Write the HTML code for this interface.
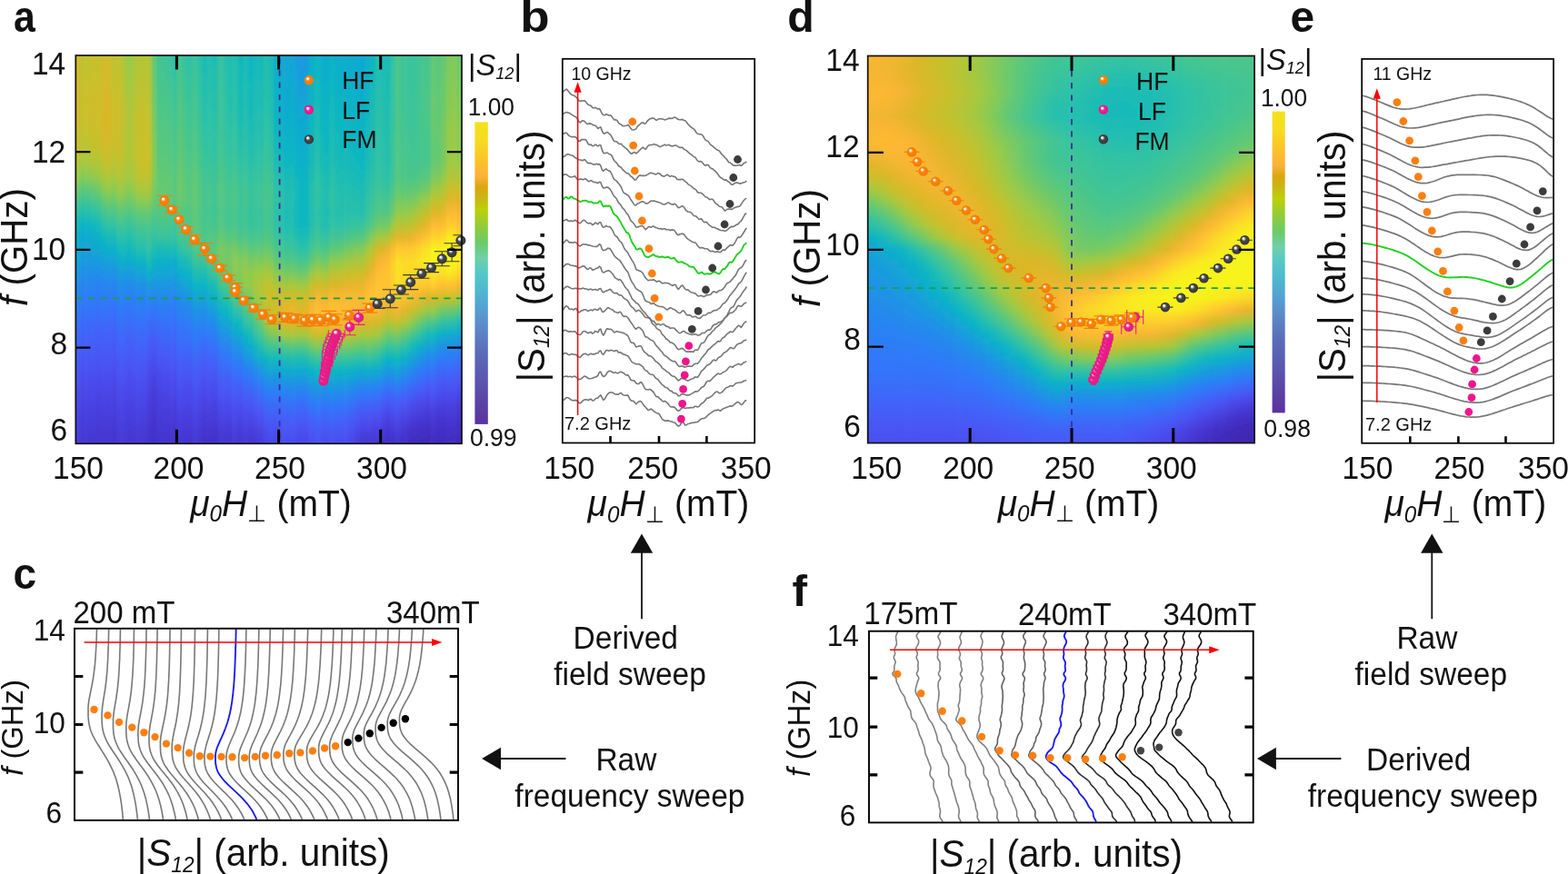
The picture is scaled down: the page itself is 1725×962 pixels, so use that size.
<!DOCTYPE html><html><head><meta charset="utf-8"><title>Figure</title><style>html,body{margin:0;padding:0;background:#fff}svg{display:block}text{font-family:"Liberation Sans",Arial,Helvetica,sans-serif;fill:#111}</style></head><body><svg width="1725" height="962" viewBox="0 0 1725 962"><rect width="1725" height="962" fill="#fff"/><defs><radialGradient id="go" cx="0.5" cy="0.5" r="0.5" fx="0.33" fy="0.3"><stop offset="0" stop-color="#ffffff"/><stop offset="0.2" stop-color="#fff0e0"/><stop offset="0.42" stop-color="#f88410"/><stop offset="1" stop-color="#f57a00"/></radialGradient><radialGradient id="gm" cx="0.5" cy="0.5" r="0.5" fx="0.33" fy="0.3"><stop offset="0" stop-color="#ffffff"/><stop offset="0.22" stop-color="#ffd8ec"/><stop offset="0.45" stop-color="#ee2290"/><stop offset="1" stop-color="#e2187f"/></radialGradient><radialGradient id="gk" cx="0.5" cy="0.5" r="0.5" fx="0.33" fy="0.3"><stop offset="0" stop-color="#ffffff"/><stop offset="0.22" stop-color="#d8d8d8"/><stop offset="0.45" stop-color="#4a4a4a"/><stop offset="1" stop-color="#333333"/></radialGradient><linearGradient id="cbar" x1="0" y1="0" x2="0" y2="1"><stop offset="0" stop-color="#f3e11c"/><stop offset="0.06" stop-color="#f6dc1f"/><stop offset="0.14" stop-color="#fdbe2a"/><stop offset="0.18" stop-color="#fbb13a"/><stop offset="0.215" stop-color="#dba60f"/><stop offset="0.25" stop-color="#c9b515"/><stop offset="0.29" stop-color="#bcd007"/><stop offset="0.35" stop-color="#8ecb3f"/><stop offset="0.4" stop-color="#6acb6a"/><stop offset="0.45" stop-color="#70d0a8"/><stop offset="0.5" stop-color="#55c8c8"/><stop offset="0.56" stop-color="#4fb6d0"/><stop offset="0.62" stop-color="#55a0d0"/><stop offset="0.68" stop-color="#5c88c8"/><stop offset="0.76" stop-color="#5a6cb8"/><stop offset="0.84" stop-color="#5a5ab0"/><stop offset="0.92" stop-color="#5b45a5"/><stop offset="1" stop-color="#5a32a0"/></linearGradient></defs>
<g id="panel-a"><defs><linearGradient id="ha0" x1="0" y1="0" x2="0" y2="1"><stop offset=".000" stop-color="#d0bc29"/><stop offset=".031" stop-color="#d1bc29"/><stop offset=".062" stop-color="#d2bb29"/><stop offset=".094" stop-color="#d4ba29"/><stop offset=".125" stop-color="#d5b929"/><stop offset=".156" stop-color="#d5ba29"/><stop offset=".188" stop-color="#d2bb29"/><stop offset=".219" stop-color="#cdbe2a"/><stop offset=".250" stop-color="#c4c12d"/><stop offset=".281" stop-color="#b2c538"/><stop offset=".312" stop-color="#98ca49"/><stop offset=".344" stop-color="#6ec96b"/><stop offset=".375" stop-color="#4ac68b"/><stop offset=".406" stop-color="#2cc1a8"/><stop offset=".438" stop-color="#13b8bd"/><stop offset=".469" stop-color="#0eb0c9"/><stop offset=".500" stop-color="#10abcf"/><stop offset=".531" stop-color="#15a2d8"/><stop offset=".562" stop-color="#1c97e2"/><stop offset=".594" stop-color="#238ceb"/><stop offset=".625" stop-color="#2883f1"/><stop offset=".656" stop-color="#2e7bf8"/><stop offset=".688" stop-color="#3473fa"/><stop offset=".719" stop-color="#3b6bf9"/><stop offset=".750" stop-color="#4164f8"/><stop offset=".781" stop-color="#445ef6"/><stop offset=".812" stop-color="#4758f4"/><stop offset=".844" stop-color="#4a52f2"/><stop offset=".875" stop-color="#494cec"/><stop offset=".906" stop-color="#4948e8"/><stop offset=".938" stop-color="#4843e3"/><stop offset=".969" stop-color="#483fde"/><stop offset="1.000" stop-color="#473cda"/></linearGradient><linearGradient id="ha1" x1="0" y1="0" x2="0" y2="1"><stop offset=".000" stop-color="#bdc331"/><stop offset=".031" stop-color="#bfc230"/><stop offset=".062" stop-color="#c1c22f"/><stop offset=".094" stop-color="#c4c12d"/><stop offset=".125" stop-color="#c6c12c"/><stop offset=".156" stop-color="#c6c12c"/><stop offset=".188" stop-color="#c2c22e"/><stop offset=".219" stop-color="#bcc332"/><stop offset=".250" stop-color="#b3c537"/><stop offset=".281" stop-color="#a1c942"/><stop offset=".312" stop-color="#84ca59"/><stop offset=".344" stop-color="#5dc879"/><stop offset=".375" stop-color="#3dc498"/><stop offset=".406" stop-color="#20bdb2"/><stop offset=".438" stop-color="#0db3c5"/><stop offset=".469" stop-color="#10aad0"/><stop offset=".500" stop-color="#15a2d7"/><stop offset=".531" stop-color="#1b98e0"/><stop offset=".562" stop-color="#228dea"/><stop offset=".594" stop-color="#2883f1"/><stop offset=".625" stop-color="#2e7bf8"/><stop offset=".656" stop-color="#3572f9"/><stop offset=".688" stop-color="#3b6af9"/><stop offset=".719" stop-color="#4263f8"/><stop offset=".750" stop-color="#455df6"/><stop offset=".781" stop-color="#4757f4"/><stop offset=".812" stop-color="#4a51f1"/><stop offset=".844" stop-color="#494beb"/><stop offset=".875" stop-color="#4946e6"/><stop offset=".906" stop-color="#4841e1"/><stop offset=".938" stop-color="#473ddc"/><stop offset=".969" stop-color="#463ad7"/><stop offset="1.000" stop-color="#4537d3"/></linearGradient><linearGradient id="ha2" x1="0" y1="0" x2="0" y2="1"><stop offset=".000" stop-color="#c1c22f"/><stop offset=".031" stop-color="#c3c12d"/><stop offset=".062" stop-color="#c6c12c"/><stop offset=".094" stop-color="#c8c02b"/><stop offset=".125" stop-color="#cabf2a"/><stop offset=".156" stop-color="#cabf2a"/><stop offset=".188" stop-color="#c6c12c"/><stop offset=".219" stop-color="#c0c22f"/><stop offset=".250" stop-color="#b7c435"/><stop offset=".281" stop-color="#a6c83f"/><stop offset=".312" stop-color="#8aca54"/><stop offset=".344" stop-color="#60c976"/><stop offset=".375" stop-color="#41c494"/><stop offset=".406" stop-color="#24beaf"/><stop offset=".438" stop-color="#0cb5c3"/><stop offset=".469" stop-color="#10abce"/><stop offset=".500" stop-color="#14a3d6"/><stop offset=".531" stop-color="#1b99e0"/><stop offset=".562" stop-color="#228dea"/><stop offset=".594" stop-color="#2884f1"/><stop offset=".625" stop-color="#2e7bf8"/><stop offset=".656" stop-color="#3473fa"/><stop offset=".688" stop-color="#3b6af9"/><stop offset=".719" stop-color="#4163f8"/><stop offset=".750" stop-color="#455df6"/><stop offset=".781" stop-color="#4757f4"/><stop offset=".812" stop-color="#4a52f2"/><stop offset=".844" stop-color="#494beb"/><stop offset=".875" stop-color="#4946e6"/><stop offset=".906" stop-color="#4841e1"/><stop offset=".938" stop-color="#473edc"/><stop offset=".969" stop-color="#463ad7"/><stop offset="1.000" stop-color="#4537d3"/></linearGradient><linearGradient id="ha3" x1="0" y1="0" x2="0" y2="1"><stop offset=".000" stop-color="#c8c02a"/><stop offset=".031" stop-color="#cabf2a"/><stop offset=".062" stop-color="#ccbf2a"/><stop offset=".094" stop-color="#cebe2a"/><stop offset=".125" stop-color="#cfbd29"/><stop offset=".156" stop-color="#d0bc29"/><stop offset=".188" stop-color="#cdbe2a"/><stop offset=".219" stop-color="#c8c02b"/><stop offset=".250" stop-color="#bfc230"/><stop offset=".281" stop-color="#adc63b"/><stop offset=".312" stop-color="#94ca4c"/><stop offset=".344" stop-color="#6ac96d"/><stop offset=".375" stop-color="#49c68d"/><stop offset=".406" stop-color="#2bc1a9"/><stop offset=".438" stop-color="#11b8be"/><stop offset=".469" stop-color="#0faecb"/><stop offset=".500" stop-color="#12a7d3"/><stop offset=".531" stop-color="#199bde"/><stop offset=".562" stop-color="#218fe9"/><stop offset=".594" stop-color="#2785f0"/><stop offset=".625" stop-color="#2d7cf7"/><stop offset=".656" stop-color="#3374fa"/><stop offset=".688" stop-color="#3a6bf9"/><stop offset=".719" stop-color="#4164f8"/><stop offset=".750" stop-color="#445ef6"/><stop offset=".781" stop-color="#4758f4"/><stop offset=".812" stop-color="#4a52f2"/><stop offset=".844" stop-color="#494cec"/><stop offset=".875" stop-color="#4947e7"/><stop offset=".906" stop-color="#4842e2"/><stop offset=".938" stop-color="#473edd"/><stop offset=".969" stop-color="#463ad8"/><stop offset="1.000" stop-color="#4538d4"/></linearGradient><linearGradient id="ha4" x1="0" y1="0" x2="0" y2="1"><stop offset=".000" stop-color="#c4c12d"/><stop offset=".031" stop-color="#c6c12c"/><stop offset=".062" stop-color="#c9c02a"/><stop offset=".094" stop-color="#cbbf2a"/><stop offset=".125" stop-color="#cdbe2a"/><stop offset=".156" stop-color="#cebe2a"/><stop offset=".188" stop-color="#ccbf2a"/><stop offset=".219" stop-color="#c7c02b"/><stop offset=".250" stop-color="#bec331"/><stop offset=".281" stop-color="#aec63a"/><stop offset=".312" stop-color="#97ca49"/><stop offset=".344" stop-color="#72c968"/><stop offset=".375" stop-color="#4fc687"/><stop offset=".406" stop-color="#31c2a4"/><stop offset=".438" stop-color="#17baba"/><stop offset=".469" stop-color="#0eb0c8"/><stop offset=".500" stop-color="#12a7d2"/><stop offset=".531" stop-color="#1a9adf"/><stop offset=".562" stop-color="#228dea"/><stop offset=".594" stop-color="#2982f2"/><stop offset=".625" stop-color="#2f79f9"/><stop offset=".656" stop-color="#3671f9"/><stop offset=".688" stop-color="#3d68f9"/><stop offset=".719" stop-color="#4360f7"/><stop offset=".750" stop-color="#465af5"/><stop offset=".781" stop-color="#4955f3"/><stop offset=".812" stop-color="#4a4fef"/><stop offset=".844" stop-color="#4949e9"/><stop offset=".875" stop-color="#4844e4"/><stop offset=".906" stop-color="#483fdf"/><stop offset=".938" stop-color="#473cda"/><stop offset=".969" stop-color="#4638d4"/><stop offset="1.000" stop-color="#4536d0"/></linearGradient><linearGradient id="ha5" x1="0" y1="0" x2="0" y2="1"><stop offset=".000" stop-color="#cfbd29"/><stop offset=".031" stop-color="#d1bc29"/><stop offset=".062" stop-color="#d3bb29"/><stop offset=".094" stop-color="#d4ba29"/><stop offset=".125" stop-color="#d6b929"/><stop offset=".156" stop-color="#d7b828"/><stop offset=".188" stop-color="#d6b929"/><stop offset=".219" stop-color="#d2bb29"/><stop offset=".250" stop-color="#cbbf2a"/><stop offset=".281" stop-color="#bdc331"/><stop offset=".312" stop-color="#a9c73d"/><stop offset=".344" stop-color="#89ca55"/><stop offset=".375" stop-color="#60c976"/><stop offset=".406" stop-color="#42c593"/><stop offset=".438" stop-color="#27bfad"/><stop offset=".469" stop-color="#0fb7bf"/><stop offset=".500" stop-color="#0fadcc"/><stop offset=".531" stop-color="#16a0d9"/><stop offset=".562" stop-color="#1f92e7"/><stop offset=".594" stop-color="#2786f0"/><stop offset=".625" stop-color="#2d7cf7"/><stop offset=".656" stop-color="#3474fa"/><stop offset=".688" stop-color="#3b6af9"/><stop offset=".719" stop-color="#4262f8"/><stop offset=".750" stop-color="#455cf6"/><stop offset=".781" stop-color="#4856f4"/><stop offset=".812" stop-color="#4a51f1"/><stop offset=".844" stop-color="#494beb"/><stop offset=".875" stop-color="#4946e6"/><stop offset=".906" stop-color="#4841e1"/><stop offset=".938" stop-color="#473ddb"/><stop offset=".969" stop-color="#4639d6"/><stop offset="1.000" stop-color="#4537d2"/></linearGradient><linearGradient id="ha6" x1="0" y1="0" x2="0" y2="1"><stop offset=".000" stop-color="#d2bb29"/><stop offset=".031" stop-color="#d4ba29"/><stop offset=".062" stop-color="#d6b929"/><stop offset=".094" stop-color="#d8b828"/><stop offset=".125" stop-color="#dab728"/><stop offset=".156" stop-color="#dbb728"/><stop offset=".188" stop-color="#dab728"/><stop offset=".219" stop-color="#d7b929"/><stop offset=".250" stop-color="#d0bc29"/><stop offset=".281" stop-color="#c5c12d"/><stop offset=".312" stop-color="#b3c537"/><stop offset=".344" stop-color="#98ca49"/><stop offset=".375" stop-color="#70c968"/><stop offset=".406" stop-color="#4ec688"/><stop offset=".438" stop-color="#31c2a4"/><stop offset=".469" stop-color="#19bab8"/><stop offset=".500" stop-color="#0eb0c9"/><stop offset=".531" stop-color="#15a3d7"/><stop offset=".562" stop-color="#1e93e5"/><stop offset=".594" stop-color="#2786f0"/><stop offset=".625" stop-color="#2d7cf7"/><stop offset=".656" stop-color="#3473fa"/><stop offset=".688" stop-color="#3c6af9"/><stop offset=".719" stop-color="#4261f8"/><stop offset=".750" stop-color="#455bf5"/><stop offset=".781" stop-color="#4856f3"/><stop offset=".812" stop-color="#4a50f0"/><stop offset=".844" stop-color="#494beb"/><stop offset=".875" stop-color="#4945e5"/><stop offset=".906" stop-color="#4840e0"/><stop offset=".938" stop-color="#473cdb"/><stop offset=".969" stop-color="#4639d5"/><stop offset="1.000" stop-color="#4536d1"/></linearGradient><linearGradient id="ha7" x1="0" y1="0" x2="0" y2="1"><stop offset=".000" stop-color="#bbc332"/><stop offset=".031" stop-color="#bec331"/><stop offset=".062" stop-color="#c1c22f"/><stop offset=".094" stop-color="#c5c12d"/><stop offset=".125" stop-color="#c8c02b"/><stop offset=".156" stop-color="#cabf2a"/><stop offset=".188" stop-color="#cabf2a"/><stop offset=".219" stop-color="#c8c02b"/><stop offset=".250" stop-color="#c0c22f"/><stop offset=".281" stop-color="#b6c536"/><stop offset=".312" stop-color="#a7c83f"/><stop offset=".344" stop-color="#8cca53"/><stop offset=".375" stop-color="#67c970"/><stop offset=".406" stop-color="#49c68d"/><stop offset=".438" stop-color="#2ec2a7"/><stop offset=".469" stop-color="#16b9ba"/><stop offset=".500" stop-color="#0eafca"/><stop offset=".531" stop-color="#16a0d9"/><stop offset=".562" stop-color="#2090e8"/><stop offset=".594" stop-color="#2982f2"/><stop offset=".625" stop-color="#3079fa"/><stop offset=".656" stop-color="#376ff9"/><stop offset=".688" stop-color="#3f66f8"/><stop offset=".719" stop-color="#445ef7"/><stop offset=".750" stop-color="#4758f4"/><stop offset=".781" stop-color="#4a53f2"/><stop offset=".812" stop-color="#494ded"/><stop offset=".844" stop-color="#4947e7"/><stop offset=".875" stop-color="#4842e2"/><stop offset=".906" stop-color="#473edc"/><stop offset=".938" stop-color="#463ad6"/><stop offset=".969" stop-color="#4536d1"/><stop offset="1.000" stop-color="#4434cd"/></linearGradient><linearGradient id="ha8" x1="0" y1="0" x2="0" y2="1"><stop offset=".000" stop-color="#c2c22e"/><stop offset=".031" stop-color="#c5c12d"/><stop offset=".062" stop-color="#c8c02b"/><stop offset=".094" stop-color="#cbbf2a"/><stop offset=".125" stop-color="#cebe2a"/><stop offset=".156" stop-color="#d0bd29"/><stop offset=".188" stop-color="#d0bc29"/><stop offset=".219" stop-color="#cebd29"/><stop offset=".250" stop-color="#cabf2a"/><stop offset=".281" stop-color="#c2c22e"/><stop offset=".312" stop-color="#b5c536"/><stop offset=".344" stop-color="#9fca43"/><stop offset=".375" stop-color="#7dc95f"/><stop offset=".406" stop-color="#59c87d"/><stop offset=".438" stop-color="#3fc497"/><stop offset=".469" stop-color="#28c0ac"/><stop offset=".500" stop-color="#12b8be"/><stop offset=".531" stop-color="#0fadcd"/><stop offset=".562" stop-color="#189cdc"/><stop offset=".594" stop-color="#228dea"/><stop offset=".625" stop-color="#2982f2"/><stop offset=".656" stop-color="#2f79f9"/><stop offset=".688" stop-color="#3770f9"/><stop offset=".719" stop-color="#3d68f9"/><stop offset=".750" stop-color="#4361f8"/><stop offset=".781" stop-color="#465af5"/><stop offset=".812" stop-color="#4954f3"/><stop offset=".844" stop-color="#4a4fef"/><stop offset=".875" stop-color="#4949e9"/><stop offset=".906" stop-color="#4844e4"/><stop offset=".938" stop-color="#483fdf"/><stop offset=".969" stop-color="#473cda"/><stop offset="1.000" stop-color="#4639d5"/></linearGradient><linearGradient id="ha9" x1="0" y1="0" x2="0" y2="1"><stop offset=".000" stop-color="#adc73b"/><stop offset=".031" stop-color="#b0c639"/><stop offset=".062" stop-color="#b4c537"/><stop offset=".094" stop-color="#b8c434"/><stop offset=".125" stop-color="#bdc332"/><stop offset=".156" stop-color="#c0c230"/><stop offset=".188" stop-color="#c0c22f"/><stop offset=".219" stop-color="#c0c230"/><stop offset=".250" stop-color="#bdc331"/><stop offset=".281" stop-color="#b7c435"/><stop offset=".312" stop-color="#adc73b"/><stop offset=".344" stop-color="#98ca49"/><stop offset=".375" stop-color="#78c962"/><stop offset=".406" stop-color="#57c87e"/><stop offset=".438" stop-color="#3fc497"/><stop offset=".469" stop-color="#2ac0aa"/><stop offset=".500" stop-color="#16b9ba"/><stop offset=".531" stop-color="#0eafcb"/><stop offset=".562" stop-color="#179edb"/><stop offset=".594" stop-color="#218ee9"/><stop offset=".625" stop-color="#2983f2"/><stop offset=".656" stop-color="#2f79f9"/><stop offset=".688" stop-color="#3670f9"/><stop offset=".719" stop-color="#3d69f9"/><stop offset=".750" stop-color="#4262f8"/><stop offset=".781" stop-color="#465bf5"/><stop offset=".812" stop-color="#4954f3"/><stop offset=".844" stop-color="#4a4fef"/><stop offset=".875" stop-color="#4949e9"/><stop offset=".906" stop-color="#4844e4"/><stop offset=".938" stop-color="#483fdf"/><stop offset=".969" stop-color="#473cd9"/><stop offset="1.000" stop-color="#4639d5"/></linearGradient><linearGradient id="ha10" x1="0" y1="0" x2="0" y2="1"><stop offset=".000" stop-color="#96ca4a"/><stop offset=".031" stop-color="#9bca47"/><stop offset=".062" stop-color="#a0ca43"/><stop offset=".094" stop-color="#a5c840"/><stop offset=".125" stop-color="#a9c73d"/><stop offset=".156" stop-color="#adc63b"/><stop offset=".188" stop-color="#afc63a"/><stop offset=".219" stop-color="#afc63a"/><stop offset=".250" stop-color="#aec63a"/><stop offset=".281" stop-color="#abc73c"/><stop offset=".312" stop-color="#a2c942"/><stop offset=".344" stop-color="#8cca52"/><stop offset=".375" stop-color="#6dc96b"/><stop offset=".406" stop-color="#50c785"/><stop offset=".438" stop-color="#38c39d"/><stop offset=".469" stop-color="#25beae"/><stop offset=".500" stop-color="#12b8bd"/><stop offset=".531" stop-color="#0fadcd"/><stop offset=".562" stop-color="#199bde"/><stop offset=".594" stop-color="#248aec"/><stop offset=".625" stop-color="#2c7ff5"/><stop offset=".656" stop-color="#3375fa"/><stop offset=".688" stop-color="#3a6cf9"/><stop offset=".719" stop-color="#4065f8"/><stop offset=".750" stop-color="#445ef7"/><stop offset=".781" stop-color="#4758f4"/><stop offset=".812" stop-color="#4a51f1"/><stop offset=".844" stop-color="#494beb"/><stop offset=".875" stop-color="#4946e6"/><stop offset=".906" stop-color="#4841e1"/><stop offset=".938" stop-color="#473cdb"/><stop offset=".969" stop-color="#4639d5"/><stop offset="1.000" stop-color="#4536d1"/></linearGradient><linearGradient id="ha11" x1="0" y1="0" x2="0" y2="1"><stop offset=".000" stop-color="#a4c940"/><stop offset=".031" stop-color="#a7c83e"/><stop offset=".062" stop-color="#acc73c"/><stop offset=".094" stop-color="#b0c639"/><stop offset=".125" stop-color="#b4c537"/><stop offset=".156" stop-color="#b8c434"/><stop offset=".188" stop-color="#b9c434"/><stop offset=".219" stop-color="#bac333"/><stop offset=".250" stop-color="#bac433"/><stop offset=".281" stop-color="#b7c435"/><stop offset=".312" stop-color="#aec63a"/><stop offset=".344" stop-color="#9bca47"/><stop offset=".375" stop-color="#7ac960"/><stop offset=".406" stop-color="#58c87e"/><stop offset=".438" stop-color="#40c496"/><stop offset=".469" stop-color="#2cc1a8"/><stop offset=".500" stop-color="#19bbb7"/><stop offset=".531" stop-color="#0eb0c9"/><stop offset=".562" stop-color="#179edb"/><stop offset=".594" stop-color="#228dea"/><stop offset=".625" stop-color="#2a81f3"/><stop offset=".656" stop-color="#3177fa"/><stop offset=".688" stop-color="#386ff9"/><stop offset=".719" stop-color="#3e67f8"/><stop offset=".750" stop-color="#4360f7"/><stop offset=".781" stop-color="#4659f5"/><stop offset=".812" stop-color="#4a53f2"/><stop offset=".844" stop-color="#494ded"/><stop offset=".875" stop-color="#4947e7"/><stop offset=".906" stop-color="#4842e2"/><stop offset=".938" stop-color="#473edc"/><stop offset=".969" stop-color="#463ad6"/><stop offset="1.000" stop-color="#4537d2"/></linearGradient><linearGradient id="ha12" x1="0" y1="0" x2="0" y2="1"><stop offset=".000" stop-color="#b4c537"/><stop offset=".031" stop-color="#b7c435"/><stop offset=".062" stop-color="#bac333"/><stop offset=".094" stop-color="#bec331"/><stop offset=".125" stop-color="#c2c22e"/><stop offset=".156" stop-color="#c5c12c"/><stop offset=".188" stop-color="#c7c02b"/><stop offset=".219" stop-color="#c8c02b"/><stop offset=".250" stop-color="#c9c02a"/><stop offset=".281" stop-color="#c6c12c"/><stop offset=".312" stop-color="#bec331"/><stop offset=".344" stop-color="#aac73d"/><stop offset=".375" stop-color="#8bca53"/><stop offset=".406" stop-color="#62c974"/><stop offset=".438" stop-color="#49c68c"/><stop offset=".469" stop-color="#36c3a0"/><stop offset=".500" stop-color="#23beb0"/><stop offset=".531" stop-color="#0db4c5"/><stop offset=".562" stop-color="#14a4d6"/><stop offset=".594" stop-color="#2091e7"/><stop offset=".625" stop-color="#2884f1"/><stop offset=".656" stop-color="#2e7bf8"/><stop offset=".688" stop-color="#3572f9"/><stop offset=".719" stop-color="#3b6af9"/><stop offset=".750" stop-color="#4163f8"/><stop offset=".781" stop-color="#455cf6"/><stop offset=".812" stop-color="#4855f3"/><stop offset=".844" stop-color="#4a4fef"/><stop offset=".875" stop-color="#494aea"/><stop offset=".906" stop-color="#4844e4"/><stop offset=".938" stop-color="#4840df"/><stop offset=".969" stop-color="#473bd9"/><stop offset="1.000" stop-color="#4638d4"/></linearGradient><linearGradient id="ha13" x1="0" y1="0" x2="0" y2="1"><stop offset=".000" stop-color="#b5c536"/><stop offset=".031" stop-color="#b7c435"/><stop offset=".062" stop-color="#bbc332"/><stop offset=".094" stop-color="#bfc230"/><stop offset=".125" stop-color="#c2c22e"/><stop offset=".156" stop-color="#c6c12c"/><stop offset=".188" stop-color="#c8c02b"/><stop offset=".219" stop-color="#cac02a"/><stop offset=".250" stop-color="#cabf2a"/><stop offset=".281" stop-color="#c9c02a"/><stop offset=".312" stop-color="#c2c22e"/><stop offset=".344" stop-color="#aec63a"/><stop offset=".375" stop-color="#8eca51"/><stop offset=".406" stop-color="#63c973"/><stop offset=".438" stop-color="#4ac68c"/><stop offset=".469" stop-color="#37c39f"/><stop offset=".500" stop-color="#24beaf"/><stop offset=".531" stop-color="#0db4c4"/><stop offset=".562" stop-color="#14a3d6"/><stop offset=".594" stop-color="#208fe8"/><stop offset=".625" stop-color="#2983f2"/><stop offset=".656" stop-color="#2f79f9"/><stop offset=".688" stop-color="#3671f9"/><stop offset=".719" stop-color="#3c69f9"/><stop offset=".750" stop-color="#4262f8"/><stop offset=".781" stop-color="#455bf5"/><stop offset=".812" stop-color="#4954f3"/><stop offset=".844" stop-color="#4a4eee"/><stop offset=".875" stop-color="#4948e8"/><stop offset=".906" stop-color="#4843e3"/><stop offset=".938" stop-color="#473edd"/><stop offset=".969" stop-color="#463ad7"/><stop offset="1.000" stop-color="#4537d2"/></linearGradient><linearGradient id="ha14" x1="0" y1="0" x2="0" y2="1"><stop offset=".000" stop-color="#b0c639"/><stop offset=".031" stop-color="#b3c537"/><stop offset=".062" stop-color="#b6c435"/><stop offset=".094" stop-color="#bac333"/><stop offset=".125" stop-color="#bec331"/><stop offset=".156" stop-color="#c1c22f"/><stop offset=".188" stop-color="#c4c12d"/><stop offset=".219" stop-color="#c6c12c"/><stop offset=".250" stop-color="#c7c12b"/><stop offset=".281" stop-color="#c5c12c"/><stop offset=".312" stop-color="#bec230"/><stop offset=".344" stop-color="#aac73c"/><stop offset=".375" stop-color="#8bca53"/><stop offset=".406" stop-color="#63c973"/><stop offset=".438" stop-color="#4cc68a"/><stop offset=".469" stop-color="#3dc499"/><stop offset=".500" stop-color="#31c2a4"/><stop offset=".531" stop-color="#1bbbb6"/><stop offset=".562" stop-color="#0eafca"/><stop offset=".594" stop-color="#199bde"/><stop offset=".625" stop-color="#2588ee"/><stop offset=".656" stop-color="#2f7af9"/><stop offset=".688" stop-color="#386ef9"/><stop offset=".719" stop-color="#4163f8"/><stop offset=".750" stop-color="#465af5"/><stop offset=".781" stop-color="#4a53f2"/><stop offset=".812" stop-color="#494beb"/><stop offset=".844" stop-color="#4945e5"/><stop offset=".875" stop-color="#4840df"/><stop offset=".906" stop-color="#473cda"/><stop offset=".938" stop-color="#4639d5"/><stop offset=".969" stop-color="#4535d0"/><stop offset="1.000" stop-color="#4433cd"/></linearGradient><linearGradient id="ha15" x1="0" y1="0" x2="0" y2="1"><stop offset=".000" stop-color="#62c974"/><stop offset=".031" stop-color="#66c971"/><stop offset=".062" stop-color="#6ac96d"/><stop offset=".094" stop-color="#6fc969"/><stop offset=".125" stop-color="#74c966"/><stop offset=".156" stop-color="#78c962"/><stop offset=".188" stop-color="#7cc95f"/><stop offset=".219" stop-color="#80ca5c"/><stop offset=".250" stop-color="#84ca59"/><stop offset=".281" stop-color="#86ca57"/><stop offset=".312" stop-color="#85ca58"/><stop offset=".344" stop-color="#7cc960"/><stop offset=".375" stop-color="#69c96f"/><stop offset=".406" stop-color="#53c783"/><stop offset=".438" stop-color="#41c594"/><stop offset=".469" stop-color="#32c2a3"/><stop offset=".500" stop-color="#1fbcb3"/><stop offset=".531" stop-color="#0cb5c3"/><stop offset=".562" stop-color="#11a9d1"/><stop offset=".594" stop-color="#1d95e3"/><stop offset=".625" stop-color="#2884f1"/><stop offset=".656" stop-color="#3276fa"/><stop offset=".688" stop-color="#3c6af9"/><stop offset=".719" stop-color="#4360f7"/><stop offset=".750" stop-color="#4757f4"/><stop offset=".781" stop-color="#4a4eee"/><stop offset=".812" stop-color="#4946e6"/><stop offset=".844" stop-color="#4840df"/><stop offset=".875" stop-color="#473bd9"/><stop offset=".906" stop-color="#4638d4"/><stop offset=".938" stop-color="#4535d0"/><stop offset=".969" stop-color="#4432cc"/><stop offset="1.000" stop-color="#4330c9"/></linearGradient><linearGradient id="ha16" x1="0" y1="0" x2="0" y2="1"><stop offset=".000" stop-color="#41c494"/><stop offset=".031" stop-color="#43c592"/><stop offset=".062" stop-color="#46c58f"/><stop offset=".094" stop-color="#4ac68c"/><stop offset=".125" stop-color="#4dc689"/><stop offset=".156" stop-color="#50c686"/><stop offset=".188" stop-color="#53c783"/><stop offset=".219" stop-color="#56c780"/><stop offset=".250" stop-color="#59c87d"/><stop offset=".281" stop-color="#5dc879"/><stop offset=".312" stop-color="#61c975"/><stop offset=".344" stop-color="#65c972"/><stop offset=".375" stop-color="#61c975"/><stop offset=".406" stop-color="#54c782"/><stop offset=".438" stop-color="#47c58f"/><stop offset=".469" stop-color="#36c39f"/><stop offset=".500" stop-color="#18bab8"/><stop offset=".531" stop-color="#0eb1c8"/><stop offset=".562" stop-color="#13a5d4"/><stop offset=".594" stop-color="#1c96e2"/><stop offset=".625" stop-color="#2688ee"/><stop offset=".656" stop-color="#2e7bf8"/><stop offset=".688" stop-color="#3670f9"/><stop offset=".719" stop-color="#3e67f8"/><stop offset=".750" stop-color="#445ef7"/><stop offset=".781" stop-color="#4856f3"/><stop offset=".812" stop-color="#494ded"/><stop offset=".844" stop-color="#4946e6"/><stop offset=".875" stop-color="#4841e1"/><stop offset=".906" stop-color="#473ddb"/><stop offset=".938" stop-color="#463ad7"/><stop offset=".969" stop-color="#4537d2"/><stop offset="1.000" stop-color="#4434cf"/></linearGradient><linearGradient id="ha17" x1="0" y1="0" x2="0" y2="1"><stop offset=".000" stop-color="#3fc496"/><stop offset=".031" stop-color="#42c593"/><stop offset=".062" stop-color="#46c590"/><stop offset=".094" stop-color="#49c68c"/><stop offset=".125" stop-color="#4dc689"/><stop offset=".156" stop-color="#50c785"/><stop offset=".188" stop-color="#54c782"/><stop offset=".219" stop-color="#56c77f"/><stop offset=".250" stop-color="#5ac87c"/><stop offset=".281" stop-color="#5dc879"/><stop offset=".312" stop-color="#62c974"/><stop offset=".344" stop-color="#66c971"/><stop offset=".375" stop-color="#62c974"/><stop offset=".406" stop-color="#55c781"/><stop offset=".438" stop-color="#48c58d"/><stop offset=".469" stop-color="#39c39c"/><stop offset=".500" stop-color="#1bbbb6"/><stop offset=".531" stop-color="#0db2c7"/><stop offset=".562" stop-color="#12a6d3"/><stop offset=".594" stop-color="#1c97e2"/><stop offset=".625" stop-color="#2588ee"/><stop offset=".656" stop-color="#2d7cf7"/><stop offset=".688" stop-color="#3572f9"/><stop offset=".719" stop-color="#3c69f9"/><stop offset=".750" stop-color="#4360f7"/><stop offset=".781" stop-color="#4758f4"/><stop offset=".812" stop-color="#4a50f0"/><stop offset=".844" stop-color="#4949e9"/><stop offset=".875" stop-color="#4843e3"/><stop offset=".906" stop-color="#483fde"/><stop offset=".938" stop-color="#463bd9"/><stop offset=".969" stop-color="#4537d3"/><stop offset="1.000" stop-color="#4435cf"/></linearGradient><linearGradient id="ha18" x1="0" y1="0" x2="0" y2="1"><stop offset=".000" stop-color="#39c39c"/><stop offset=".031" stop-color="#3cc499"/><stop offset=".062" stop-color="#40c495"/><stop offset=".094" stop-color="#45c591"/><stop offset=".125" stop-color="#49c68d"/><stop offset=".156" stop-color="#4dc689"/><stop offset=".188" stop-color="#50c786"/><stop offset=".219" stop-color="#53c783"/><stop offset=".250" stop-color="#56c77f"/><stop offset=".281" stop-color="#5ac87c"/><stop offset=".312" stop-color="#5ec977"/><stop offset=".344" stop-color="#62c974"/><stop offset=".375" stop-color="#5fc977"/><stop offset=".406" stop-color="#52c783"/><stop offset=".438" stop-color="#46c58f"/><stop offset=".469" stop-color="#38c39d"/><stop offset=".500" stop-color="#1cbbb6"/><stop offset=".531" stop-color="#0eb1c7"/><stop offset=".562" stop-color="#13a5d4"/><stop offset=".594" stop-color="#1d95e3"/><stop offset=".625" stop-color="#2687ef"/><stop offset=".656" stop-color="#2e7bf8"/><stop offset=".688" stop-color="#3572f9"/><stop offset=".719" stop-color="#3c69f9"/><stop offset=".750" stop-color="#4361f7"/><stop offset=".781" stop-color="#4759f5"/><stop offset=".812" stop-color="#4a51f1"/><stop offset=".844" stop-color="#494aea"/><stop offset=".875" stop-color="#4945e5"/><stop offset=".906" stop-color="#483fdf"/><stop offset=".938" stop-color="#463bd8"/><stop offset=".969" stop-color="#4537d2"/><stop offset="1.000" stop-color="#4434ce"/></linearGradient><linearGradient id="ha19" x1="0" y1="0" x2="0" y2="1"><stop offset=".000" stop-color="#2dc1a8"/><stop offset=".031" stop-color="#30c2a5"/><stop offset=".062" stop-color="#35c3a0"/><stop offset=".094" stop-color="#3ac49b"/><stop offset=".125" stop-color="#3fc496"/><stop offset=".156" stop-color="#44c592"/><stop offset=".188" stop-color="#47c58e"/><stop offset=".219" stop-color="#4ac68b"/><stop offset=".250" stop-color="#4ec688"/><stop offset=".281" stop-color="#52c784"/><stop offset=".312" stop-color="#56c77f"/><stop offset=".344" stop-color="#5ac87c"/><stop offset=".375" stop-color="#57c87e"/><stop offset=".406" stop-color="#4bc68a"/><stop offset=".438" stop-color="#40c495"/><stop offset=".469" stop-color="#33c3a2"/><stop offset=".500" stop-color="#18bab9"/><stop offset=".531" stop-color="#0eafca"/><stop offset=".562" stop-color="#15a1d8"/><stop offset=".594" stop-color="#2091e7"/><stop offset=".625" stop-color="#2983f2"/><stop offset=".656" stop-color="#3177fa"/><stop offset=".688" stop-color="#386ff9"/><stop offset=".719" stop-color="#3e67f8"/><stop offset=".750" stop-color="#435ff7"/><stop offset=".781" stop-color="#4758f4"/><stop offset=".812" stop-color="#4a50f0"/><stop offset=".844" stop-color="#494aea"/><stop offset=".875" stop-color="#4844e4"/><stop offset=".906" stop-color="#473edd"/><stop offset=".938" stop-color="#4639d6"/><stop offset=".969" stop-color="#4535cf"/><stop offset="1.000" stop-color="#4432ca"/></linearGradient><linearGradient id="ha20" x1="0" y1="0" x2="0" y2="1"><stop offset=".000" stop-color="#41c594"/><stop offset=".031" stop-color="#45c591"/><stop offset=".062" stop-color="#49c68c"/><stop offset=".094" stop-color="#4ec688"/><stop offset=".125" stop-color="#52c784"/><stop offset=".156" stop-color="#56c780"/><stop offset=".188" stop-color="#59c87c"/><stop offset=".219" stop-color="#5cc87a"/><stop offset=".250" stop-color="#5fc976"/><stop offset=".281" stop-color="#64c973"/><stop offset=".312" stop-color="#6ac96e"/><stop offset=".344" stop-color="#6fc96a"/><stop offset=".375" stop-color="#6bc96d"/><stop offset=".406" stop-color="#5dc879"/><stop offset=".438" stop-color="#53c783"/><stop offset=".469" stop-color="#49c68d"/><stop offset=".500" stop-color="#2ec2a6"/><stop offset=".531" stop-color="#14b9bc"/><stop offset=".562" stop-color="#0faecb"/><stop offset=".594" stop-color="#179fda"/><stop offset=".625" stop-color="#208fe8"/><stop offset=".656" stop-color="#2883f2"/><stop offset=".688" stop-color="#2e7bf8"/><stop offset=".719" stop-color="#3473fa"/><stop offset=".750" stop-color="#3c6af9"/><stop offset=".781" stop-color="#4361f8"/><stop offset=".812" stop-color="#465af5"/><stop offset=".844" stop-color="#4953f2"/><stop offset=".875" stop-color="#494ded"/><stop offset=".906" stop-color="#4946e6"/><stop offset=".938" stop-color="#4840e0"/><stop offset=".969" stop-color="#463bd9"/><stop offset="1.000" stop-color="#4537d3"/></linearGradient><linearGradient id="ha21" x1="0" y1="0" x2="0" y2="1"><stop offset=".000" stop-color="#35c3a0"/><stop offset=".031" stop-color="#38c39d"/><stop offset=".062" stop-color="#3cc499"/><stop offset=".094" stop-color="#40c495"/><stop offset=".125" stop-color="#44c591"/><stop offset=".156" stop-color="#48c58d"/><stop offset=".188" stop-color="#4cc68a"/><stop offset=".219" stop-color="#4fc686"/><stop offset=".250" stop-color="#53c783"/><stop offset=".281" stop-color="#57c87e"/><stop offset=".312" stop-color="#5cc87a"/><stop offset=".344" stop-color="#60c976"/><stop offset=".375" stop-color="#5fc977"/><stop offset=".406" stop-color="#55c780"/><stop offset=".438" stop-color="#4fc687"/><stop offset=".469" stop-color="#49c68d"/><stop offset=".500" stop-color="#33c3a2"/><stop offset=".531" stop-color="#19bbb7"/><stop offset=".562" stop-color="#0eb1c8"/><stop offset=".594" stop-color="#15a3d7"/><stop offset=".625" stop-color="#1f92e6"/><stop offset=".656" stop-color="#2885f1"/><stop offset=".688" stop-color="#2e7bf8"/><stop offset=".719" stop-color="#3572f9"/><stop offset=".750" stop-color="#3d69f9"/><stop offset=".781" stop-color="#435ff7"/><stop offset=".812" stop-color="#4758f4"/><stop offset=".844" stop-color="#4a51f1"/><stop offset=".875" stop-color="#494aea"/><stop offset=".906" stop-color="#4844e4"/><stop offset=".938" stop-color="#473edd"/><stop offset=".969" stop-color="#4639d6"/><stop offset="1.000" stop-color="#4535d0"/></linearGradient><linearGradient id="ha22" x1="0" y1="0" x2="0" y2="1"><stop offset=".000" stop-color="#2ec2a7"/><stop offset=".031" stop-color="#31c2a5"/><stop offset=".062" stop-color="#34c3a1"/><stop offset=".094" stop-color="#38c39d"/><stop offset=".125" stop-color="#3cc49a"/><stop offset=".156" stop-color="#3fc496"/><stop offset=".188" stop-color="#43c592"/><stop offset=".219" stop-color="#47c58e"/><stop offset=".250" stop-color="#4bc68a"/><stop offset=".281" stop-color="#50c786"/><stop offset=".312" stop-color="#55c781"/><stop offset=".344" stop-color="#5ac87c"/><stop offset=".375" stop-color="#59c87d"/><stop offset=".406" stop-color="#52c784"/><stop offset=".438" stop-color="#4fc687"/><stop offset=".469" stop-color="#4dc689"/><stop offset=".500" stop-color="#3bc49a"/><stop offset=".531" stop-color="#22bdb1"/><stop offset=".562" stop-color="#0db4c4"/><stop offset=".594" stop-color="#11a8d1"/><stop offset=".625" stop-color="#1c97e2"/><stop offset=".656" stop-color="#2588ee"/><stop offset=".688" stop-color="#2d7df6"/><stop offset=".719" stop-color="#3473fa"/><stop offset=".750" stop-color="#3c69f9"/><stop offset=".781" stop-color="#4360f7"/><stop offset=".812" stop-color="#4758f4"/><stop offset=".844" stop-color="#4a50f0"/><stop offset=".875" stop-color="#4949e9"/><stop offset=".906" stop-color="#4843e3"/><stop offset=".938" stop-color="#473ddc"/><stop offset=".969" stop-color="#4638d5"/><stop offset="1.000" stop-color="#4435cf"/></linearGradient><linearGradient id="ha23" x1="0" y1="0" x2="0" y2="1"><stop offset=".000" stop-color="#3bc49a"/><stop offset=".031" stop-color="#3ec498"/><stop offset=".062" stop-color="#40c495"/><stop offset=".094" stop-color="#43c592"/><stop offset=".125" stop-color="#46c58f"/><stop offset=".156" stop-color="#49c68c"/><stop offset=".188" stop-color="#4dc689"/><stop offset=".219" stop-color="#51c785"/><stop offset=".250" stop-color="#55c781"/><stop offset=".281" stop-color="#5ac87c"/><stop offset=".312" stop-color="#5fc977"/><stop offset=".344" stop-color="#64c972"/><stop offset=".375" stop-color="#65c972"/><stop offset=".406" stop-color="#5ec978"/><stop offset=".438" stop-color="#5ec878"/><stop offset=".469" stop-color="#60c976"/><stop offset=".500" stop-color="#52c784"/><stop offset=".531" stop-color="#38c39d"/><stop offset=".562" stop-color="#1ebcb3"/><stop offset=".594" stop-color="#0db3c6"/><stop offset=".625" stop-color="#13a5d4"/><stop offset=".656" stop-color="#1d94e4"/><stop offset=".688" stop-color="#2687ee"/><stop offset=".719" stop-color="#2d7df7"/><stop offset=".750" stop-color="#3572f9"/><stop offset=".781" stop-color="#3e67f8"/><stop offset=".812" stop-color="#445ef6"/><stop offset=".844" stop-color="#4856f4"/><stop offset=".875" stop-color="#4a4fef"/><stop offset=".906" stop-color="#4949e9"/><stop offset=".938" stop-color="#4842e2"/><stop offset=".969" stop-color="#473ddb"/><stop offset="1.000" stop-color="#4639d5"/></linearGradient><linearGradient id="ha24" x1="0" y1="0" x2="0" y2="1"><stop offset=".000" stop-color="#29c0ab"/><stop offset=".031" stop-color="#2bc1a9"/><stop offset=".062" stop-color="#2ec2a7"/><stop offset=".094" stop-color="#31c2a4"/><stop offset=".125" stop-color="#34c3a2"/><stop offset=".156" stop-color="#37c39f"/><stop offset=".188" stop-color="#3ac49b"/><stop offset=".219" stop-color="#3fc497"/><stop offset=".250" stop-color="#43c592"/><stop offset=".281" stop-color="#48c58d"/><stop offset=".312" stop-color="#4ec688"/><stop offset=".344" stop-color="#53c783"/><stop offset=".375" stop-color="#54c782"/><stop offset=".406" stop-color="#50c785"/><stop offset=".438" stop-color="#52c784"/><stop offset=".469" stop-color="#57c87e"/><stop offset=".500" stop-color="#4fc686"/><stop offset=".531" stop-color="#38c39d"/><stop offset=".562" stop-color="#1ebcb3"/><stop offset=".594" stop-color="#0db3c6"/><stop offset=".625" stop-color="#13a5d5"/><stop offset=".656" stop-color="#1e93e5"/><stop offset=".688" stop-color="#2785f0"/><stop offset=".719" stop-color="#2f79f9"/><stop offset=".750" stop-color="#386ef9"/><stop offset=".781" stop-color="#4163f8"/><stop offset=".812" stop-color="#465af5"/><stop offset=".844" stop-color="#4a52f2"/><stop offset=".875" stop-color="#494aea"/><stop offset=".906" stop-color="#4844e4"/><stop offset=".938" stop-color="#473edd"/><stop offset=".969" stop-color="#4638d5"/><stop offset="1.000" stop-color="#4435cf"/></linearGradient><linearGradient id="ha25" x1="0" y1="0" x2="0" y2="1"><stop offset=".000" stop-color="#1cbbb5"/><stop offset=".031" stop-color="#1ebcb3"/><stop offset=".062" stop-color="#21bdb1"/><stop offset=".094" stop-color="#24beaf"/><stop offset=".125" stop-color="#27bfad"/><stop offset=".156" stop-color="#2ac0aa"/><stop offset=".188" stop-color="#2dc1a7"/><stop offset=".219" stop-color="#31c2a4"/><stop offset=".250" stop-color="#35c3a0"/><stop offset=".281" stop-color="#3ac49b"/><stop offset=".312" stop-color="#40c495"/><stop offset=".344" stop-color="#46c590"/><stop offset=".375" stop-color="#47c58e"/><stop offset=".406" stop-color="#44c592"/><stop offset=".438" stop-color="#47c58f"/><stop offset=".469" stop-color="#4fc686"/><stop offset=".500" stop-color="#4ec688"/><stop offset=".531" stop-color="#3ac49b"/><stop offset=".562" stop-color="#21bdb1"/><stop offset=".594" stop-color="#0db4c4"/><stop offset=".625" stop-color="#13a6d4"/><stop offset=".656" stop-color="#1e93e5"/><stop offset=".688" stop-color="#2885f1"/><stop offset=".719" stop-color="#3078fa"/><stop offset=".750" stop-color="#3a6bf9"/><stop offset=".781" stop-color="#4360f7"/><stop offset=".812" stop-color="#4857f4"/><stop offset=".844" stop-color="#4a4eee"/><stop offset=".875" stop-color="#4946e6"/><stop offset=".906" stop-color="#4840df"/><stop offset=".938" stop-color="#463ad7"/><stop offset=".969" stop-color="#4435cf"/><stop offset="1.000" stop-color="#4331c9"/></linearGradient><linearGradient id="ha26" x1="0" y1="0" x2="0" y2="1"><stop offset=".000" stop-color="#22beb0"/><stop offset=".031" stop-color="#24beaf"/><stop offset=".062" stop-color="#27bfad"/><stop offset=".094" stop-color="#29c0ab"/><stop offset=".125" stop-color="#2cc1a9"/><stop offset=".156" stop-color="#2ec2a7"/><stop offset=".188" stop-color="#31c2a4"/><stop offset=".219" stop-color="#34c3a1"/><stop offset=".250" stop-color="#37c39e"/><stop offset=".281" stop-color="#3cc499"/><stop offset=".312" stop-color="#42c593"/><stop offset=".344" stop-color="#48c58e"/><stop offset=".375" stop-color="#49c68d"/><stop offset=".406" stop-color="#46c590"/><stop offset=".438" stop-color="#49c68c"/><stop offset=".469" stop-color="#55c781"/><stop offset=".500" stop-color="#59c87d"/><stop offset=".531" stop-color="#49c68c"/><stop offset=".562" stop-color="#31c2a4"/><stop offset=".594" stop-color="#16b9ba"/><stop offset=".625" stop-color="#0faecc"/><stop offset=".656" stop-color="#199cdd"/><stop offset=".688" stop-color="#238beb"/><stop offset=".719" stop-color="#2c7df6"/><stop offset=".750" stop-color="#3670f9"/><stop offset=".781" stop-color="#4064f8"/><stop offset=".812" stop-color="#465af5"/><stop offset=".844" stop-color="#4a51f1"/><stop offset=".875" stop-color="#4949e9"/><stop offset=".906" stop-color="#4842e2"/><stop offset=".938" stop-color="#473bd9"/><stop offset=".969" stop-color="#4536d0"/><stop offset="1.000" stop-color="#4331ca"/></linearGradient><linearGradient id="ha27" x1="0" y1="0" x2="0" y2="1"><stop offset=".000" stop-color="#1ebcb4"/><stop offset=".031" stop-color="#20bdb2"/><stop offset=".062" stop-color="#22beb0"/><stop offset=".094" stop-color="#25beae"/><stop offset=".125" stop-color="#27bfac"/><stop offset=".156" stop-color="#29c0aa"/><stop offset=".188" stop-color="#2cc1a9"/><stop offset=".219" stop-color="#2ec2a7"/><stop offset=".250" stop-color="#31c2a4"/><stop offset=".281" stop-color="#36c3a0"/><stop offset=".312" stop-color="#3cc49a"/><stop offset=".344" stop-color="#41c494"/><stop offset=".375" stop-color="#43c593"/><stop offset=".406" stop-color="#40c496"/><stop offset=".438" stop-color="#44c591"/><stop offset=".469" stop-color="#53c783"/><stop offset=".500" stop-color="#5dc878"/><stop offset=".531" stop-color="#51c784"/><stop offset=".562" stop-color="#39c39c"/><stop offset=".594" stop-color="#1ebcb4"/><stop offset=".625" stop-color="#0eb1c8"/><stop offset=".656" stop-color="#16a0d9"/><stop offset=".688" stop-color="#218ee9"/><stop offset=".719" stop-color="#2b7ff5"/><stop offset=".750" stop-color="#3671f9"/><stop offset=".781" stop-color="#4064f8"/><stop offset=".812" stop-color="#465af5"/><stop offset=".844" stop-color="#4a50f0"/><stop offset=".875" stop-color="#4948e8"/><stop offset=".906" stop-color="#4840e0"/><stop offset=".938" stop-color="#463ad7"/><stop offset=".969" stop-color="#4434ce"/><stop offset="1.000" stop-color="#4330c7"/></linearGradient><linearGradient id="ha28" x1="0" y1="0" x2="0" y2="1"><stop offset=".000" stop-color="#35c3a0"/><stop offset=".031" stop-color="#37c39e"/><stop offset=".062" stop-color="#39c39c"/><stop offset=".094" stop-color="#3bc49a"/><stop offset=".125" stop-color="#3dc499"/><stop offset=".156" stop-color="#3fc497"/><stop offset=".188" stop-color="#40c495"/><stop offset=".219" stop-color="#42c593"/><stop offset=".250" stop-color="#45c591"/><stop offset=".281" stop-color="#49c68d"/><stop offset=".312" stop-color="#4ec687"/><stop offset=".344" stop-color="#54c782"/><stop offset=".375" stop-color="#55c781"/><stop offset=".406" stop-color="#51c784"/><stop offset=".438" stop-color="#56c780"/><stop offset=".469" stop-color="#66c970"/><stop offset=".500" stop-color="#7cc95f"/><stop offset=".531" stop-color="#71c968"/><stop offset=".562" stop-color="#57c77f"/><stop offset=".594" stop-color="#3cc499"/><stop offset=".625" stop-color="#1fbcb3"/><stop offset=".656" stop-color="#0eb1c8"/><stop offset=".688" stop-color="#16a1d9"/><stop offset=".719" stop-color="#218fe9"/><stop offset=".750" stop-color="#2b80f4"/><stop offset=".781" stop-color="#3572f9"/><stop offset=".812" stop-color="#3f65f8"/><stop offset=".844" stop-color="#465bf5"/><stop offset=".875" stop-color="#4a52f2"/><stop offset=".906" stop-color="#494aea"/><stop offset=".938" stop-color="#4842e2"/><stop offset=".969" stop-color="#463bd8"/><stop offset="1.000" stop-color="#4536d1"/></linearGradient><linearGradient id="ha29" x1="0" y1="0" x2="0" y2="1"><stop offset=".000" stop-color="#28c0ac"/><stop offset=".031" stop-color="#2ac0aa"/><stop offset=".062" stop-color="#2cc1a9"/><stop offset=".094" stop-color="#2ec1a7"/><stop offset=".125" stop-color="#30c2a5"/><stop offset=".156" stop-color="#32c2a3"/><stop offset=".188" stop-color="#34c3a1"/><stop offset=".219" stop-color="#37c39e"/><stop offset=".250" stop-color="#3ac49b"/><stop offset=".281" stop-color="#3fc496"/><stop offset=".312" stop-color="#45c590"/><stop offset=".344" stop-color="#4bc68a"/><stop offset=".375" stop-color="#4dc689"/><stop offset=".406" stop-color="#49c68c"/><stop offset=".438" stop-color="#4dc689"/><stop offset=".469" stop-color="#5cc87a"/><stop offset=".500" stop-color="#74c966"/><stop offset=".531" stop-color="#73c966"/><stop offset=".562" stop-color="#5fc977"/><stop offset=".594" stop-color="#48c58e"/><stop offset=".625" stop-color="#2ac0aa"/><stop offset=".656" stop-color="#0cb6c2"/><stop offset=".688" stop-color="#12a7d2"/><stop offset=".719" stop-color="#1d94e4"/><stop offset=".750" stop-color="#2884f1"/><stop offset=".781" stop-color="#3275fa"/><stop offset=".812" stop-color="#3e67f8"/><stop offset=".844" stop-color="#455cf6"/><stop offset=".875" stop-color="#4a52f2"/><stop offset=".906" stop-color="#494aea"/><stop offset=".938" stop-color="#4841e1"/><stop offset=".969" stop-color="#463ad7"/><stop offset="1.000" stop-color="#4535d0"/></linearGradient><linearGradient id="ha30" x1="0" y1="0" x2="0" y2="1"><stop offset=".000" stop-color="#1fbdb3"/><stop offset=".031" stop-color="#21bdb1"/><stop offset=".062" stop-color="#23beb0"/><stop offset=".094" stop-color="#25bfae"/><stop offset=".125" stop-color="#27bfac"/><stop offset=".156" stop-color="#2ac0aa"/><stop offset=".188" stop-color="#2dc1a8"/><stop offset=".219" stop-color="#30c2a5"/><stop offset=".250" stop-color="#34c3a1"/><stop offset=".281" stop-color="#3ac39c"/><stop offset=".312" stop-color="#40c495"/><stop offset=".344" stop-color="#46c58f"/><stop offset=".375" stop-color="#48c58d"/><stop offset=".406" stop-color="#45c591"/><stop offset=".438" stop-color="#48c58e"/><stop offset=".469" stop-color="#57c77f"/><stop offset=".500" stop-color="#70c969"/><stop offset=".531" stop-color="#7ac961"/><stop offset=".562" stop-color="#6dc96b"/><stop offset=".594" stop-color="#56c77f"/><stop offset=".625" stop-color="#39c39c"/><stop offset=".656" stop-color="#19bbb7"/><stop offset=".688" stop-color="#0faecb"/><stop offset=".719" stop-color="#199cdd"/><stop offset=".750" stop-color="#2589ed"/><stop offset=".781" stop-color="#2f7af9"/><stop offset=".812" stop-color="#3b6bf9"/><stop offset=".844" stop-color="#445ef6"/><stop offset=".875" stop-color="#4954f3"/><stop offset=".906" stop-color="#494beb"/><stop offset=".938" stop-color="#4842e2"/><stop offset=".969" stop-color="#463bd8"/><stop offset="1.000" stop-color="#4535d0"/></linearGradient><linearGradient id="ha31" x1="0" y1="0" x2="0" y2="1"><stop offset=".000" stop-color="#24beaf"/><stop offset=".031" stop-color="#25bfae"/><stop offset=".062" stop-color="#27bfac"/><stop offset=".094" stop-color="#29c0ab"/><stop offset=".125" stop-color="#2bc1a9"/><stop offset=".156" stop-color="#2dc1a8"/><stop offset=".188" stop-color="#31c2a5"/><stop offset=".219" stop-color="#35c3a1"/><stop offset=".250" stop-color="#39c39c"/><stop offset=".281" stop-color="#3fc497"/><stop offset=".312" stop-color="#46c590"/><stop offset=".344" stop-color="#4cc68a"/><stop offset=".375" stop-color="#4ec688"/><stop offset=".406" stop-color="#4ac68b"/><stop offset=".438" stop-color="#4cc689"/><stop offset=".469" stop-color="#5ac87b"/><stop offset=".500" stop-color="#7ac961"/><stop offset=".531" stop-color="#8eca51"/><stop offset=".562" stop-color="#8aca54"/><stop offset=".594" stop-color="#73c967"/><stop offset=".625" stop-color="#50c786"/><stop offset=".656" stop-color="#2ec2a7"/><stop offset=".688" stop-color="#0fb7c0"/><stop offset=".719" stop-color="#11a8d2"/><stop offset=".750" stop-color="#1e94e5"/><stop offset=".781" stop-color="#2983f2"/><stop offset=".812" stop-color="#3473fa"/><stop offset=".844" stop-color="#4064f8"/><stop offset=".875" stop-color="#4659f5"/><stop offset=".906" stop-color="#4a50f0"/><stop offset=".938" stop-color="#4947e7"/><stop offset=".969" stop-color="#483fde"/><stop offset="1.000" stop-color="#4639d5"/></linearGradient><linearGradient id="ha32" x1="0" y1="0" x2="0" y2="1"><stop offset=".000" stop-color="#10b8be"/><stop offset=".031" stop-color="#12b8bd"/><stop offset=".062" stop-color="#14b9bb"/><stop offset=".094" stop-color="#17baba"/><stop offset=".125" stop-color="#19bab8"/><stop offset=".156" stop-color="#1bbbb6"/><stop offset=".188" stop-color="#1fbdb2"/><stop offset=".219" stop-color="#24beaf"/><stop offset=".250" stop-color="#29c0ab"/><stop offset=".281" stop-color="#2fc2a6"/><stop offset=".312" stop-color="#36c39f"/><stop offset=".344" stop-color="#3dc498"/><stop offset=".375" stop-color="#3fc496"/><stop offset=".406" stop-color="#3cc49a"/><stop offset=".438" stop-color="#3ec498"/><stop offset=".469" stop-color="#4cc68a"/><stop offset=".500" stop-color="#67c970"/><stop offset=".531" stop-color="#81ca5b"/><stop offset=".562" stop-color="#87ca57"/><stop offset=".594" stop-color="#77c963"/><stop offset=".625" stop-color="#56c780"/><stop offset=".656" stop-color="#35c3a0"/><stop offset=".688" stop-color="#16b9ba"/><stop offset=".719" stop-color="#0facce"/><stop offset=".750" stop-color="#1c97e1"/><stop offset=".781" stop-color="#2884f1"/><stop offset=".812" stop-color="#3474fa"/><stop offset=".844" stop-color="#4164f8"/><stop offset=".875" stop-color="#4758f4"/><stop offset=".906" stop-color="#4a4eee"/><stop offset=".938" stop-color="#4844e4"/><stop offset=".969" stop-color="#473cd9"/><stop offset="1.000" stop-color="#4536d0"/></linearGradient><linearGradient id="ha33" x1="0" y1="0" x2="0" y2="1"><stop offset=".000" stop-color="#1cbbb6"/><stop offset=".031" stop-color="#1dbcb4"/><stop offset=".062" stop-color="#1fbdb3"/><stop offset=".094" stop-color="#21bdb1"/><stop offset=".125" stop-color="#23beaf"/><stop offset=".156" stop-color="#26bfad"/><stop offset=".188" stop-color="#29c0ab"/><stop offset=".219" stop-color="#2dc1a7"/><stop offset=".250" stop-color="#32c2a3"/><stop offset=".281" stop-color="#37c39e"/><stop offset=".312" stop-color="#3ec497"/><stop offset=".344" stop-color="#44c591"/><stop offset=".375" stop-color="#46c58f"/><stop offset=".406" stop-color="#42c593"/><stop offset=".438" stop-color="#44c591"/><stop offset=".469" stop-color="#52c784"/><stop offset=".500" stop-color="#6ec96b"/><stop offset=".531" stop-color="#8bca54"/><stop offset=".562" stop-color="#98ca49"/><stop offset=".594" stop-color="#92ca4e"/><stop offset=".625" stop-color="#71c968"/><stop offset=".656" stop-color="#4fc687"/><stop offset=".688" stop-color="#2fc2a6"/><stop offset=".719" stop-color="#10b7bf"/><stop offset=".750" stop-color="#11a8d1"/><stop offset=".781" stop-color="#1e93e6"/><stop offset=".812" stop-color="#2b7ff4"/><stop offset=".844" stop-color="#386ef9"/><stop offset=".875" stop-color="#435ff7"/><stop offset=".906" stop-color="#4954f3"/><stop offset=".938" stop-color="#4949e9"/><stop offset=".969" stop-color="#483fdf"/><stop offset="1.000" stop-color="#4639d5"/></linearGradient><linearGradient id="ha34" x1="0" y1="0" x2="0" y2="1"><stop offset=".000" stop-color="#0db6c1"/><stop offset=".031" stop-color="#0fb7c0"/><stop offset=".062" stop-color="#11b8be"/><stop offset=".094" stop-color="#14b9bc"/><stop offset=".125" stop-color="#16b9ba"/><stop offset=".156" stop-color="#19bab8"/><stop offset=".188" stop-color="#1cbcb5"/><stop offset=".219" stop-color="#20bdb2"/><stop offset=".250" stop-color="#24beae"/><stop offset=".281" stop-color="#2ac0aa"/><stop offset=".312" stop-color="#31c2a4"/><stop offset=".344" stop-color="#37c39e"/><stop offset=".375" stop-color="#39c39d"/><stop offset=".406" stop-color="#35c3a0"/><stop offset=".438" stop-color="#37c39e"/><stop offset=".469" stop-color="#45c591"/><stop offset=".500" stop-color="#5dc879"/><stop offset=".531" stop-color="#7ac961"/><stop offset=".562" stop-color="#8fca50"/><stop offset=".594" stop-color="#94ca4c"/><stop offset=".625" stop-color="#7bc960"/><stop offset=".656" stop-color="#58c87e"/><stop offset=".688" stop-color="#3ac49b"/><stop offset=".719" stop-color="#1bbbb6"/><stop offset=".750" stop-color="#0faecc"/><stop offset=".781" stop-color="#1b98e1"/><stop offset=".812" stop-color="#2982f2"/><stop offset=".844" stop-color="#3770f9"/><stop offset=".875" stop-color="#435ff7"/><stop offset=".906" stop-color="#4a53f2"/><stop offset=".938" stop-color="#4947e7"/><stop offset=".969" stop-color="#473cdb"/><stop offset="1.000" stop-color="#4535d0"/></linearGradient><linearGradient id="ha35" x1="0" y1="0" x2="0" y2="1"><stop offset=".000" stop-color="#16b9ba"/><stop offset=".031" stop-color="#18bab9"/><stop offset=".062" stop-color="#1abbb7"/><stop offset=".094" stop-color="#1cbcb5"/><stop offset=".125" stop-color="#1ebcb3"/><stop offset=".156" stop-color="#21bdb1"/><stop offset=".188" stop-color="#24beaf"/><stop offset=".219" stop-color="#27bfac"/><stop offset=".250" stop-color="#2bc1a9"/><stop offset=".281" stop-color="#30c2a5"/><stop offset=".312" stop-color="#36c39f"/><stop offset=".344" stop-color="#3cc499"/><stop offset=".375" stop-color="#3ec498"/><stop offset=".406" stop-color="#3ac49b"/><stop offset=".438" stop-color="#3cc499"/><stop offset=".469" stop-color="#49c68d"/><stop offset=".500" stop-color="#60c976"/><stop offset=".531" stop-color="#81ca5b"/><stop offset=".562" stop-color="#9eca44"/><stop offset=".594" stop-color="#aac73d"/><stop offset=".625" stop-color="#9aca47"/><stop offset=".656" stop-color="#77c963"/><stop offset=".688" stop-color="#53c783"/><stop offset=".719" stop-color="#33c2a3"/><stop offset=".750" stop-color="#11b8be"/><stop offset=".781" stop-color="#13a6d4"/><stop offset=".812" stop-color="#228dea"/><stop offset=".844" stop-color="#2f79f9"/><stop offset=".875" stop-color="#3e67f8"/><stop offset=".906" stop-color="#4758f4"/><stop offset=".938" stop-color="#494beb"/><stop offset=".969" stop-color="#4840df"/><stop offset="1.000" stop-color="#4538d4"/></linearGradient><linearGradient id="ha36" x1="0" y1="0" x2="0" y2="1"><stop offset=".000" stop-color="#15b9ba"/><stop offset=".031" stop-color="#17bab9"/><stop offset=".062" stop-color="#19bbb7"/><stop offset=".094" stop-color="#1cbbb5"/><stop offset=".125" stop-color="#1ebcb4"/><stop offset=".156" stop-color="#21bdb2"/><stop offset=".188" stop-color="#24beaf"/><stop offset=".219" stop-color="#27bfac"/><stop offset=".250" stop-color="#2bc1a9"/><stop offset=".281" stop-color="#30c2a5"/><stop offset=".312" stop-color="#36c39f"/><stop offset=".344" stop-color="#3cc499"/><stop offset=".375" stop-color="#3dc498"/><stop offset=".406" stop-color="#3ac39c"/><stop offset=".438" stop-color="#3cc49a"/><stop offset=".469" stop-color="#48c58d"/><stop offset=".500" stop-color="#5ec878"/><stop offset=".531" stop-color="#7fc95d"/><stop offset=".562" stop-color="#a0ca43"/><stop offset=".594" stop-color="#b2c538"/><stop offset=".625" stop-color="#acc73c"/><stop offset=".656" stop-color="#94ca4c"/><stop offset=".688" stop-color="#6cc96c"/><stop offset=".719" stop-color="#47c58f"/><stop offset=".750" stop-color="#21bdb1"/><stop offset=".781" stop-color="#0faecc"/><stop offset=".812" stop-color="#1d95e3"/><stop offset=".844" stop-color="#2b80f4"/><stop offset=".875" stop-color="#3a6cf9"/><stop offset=".906" stop-color="#455cf6"/><stop offset=".938" stop-color="#4a4fef"/><stop offset=".969" stop-color="#4843e3"/><stop offset="1.000" stop-color="#463bd8"/></linearGradient><linearGradient id="ha37" x1="0" y1="0" x2="0" y2="1"><stop offset=".000" stop-color="#23beb0"/><stop offset=".031" stop-color="#25beae"/><stop offset=".062" stop-color="#26bfad"/><stop offset=".094" stop-color="#28c0ab"/><stop offset=".125" stop-color="#2ac0aa"/><stop offset=".156" stop-color="#2dc1a8"/><stop offset=".188" stop-color="#30c2a5"/><stop offset=".219" stop-color="#33c3a2"/><stop offset=".250" stop-color="#37c39e"/><stop offset=".281" stop-color="#3cc499"/><stop offset=".312" stop-color="#43c593"/><stop offset=".344" stop-color="#48c58d"/><stop offset=".375" stop-color="#4ac68c"/><stop offset=".406" stop-color="#46c590"/><stop offset=".438" stop-color="#47c58e"/><stop offset=".469" stop-color="#53c782"/><stop offset=".500" stop-color="#69c96e"/><stop offset=".531" stop-color="#8bca53"/><stop offset=".562" stop-color="#abc73c"/><stop offset=".594" stop-color="#c2c22e"/><stop offset=".625" stop-color="#c6c12c"/><stop offset=".656" stop-color="#b9c434"/><stop offset=".688" stop-color="#9bca46"/><stop offset=".719" stop-color="#64c972"/><stop offset=".750" stop-color="#37c39e"/><stop offset=".781" stop-color="#0db6c1"/><stop offset=".812" stop-color="#15a2d7"/><stop offset=".844" stop-color="#238bec"/><stop offset=".875" stop-color="#3078fa"/><stop offset=".906" stop-color="#3f66f8"/><stop offset=".938" stop-color="#4759f5"/><stop offset=".969" stop-color="#494ded"/><stop offset="1.000" stop-color="#4844e4"/></linearGradient><linearGradient id="ha38" x1="0" y1="0" x2="0" y2="1"><stop offset=".000" stop-color="#1bbbb6"/><stop offset=".031" stop-color="#1dbcb5"/><stop offset=".062" stop-color="#1fbcb3"/><stop offset=".094" stop-color="#21bdb1"/><stop offset=".125" stop-color="#23beb0"/><stop offset=".156" stop-color="#25bfae"/><stop offset=".188" stop-color="#29c0ab"/><stop offset=".219" stop-color="#2dc1a8"/><stop offset=".250" stop-color="#31c2a4"/><stop offset=".281" stop-color="#37c39e"/><stop offset=".312" stop-color="#3dc498"/><stop offset=".344" stop-color="#44c592"/><stop offset=".375" stop-color="#45c590"/><stop offset=".406" stop-color="#41c594"/><stop offset=".438" stop-color="#43c592"/><stop offset=".469" stop-color="#4fc687"/><stop offset=".500" stop-color="#61c975"/><stop offset=".531" stop-color="#82ca5b"/><stop offset=".562" stop-color="#a5c840"/><stop offset=".594" stop-color="#c1c22f"/><stop offset=".625" stop-color="#cebd29"/><stop offset=".656" stop-color="#ccbe2a"/><stop offset=".688" stop-color="#b3c537"/><stop offset=".719" stop-color="#7dc95f"/><stop offset=".750" stop-color="#42c593"/><stop offset=".781" stop-color="#15b9bb"/><stop offset=".812" stop-color="#12a7d2"/><stop offset=".844" stop-color="#218fe9"/><stop offset=".875" stop-color="#2e7bf7"/><stop offset=".906" stop-color="#3b6af9"/><stop offset=".938" stop-color="#455cf6"/><stop offset=".969" stop-color="#4a51f1"/><stop offset="1.000" stop-color="#4949e9"/></linearGradient><linearGradient id="ha39" x1="0" y1="0" x2="0" y2="1"><stop offset=".000" stop-color="#0eafca"/><stop offset=".031" stop-color="#0eb0c9"/><stop offset=".062" stop-color="#0eb1c8"/><stop offset=".094" stop-color="#0db2c6"/><stop offset=".125" stop-color="#0db4c5"/><stop offset=".156" stop-color="#0cb5c3"/><stop offset=".188" stop-color="#0fb7c0"/><stop offset=".219" stop-color="#13b9bc"/><stop offset=".250" stop-color="#19bab8"/><stop offset=".281" stop-color="#1fbdb3"/><stop offset=".312" stop-color="#27bfad"/><stop offset=".344" stop-color="#2ec1a7"/><stop offset=".375" stop-color="#30c2a5"/><stop offset=".406" stop-color="#2cc1a8"/><stop offset=".438" stop-color="#2fc2a6"/><stop offset=".469" stop-color="#3bc49b"/><stop offset=".500" stop-color="#4cc68a"/><stop offset=".531" stop-color="#63c973"/><stop offset=".562" stop-color="#8aca54"/><stop offset=".594" stop-color="#afc63a"/><stop offset=".625" stop-color="#cac02a"/><stop offset=".656" stop-color="#cfbd29"/><stop offset=".688" stop-color="#bcc332"/><stop offset=".719" stop-color="#84ca59"/><stop offset=".750" stop-color="#42c593"/><stop offset=".781" stop-color="#12b8bd"/><stop offset=".812" stop-color="#13a5d5"/><stop offset=".844" stop-color="#228ceb"/><stop offset=".875" stop-color="#3079fa"/><stop offset=".906" stop-color="#3e67f8"/><stop offset=".938" stop-color="#465af5"/><stop offset=".969" stop-color="#4a4fef"/><stop offset="1.000" stop-color="#4947e7"/></linearGradient><linearGradient id="ha40" x1="0" y1="0" x2="0" y2="1"><stop offset=".000" stop-color="#10abcf"/><stop offset=".031" stop-color="#0facce"/><stop offset=".062" stop-color="#0fadcc"/><stop offset=".094" stop-color="#0faecb"/><stop offset=".125" stop-color="#0eb0c9"/><stop offset=".156" stop-color="#0eb1c7"/><stop offset=".188" stop-color="#0db4c5"/><stop offset=".219" stop-color="#0cb6c2"/><stop offset=".250" stop-color="#12b8bd"/><stop offset=".281" stop-color="#19bbb7"/><stop offset=".312" stop-color="#21bdb1"/><stop offset=".344" stop-color="#28c0ab"/><stop offset=".375" stop-color="#2bc1a9"/><stop offset=".406" stop-color="#28c0ac"/><stop offset=".438" stop-color="#2ac0aa"/><stop offset=".469" stop-color="#36c39f"/><stop offset=".500" stop-color="#45c590"/><stop offset=".531" stop-color="#5cc87a"/><stop offset=".562" stop-color="#82ca5b"/><stop offset=".594" stop-color="#adc63b"/><stop offset=".625" stop-color="#d1bc29"/><stop offset=".656" stop-color="#dfb629"/><stop offset=".688" stop-color="#d1bc29"/><stop offset=".719" stop-color="#9cca46"/><stop offset=".750" stop-color="#4dc689"/><stop offset=".781" stop-color="#1abbb7"/><stop offset=".812" stop-color="#10aad0"/><stop offset=".844" stop-color="#2091e7"/><stop offset=".875" stop-color="#2d7cf7"/><stop offset=".906" stop-color="#3b6bf9"/><stop offset=".938" stop-color="#445ef6"/><stop offset=".969" stop-color="#4953f2"/><stop offset="1.000" stop-color="#494beb"/></linearGradient><linearGradient id="ha41" x1="0" y1="0" x2="0" y2="1"><stop offset=".000" stop-color="#15a2d8"/><stop offset=".031" stop-color="#14a3d6"/><stop offset=".062" stop-color="#13a6d4"/><stop offset=".094" stop-color="#11a8d2"/><stop offset=".125" stop-color="#10aad0"/><stop offset=".156" stop-color="#0facce"/><stop offset=".188" stop-color="#0faecb"/><stop offset=".219" stop-color="#0eb1c8"/><stop offset=".250" stop-color="#0db4c5"/><stop offset=".281" stop-color="#0fb7c0"/><stop offset=".312" stop-color="#17bab9"/><stop offset=".344" stop-color="#1fbcb3"/><stop offset=".375" stop-color="#21bdb1"/><stop offset=".406" stop-color="#1ebcb3"/><stop offset=".438" stop-color="#21bdb1"/><stop offset=".469" stop-color="#2dc1a8"/><stop offset=".500" stop-color="#3bc49a"/><stop offset=".531" stop-color="#52c784"/><stop offset=".562" stop-color="#76c964"/><stop offset=".594" stop-color="#a7c83e"/><stop offset=".625" stop-color="#d2bb29"/><stop offset=".656" stop-color="#e7b62c"/><stop offset=".688" stop-color="#dab728"/><stop offset=".719" stop-color="#a6c83f"/><stop offset=".750" stop-color="#52c784"/><stop offset=".781" stop-color="#1cbcb5"/><stop offset=".812" stop-color="#10abcf"/><stop offset=".844" stop-color="#1f92e6"/><stop offset=".875" stop-color="#2d7df6"/><stop offset=".906" stop-color="#3a6bf9"/><stop offset=".938" stop-color="#445ef7"/><stop offset=".969" stop-color="#4954f3"/><stop offset="1.000" stop-color="#494cec"/></linearGradient><linearGradient id="ha42" x1="0" y1="0" x2="0" y2="1"><stop offset=".000" stop-color="#13a6d4"/><stop offset=".031" stop-color="#11a8d2"/><stop offset=".062" stop-color="#10aad0"/><stop offset=".094" stop-color="#0facce"/><stop offset=".125" stop-color="#0fadcc"/><stop offset=".156" stop-color="#0eafca"/><stop offset=".188" stop-color="#0eb1c8"/><stop offset=".219" stop-color="#0db3c5"/><stop offset=".250" stop-color="#0cb6c2"/><stop offset=".281" stop-color="#12b8bd"/><stop offset=".312" stop-color="#1abbb7"/><stop offset=".344" stop-color="#20bdb2"/><stop offset=".375" stop-color="#23beb0"/><stop offset=".406" stop-color="#20bdb2"/><stop offset=".438" stop-color="#22beb0"/><stop offset=".469" stop-color="#2ec2a7"/><stop offset=".500" stop-color="#3dc498"/><stop offset=".531" stop-color="#55c781"/><stop offset=".562" stop-color="#7cc95f"/><stop offset=".594" stop-color="#aec63b"/><stop offset=".625" stop-color="#d7b929"/><stop offset=".656" stop-color="#ecb62e"/><stop offset=".688" stop-color="#deb629"/><stop offset=".719" stop-color="#adc73b"/><stop offset=".750" stop-color="#58c87e"/><stop offset=".781" stop-color="#22bdb1"/><stop offset=".812" stop-color="#0fadcc"/><stop offset=".844" stop-color="#1d95e3"/><stop offset=".875" stop-color="#2b80f4"/><stop offset=".906" stop-color="#386ef9"/><stop offset=".938" stop-color="#4360f7"/><stop offset=".969" stop-color="#4955f3"/><stop offset="1.000" stop-color="#494cec"/></linearGradient><linearGradient id="ha43" x1="0" y1="0" x2="0" y2="1"><stop offset=".000" stop-color="#179edb"/><stop offset=".031" stop-color="#16a1d9"/><stop offset=".062" stop-color="#14a3d6"/><stop offset=".094" stop-color="#12a6d4"/><stop offset=".125" stop-color="#11a9d1"/><stop offset=".156" stop-color="#10abcf"/><stop offset=".188" stop-color="#0fadcc"/><stop offset=".219" stop-color="#0eafca"/><stop offset=".250" stop-color="#0db2c7"/><stop offset=".281" stop-color="#0db4c4"/><stop offset=".312" stop-color="#10b7bf"/><stop offset=".344" stop-color="#16baba"/><stop offset=".375" stop-color="#18bab8"/><stop offset=".406" stop-color="#15b9bb"/><stop offset=".438" stop-color="#18bab8"/><stop offset=".469" stop-color="#24beaf"/><stop offset=".500" stop-color="#34c3a1"/><stop offset=".531" stop-color="#4ec688"/><stop offset=".562" stop-color="#74c966"/><stop offset=".594" stop-color="#a8c83e"/><stop offset=".625" stop-color="#d2bb29"/><stop offset=".656" stop-color="#e6b62c"/><stop offset=".688" stop-color="#d9b728"/><stop offset=".719" stop-color="#a9c73d"/><stop offset=".750" stop-color="#56c780"/><stop offset=".781" stop-color="#1fbdb3"/><stop offset=".812" stop-color="#0faccd"/><stop offset=".844" stop-color="#1e93e5"/><stop offset=".875" stop-color="#2c7ef6"/><stop offset=".906" stop-color="#3a6cf9"/><stop offset=".938" stop-color="#445df6"/><stop offset=".969" stop-color="#4a52f2"/><stop offset="1.000" stop-color="#4949e9"/></linearGradient><linearGradient id="ha44" x1="0" y1="0" x2="0" y2="1"><stop offset=".000" stop-color="#1b98e1"/><stop offset=".031" stop-color="#1a9adf"/><stop offset=".062" stop-color="#189ddc"/><stop offset=".094" stop-color="#16a0d9"/><stop offset=".125" stop-color="#14a4d6"/><stop offset=".156" stop-color="#12a7d3"/><stop offset=".188" stop-color="#10aad0"/><stop offset=".219" stop-color="#0facce"/><stop offset=".250" stop-color="#0faecc"/><stop offset=".281" stop-color="#0eb0c9"/><stop offset=".312" stop-color="#0db3c5"/><stop offset=".344" stop-color="#0db6c1"/><stop offset=".375" stop-color="#0fb7c0"/><stop offset=".406" stop-color="#0cb6c2"/><stop offset=".438" stop-color="#0fb7c0"/><stop offset=".469" stop-color="#1bbbb6"/><stop offset=".500" stop-color="#2cc1a9"/><stop offset=".531" stop-color="#47c58f"/><stop offset=".562" stop-color="#6cc96c"/><stop offset=".594" stop-color="#a3c941"/><stop offset=".625" stop-color="#cebd29"/><stop offset=".656" stop-color="#e0b629"/><stop offset=".688" stop-color="#d5b929"/><stop offset=".719" stop-color="#a6c83f"/><stop offset=".750" stop-color="#54c782"/><stop offset=".781" stop-color="#1dbcb4"/><stop offset=".812" stop-color="#10abce"/><stop offset=".844" stop-color="#1f92e7"/><stop offset=".875" stop-color="#2d7cf7"/><stop offset=".906" stop-color="#3c69f9"/><stop offset=".938" stop-color="#465bf5"/><stop offset=".969" stop-color="#4a4fef"/><stop offset="1.000" stop-color="#4945e5"/></linearGradient><linearGradient id="ha45" x1="0" y1="0" x2="0" y2="1"><stop offset=".000" stop-color="#199bde"/><stop offset=".031" stop-color="#179edb"/><stop offset=".062" stop-color="#16a1d8"/><stop offset=".094" stop-color="#14a4d5"/><stop offset=".125" stop-color="#12a7d2"/><stop offset=".156" stop-color="#10aad0"/><stop offset=".188" stop-color="#0facce"/><stop offset=".219" stop-color="#0faecc"/><stop offset=".250" stop-color="#0eafca"/><stop offset=".281" stop-color="#0db2c7"/><stop offset=".312" stop-color="#0cb5c3"/><stop offset=".344" stop-color="#0fb7c0"/><stop offset=".375" stop-color="#10b8be"/><stop offset=".406" stop-color="#0db6c1"/><stop offset=".438" stop-color="#11b8be"/><stop offset=".469" stop-color="#1dbcb4"/><stop offset=".500" stop-color="#2fc2a6"/><stop offset=".531" stop-color="#4bc68b"/><stop offset=".562" stop-color="#74c965"/><stop offset=".594" stop-color="#aac73d"/><stop offset=".625" stop-color="#d2bb29"/><stop offset=".656" stop-color="#e5b62b"/><stop offset=".688" stop-color="#d9b728"/><stop offset=".719" stop-color="#acc73c"/><stop offset=".750" stop-color="#5ac87c"/><stop offset=".781" stop-color="#22beb0"/><stop offset=".812" stop-color="#0fadcc"/><stop offset=".844" stop-color="#1d94e4"/><stop offset=".875" stop-color="#2c7ef5"/><stop offset=".906" stop-color="#3a6cf9"/><stop offset=".938" stop-color="#455cf6"/><stop offset=".969" stop-color="#4a50f0"/><stop offset="1.000" stop-color="#4946e6"/></linearGradient><linearGradient id="ha46" x1="0" y1="0" x2="0" y2="1"><stop offset=".000" stop-color="#0fadcc"/><stop offset=".031" stop-color="#0faecb"/><stop offset=".062" stop-color="#0eb0c9"/><stop offset=".094" stop-color="#0db2c7"/><stop offset=".125" stop-color="#0db4c4"/><stop offset=".156" stop-color="#0cb6c2"/><stop offset=".188" stop-color="#0eb7c0"/><stop offset=".219" stop-color="#11b8be"/><stop offset=".250" stop-color="#14b9bb"/><stop offset=".281" stop-color="#19bab8"/><stop offset=".312" stop-color="#1ebcb3"/><stop offset=".344" stop-color="#23beaf"/><stop offset=".375" stop-color="#24beae"/><stop offset=".406" stop-color="#21bdb1"/><stop offset=".438" stop-color="#24beaf"/><stop offset=".469" stop-color="#31c2a4"/><stop offset=".500" stop-color="#44c592"/><stop offset=".531" stop-color="#61c975"/><stop offset=".562" stop-color="#95ca4b"/><stop offset=".594" stop-color="#c4c12d"/><stop offset=".625" stop-color="#e7b62c"/><stop offset=".656" stop-color="#fbb634"/><stop offset=".688" stop-color="#eeb62f"/><stop offset=".719" stop-color="#c1c22f"/><stop offset=".750" stop-color="#6fc969"/><stop offset=".781" stop-color="#32c2a3"/><stop offset=".812" stop-color="#0db4c4"/><stop offset=".844" stop-color="#189edb"/><stop offset=".875" stop-color="#2686ef"/><stop offset=".906" stop-color="#3374fa"/><stop offset=".938" stop-color="#4163f8"/><stop offset=".969" stop-color="#4857f4"/><stop offset="1.000" stop-color="#494ded"/></linearGradient><linearGradient id="ha47" x1="0" y1="0" x2="0" y2="1"><stop offset=".000" stop-color="#0cb6c2"/><stop offset=".031" stop-color="#0fb7c0"/><stop offset=".062" stop-color="#12b8bd"/><stop offset=".094" stop-color="#16b9ba"/><stop offset=".125" stop-color="#19bbb7"/><stop offset=".156" stop-color="#1dbcb5"/><stop offset=".188" stop-color="#1fbdb3"/><stop offset=".219" stop-color="#22bdb1"/><stop offset=".250" stop-color="#25beae"/><stop offset=".281" stop-color="#29c0ab"/><stop offset=".312" stop-color="#2ec2a7"/><stop offset=".344" stop-color="#32c2a3"/><stop offset=".375" stop-color="#33c3a2"/><stop offset=".406" stop-color="#2fc2a6"/><stop offset=".438" stop-color="#33c2a2"/><stop offset=".469" stop-color="#40c495"/><stop offset=".500" stop-color="#54c781"/><stop offset=".531" stop-color="#7ac961"/><stop offset=".562" stop-color="#acc73c"/><stop offset=".594" stop-color="#d5ba29"/><stop offset=".625" stop-color="#fab634"/><stop offset=".656" stop-color="#fdbf32"/><stop offset=".688" stop-color="#fcb833"/><stop offset=".719" stop-color="#cfbd29"/><stop offset=".750" stop-color="#83ca5a"/><stop offset=".781" stop-color="#3ec498"/><stop offset=".812" stop-color="#12b8be"/><stop offset=".844" stop-color="#13a4d5"/><stop offset=".875" stop-color="#228ceb"/><stop offset=".906" stop-color="#2f7af9"/><stop offset=".938" stop-color="#3c69f9"/><stop offset=".969" stop-color="#455cf6"/><stop offset="1.000" stop-color="#4a52f2"/></linearGradient><linearGradient id="ha48" x1="0" y1="0" x2="0" y2="1"><stop offset=".000" stop-color="#0faecb"/><stop offset=".031" stop-color="#0eb0ca"/><stop offset=".062" stop-color="#0eb1c7"/><stop offset=".094" stop-color="#0db3c5"/><stop offset=".125" stop-color="#0cb5c3"/><stop offset=".156" stop-color="#0db6c1"/><stop offset=".188" stop-color="#10b7bf"/><stop offset=".219" stop-color="#13b8bc"/><stop offset=".250" stop-color="#16baba"/><stop offset=".281" stop-color="#1bbbb6"/><stop offset=".312" stop-color="#20bdb2"/><stop offset=".344" stop-color="#25bfae"/><stop offset=".375" stop-color="#26bfad"/><stop offset=".406" stop-color="#23beb0"/><stop offset=".438" stop-color="#27bfad"/><stop offset=".469" stop-color="#35c3a0"/><stop offset=".500" stop-color="#4bc68a"/><stop offset=".531" stop-color="#70c969"/><stop offset=".562" stop-color="#a4c940"/><stop offset=".594" stop-color="#cfbd29"/><stop offset=".625" stop-color="#f2b630"/><stop offset=".656" stop-color="#fcba33"/><stop offset=".688" stop-color="#f6b632"/><stop offset=".719" stop-color="#c9c02a"/><stop offset=".750" stop-color="#7ac961"/><stop offset=".781" stop-color="#37c39e"/><stop offset=".812" stop-color="#0cb5c3"/><stop offset=".844" stop-color="#179edb"/><stop offset=".875" stop-color="#2687ef"/><stop offset=".906" stop-color="#3375fa"/><stop offset=".938" stop-color="#4064f8"/><stop offset=".969" stop-color="#4757f4"/><stop offset="1.000" stop-color="#4a4eee"/></linearGradient><linearGradient id="ha49" x1="0" y1="0" x2="0" y2="1"><stop offset=".000" stop-color="#10abcf"/><stop offset=".031" stop-color="#0faccd"/><stop offset=".062" stop-color="#0faecb"/><stop offset=".094" stop-color="#0eb0c9"/><stop offset=".125" stop-color="#0db2c7"/><stop offset=".156" stop-color="#0db4c5"/><stop offset=".188" stop-color="#0cb5c3"/><stop offset=".219" stop-color="#0db6c1"/><stop offset=".250" stop-color="#11b8be"/><stop offset=".281" stop-color="#15b9bb"/><stop offset=".312" stop-color="#1bbbb6"/><stop offset=".344" stop-color="#20bdb2"/><stop offset=".375" stop-color="#21bdb1"/><stop offset=".406" stop-color="#1ebcb3"/><stop offset=".438" stop-color="#23beb0"/><stop offset=".469" stop-color="#33c3a2"/><stop offset=".500" stop-color="#4bc68a"/><stop offset=".531" stop-color="#71c968"/><stop offset=".562" stop-color="#a5c83f"/><stop offset=".594" stop-color="#d0bc29"/><stop offset=".625" stop-color="#f1b630"/><stop offset=".656" stop-color="#fcb933"/><stop offset=".688" stop-color="#f4b631"/><stop offset=".719" stop-color="#c7c12b"/><stop offset=".750" stop-color="#78c963"/><stop offset=".781" stop-color="#35c3a0"/><stop offset=".812" stop-color="#0db4c5"/><stop offset=".844" stop-color="#199cdd"/><stop offset=".875" stop-color="#2785f0"/><stop offset=".906" stop-color="#3572f9"/><stop offset=".938" stop-color="#4262f8"/><stop offset=".969" stop-color="#4856f3"/><stop offset="1.000" stop-color="#494cec"/></linearGradient><linearGradient id="ha50" x1="0" y1="0" x2="0" y2="1"><stop offset=".000" stop-color="#0db4c5"/><stop offset=".031" stop-color="#0cb5c3"/><stop offset=".062" stop-color="#0db6c1"/><stop offset=".094" stop-color="#11b8be"/><stop offset=".125" stop-color="#14b9bb"/><stop offset=".156" stop-color="#17bab9"/><stop offset=".188" stop-color="#1abbb7"/><stop offset=".219" stop-color="#1dbcb5"/><stop offset=".250" stop-color="#20bdb2"/><stop offset=".281" stop-color="#24beaf"/><stop offset=".312" stop-color="#29c0ab"/><stop offset=".344" stop-color="#2ec2a7"/><stop offset=".375" stop-color="#30c2a5"/><stop offset=".406" stop-color="#2dc1a7"/><stop offset=".438" stop-color="#34c3a2"/><stop offset=".469" stop-color="#46c590"/><stop offset=".500" stop-color="#60c976"/><stop offset=".531" stop-color="#8fca50"/><stop offset=".562" stop-color="#bcc332"/><stop offset=".594" stop-color="#e1b62a"/><stop offset=".625" stop-color="#fcba33"/><stop offset=".656" stop-color="#fec131"/><stop offset=".688" stop-color="#fcb933"/><stop offset=".719" stop-color="#d1bc29"/><stop offset=".750" stop-color="#86ca57"/><stop offset=".781" stop-color="#3fc497"/><stop offset=".812" stop-color="#10b7bf"/><stop offset=".844" stop-color="#15a2d7"/><stop offset=".875" stop-color="#248bec"/><stop offset=".906" stop-color="#3078fa"/><stop offset=".938" stop-color="#3d68f9"/><stop offset=".969" stop-color="#465af5"/><stop offset="1.000" stop-color="#4a51f1"/></linearGradient><linearGradient id="ha51" x1="0" y1="0" x2="0" y2="1"><stop offset=".000" stop-color="#0faecb"/><stop offset=".031" stop-color="#0eb0c9"/><stop offset=".062" stop-color="#0eb1c7"/><stop offset=".094" stop-color="#0db3c5"/><stop offset=".125" stop-color="#0cb5c3"/><stop offset=".156" stop-color="#0eb7c1"/><stop offset=".188" stop-color="#11b8be"/><stop offset=".219" stop-color="#13b9bc"/><stop offset=".250" stop-color="#17baba"/><stop offset=".281" stop-color="#1bbbb6"/><stop offset=".312" stop-color="#20bdb2"/><stop offset=".344" stop-color="#26bfae"/><stop offset=".375" stop-color="#28bfac"/><stop offset=".406" stop-color="#27bfac"/><stop offset=".438" stop-color="#2fc2a6"/><stop offset=".469" stop-color="#43c592"/><stop offset=".500" stop-color="#61c975"/><stop offset=".531" stop-color="#90ca4f"/><stop offset=".562" stop-color="#bbc332"/><stop offset=".594" stop-color="#deb629"/><stop offset=".625" stop-color="#fbb834"/><stop offset=".656" stop-color="#fdbe32"/><stop offset=".688" stop-color="#f9b633"/><stop offset=".719" stop-color="#cbbf2a"/><stop offset=".750" stop-color="#7ec95e"/><stop offset=".781" stop-color="#39c39c"/><stop offset=".812" stop-color="#0cb5c3"/><stop offset=".844" stop-color="#179fdb"/><stop offset=".875" stop-color="#2687ef"/><stop offset=".906" stop-color="#3375fa"/><stop offset=".938" stop-color="#4064f8"/><stop offset=".969" stop-color="#4757f4"/><stop offset="1.000" stop-color="#4a4eee"/></linearGradient><linearGradient id="ha52" x1="0" y1="0" x2="0" y2="1"><stop offset=".000" stop-color="#0facce"/><stop offset=".031" stop-color="#0fadcc"/><stop offset=".062" stop-color="#0eafca"/><stop offset=".094" stop-color="#0eb1c8"/><stop offset=".125" stop-color="#0db3c6"/><stop offset=".156" stop-color="#0cb5c4"/><stop offset=".188" stop-color="#0cb6c2"/><stop offset=".219" stop-color="#0fb7c0"/><stop offset=".250" stop-color="#12b8bd"/><stop offset=".281" stop-color="#17bab9"/><stop offset=".312" stop-color="#1cbcb5"/><stop offset=".344" stop-color="#22bdb1"/><stop offset=".375" stop-color="#24beaf"/><stop offset=".406" stop-color="#25bfae"/><stop offset=".438" stop-color="#2ec2a7"/><stop offset=".469" stop-color="#45c590"/><stop offset=".500" stop-color="#67c970"/><stop offset=".531" stop-color="#97ca4a"/><stop offset=".562" stop-color="#bfc230"/><stop offset=".594" stop-color="#e1b62a"/><stop offset=".625" stop-color="#fbb834"/><stop offset=".656" stop-color="#fdbd32"/><stop offset=".688" stop-color="#f6b632"/><stop offset=".719" stop-color="#c8c02b"/><stop offset=".750" stop-color="#79c961"/><stop offset=".781" stop-color="#36c39f"/><stop offset=".812" stop-color="#0db4c4"/><stop offset=".844" stop-color="#189ddc"/><stop offset=".875" stop-color="#2786f0"/><stop offset=".906" stop-color="#3473fa"/><stop offset=".938" stop-color="#4163f8"/><stop offset=".969" stop-color="#4856f4"/><stop offset="1.000" stop-color="#494cec"/></linearGradient><linearGradient id="ha53" x1="0" y1="0" x2="0" y2="1"><stop offset=".000" stop-color="#0faccd"/><stop offset=".031" stop-color="#0faecc"/><stop offset=".062" stop-color="#0eafca"/><stop offset=".094" stop-color="#0eb1c7"/><stop offset=".125" stop-color="#0db3c5"/><stop offset=".156" stop-color="#0cb5c3"/><stop offset=".188" stop-color="#0db6c1"/><stop offset=".219" stop-color="#10b7bf"/><stop offset=".250" stop-color="#13b8bd"/><stop offset=".281" stop-color="#17bab9"/><stop offset=".312" stop-color="#1dbcb4"/><stop offset=".344" stop-color="#22beb0"/><stop offset=".375" stop-color="#26bfad"/><stop offset=".406" stop-color="#28bfac"/><stop offset=".438" stop-color="#33c2a3"/><stop offset=".469" stop-color="#4bc68a"/><stop offset=".500" stop-color="#73c966"/><stop offset=".531" stop-color="#a2c942"/><stop offset=".562" stop-color="#c7c02b"/><stop offset=".594" stop-color="#e7b62c"/><stop offset=".625" stop-color="#fcba33"/><stop offset=".656" stop-color="#fdbd32"/><stop offset=".688" stop-color="#f5b632"/><stop offset=".719" stop-color="#c6c12c"/><stop offset=".750" stop-color="#79c962"/><stop offset=".781" stop-color="#36c39f"/><stop offset=".812" stop-color="#0db4c5"/><stop offset=".844" stop-color="#199cdd"/><stop offset=".875" stop-color="#2885f1"/><stop offset=".906" stop-color="#3572f9"/><stop offset=".938" stop-color="#4261f8"/><stop offset=".969" stop-color="#4955f3"/><stop offset="1.000" stop-color="#494beb"/></linearGradient><linearGradient id="ha54" x1="0" y1="0" x2="0" y2="1"><stop offset=".000" stop-color="#10abce"/><stop offset=".031" stop-color="#0fadcd"/><stop offset=".062" stop-color="#0eafca"/><stop offset=".094" stop-color="#0eb1c8"/><stop offset=".125" stop-color="#0db3c6"/><stop offset=".156" stop-color="#0db4c4"/><stop offset=".188" stop-color="#0cb6c2"/><stop offset=".219" stop-color="#0eb7c1"/><stop offset=".250" stop-color="#11b8be"/><stop offset=".281" stop-color="#15b9ba"/><stop offset=".312" stop-color="#1bbbb6"/><stop offset=".344" stop-color="#21bdb1"/><stop offset=".375" stop-color="#25bfae"/><stop offset=".406" stop-color="#29c0ab"/><stop offset=".438" stop-color="#36c39f"/><stop offset=".469" stop-color="#51c785"/><stop offset=".500" stop-color="#7cc95f"/><stop offset=".531" stop-color="#a7c83e"/><stop offset=".562" stop-color="#cbbf2a"/><stop offset=".594" stop-color="#e9b62d"/><stop offset=".625" stop-color="#fcba33"/><stop offset=".656" stop-color="#fcbb33"/><stop offset=".688" stop-color="#ecb62e"/><stop offset=".719" stop-color="#bec331"/><stop offset=".750" stop-color="#73c967"/><stop offset=".781" stop-color="#33c3a2"/><stop offset=".812" stop-color="#0db2c7"/><stop offset=".844" stop-color="#1b98e1"/><stop offset=".875" stop-color="#2b80f4"/><stop offset=".906" stop-color="#3a6cf9"/><stop offset=".938" stop-color="#455cf6"/><stop offset=".969" stop-color="#4a4fef"/><stop offset="1.000" stop-color="#4945e5"/></linearGradient><linearGradient id="ha55" x1="0" y1="0" x2="0" y2="1"><stop offset=".000" stop-color="#10aad0"/><stop offset=".031" stop-color="#10abce"/><stop offset=".062" stop-color="#0fadcc"/><stop offset=".094" stop-color="#0eafca"/><stop offset=".125" stop-color="#0eb1c8"/><stop offset=".156" stop-color="#0db3c6"/><stop offset=".188" stop-color="#0db4c4"/><stop offset=".219" stop-color="#0cb5c3"/><stop offset=".250" stop-color="#0eb7c1"/><stop offset=".281" stop-color="#12b8bd"/><stop offset=".312" stop-color="#19bab8"/><stop offset=".344" stop-color="#1fbdb3"/><stop offset=".375" stop-color="#24beaf"/><stop offset=".406" stop-color="#29c0ab"/><stop offset=".438" stop-color="#38c39d"/><stop offset=".469" stop-color="#55c781"/><stop offset=".500" stop-color="#83ca5a"/><stop offset=".531" stop-color="#acc73c"/><stop offset=".562" stop-color="#cdbe2a"/><stop offset=".594" stop-color="#ebb62e"/><stop offset=".625" stop-color="#fcb933"/><stop offset=".656" stop-color="#fcb833"/><stop offset=".688" stop-color="#e2b62a"/><stop offset=".719" stop-color="#b5c536"/><stop offset=".750" stop-color="#6bc96c"/><stop offset=".781" stop-color="#30c2a5"/><stop offset=".812" stop-color="#0eafca"/><stop offset=".844" stop-color="#1e93e5"/><stop offset=".875" stop-color="#2e7bf8"/><stop offset=".906" stop-color="#3f66f8"/><stop offset=".938" stop-color="#4856f4"/><stop offset=".969" stop-color="#4948e8"/><stop offset="1.000" stop-color="#473edd"/></linearGradient><linearGradient id="ha56" x1="0" y1="0" x2="0" y2="1"><stop offset=".000" stop-color="#12a6d3"/><stop offset=".031" stop-color="#11a9d1"/><stop offset=".062" stop-color="#10abcf"/><stop offset=".094" stop-color="#0fadcc"/><stop offset=".125" stop-color="#0eafca"/><stop offset=".156" stop-color="#0eb1c8"/><stop offset=".188" stop-color="#0db2c6"/><stop offset=".219" stop-color="#0db3c5"/><stop offset=".250" stop-color="#0cb5c4"/><stop offset=".281" stop-color="#0eb7c0"/><stop offset=".312" stop-color="#15b9bb"/><stop offset=".344" stop-color="#1cbbb5"/><stop offset=".375" stop-color="#21bdb1"/><stop offset=".406" stop-color="#27bfac"/><stop offset=".438" stop-color="#39c39c"/><stop offset=".469" stop-color="#58c87e"/><stop offset=".500" stop-color="#88ca56"/><stop offset=".531" stop-color="#afc63a"/><stop offset=".562" stop-color="#cfbd29"/><stop offset=".594" stop-color="#ebb62e"/><stop offset=".625" stop-color="#fcb833"/><stop offset=".656" stop-color="#f8b633"/><stop offset=".688" stop-color="#d8b828"/><stop offset=".719" stop-color="#aac73d"/><stop offset=".750" stop-color="#63c973"/><stop offset=".781" stop-color="#2cc1a9"/><stop offset=".812" stop-color="#0faccd"/><stop offset=".844" stop-color="#228eea"/><stop offset=".875" stop-color="#3375fa"/><stop offset=".906" stop-color="#4360f7"/><stop offset=".938" stop-color="#4a50f0"/><stop offset=".969" stop-color="#4841e1"/><stop offset="1.000" stop-color="#4538d4"/></linearGradient><linearGradient id="ha57" x1="0" y1="0" x2="0" y2="1"><stop offset=".000" stop-color="#0eb0c9"/><stop offset=".031" stop-color="#0eb1c7"/><stop offset=".062" stop-color="#0db3c5"/><stop offset=".094" stop-color="#0cb5c3"/><stop offset=".125" stop-color="#0eb7c0"/><stop offset=".156" stop-color="#11b8be"/><stop offset=".188" stop-color="#13b9bc"/><stop offset=".219" stop-color="#15b9bb"/><stop offset=".250" stop-color="#17bab9"/><stop offset=".281" stop-color="#1cbbb5"/><stop offset=".312" stop-color="#23beb0"/><stop offset=".344" stop-color="#2ac0aa"/><stop offset=".375" stop-color="#30c2a5"/><stop offset=".406" stop-color="#37c39e"/><stop offset=".438" stop-color="#4ac68b"/><stop offset=".469" stop-color="#6fc969"/><stop offset=".500" stop-color="#a3c941"/><stop offset=".531" stop-color="#c5c12d"/><stop offset=".562" stop-color="#deb629"/><stop offset=".594" stop-color="#fbb734"/><stop offset=".625" stop-color="#fdc032"/><stop offset=".656" stop-color="#fcba33"/><stop offset=".688" stop-color="#dbb628"/><stop offset=".719" stop-color="#afc63a"/><stop offset=".750" stop-color="#6cc96c"/><stop offset=".781" stop-color="#33c2a2"/><stop offset=".812" stop-color="#0eafca"/><stop offset=".844" stop-color="#2090e8"/><stop offset=".875" stop-color="#3276fa"/><stop offset=".906" stop-color="#4360f7"/><stop offset=".938" stop-color="#4a50f0"/><stop offset=".969" stop-color="#4841e1"/><stop offset="1.000" stop-color="#4537d2"/></linearGradient><linearGradient id="ha58" x1="0" y1="0" x2="0" y2="1"><stop offset=".000" stop-color="#0db6c1"/><stop offset=".031" stop-color="#0fb7bf"/><stop offset=".062" stop-color="#12b8bd"/><stop offset=".094" stop-color="#15b9ba"/><stop offset=".125" stop-color="#19bab8"/><stop offset=".156" stop-color="#1bbbb6"/><stop offset=".188" stop-color="#1dbcb4"/><stop offset=".219" stop-color="#1fbcb3"/><stop offset=".250" stop-color="#21bdb2"/><stop offset=".281" stop-color="#24beae"/><stop offset=".312" stop-color="#2ac0aa"/><stop offset=".344" stop-color="#32c2a3"/><stop offset=".375" stop-color="#3ac49b"/><stop offset=".406" stop-color="#43c592"/><stop offset=".438" stop-color="#58c87e"/><stop offset=".469" stop-color="#88ca56"/><stop offset=".500" stop-color="#bbc332"/><stop offset=".531" stop-color="#d8b828"/><stop offset=".562" stop-color="#f0b630"/><stop offset=".594" stop-color="#fdbc32"/><stop offset=".625" stop-color="#fec131"/><stop offset=".656" stop-color="#fcb933"/><stop offset=".688" stop-color="#d7b929"/><stop offset=".719" stop-color="#a7c83f"/><stop offset=".750" stop-color="#61c975"/><stop offset=".781" stop-color="#2cc1a8"/><stop offset=".812" stop-color="#0fadcd"/><stop offset=".844" stop-color="#228dea"/><stop offset=".875" stop-color="#3474fa"/><stop offset=".906" stop-color="#445ef7"/><stop offset=".938" stop-color="#4a4eee"/><stop offset=".969" stop-color="#483fdf"/><stop offset="1.000" stop-color="#4536d1"/></linearGradient><linearGradient id="ha59" x1="0" y1="0" x2="0" y2="1"><stop offset=".000" stop-color="#20bdb2"/><stop offset=".031" stop-color="#22beb0"/><stop offset=".062" stop-color="#24beae"/><stop offset=".094" stop-color="#27bfad"/><stop offset=".125" stop-color="#29c0ab"/><stop offset=".156" stop-color="#2bc1a9"/><stop offset=".188" stop-color="#2dc1a8"/><stop offset=".219" stop-color="#2ec2a7"/><stop offset=".250" stop-color="#2fc2a6"/><stop offset=".281" stop-color="#32c2a3"/><stop offset=".312" stop-color="#37c39e"/><stop offset=".344" stop-color="#40c496"/><stop offset=".375" stop-color="#49c68c"/><stop offset=".406" stop-color="#54c781"/><stop offset=".438" stop-color="#70c969"/><stop offset=".469" stop-color="#a6c83f"/><stop offset=".500" stop-color="#d6b929"/><stop offset=".531" stop-color="#f4b631"/><stop offset=".562" stop-color="#fdbd32"/><stop offset=".594" stop-color="#ffc430"/><stop offset=".625" stop-color="#ffc530"/><stop offset=".656" stop-color="#fcb933"/><stop offset=".688" stop-color="#d6b929"/><stop offset=".719" stop-color="#a2c942"/><stop offset=".750" stop-color="#5cc87a"/><stop offset=".781" stop-color="#28c0ab"/><stop offset=".812" stop-color="#0facce"/><stop offset=".844" stop-color="#228dea"/><stop offset=".875" stop-color="#3473fa"/><stop offset=".906" stop-color="#445ef6"/><stop offset=".938" stop-color="#4a4eee"/><stop offset=".969" stop-color="#4840e0"/><stop offset="1.000" stop-color="#4537d2"/></linearGradient><linearGradient id="ha60" x1="0" y1="0" x2="0" y2="1"><stop offset=".000" stop-color="#1cbcb5"/><stop offset=".031" stop-color="#1ebcb4"/><stop offset=".062" stop-color="#20bdb2"/><stop offset=".094" stop-color="#22bdb1"/><stop offset=".125" stop-color="#24beaf"/><stop offset=".156" stop-color="#25bfae"/><stop offset=".188" stop-color="#27bfac"/><stop offset=".219" stop-color="#29c0ab"/><stop offset=".250" stop-color="#2ac0aa"/><stop offset=".281" stop-color="#2cc1a8"/><stop offset=".312" stop-color="#30c2a5"/><stop offset=".344" stop-color="#3ac49b"/><stop offset=".375" stop-color="#46c58f"/><stop offset=".406" stop-color="#54c782"/><stop offset=".438" stop-color="#72c967"/><stop offset=".469" stop-color="#abc73c"/><stop offset=".500" stop-color="#dfb629"/><stop offset=".531" stop-color="#fbb834"/><stop offset=".562" stop-color="#fdbf32"/><stop offset=".594" stop-color="#fec331"/><stop offset=".625" stop-color="#fec031"/><stop offset=".656" stop-color="#f2b631"/><stop offset=".688" stop-color="#c8c02b"/><stop offset=".719" stop-color="#8aca54"/><stop offset=".750" stop-color="#4ac68c"/><stop offset=".781" stop-color="#18bab8"/><stop offset=".812" stop-color="#14a3d7"/><stop offset=".844" stop-color="#2785f0"/><stop offset=".875" stop-color="#3b6bf9"/><stop offset=".906" stop-color="#4757f4"/><stop offset=".938" stop-color="#4947e7"/><stop offset=".969" stop-color="#463ad8"/><stop offset="1.000" stop-color="#4432cb"/></linearGradient><linearGradient id="ha61" x1="0" y1="0" x2="0" y2="1"><stop offset=".000" stop-color="#1abbb7"/><stop offset=".031" stop-color="#1bbbb6"/><stop offset=".062" stop-color="#1dbcb5"/><stop offset=".094" stop-color="#1ebcb3"/><stop offset=".125" stop-color="#20bdb2"/><stop offset=".156" stop-color="#21bdb1"/><stop offset=".188" stop-color="#23beb0"/><stop offset=".219" stop-color="#25beae"/><stop offset=".250" stop-color="#26bfad"/><stop offset=".281" stop-color="#28bfac"/><stop offset=".312" stop-color="#2bc1a9"/><stop offset=".344" stop-color="#36c39f"/><stop offset=".375" stop-color="#44c591"/><stop offset=".406" stop-color="#54c782"/><stop offset=".438" stop-color="#76c964"/><stop offset=".469" stop-color="#b2c538"/><stop offset=".500" stop-color="#ebb62e"/><stop offset=".531" stop-color="#fdbd32"/><stop offset=".562" stop-color="#fec231"/><stop offset=".594" stop-color="#fec231"/><stop offset=".625" stop-color="#fcbb33"/><stop offset=".656" stop-color="#e4b62b"/><stop offset=".688" stop-color="#b7c435"/><stop offset=".719" stop-color="#72c967"/><stop offset=".750" stop-color="#39c39d"/><stop offset=".781" stop-color="#0db4c4"/><stop offset=".812" stop-color="#1a99df"/><stop offset=".844" stop-color="#2d7df6"/><stop offset=".875" stop-color="#4163f8"/><stop offset=".906" stop-color="#4a51f1"/><stop offset=".938" stop-color="#4841e1"/><stop offset=".969" stop-color="#4535d0"/><stop offset="1.000" stop-color="#422fc4"/></linearGradient><linearGradient id="ha62" x1="0" y1="0" x2="0" y2="1"><stop offset=".000" stop-color="#33c3a2"/><stop offset=".031" stop-color="#34c3a1"/><stop offset=".062" stop-color="#35c3a0"/><stop offset=".094" stop-color="#36c39f"/><stop offset=".125" stop-color="#37c39f"/><stop offset=".156" stop-color="#38c39e"/><stop offset=".188" stop-color="#39c39c"/><stop offset=".219" stop-color="#3bc49a"/><stop offset=".250" stop-color="#3dc499"/><stop offset=".281" stop-color="#3ec498"/><stop offset=".312" stop-color="#41c494"/><stop offset=".344" stop-color="#4dc689"/><stop offset=".375" stop-color="#5cc87a"/><stop offset=".406" stop-color="#73c967"/><stop offset=".438" stop-color="#9bca46"/><stop offset=".469" stop-color="#cebd29"/><stop offset=".500" stop-color="#fdbc32"/><stop offset=".531" stop-color="#fecd2d"/><stop offset=".562" stop-color="#fdd22b"/><stop offset=".594" stop-color="#fdcf2c"/><stop offset=".625" stop-color="#fec231"/><stop offset=".656" stop-color="#eeb62f"/><stop offset=".688" stop-color="#bec331"/><stop offset=".719" stop-color="#78c962"/><stop offset=".750" stop-color="#3cc499"/><stop offset=".781" stop-color="#0db6c1"/><stop offset=".812" stop-color="#189ddc"/><stop offset=".844" stop-color="#2a81f3"/><stop offset=".875" stop-color="#3d68f9"/><stop offset=".906" stop-color="#4955f3"/><stop offset=".938" stop-color="#4945e5"/><stop offset=".969" stop-color="#4639d6"/><stop offset="1.000" stop-color="#4331ca"/></linearGradient><linearGradient id="ha63" x1="0" y1="0" x2="0" y2="1"><stop offset=".000" stop-color="#4bc68a"/><stop offset=".031" stop-color="#4bc68a"/><stop offset=".062" stop-color="#4cc68a"/><stop offset=".094" stop-color="#4cc68a"/><stop offset=".125" stop-color="#4cc68a"/><stop offset=".156" stop-color="#4dc689"/><stop offset=".188" stop-color="#4ec687"/><stop offset=".219" stop-color="#50c786"/><stop offset=".250" stop-color="#52c784"/><stop offset=".281" stop-color="#52c783"/><stop offset=".312" stop-color="#56c780"/><stop offset=".344" stop-color="#63c973"/><stop offset=".375" stop-color="#7bc960"/><stop offset=".406" stop-color="#97ca4a"/><stop offset=".438" stop-color="#b9c434"/><stop offset=".469" stop-color="#e5b62c"/><stop offset=".500" stop-color="#fecb2e"/><stop offset=".531" stop-color="#fbe025"/><stop offset=".562" stop-color="#fae224"/><stop offset=".594" stop-color="#fbdc26"/><stop offset=".625" stop-color="#feca2e"/><stop offset=".656" stop-color="#f6b632"/><stop offset=".688" stop-color="#c4c12d"/><stop offset=".719" stop-color="#7dc95e"/><stop offset=".750" stop-color="#3fc496"/><stop offset=".781" stop-color="#10b7bf"/><stop offset=".812" stop-color="#16a1d9"/><stop offset=".844" stop-color="#2885f1"/><stop offset=".875" stop-color="#3a6cf9"/><stop offset=".906" stop-color="#4759f4"/><stop offset=".938" stop-color="#4949e9"/><stop offset=".969" stop-color="#473ddb"/><stop offset="1.000" stop-color="#4434cf"/></linearGradient><linearGradient id="ha64" x1="0" y1="0" x2="0" y2="1"><stop offset=".000" stop-color="#40c496"/><stop offset=".031" stop-color="#40c495"/><stop offset=".062" stop-color="#40c495"/><stop offset=".094" stop-color="#41c495"/><stop offset=".125" stop-color="#41c494"/><stop offset=".156" stop-color="#42c594"/><stop offset=".188" stop-color="#44c592"/><stop offset=".219" stop-color="#46c58f"/><stop offset=".250" stop-color="#49c68d"/><stop offset=".281" stop-color="#4ac68b"/><stop offset=".312" stop-color="#4ec688"/><stop offset=".344" stop-color="#5cc87a"/><stop offset=".375" stop-color="#75c965"/><stop offset=".406" stop-color="#93ca4d"/><stop offset=".438" stop-color="#b7c435"/><stop offset=".469" stop-color="#e3b62b"/><stop offset=".500" stop-color="#ffc730"/><stop offset=".531" stop-color="#fbda27"/><stop offset=".562" stop-color="#fbdc27"/><stop offset=".594" stop-color="#fdd42a"/><stop offset=".625" stop-color="#fec131"/><stop offset=".656" stop-color="#e5b62c"/><stop offset=".688" stop-color="#b1c638"/><stop offset=".719" stop-color="#66c971"/><stop offset=".750" stop-color="#30c2a5"/><stop offset=".781" stop-color="#0eb1c8"/><stop offset=".812" stop-color="#1c97e1"/><stop offset=".844" stop-color="#2d7df6"/><stop offset=".875" stop-color="#4064f8"/><stop offset=".906" stop-color="#4a53f2"/><stop offset=".938" stop-color="#4843e3"/><stop offset=".969" stop-color="#4538d3"/><stop offset="1.000" stop-color="#4330c7"/></linearGradient><linearGradient id="ha65" x1="0" y1="0" x2="0" y2="1"><stop offset=".000" stop-color="#3bc49a"/><stop offset=".031" stop-color="#3bc49a"/><stop offset=".062" stop-color="#3bc49a"/><stop offset=".094" stop-color="#3cc49a"/><stop offset=".125" stop-color="#3cc499"/><stop offset=".156" stop-color="#3dc498"/><stop offset=".188" stop-color="#40c496"/><stop offset=".219" stop-color="#43c593"/><stop offset=".250" stop-color="#45c590"/><stop offset=".281" stop-color="#47c58e"/><stop offset=".312" stop-color="#4cc68a"/><stop offset=".344" stop-color="#5bc87b"/><stop offset=".375" stop-color="#76c964"/><stop offset=".406" stop-color="#98ca49"/><stop offset=".438" stop-color="#bbc332"/><stop offset=".469" stop-color="#e6b62c"/><stop offset=".500" stop-color="#ffc82f"/><stop offset=".531" stop-color="#fcda27"/><stop offset=".562" stop-color="#fcd928"/><stop offset=".594" stop-color="#fdcf2c"/><stop offset=".625" stop-color="#fdbd32"/><stop offset=".656" stop-color="#dab728"/><stop offset=".688" stop-color="#a3c941"/><stop offset=".719" stop-color="#58c87d"/><stop offset=".750" stop-color="#24beaf"/><stop offset=".781" stop-color="#0facce"/><stop offset=".812" stop-color="#2090e8"/><stop offset=".844" stop-color="#3177fa"/><stop offset=".875" stop-color="#435ff7"/><stop offset=".906" stop-color="#4a4eee"/><stop offset=".938" stop-color="#483fdf"/><stop offset=".969" stop-color="#4434ce"/><stop offset="1.000" stop-color="#422ec2"/></linearGradient><linearGradient id="ha66" x1="0" y1="0" x2="0" y2="1"><stop offset=".000" stop-color="#3ac39b"/><stop offset=".031" stop-color="#3ac49b"/><stop offset=".062" stop-color="#3bc49a"/><stop offset=".094" stop-color="#3bc49a"/><stop offset=".125" stop-color="#3cc499"/><stop offset=".156" stop-color="#3dc498"/><stop offset=".188" stop-color="#3fc497"/><stop offset=".219" stop-color="#40c495"/><stop offset=".250" stop-color="#43c593"/><stop offset=".281" stop-color="#45c591"/><stop offset=".312" stop-color="#4bc68a"/><stop offset=".344" stop-color="#5dc879"/><stop offset=".375" stop-color="#7cc95f"/><stop offset=".406" stop-color="#a1c942"/><stop offset=".438" stop-color="#c5c12d"/><stop offset=".469" stop-color="#eeb62f"/><stop offset=".500" stop-color="#fecb2e"/><stop offset=".531" stop-color="#fbdb27"/><stop offset=".562" stop-color="#fcd728"/><stop offset=".594" stop-color="#ffc92f"/><stop offset=".625" stop-color="#f9b633"/><stop offset=".656" stop-color="#cabf2a"/><stop offset=".688" stop-color="#89ca55"/><stop offset=".719" stop-color="#45c590"/><stop offset=".750" stop-color="#13b8bd"/><stop offset=".781" stop-color="#15a2d8"/><stop offset=".812" stop-color="#2687ee"/><stop offset=".844" stop-color="#376ff9"/><stop offset=".875" stop-color="#465af5"/><stop offset=".906" stop-color="#4949e9"/><stop offset=".938" stop-color="#473bd9"/><stop offset=".969" stop-color="#4331c9"/><stop offset="1.000" stop-color="#412cbd"/></linearGradient><linearGradient id="ha67" x1="0" y1="0" x2="0" y2="1"><stop offset=".000" stop-color="#3fc496"/><stop offset=".031" stop-color="#40c496"/><stop offset=".062" stop-color="#40c495"/><stop offset=".094" stop-color="#41c494"/><stop offset=".125" stop-color="#42c594"/><stop offset=".156" stop-color="#43c593"/><stop offset=".188" stop-color="#43c592"/><stop offset=".219" stop-color="#44c592"/><stop offset=".250" stop-color="#45c591"/><stop offset=".281" stop-color="#47c58e"/><stop offset=".312" stop-color="#50c686"/><stop offset=".344" stop-color="#64c972"/><stop offset=".375" stop-color="#8aca54"/><stop offset=".406" stop-color="#afc63a"/><stop offset=".438" stop-color="#d1bc29"/><stop offset=".469" stop-color="#fbb634"/><stop offset=".500" stop-color="#fdd32a"/><stop offset=".531" stop-color="#fbe025"/><stop offset=".562" stop-color="#fcd928"/><stop offset=".594" stop-color="#ffc630"/><stop offset=".625" stop-color="#eeb62f"/><stop offset=".656" stop-color="#bac433"/><stop offset=".688" stop-color="#71c968"/><stop offset=".719" stop-color="#35c3a0"/><stop offset=".750" stop-color="#0db2c6"/><stop offset=".781" stop-color="#1b98e0"/><stop offset=".812" stop-color="#2b80f4"/><stop offset=".844" stop-color="#3c69f9"/><stop offset=".875" stop-color="#4856f4"/><stop offset=".906" stop-color="#4946e6"/><stop offset=".938" stop-color="#4639d6"/><stop offset=".969" stop-color="#4330c7"/><stop offset="1.000" stop-color="#412cbc"/></linearGradient><linearGradient id="ha68" x1="0" y1="0" x2="0" y2="1"><stop offset=".000" stop-color="#47c58e"/><stop offset=".031" stop-color="#48c58d"/><stop offset=".062" stop-color="#49c68c"/><stop offset=".094" stop-color="#4ac68c"/><stop offset=".125" stop-color="#4bc68b"/><stop offset=".156" stop-color="#4bc68a"/><stop offset=".188" stop-color="#4ac68b"/><stop offset=".219" stop-color="#49c68c"/><stop offset=".250" stop-color="#49c68c"/><stop offset=".281" stop-color="#4dc689"/><stop offset=".312" stop-color="#57c77f"/><stop offset=".344" stop-color="#72c967"/><stop offset=".375" stop-color="#9bca47"/><stop offset=".406" stop-color="#bfc230"/><stop offset=".438" stop-color="#e0b62a"/><stop offset=".469" stop-color="#fdbf32"/><stop offset=".500" stop-color="#fbde26"/><stop offset=".531" stop-color="#f9e722"/><stop offset=".562" stop-color="#fbdd26"/><stop offset=".594" stop-color="#ffc630"/><stop offset=".625" stop-color="#e6b62c"/><stop offset=".656" stop-color="#abc73c"/><stop offset=".688" stop-color="#5ec878"/><stop offset=".719" stop-color="#26bfad"/><stop offset=".750" stop-color="#0faccd"/><stop offset=".781" stop-color="#2090e8"/><stop offset=".812" stop-color="#2f7af9"/><stop offset=".844" stop-color="#4064f8"/><stop offset=".875" stop-color="#4953f2"/><stop offset=".906" stop-color="#4844e4"/><stop offset=".938" stop-color="#4638d4"/><stop offset=".969" stop-color="#432fc6"/><stop offset="1.000" stop-color="#412bbb"/></linearGradient><linearGradient id="ha69" x1="0" y1="0" x2="0" y2="1"><stop offset=".000" stop-color="#4ac68c"/><stop offset=".031" stop-color="#4bc68b"/><stop offset=".062" stop-color="#4cc68a"/><stop offset=".094" stop-color="#4dc689"/><stop offset=".125" stop-color="#4ec688"/><stop offset=".156" stop-color="#4ec687"/><stop offset=".188" stop-color="#4cc689"/><stop offset=".219" stop-color="#4ac68c"/><stop offset=".250" stop-color="#49c68d"/><stop offset=".281" stop-color="#4dc689"/><stop offset=".312" stop-color="#59c87d"/><stop offset=".344" stop-color="#78c962"/><stop offset=".375" stop-color="#a4c941"/><stop offset=".406" stop-color="#cabf2a"/><stop offset=".438" stop-color="#edb62f"/><stop offset=".469" stop-color="#ffc530"/><stop offset=".500" stop-color="#fae423"/><stop offset=".531" stop-color="#f9ea20"/><stop offset=".562" stop-color="#fbdd26"/><stop offset=".594" stop-color="#fec331"/><stop offset=".625" stop-color="#dab728"/><stop offset=".656" stop-color="#97ca4a"/><stop offset=".688" stop-color="#4cc68a"/><stop offset=".719" stop-color="#15b9bb"/><stop offset=".750" stop-color="#15a1d8"/><stop offset=".781" stop-color="#2686ef"/><stop offset=".812" stop-color="#3671f9"/><stop offset=".844" stop-color="#445ef6"/><stop offset=".875" stop-color="#4a4eee"/><stop offset=".906" stop-color="#4840df"/><stop offset=".938" stop-color="#4535d0"/><stop offset=".969" stop-color="#422ec2"/><stop offset="1.000" stop-color="#412ab8"/></linearGradient><linearGradient id="ha70" x1="0" y1="0" x2="0" y2="1"><stop offset=".000" stop-color="#62c974"/><stop offset=".031" stop-color="#63c973"/><stop offset=".062" stop-color="#65c972"/><stop offset=".094" stop-color="#66c971"/><stop offset=".125" stop-color="#68c970"/><stop offset=".156" stop-color="#69c96f"/><stop offset=".188" stop-color="#68c96f"/><stop offset=".219" stop-color="#65c971"/><stop offset=".250" stop-color="#63c973"/><stop offset=".281" stop-color="#69c96e"/><stop offset=".312" stop-color="#7cc960"/><stop offset=".344" stop-color="#9eca44"/><stop offset=".375" stop-color="#c1c22f"/><stop offset=".406" stop-color="#e0b62a"/><stop offset=".438" stop-color="#fdbc32"/><stop offset=".469" stop-color="#fcd729"/><stop offset=".500" stop-color="#f7f31c"/><stop offset=".531" stop-color="#f7f41c"/><stop offset=".562" stop-color="#f9e821"/><stop offset=".594" stop-color="#ffc92f"/><stop offset=".625" stop-color="#deb629"/><stop offset=".656" stop-color="#99ca48"/><stop offset=".688" stop-color="#4bc68a"/><stop offset=".719" stop-color="#15b9bb"/><stop offset=".750" stop-color="#15a2d7"/><stop offset=".781" stop-color="#2588ee"/><stop offset=".812" stop-color="#3473fa"/><stop offset=".844" stop-color="#4361f8"/><stop offset=".875" stop-color="#4a52f2"/><stop offset=".906" stop-color="#4844e4"/><stop offset=".938" stop-color="#4639d6"/><stop offset=".969" stop-color="#4331c9"/><stop offset="1.000" stop-color="#422dbf"/></linearGradient><linearGradient id="ha71" x1="0" y1="0" x2="0" y2="1"><stop offset=".000" stop-color="#5cc87a"/><stop offset=".031" stop-color="#5dc879"/><stop offset=".062" stop-color="#5ec878"/><stop offset=".094" stop-color="#60c976"/><stop offset=".125" stop-color="#61c975"/><stop offset=".156" stop-color="#63c973"/><stop offset=".188" stop-color="#66c971"/><stop offset=".219" stop-color="#66c971"/><stop offset=".250" stop-color="#64c972"/><stop offset=".281" stop-color="#6bc96c"/><stop offset=".312" stop-color="#7fc95d"/><stop offset=".344" stop-color="#a0c943"/><stop offset=".375" stop-color="#c2c22e"/><stop offset=".406" stop-color="#e0b629"/><stop offset=".438" stop-color="#fcbb33"/><stop offset=".469" stop-color="#fdd42a"/><stop offset=".500" stop-color="#f8ed1f"/><stop offset=".531" stop-color="#f8f01e"/><stop offset=".562" stop-color="#fbdf25"/><stop offset=".594" stop-color="#fec031"/><stop offset=".625" stop-color="#cfbd29"/><stop offset=".656" stop-color="#80ca5c"/><stop offset=".688" stop-color="#3ac49b"/><stop offset=".719" stop-color="#0db2c6"/><stop offset=".750" stop-color="#1c97e1"/><stop offset=".781" stop-color="#2b7ff5"/><stop offset=".812" stop-color="#3a6bf9"/><stop offset=".844" stop-color="#465bf5"/><stop offset=".875" stop-color="#494cec"/><stop offset=".906" stop-color="#483fde"/><stop offset=".938" stop-color="#4535d0"/><stop offset=".969" stop-color="#422fc4"/><stop offset="1.000" stop-color="#412cbb"/></linearGradient><linearGradient id="ha72" x1="0" y1="0" x2="0" y2="1"><stop offset=".000" stop-color="#63c973"/><stop offset=".031" stop-color="#65c972"/><stop offset=".062" stop-color="#67c970"/><stop offset=".094" stop-color="#6ac96e"/><stop offset=".125" stop-color="#6cc96c"/><stop offset=".156" stop-color="#70c969"/><stop offset=".188" stop-color="#76c964"/><stop offset=".219" stop-color="#78c963"/><stop offset=".250" stop-color="#76c964"/><stop offset=".281" stop-color="#7ec95e"/><stop offset=".312" stop-color="#92ca4d"/><stop offset=".344" stop-color="#afc63a"/><stop offset=".375" stop-color="#cdbe2a"/><stop offset=".406" stop-color="#ebb62e"/><stop offset=".438" stop-color="#fec031"/><stop offset=".469" stop-color="#fbdb27"/><stop offset=".500" stop-color="#f8f01e"/><stop offset=".531" stop-color="#f7f21d"/><stop offset=".562" stop-color="#fbdf25"/><stop offset=".594" stop-color="#fdbe32"/><stop offset=".625" stop-color="#c9c02a"/><stop offset=".656" stop-color="#74c966"/><stop offset=".688" stop-color="#30c2a5"/><stop offset=".719" stop-color="#0faecb"/><stop offset=".750" stop-color="#1f91e7"/><stop offset=".781" stop-color="#2e7bf8"/><stop offset=".812" stop-color="#3d68f9"/><stop offset=".844" stop-color="#4758f4"/><stop offset=".875" stop-color="#494aea"/><stop offset=".906" stop-color="#473edd"/><stop offset=".938" stop-color="#4535cf"/><stop offset=".969" stop-color="#422fc4"/><stop offset="1.000" stop-color="#412cbc"/></linearGradient><linearGradient id="ha73" x1="0" y1="0" x2="0" y2="1"><stop offset=".000" stop-color="#7ec95e"/><stop offset=".031" stop-color="#80c95c"/><stop offset=".062" stop-color="#82ca5a"/><stop offset=".094" stop-color="#84ca58"/><stop offset=".125" stop-color="#87ca56"/><stop offset=".156" stop-color="#8cca53"/><stop offset=".188" stop-color="#94ca4c"/><stop offset=".219" stop-color="#98ca49"/><stop offset=".250" stop-color="#96ca4a"/><stop offset=".281" stop-color="#9eca44"/><stop offset=".312" stop-color="#b0c639"/><stop offset=".344" stop-color="#c9c02a"/><stop offset=".375" stop-color="#e1b62a"/><stop offset=".406" stop-color="#fcb933"/><stop offset=".438" stop-color="#fece2d"/><stop offset=".469" stop-color="#f9e921"/><stop offset=".500" stop-color="#f7f41c"/><stop offset=".531" stop-color="#f7f41c"/><stop offset=".562" stop-color="#f9e622"/><stop offset=".594" stop-color="#fec131"/><stop offset=".625" stop-color="#c9c02a"/><stop offset=".656" stop-color="#71c968"/><stop offset=".688" stop-color="#2dc1a8"/><stop offset=".719" stop-color="#0fadcd"/><stop offset=".750" stop-color="#2090e8"/><stop offset=".781" stop-color="#2e7bf8"/><stop offset=".812" stop-color="#3d69f9"/><stop offset=".844" stop-color="#465af5"/><stop offset=".875" stop-color="#494ded"/><stop offset=".906" stop-color="#4840e0"/><stop offset=".938" stop-color="#4538d3"/><stop offset=".969" stop-color="#4331c9"/><stop offset="1.000" stop-color="#422ec2"/></linearGradient><linearGradient id="ha74" x1="0" y1="0" x2="0" y2="1"><stop offset=".000" stop-color="#81ca5b"/><stop offset=".031" stop-color="#84ca59"/><stop offset=".062" stop-color="#88ca56"/><stop offset=".094" stop-color="#8bca53"/><stop offset=".125" stop-color="#8fca50"/><stop offset=".156" stop-color="#93ca4d"/><stop offset=".188" stop-color="#99ca48"/><stop offset=".219" stop-color="#9bca46"/><stop offset=".250" stop-color="#9bca46"/><stop offset=".281" stop-color="#a4c940"/><stop offset=".312" stop-color="#b7c435"/><stop offset=".344" stop-color="#cfbd29"/><stop offset=".375" stop-color="#e7b62c"/><stop offset=".406" stop-color="#fcbb33"/><stop offset=".438" stop-color="#fecd2d"/><stop offset=".469" stop-color="#f9e722"/><stop offset=".500" stop-color="#f7f41c"/><stop offset=".531" stop-color="#f7f41c"/><stop offset=".562" stop-color="#fae224"/><stop offset=".594" stop-color="#fdbe32"/><stop offset=".625" stop-color="#c3c12d"/><stop offset=".656" stop-color="#6ac96e"/><stop offset=".688" stop-color="#28c0ac"/><stop offset=".719" stop-color="#10abcf"/><stop offset=".750" stop-color="#218ee9"/><stop offset=".781" stop-color="#2f79f9"/><stop offset=".812" stop-color="#3e67f8"/><stop offset=".844" stop-color="#4758f4"/><stop offset=".875" stop-color="#494beb"/><stop offset=".906" stop-color="#483fde"/><stop offset=".938" stop-color="#4537d2"/><stop offset=".969" stop-color="#4330c8"/><stop offset="1.000" stop-color="#422ec1"/></linearGradient><linearGradient id="ha75" x1="0" y1="0" x2="0" y2="1"><stop offset=".000" stop-color="#6cc96c"/><stop offset=".031" stop-color="#70c969"/><stop offset=".062" stop-color="#75c965"/><stop offset=".094" stop-color="#7ac961"/><stop offset=".125" stop-color="#7fc95d"/><stop offset=".156" stop-color="#84ca59"/><stop offset=".188" stop-color="#87ca57"/><stop offset=".219" stop-color="#88ca56"/><stop offset=".250" stop-color="#8aca54"/><stop offset=".281" stop-color="#98ca49"/><stop offset=".312" stop-color="#aec63b"/><stop offset=".344" stop-color="#c8c02b"/><stop offset=".375" stop-color="#ddb628"/><stop offset=".406" stop-color="#f7b632"/><stop offset=".438" stop-color="#fec231"/><stop offset=".469" stop-color="#fcd828"/><stop offset=".500" stop-color="#f8ec20"/><stop offset=".531" stop-color="#f9ea20"/><stop offset=".562" stop-color="#fdd32a"/><stop offset=".594" stop-color="#f8b633"/><stop offset=".625" stop-color="#b2c538"/><stop offset=".656" stop-color="#59c87d"/><stop offset=".688" stop-color="#1abbb6"/><stop offset=".719" stop-color="#15a2d8"/><stop offset=".750" stop-color="#2786ef"/><stop offset=".781" stop-color="#3571f9"/><stop offset=".812" stop-color="#435ff7"/><stop offset=".844" stop-color="#4a52f2"/><stop offset=".875" stop-color="#4844e4"/><stop offset=".906" stop-color="#4639d5"/><stop offset=".938" stop-color="#4331ca"/><stop offset=".969" stop-color="#422dc1"/><stop offset="1.000" stop-color="#412bbb"/></linearGradient></defs><clipPath id="cpha"><rect x="83.3" y="61" width="424.7" height="427.3"/></clipPath><filter id="hbha" filterUnits="userSpaceOnUse" x="43.3" y="56" width="504.7" height="437.3"><feGaussianBlur stdDeviation="1.0 0"/></filter><g clip-path="url(#cpha)"><g filter="url(#hbha)"><rect x="79" y="61" width="10.2" height="427.3" fill="url(#ha0)"/><rect x="88.6" y="61" width="6.2" height="427.3" fill="url(#ha1)"/><rect x="94.2" y="61" width="6.2" height="427.3" fill="url(#ha2)"/><rect x="99.8" y="61" width="6.2" height="427.3" fill="url(#ha3)"/><rect x="105.4" y="61" width="6.2" height="427.3" fill="url(#ha4)"/><rect x="110.9" y="61" width="6.2" height="427.3" fill="url(#ha5)"/><rect x="116.5" y="61" width="6.2" height="427.3" fill="url(#ha6)"/><rect x="122.1" y="61" width="6.2" height="427.3" fill="url(#ha7)"/><rect x="127.7" y="61" width="6.2" height="427.3" fill="url(#ha8)"/><rect x="133.3" y="61" width="6.2" height="427.3" fill="url(#ha9)"/><rect x="138.9" y="61" width="6.2" height="427.3" fill="url(#ha10)"/><rect x="144.5" y="61" width="6.2" height="427.3" fill="url(#ha11)"/><rect x="150.1" y="61" width="6.2" height="427.3" fill="url(#ha12)"/><rect x="155.6" y="61" width="6.2" height="427.3" fill="url(#ha13)"/><rect x="161.2" y="61" width="6.2" height="427.3" fill="url(#ha14)"/><rect x="166.8" y="61" width="6.2" height="427.3" fill="url(#ha15)"/><rect x="172.4" y="61" width="6.2" height="427.3" fill="url(#ha16)"/><rect x="178" y="61" width="6.2" height="427.3" fill="url(#ha17)"/><rect x="183.6" y="61" width="6.2" height="427.3" fill="url(#ha18)"/><rect x="189.2" y="61" width="6.2" height="427.3" fill="url(#ha19)"/><rect x="194.8" y="61" width="6.2" height="427.3" fill="url(#ha20)"/><rect x="200.4" y="61" width="6.2" height="427.3" fill="url(#ha21)"/><rect x="205.9" y="61" width="6.2" height="427.3" fill="url(#ha22)"/><rect x="211.5" y="61" width="6.2" height="427.3" fill="url(#ha23)"/><rect x="217.1" y="61" width="6.2" height="427.3" fill="url(#ha24)"/><rect x="222.7" y="61" width="6.2" height="427.3" fill="url(#ha25)"/><rect x="228.3" y="61" width="6.2" height="427.3" fill="url(#ha26)"/><rect x="233.9" y="61" width="6.2" height="427.3" fill="url(#ha27)"/><rect x="239.5" y="61" width="6.2" height="427.3" fill="url(#ha28)"/><rect x="245.1" y="61" width="6.2" height="427.3" fill="url(#ha29)"/><rect x="250.6" y="61" width="6.2" height="427.3" fill="url(#ha30)"/><rect x="256.2" y="61" width="6.2" height="427.3" fill="url(#ha31)"/><rect x="261.8" y="61" width="6.2" height="427.3" fill="url(#ha32)"/><rect x="267.4" y="61" width="6.2" height="427.3" fill="url(#ha33)"/><rect x="273" y="61" width="6.2" height="427.3" fill="url(#ha34)"/><rect x="278.6" y="61" width="6.2" height="427.3" fill="url(#ha35)"/><rect x="284.2" y="61" width="6.2" height="427.3" fill="url(#ha36)"/><rect x="289.8" y="61" width="6.2" height="427.3" fill="url(#ha37)"/><rect x="295.3" y="61" width="6.2" height="427.3" fill="url(#ha38)"/><rect x="300.9" y="61" width="6.2" height="427.3" fill="url(#ha39)"/><rect x="306.5" y="61" width="6.2" height="427.3" fill="url(#ha40)"/><rect x="312.1" y="61" width="6.2" height="427.3" fill="url(#ha41)"/><rect x="317.7" y="61" width="6.2" height="427.3" fill="url(#ha42)"/><rect x="323.3" y="61" width="6.2" height="427.3" fill="url(#ha43)"/><rect x="328.9" y="61" width="6.2" height="427.3" fill="url(#ha44)"/><rect x="334.5" y="61" width="6.2" height="427.3" fill="url(#ha45)"/><rect x="340.1" y="61" width="6.2" height="427.3" fill="url(#ha46)"/><rect x="345.6" y="61" width="6.2" height="427.3" fill="url(#ha47)"/><rect x="351.2" y="61" width="6.2" height="427.3" fill="url(#ha48)"/><rect x="356.8" y="61" width="6.2" height="427.3" fill="url(#ha49)"/><rect x="362.4" y="61" width="6.2" height="427.3" fill="url(#ha50)"/><rect x="368" y="61" width="6.2" height="427.3" fill="url(#ha51)"/><rect x="373.6" y="61" width="6.2" height="427.3" fill="url(#ha52)"/><rect x="379.2" y="61" width="6.2" height="427.3" fill="url(#ha53)"/><rect x="384.8" y="61" width="6.2" height="427.3" fill="url(#ha54)"/><rect x="390.3" y="61" width="6.2" height="427.3" fill="url(#ha55)"/><rect x="395.9" y="61" width="6.2" height="427.3" fill="url(#ha56)"/><rect x="401.5" y="61" width="6.2" height="427.3" fill="url(#ha57)"/><rect x="407.1" y="61" width="6.2" height="427.3" fill="url(#ha58)"/><rect x="412.7" y="61" width="6.2" height="427.3" fill="url(#ha59)"/><rect x="418.3" y="61" width="6.2" height="427.3" fill="url(#ha60)"/><rect x="423.9" y="61" width="6.2" height="427.3" fill="url(#ha61)"/><rect x="429.5" y="61" width="6.2" height="427.3" fill="url(#ha62)"/><rect x="435.1" y="61" width="6.2" height="427.3" fill="url(#ha63)"/><rect x="440.6" y="61" width="6.2" height="427.3" fill="url(#ha64)"/><rect x="446.2" y="61" width="6.2" height="427.3" fill="url(#ha65)"/><rect x="451.8" y="61" width="6.2" height="427.3" fill="url(#ha66)"/><rect x="457.4" y="61" width="6.2" height="427.3" fill="url(#ha67)"/><rect x="463" y="61" width="6.2" height="427.3" fill="url(#ha68)"/><rect x="468.6" y="61" width="6.2" height="427.3" fill="url(#ha69)"/><rect x="474.2" y="61" width="6.2" height="427.3" fill="url(#ha70)"/><rect x="479.8" y="61" width="6.2" height="427.3" fill="url(#ha71)"/><rect x="485.3" y="61" width="6.2" height="427.3" fill="url(#ha72)"/><rect x="490.9" y="61" width="6.2" height="427.3" fill="url(#ha73)"/><rect x="496.5" y="61" width="6.2" height="427.3" fill="url(#ha74)"/><rect x="502.1" y="61" width="10.2" height="427.3" fill="url(#ha75)"/></g></g><path d="M307.6 61V488.3" stroke="#3b2a9c" stroke-width="1.75" stroke-dasharray="6.4 6.9" stroke-dashoffset="-3" fill="none"/><path d="M83.3 328.4H508" stroke="#18a04a" stroke-width="1.7" stroke-dasharray="7.2 6.3" fill="none"/><g clip-path="url(#cpha)"><path d="M180.9 215.2V226.2M172.4 215.2h17M172.4 226.2h17M189.3 228V234M180.8 228h17M180.8 234h17M204.7 249.5V255.5M196.2 249.5h17M196.2 255.5h17M214.1 258.8V268.8M205.6 258.8h17M205.6 268.8h17M225.3 267.6V280.6M216.8 267.6h17M216.8 280.6h17M232.8 281.8V287.8M224.3 281.8h17M224.3 287.8h17M242.1 292.1V298.1M233.6 292.1h17M233.6 298.1h17M250.6 302.9V308.9M242.1 302.9h17M242.1 308.9h17M259 311.6V321.6M250.5 311.6h17M250.5 321.6h17M259 316.3V326.3M250.5 316.3h17M250.5 326.3h17M268.3 326.7V334.7M259.8 326.7h17M259.8 334.7h17M279.1 335.1V343.1M270.6 335.1h17M270.6 343.1h17M289.4 341.1V351.1M280.9 341.1h17M280.9 351.1h17M299.2 346.7V356.7M290.7 346.7h17M290.7 356.7h17M313.7 344.4V354.4M305.2 344.4h17M305.2 354.4h17M324 345.8V355.8M315.5 345.8h17M315.5 355.8h17M335.2 347.1V359.1M326.7 347.1h17M326.7 359.1h17M344.1 346.2V358.2M335.6 346.2h17M335.6 358.2h17M353 346.7V358.7M344.5 346.7h17M344.5 358.7h17M361.9 342.4V356.4M353.4 342.4h17M353.4 356.4h17M368.4 345.7V357.7M359.9 345.7h17M359.9 357.7h17M384.3 342V352M375.8 342h17M375.8 352h17M406.8 334.1V344.1M398.3 334.1h17M398.3 344.1h17" stroke="#f08010" stroke-width="1.1" fill="none"/></g><g clip-path="url(#cpha)"><path d="M351.8 419.1H359.8M351.8 416.1v6M359.8 416.1v6M355.8 415.1V423.1M352.8 415.1h6M352.8 423.1h6M352.7 414.4H360.7M352.7 411.4v6M360.7 411.4v6M356.7 410.4V418.4M353.7 410.4h6M353.7 418.4h6M352.7 409.7H362.7M352.7 406.7v6M362.7 406.7v6M357.7 405.7V413.7M354.7 405.7h6M354.7 413.7h6M353.6 405.5H363.6M353.6 402.5v6M363.6 402.5v6M358.6 401.5V409.5M355.6 401.5h6M355.6 409.5h6M353.6 401.3H365.6M353.6 398.3v6M365.6 398.3v6M359.6 397.3V405.3M356.6 397.3h6M356.6 405.3h6M354.5 397.1H366.5M354.5 394.1v6M366.5 394.1v6M360.5 393.1V401.1M357.5 393.1h6M357.5 401.1h6M354.4 392.9H368.4M354.4 389.9v6M368.4 389.9v6M361.4 388.9V396.9M358.4 388.9h6M358.4 396.9h6M354.4 388.7H370.4M354.4 385.7v6M370.4 385.7v6M362.4 384.7V392.7M359.4 384.7h6M359.4 392.7h6M355.3 384.9H371.3M355.3 381.9v6M371.3 381.9v6M363.3 380.9V388.9M360.3 380.9h6M360.3 388.9h6M355.7 381.2H373.7M355.7 378.2v6M373.7 378.2v6M364.7 377.2V385.2M361.7 377.2h6M361.7 385.2h6M357.1 377.4H375.1M357.1 374.4v6M375.1 374.4v6M366.1 373.4V381.4M363.1 373.4h6M363.1 381.4h6M358.5 373.7H376.5M358.5 370.7v6M376.5 370.7v6M367.5 369.7V377.7M364.5 369.7h6M364.5 377.7h6M359.9 370.4H377.9M359.9 367.4v6M377.9 367.4v6M361.3 367.2H379.3M361.3 363.2v8M379.3 363.2v8M384.8 350.7V368.7M377.8 350.7h14M377.8 368.7h14M394.6 341.4V357.4M387.6 341.4h14M387.6 357.4h14" stroke="#e8208c" stroke-width="1.1" fill="none"/></g><g clip-path="url(#cpha)"><path d="M415.2 329.4V339.4M406.7 329.4h17M406.7 339.4h17M429.3 318.8V338.8M420.8 318.8h17M420.8 338.8h17M441.4 314V324M432.9 314h17M432.9 324h17M451.7 302.6V318.6M443.2 302.6h17M443.2 318.6h17M463.9 296.2V306.2M455.4 296.2h17M455.4 306.2h17M474.6 289.6V299.6M466.1 289.6h17M466.1 299.6h17M486.3 276.8V292.8M477.8 276.8h17M477.8 292.8h17M497.1 267.8V287.8M488.6 267.8h17M488.6 287.8h17M506.9 258.7V270.7M498.4 258.7h17M498.4 270.7h17" stroke="#3a3a3a" stroke-width="1.1" fill="none"/></g><circle cx="180.9" cy="220.7" r="5.5" fill="url(#go)"/><circle cx="189.3" cy="231" r="5.5" fill="url(#go)"/><circle cx="197.2" cy="241.8" r="5.5" fill="url(#go)"/><circle cx="204.7" cy="252.5" r="5.5" fill="url(#go)"/><circle cx="214.1" cy="263.8" r="5.5" fill="url(#go)"/><circle cx="225.3" cy="274.1" r="5.5" fill="url(#go)"/><circle cx="232.8" cy="284.8" r="5.5" fill="url(#go)"/><circle cx="242.1" cy="295.1" r="5.5" fill="url(#go)"/><circle cx="250.6" cy="305.9" r="5.5" fill="url(#go)"/><circle cx="259" cy="316.6" r="5.5" fill="url(#go)"/><circle cx="259" cy="321.3" r="5.5" fill="url(#go)"/><circle cx="268.3" cy="330.7" r="5.5" fill="url(#go)"/><circle cx="279.1" cy="339.1" r="5.5" fill="url(#go)"/><circle cx="289.4" cy="346.1" r="5.5" fill="url(#go)"/><circle cx="299.2" cy="351.7" r="5.5" fill="url(#go)"/><circle cx="313.7" cy="349.4" r="5.5" fill="url(#go)"/><circle cx="324" cy="350.8" r="5.5" fill="url(#go)"/><circle cx="335.2" cy="353.1" r="5.5" fill="url(#go)"/><circle cx="344.1" cy="352.2" r="5.5" fill="url(#go)"/><circle cx="353" cy="352.7" r="5.5" fill="url(#go)"/><circle cx="361.9" cy="349.4" r="5.5" fill="url(#go)"/><circle cx="368.4" cy="351.7" r="5.5" fill="url(#go)"/><circle cx="384.3" cy="347" r="5.5" fill="url(#go)"/><circle cx="406.8" cy="339.1" r="5.5" fill="url(#go)"/><circle cx="355.8" cy="419.1" r="5.5" fill="url(#gm)"/><circle cx="356.7" cy="414.4" r="5.5" fill="url(#gm)"/><circle cx="357.7" cy="409.7" r="5.5" fill="url(#gm)"/><circle cx="358.6" cy="405.5" r="5.5" fill="url(#gm)"/><circle cx="359.6" cy="401.3" r="5.5" fill="url(#gm)"/><circle cx="360.5" cy="397.1" r="5.5" fill="url(#gm)"/><circle cx="361.4" cy="392.9" r="5.5" fill="url(#gm)"/><circle cx="362.4" cy="388.7" r="5.5" fill="url(#gm)"/><circle cx="363.3" cy="384.9" r="5.5" fill="url(#gm)"/><circle cx="364.7" cy="381.2" r="5.5" fill="url(#gm)"/><circle cx="366.1" cy="377.4" r="5.5" fill="url(#gm)"/><circle cx="367.5" cy="373.7" r="5.5" fill="url(#gm)"/><circle cx="368.9" cy="370.4" r="5.5" fill="url(#gm)"/><circle cx="370.3" cy="367.2" r="5.5" fill="url(#gm)"/><circle cx="384.8" cy="359.7" r="5.5" fill="url(#gm)"/><circle cx="394.6" cy="349.4" r="5.5" fill="url(#gm)"/><circle cx="415.2" cy="334.4" r="5.5" fill="url(#gk)"/><circle cx="429.3" cy="328.8" r="5.5" fill="url(#gk)"/><circle cx="441.4" cy="319" r="5.5" fill="url(#gk)"/><circle cx="451.7" cy="310.6" r="5.5" fill="url(#gk)"/><circle cx="463.9" cy="301.2" r="5.5" fill="url(#gk)"/><circle cx="474.6" cy="294.6" r="5.5" fill="url(#gk)"/><circle cx="486.3" cy="284.8" r="5.5" fill="url(#gk)"/><circle cx="497.1" cy="277.8" r="5.5" fill="url(#gk)"/><circle cx="506.9" cy="264.7" r="5.5" fill="url(#gk)"/><path d="M194.4 61v15.5M194.4 488.3v-15.5M306.6 61v15.5M306.6 488.3v-15.5M418.7 61v15.5M418.7 488.3v-15.5" stroke="#000" stroke-width="3" fill="none"/><path d="M83.3 382.6h16.1M508 382.6h-16.1M83.3 274.9h16.1M508 274.9h-16.1M83.3 167.2h16.1M508 167.2h-16.1" stroke="#000" stroke-width="2.3" fill="none"/><rect x="83.3" y="61" width="424.7" height="427.3" fill="none" stroke="#111" stroke-width="1.7"/><circle cx="339.9" cy="88.2" r="5.2" fill="url(#go)"/><text transform="translate(376.2 98.1) scale(1 1.04)" font-size="26.5">HF</text><circle cx="339.9" cy="120.8" r="5.2" fill="url(#gm)"/><text transform="translate(376.2 130.7) scale(1 1.04)" font-size="26.5">LF</text><circle cx="339.9" cy="153.4" r="5.2" fill="url(#gk)"/><text transform="translate(376.2 163.3) scale(1 1.04)" font-size="26.5">FM</text><text transform="translate(86 527) scale(1 1.04)" font-size="33.5" text-anchor="middle">150</text><text transform="translate(196.5 527) scale(1 1.04)" font-size="33.5" text-anchor="middle">200</text><text transform="translate(308 527) scale(1 1.04)" font-size="33.5" text-anchor="middle">250</text><text transform="translate(420 527) scale(1 1.04)" font-size="33.5" text-anchor="middle">300</text><text transform="translate(72.2 81.8) scale(1 1.04)" font-size="33.5" text-anchor="end">14</text><text transform="translate(72.2 178.6) scale(1 1.04)" font-size="33.5" text-anchor="end">12</text><text transform="translate(72.2 285.8) scale(1 1.04)" font-size="33.5" text-anchor="end">10</text><text transform="translate(74.2 389.9) scale(1 1.04)" font-size="33.5" text-anchor="end">8</text><text transform="translate(74.2 485.2) scale(1 1.04)" font-size="33.5" text-anchor="end">6</text><text transform="translate(298 567.5) scale(1 1.04)" font-size="39" text-anchor="middle"><tspan font-style="italic">μ</tspan><tspan font-style="italic" font-size="24.2" dy="6.2">0</tspan><tspan font-style="italic" dy="-6.2">H</tspan><tspan font-size="24.2" dy="6.2">⊥</tspan><tspan dy="-6.2"> (mT)</tspan></text><text transform="translate(30 272) rotate(-90) scale(1 1.04)" font-size="40.3" text-anchor="middle"><tspan font-style="italic">f</tspan> (GHz)</text><rect x="522.4" y="134.4" width="14.4" height="332.5" fill="url(#cbar)"/><text transform="translate(515.1 82.6) scale(1 1.04)" font-size="32.5">|<tspan font-style="italic">S</tspan><tspan font-style="italic" font-size="18.2" dy="3.9">12</tspan><tspan dy="-3.9">|</tspan></text><text transform="translate(514.7 126.8) scale(1 1.04)" font-size="26.3">1.00</text><text transform="translate(516.9 490.8) scale(1 1.04)" font-size="26.6">0.99</text></g>
<g id="panel-d"><defs><linearGradient id="hd0" x1="0" y1="0" x2="0" y2="1"><stop offset=".000" stop-color="#fab633"/><stop offset=".031" stop-color="#f5b632"/><stop offset=".062" stop-color="#f9b633"/><stop offset=".094" stop-color="#fcb933"/><stop offset=".125" stop-color="#fab634"/><stop offset=".156" stop-color="#f3b631"/><stop offset=".188" stop-color="#fbb634"/><stop offset=".219" stop-color="#fcba33"/><stop offset=".250" stop-color="#f5b632"/><stop offset=".281" stop-color="#e1b62a"/><stop offset=".312" stop-color="#cdbe2a"/><stop offset=".344" stop-color="#a8c83e"/><stop offset=".375" stop-color="#77c963"/><stop offset=".406" stop-color="#4cc689"/><stop offset=".438" stop-color="#29c0ab"/><stop offset=".469" stop-color="#0db3c5"/><stop offset=".500" stop-color="#13a5d5"/><stop offset=".531" stop-color="#189ddc"/><stop offset=".562" stop-color="#1b98e1"/><stop offset=".594" stop-color="#1e93e5"/><stop offset=".625" stop-color="#228eea"/><stop offset=".656" stop-color="#2589ed"/><stop offset=".688" stop-color="#2884f1"/><stop offset=".719" stop-color="#2b80f4"/><stop offset=".750" stop-color="#2d7cf7"/><stop offset=".781" stop-color="#3078fa"/><stop offset=".812" stop-color="#3474fa"/><stop offset=".844" stop-color="#386ff9"/><stop offset=".875" stop-color="#3d68f9"/><stop offset=".906" stop-color="#4261f8"/><stop offset=".938" stop-color="#465af5"/><stop offset=".969" stop-color="#4954f3"/><stop offset="1.000" stop-color="#4a4fef"/></linearGradient><linearGradient id="hd1" x1="0" y1="0" x2="0" y2="1"><stop offset=".000" stop-color="#f7b632"/><stop offset=".031" stop-color="#f3b631"/><stop offset=".062" stop-color="#f6b632"/><stop offset=".094" stop-color="#fcb833"/><stop offset=".125" stop-color="#f8b633"/><stop offset=".156" stop-color="#f0b630"/><stop offset=".188" stop-color="#fab633"/><stop offset=".219" stop-color="#fcba33"/><stop offset=".250" stop-color="#f9b633"/><stop offset=".281" stop-color="#e8b62d"/><stop offset=".312" stop-color="#d5b929"/><stop offset=".344" stop-color="#b8c434"/><stop offset=".375" stop-color="#8fca50"/><stop offset=".406" stop-color="#5ec878"/><stop offset=".438" stop-color="#3ac39b"/><stop offset=".469" stop-color="#16b9ba"/><stop offset=".500" stop-color="#10abcf"/><stop offset=".531" stop-color="#15a1d8"/><stop offset=".562" stop-color="#199bde"/><stop offset=".594" stop-color="#1c96e3"/><stop offset=".625" stop-color="#2090e8"/><stop offset=".656" stop-color="#248bec"/><stop offset=".688" stop-color="#2785f0"/><stop offset=".719" stop-color="#2a81f4"/><stop offset=".750" stop-color="#2d7cf7"/><stop offset=".781" stop-color="#3078fa"/><stop offset=".812" stop-color="#3474fa"/><stop offset=".844" stop-color="#386ff9"/><stop offset=".875" stop-color="#3d68f9"/><stop offset=".906" stop-color="#4261f8"/><stop offset=".938" stop-color="#465af5"/><stop offset=".969" stop-color="#4954f3"/><stop offset="1.000" stop-color="#4a4fef"/></linearGradient><linearGradient id="hd2" x1="0" y1="0" x2="0" y2="1"><stop offset=".000" stop-color="#f4b631"/><stop offset=".031" stop-color="#efb62f"/><stop offset=".062" stop-color="#f3b631"/><stop offset=".094" stop-color="#fbb634"/><stop offset=".125" stop-color="#f4b631"/><stop offset=".156" stop-color="#edb62f"/><stop offset=".188" stop-color="#f8b633"/><stop offset=".219" stop-color="#fcba33"/><stop offset=".250" stop-color="#fbb734"/><stop offset=".281" stop-color="#f1b630"/><stop offset=".312" stop-color="#e0b629"/><stop offset=".344" stop-color="#cabf2a"/><stop offset=".375" stop-color="#a9c73d"/><stop offset=".406" stop-color="#7ac961"/><stop offset=".438" stop-color="#4ec687"/><stop offset=".469" stop-color="#28c0ab"/><stop offset=".500" stop-color="#0eb0c9"/><stop offset=".531" stop-color="#12a6d4"/><stop offset=".562" stop-color="#179fda"/><stop offset=".594" stop-color="#1a9adf"/><stop offset=".625" stop-color="#1e93e5"/><stop offset=".656" stop-color="#228dea"/><stop offset=".688" stop-color="#2687ef"/><stop offset=".719" stop-color="#2a81f3"/><stop offset=".750" stop-color="#2d7cf7"/><stop offset=".781" stop-color="#3078fa"/><stop offset=".812" stop-color="#3474fa"/><stop offset=".844" stop-color="#386ff9"/><stop offset=".875" stop-color="#3d68f9"/><stop offset=".906" stop-color="#4261f8"/><stop offset=".938" stop-color="#465af5"/><stop offset=".969" stop-color="#4954f3"/><stop offset="1.000" stop-color="#4a4fef"/></linearGradient><linearGradient id="hd3" x1="0" y1="0" x2="0" y2="1"><stop offset=".000" stop-color="#ebb62e"/><stop offset=".031" stop-color="#e7b62c"/><stop offset=".062" stop-color="#eab62d"/><stop offset=".094" stop-color="#f3b631"/><stop offset=".125" stop-color="#ecb62e"/><stop offset=".156" stop-color="#e5b62c"/><stop offset=".188" stop-color="#f1b630"/><stop offset=".219" stop-color="#fbb734"/><stop offset=".250" stop-color="#fbb734"/><stop offset=".281" stop-color="#f5b632"/><stop offset=".312" stop-color="#e9b62d"/><stop offset=".344" stop-color="#d6b929"/><stop offset=".375" stop-color="#bec331"/><stop offset=".406" stop-color="#9aca47"/><stop offset=".438" stop-color="#69c96f"/><stop offset=".469" stop-color="#40c496"/><stop offset=".500" stop-color="#10b7bf"/><stop offset=".531" stop-color="#0fadcc"/><stop offset=".562" stop-color="#13a5d4"/><stop offset=".594" stop-color="#179edb"/><stop offset=".625" stop-color="#1c97e1"/><stop offset=".656" stop-color="#2090e8"/><stop offset=".688" stop-color="#2489ed"/><stop offset=".719" stop-color="#2983f2"/><stop offset=".750" stop-color="#2d7df6"/><stop offset=".781" stop-color="#3078fa"/><stop offset=".812" stop-color="#3474fa"/><stop offset=".844" stop-color="#386ff9"/><stop offset=".875" stop-color="#3d68f9"/><stop offset=".906" stop-color="#4261f8"/><stop offset=".938" stop-color="#465af5"/><stop offset=".969" stop-color="#4954f3"/><stop offset="1.000" stop-color="#4a4fef"/></linearGradient><linearGradient id="hd4" x1="0" y1="0" x2="0" y2="1"><stop offset=".000" stop-color="#e2b62a"/><stop offset=".031" stop-color="#ddb629"/><stop offset=".062" stop-color="#e1b62a"/><stop offset=".094" stop-color="#eab62d"/><stop offset=".125" stop-color="#e3b62b"/><stop offset=".156" stop-color="#dcb628"/><stop offset=".188" stop-color="#e9b62d"/><stop offset=".219" stop-color="#f8b633"/><stop offset=".250" stop-color="#fab634"/><stop offset=".281" stop-color="#f8b633"/><stop offset=".312" stop-color="#f2b630"/><stop offset=".344" stop-color="#e2b62a"/><stop offset=".375" stop-color="#d0bc29"/><stop offset=".406" stop-color="#b4c536"/><stop offset=".438" stop-color="#8dca52"/><stop offset=".469" stop-color="#58c87e"/><stop offset=".500" stop-color="#23beb0"/><stop offset=".531" stop-color="#0db3c5"/><stop offset=".562" stop-color="#10abce"/><stop offset=".594" stop-color="#14a3d6"/><stop offset=".625" stop-color="#199bde"/><stop offset=".656" stop-color="#1e94e4"/><stop offset=".688" stop-color="#228ceb"/><stop offset=".719" stop-color="#2785f0"/><stop offset=".750" stop-color="#2c7ef5"/><stop offset=".781" stop-color="#3079fa"/><stop offset=".812" stop-color="#3374fa"/><stop offset=".844" stop-color="#386ff9"/><stop offset=".875" stop-color="#3d68f9"/><stop offset=".906" stop-color="#4261f8"/><stop offset=".938" stop-color="#465af5"/><stop offset=".969" stop-color="#4954f3"/><stop offset="1.000" stop-color="#4a4fef"/></linearGradient><linearGradient id="hd5" x1="0" y1="0" x2="0" y2="1"><stop offset=".000" stop-color="#d7b828"/><stop offset=".031" stop-color="#d5ba29"/><stop offset=".062" stop-color="#d8b828"/><stop offset=".094" stop-color="#deb629"/><stop offset=".125" stop-color="#d9b828"/><stop offset=".156" stop-color="#d5ba29"/><stop offset=".188" stop-color="#dfb629"/><stop offset=".219" stop-color="#edb62f"/><stop offset=".250" stop-color="#f3b631"/><stop offset=".281" stop-color="#f5b632"/><stop offset=".312" stop-color="#f3b631"/><stop offset=".344" stop-color="#e9b62d"/><stop offset=".375" stop-color="#dab728"/><stop offset=".406" stop-color="#c7c12b"/><stop offset=".438" stop-color="#a8c83e"/><stop offset=".469" stop-color="#75c965"/><stop offset=".500" stop-color="#3ac39b"/><stop offset=".531" stop-color="#1abbb7"/><stop offset=".562" stop-color="#0db3c5"/><stop offset=".594" stop-color="#0facce"/><stop offset=".625" stop-color="#15a3d7"/><stop offset=".656" stop-color="#1a99e0"/><stop offset=".688" stop-color="#2090e8"/><stop offset=".719" stop-color="#2687ef"/><stop offset=".750" stop-color="#2b80f4"/><stop offset=".781" stop-color="#2f7af9"/><stop offset=".812" stop-color="#3374fa"/><stop offset=".844" stop-color="#386ff9"/><stop offset=".875" stop-color="#3d68f9"/><stop offset=".906" stop-color="#4261f8"/><stop offset=".938" stop-color="#465af5"/><stop offset=".969" stop-color="#4954f3"/><stop offset="1.000" stop-color="#4a4fef"/></linearGradient><linearGradient id="hd6" x1="0" y1="0" x2="0" y2="1"><stop offset=".000" stop-color="#cebd29"/><stop offset=".031" stop-color="#cdbe2a"/><stop offset=".062" stop-color="#d0bd29"/><stop offset=".094" stop-color="#d5ba29"/><stop offset=".125" stop-color="#d1bc29"/><stop offset=".156" stop-color="#cdbe2a"/><stop offset=".188" stop-color="#d6b929"/><stop offset=".219" stop-color="#e2b62a"/><stop offset=".250" stop-color="#ebb62e"/><stop offset=".281" stop-color="#f1b630"/><stop offset=".312" stop-color="#f3b631"/><stop offset=".344" stop-color="#f0b630"/><stop offset=".375" stop-color="#e6b62c"/><stop offset=".406" stop-color="#d4ba29"/><stop offset=".438" stop-color="#bec331"/><stop offset=".469" stop-color="#97ca49"/><stop offset=".500" stop-color="#52c784"/><stop offset=".531" stop-color="#2fc2a6"/><stop offset=".562" stop-color="#18bab8"/><stop offset=".594" stop-color="#0db3c6"/><stop offset=".625" stop-color="#10abcf"/><stop offset=".656" stop-color="#179fda"/><stop offset=".688" stop-color="#1e93e5"/><stop offset=".719" stop-color="#2489ed"/><stop offset=".750" stop-color="#2a82f3"/><stop offset=".781" stop-color="#2e7bf7"/><stop offset=".812" stop-color="#3275fa"/><stop offset=".844" stop-color="#376ff9"/><stop offset=".875" stop-color="#3d68f9"/><stop offset=".906" stop-color="#4261f8"/><stop offset=".938" stop-color="#465af5"/><stop offset=".969" stop-color="#4954f3"/><stop offset="1.000" stop-color="#4a4fef"/></linearGradient><linearGradient id="hd7" x1="0" y1="0" x2="0" y2="1"><stop offset=".000" stop-color="#c7c12b"/><stop offset=".031" stop-color="#c5c12d"/><stop offset=".062" stop-color="#c8c02b"/><stop offset=".094" stop-color="#ccbe2a"/><stop offset=".125" stop-color="#c9c02a"/><stop offset=".156" stop-color="#c5c12c"/><stop offset=".188" stop-color="#cebd29"/><stop offset=".219" stop-color="#d8b828"/><stop offset=".250" stop-color="#e0b62a"/><stop offset=".281" stop-color="#e8b62d"/><stop offset=".312" stop-color="#eeb62f"/><stop offset=".344" stop-color="#f0b630"/><stop offset=".375" stop-color="#ecb62e"/><stop offset=".406" stop-color="#deb629"/><stop offset=".438" stop-color="#cebd29"/><stop offset=".469" stop-color="#b0c639"/><stop offset=".500" stop-color="#6cc96c"/><stop offset=".531" stop-color="#47c58f"/><stop offset=".562" stop-color="#2ec2a7"/><stop offset=".594" stop-color="#18bab8"/><stop offset=".625" stop-color="#0db2c6"/><stop offset=".656" stop-color="#11a8d2"/><stop offset=".688" stop-color="#199bde"/><stop offset=".719" stop-color="#218ee9"/><stop offset=".750" stop-color="#2785f0"/><stop offset=".781" stop-color="#2c7df6"/><stop offset=".812" stop-color="#3177fa"/><stop offset=".844" stop-color="#3670f9"/><stop offset=".875" stop-color="#3c6af9"/><stop offset=".906" stop-color="#4262f8"/><stop offset=".938" stop-color="#465af5"/><stop offset=".969" stop-color="#4954f3"/><stop offset="1.000" stop-color="#4a4fef"/></linearGradient><linearGradient id="hd8" x1="0" y1="0" x2="0" y2="1"><stop offset=".000" stop-color="#bec331"/><stop offset=".031" stop-color="#bcc332"/><stop offset=".062" stop-color="#bec331"/><stop offset=".094" stop-color="#c2c22e"/><stop offset=".125" stop-color="#bfc230"/><stop offset=".156" stop-color="#bcc332"/><stop offset=".188" stop-color="#c5c12c"/><stop offset=".219" stop-color="#cfbd29"/><stop offset=".250" stop-color="#d7b929"/><stop offset=".281" stop-color="#dfb629"/><stop offset=".312" stop-color="#e8b62d"/><stop offset=".344" stop-color="#eeb62f"/><stop offset=".375" stop-color="#f0b630"/><stop offset=".406" stop-color="#e8b62d"/><stop offset=".438" stop-color="#dbb728"/><stop offset=".469" stop-color="#c6c12c"/><stop offset=".500" stop-color="#8eca51"/><stop offset=".531" stop-color="#5fc977"/><stop offset=".562" stop-color="#44c591"/><stop offset=".594" stop-color="#2cc1a8"/><stop offset=".625" stop-color="#16b9ba"/><stop offset=".656" stop-color="#0eb0c9"/><stop offset=".688" stop-color="#14a3d7"/><stop offset=".719" stop-color="#1d94e4"/><stop offset=".750" stop-color="#2589ed"/><stop offset=".781" stop-color="#2b7ff4"/><stop offset=".812" stop-color="#3079f9"/><stop offset=".844" stop-color="#3572f9"/><stop offset=".875" stop-color="#3a6bf9"/><stop offset=".906" stop-color="#4163f8"/><stop offset=".938" stop-color="#465bf5"/><stop offset=".969" stop-color="#4954f3"/><stop offset="1.000" stop-color="#4a4fef"/></linearGradient><linearGradient id="hd9" x1="0" y1="0" x2="0" y2="1"><stop offset=".000" stop-color="#b1c639"/><stop offset=".031" stop-color="#b0c639"/><stop offset=".062" stop-color="#b2c538"/><stop offset=".094" stop-color="#b7c435"/><stop offset=".125" stop-color="#b3c537"/><stop offset=".156" stop-color="#b1c639"/><stop offset=".188" stop-color="#bac433"/><stop offset=".219" stop-color="#c5c12c"/><stop offset=".250" stop-color="#cdbe2a"/><stop offset=".281" stop-color="#d5ba29"/><stop offset=".312" stop-color="#dcb628"/><stop offset=".344" stop-color="#e5b62c"/><stop offset=".375" stop-color="#ecb62e"/><stop offset=".406" stop-color="#ebb62e"/><stop offset=".438" stop-color="#e3b62b"/><stop offset=".469" stop-color="#d3bb29"/><stop offset=".500" stop-color="#a9c73d"/><stop offset=".531" stop-color="#7fc95d"/><stop offset=".562" stop-color="#5cc87a"/><stop offset=".594" stop-color="#44c592"/><stop offset=".625" stop-color="#2bc1a9"/><stop offset=".656" stop-color="#12b8bd"/><stop offset=".688" stop-color="#0fadcd"/><stop offset=".719" stop-color="#189ddc"/><stop offset=".750" stop-color="#218fe9"/><stop offset=".781" stop-color="#2884f1"/><stop offset=".812" stop-color="#2e7bf7"/><stop offset=".844" stop-color="#3374fa"/><stop offset=".875" stop-color="#3a6cf9"/><stop offset=".906" stop-color="#4164f8"/><stop offset=".938" stop-color="#455bf6"/><stop offset=".969" stop-color="#4954f3"/><stop offset="1.000" stop-color="#4a4fef"/></linearGradient><linearGradient id="hd10" x1="0" y1="0" x2="0" y2="1"><stop offset=".000" stop-color="#a2c941"/><stop offset=".031" stop-color="#a3c941"/><stop offset=".062" stop-color="#a6c83f"/><stop offset=".094" stop-color="#abc73c"/><stop offset=".125" stop-color="#a7c83e"/><stop offset=".156" stop-color="#a5c840"/><stop offset=".188" stop-color="#aec63b"/><stop offset=".219" stop-color="#b9c434"/><stop offset=".250" stop-color="#c3c22e"/><stop offset=".281" stop-color="#cabf2a"/><stop offset=".312" stop-color="#d1bc29"/><stop offset=".344" stop-color="#dab728"/><stop offset=".375" stop-color="#e4b62b"/><stop offset=".406" stop-color="#eab62d"/><stop offset=".438" stop-color="#e9b62d"/><stop offset=".469" stop-color="#deb629"/><stop offset=".500" stop-color="#c0c22f"/><stop offset=".531" stop-color="#a0c943"/><stop offset=".562" stop-color="#7dc95e"/><stop offset=".594" stop-color="#5cc87a"/><stop offset=".625" stop-color="#42c593"/><stop offset=".656" stop-color="#26bfad"/><stop offset=".688" stop-color="#0cb5c3"/><stop offset=".719" stop-color="#12a7d2"/><stop offset=".750" stop-color="#1c96e2"/><stop offset=".781" stop-color="#2589ed"/><stop offset=".812" stop-color="#2c7ff5"/><stop offset=".844" stop-color="#3276fa"/><stop offset=".875" stop-color="#396df9"/><stop offset=".906" stop-color="#4065f8"/><stop offset=".938" stop-color="#455df6"/><stop offset=".969" stop-color="#4954f3"/><stop offset="1.000" stop-color="#4a4fef"/></linearGradient><linearGradient id="hd11" x1="0" y1="0" x2="0" y2="1"><stop offset=".000" stop-color="#93ca4d"/><stop offset=".031" stop-color="#93ca4d"/><stop offset=".062" stop-color="#97ca4a"/><stop offset=".094" stop-color="#9cca46"/><stop offset=".125" stop-color="#97ca4a"/><stop offset=".156" stop-color="#92ca4d"/><stop offset=".188" stop-color="#9dca45"/><stop offset=".219" stop-color="#a9c73d"/><stop offset=".250" stop-color="#b2c538"/><stop offset=".281" stop-color="#bac333"/><stop offset=".312" stop-color="#c3c12e"/><stop offset=".344" stop-color="#cebd29"/><stop offset=".375" stop-color="#d8b828"/><stop offset=".406" stop-color="#e0b62a"/><stop offset=".438" stop-color="#e5b62b"/><stop offset=".469" stop-color="#e1b62a"/><stop offset=".500" stop-color="#cebe2a"/><stop offset=".531" stop-color="#b7c435"/><stop offset=".562" stop-color="#9eca44"/><stop offset=".594" stop-color="#7dc95f"/><stop offset=".625" stop-color="#5bc87b"/><stop offset=".656" stop-color="#3ec497"/><stop offset=".688" stop-color="#20bdb2"/><stop offset=".719" stop-color="#0eb1c8"/><stop offset=".750" stop-color="#16a1d9"/><stop offset=".781" stop-color="#2090e8"/><stop offset=".812" stop-color="#2884f1"/><stop offset=".844" stop-color="#2f7af9"/><stop offset=".875" stop-color="#3670f9"/><stop offset=".906" stop-color="#3e67f8"/><stop offset=".938" stop-color="#445ef7"/><stop offset=".969" stop-color="#4856f3"/><stop offset="1.000" stop-color="#4a51f1"/></linearGradient><linearGradient id="hd12" x1="0" y1="0" x2="0" y2="1"><stop offset=".000" stop-color="#84ca59"/><stop offset=".031" stop-color="#82ca5b"/><stop offset=".062" stop-color="#84ca59"/><stop offset=".094" stop-color="#89ca55"/><stop offset=".125" stop-color="#82ca5a"/><stop offset=".156" stop-color="#7cc95f"/><stop offset=".188" stop-color="#87ca56"/><stop offset=".219" stop-color="#95ca4b"/><stop offset=".250" stop-color="#a0ca43"/><stop offset=".281" stop-color="#a8c83e"/><stop offset=".312" stop-color="#b0c639"/><stop offset=".344" stop-color="#bdc331"/><stop offset=".375" stop-color="#cabf2a"/><stop offset=".406" stop-color="#d4ba29"/><stop offset=".438" stop-color="#dbb628"/><stop offset=".469" stop-color="#deb629"/><stop offset=".500" stop-color="#d6b929"/><stop offset=".531" stop-color="#cbbf2a"/><stop offset=".562" stop-color="#b8c434"/><stop offset=".594" stop-color="#9fca43"/><stop offset=".625" stop-color="#7cc95f"/><stop offset=".656" stop-color="#57c77f"/><stop offset=".688" stop-color="#37c39f"/><stop offset=".719" stop-color="#14b9bc"/><stop offset=".750" stop-color="#0facce"/><stop offset=".781" stop-color="#1a9adf"/><stop offset=".812" stop-color="#238bec"/><stop offset=".844" stop-color="#2c7ff5"/><stop offset=".875" stop-color="#3374fa"/><stop offset=".906" stop-color="#3c6af9"/><stop offset=".938" stop-color="#4360f7"/><stop offset=".969" stop-color="#4757f4"/><stop offset="1.000" stop-color="#4a52f2"/></linearGradient><linearGradient id="hd13" x1="0" y1="0" x2="0" y2="1"><stop offset=".000" stop-color="#74c965"/><stop offset=".031" stop-color="#71c968"/><stop offset=".062" stop-color="#71c968"/><stop offset=".094" stop-color="#74c966"/><stop offset=".125" stop-color="#6cc96c"/><stop offset=".156" stop-color="#66c970"/><stop offset=".188" stop-color="#73c966"/><stop offset=".219" stop-color="#83ca5a"/><stop offset=".250" stop-color="#8cca53"/><stop offset=".281" stop-color="#94ca4c"/><stop offset=".312" stop-color="#9eca44"/><stop offset=".344" stop-color="#abc73c"/><stop offset=".375" stop-color="#b9c434"/><stop offset=".406" stop-color="#c7c12b"/><stop offset=".438" stop-color="#cfbd29"/><stop offset=".469" stop-color="#d5ba29"/><stop offset=".500" stop-color="#d6b929"/><stop offset=".531" stop-color="#d3bb29"/><stop offset=".562" stop-color="#cabf2a"/><stop offset=".594" stop-color="#b7c435"/><stop offset=".625" stop-color="#9dca45"/><stop offset=".656" stop-color="#75c964"/><stop offset=".688" stop-color="#4fc686"/><stop offset=".719" stop-color="#2bc0aa"/><stop offset=".750" stop-color="#0cb5c4"/><stop offset=".781" stop-color="#13a5d5"/><stop offset=".812" stop-color="#1e93e5"/><stop offset=".844" stop-color="#2885f1"/><stop offset=".875" stop-color="#3079fa"/><stop offset=".906" stop-color="#396df9"/><stop offset=".938" stop-color="#4262f8"/><stop offset=".969" stop-color="#4759f5"/><stop offset="1.000" stop-color="#4954f3"/></linearGradient><linearGradient id="hd14" x1="0" y1="0" x2="0" y2="1"><stop offset=".000" stop-color="#65c971"/><stop offset=".031" stop-color="#60c976"/><stop offset=".062" stop-color="#5fc977"/><stop offset=".094" stop-color="#5fc977"/><stop offset=".125" stop-color="#5ac87c"/><stop offset=".156" stop-color="#56c780"/><stop offset=".188" stop-color="#61c975"/><stop offset=".219" stop-color="#72c967"/><stop offset=".250" stop-color="#78c963"/><stop offset=".281" stop-color="#7ec95e"/><stop offset=".312" stop-color="#88ca56"/><stop offset=".344" stop-color="#97ca49"/><stop offset=".375" stop-color="#a7c83f"/><stop offset=".406" stop-color="#b4c536"/><stop offset=".438" stop-color="#bfc230"/><stop offset=".469" stop-color="#c8c02a"/><stop offset=".500" stop-color="#d2bb29"/><stop offset=".531" stop-color="#d9b828"/><stop offset=".562" stop-color="#d6b929"/><stop offset=".594" stop-color="#ccbf2a"/><stop offset=".625" stop-color="#b7c435"/><stop offset=".656" stop-color="#98ca48"/><stop offset=".688" stop-color="#6bc96d"/><stop offset=".719" stop-color="#43c592"/><stop offset=".750" stop-color="#1ebcb4"/><stop offset=".781" stop-color="#0faecb"/><stop offset=".812" stop-color="#199cdd"/><stop offset=".844" stop-color="#238bec"/><stop offset=".875" stop-color="#2d7df6"/><stop offset=".906" stop-color="#3770f9"/><stop offset=".938" stop-color="#4164f8"/><stop offset=".969" stop-color="#465af5"/><stop offset="1.000" stop-color="#4856f3"/></linearGradient><linearGradient id="hd15" x1="0" y1="0" x2="0" y2="1"><stop offset=".000" stop-color="#5ac87c"/><stop offset=".031" stop-color="#56c780"/><stop offset=".062" stop-color="#53c783"/><stop offset=".094" stop-color="#52c784"/><stop offset=".125" stop-color="#4cc68a"/><stop offset=".156" stop-color="#48c58d"/><stop offset=".188" stop-color="#55c781"/><stop offset=".219" stop-color="#62c974"/><stop offset=".250" stop-color="#65c972"/><stop offset=".281" stop-color="#6ac96d"/><stop offset=".312" stop-color="#76c964"/><stop offset=".344" stop-color="#86ca57"/><stop offset=".375" stop-color="#98ca49"/><stop offset=".406" stop-color="#a7c83f"/><stop offset=".438" stop-color="#b2c538"/><stop offset=".469" stop-color="#bdc331"/><stop offset=".500" stop-color="#cebd29"/><stop offset=".531" stop-color="#dab728"/><stop offset=".562" stop-color="#ddb628"/><stop offset=".594" stop-color="#d8b828"/><stop offset=".625" stop-color="#ccbe2a"/><stop offset=".656" stop-color="#b4c537"/><stop offset=".688" stop-color="#90ca4f"/><stop offset=".719" stop-color="#5dc879"/><stop offset=".750" stop-color="#36c39f"/><stop offset=".781" stop-color="#10b7bf"/><stop offset=".812" stop-color="#11a9d1"/><stop offset=".844" stop-color="#1d95e4"/><stop offset=".875" stop-color="#2884f1"/><stop offset=".906" stop-color="#3375fa"/><stop offset=".938" stop-color="#3e67f8"/><stop offset=".969" stop-color="#455cf6"/><stop offset="1.000" stop-color="#4757f4"/></linearGradient><linearGradient id="hd16" x1="0" y1="0" x2="0" y2="1"><stop offset=".000" stop-color="#51c785"/><stop offset=".031" stop-color="#4cc68a"/><stop offset=".062" stop-color="#48c58d"/><stop offset=".094" stop-color="#46c58f"/><stop offset=".125" stop-color="#3ec497"/><stop offset=".156" stop-color="#3ac49b"/><stop offset=".188" stop-color="#48c58d"/><stop offset=".219" stop-color="#57c87f"/><stop offset=".250" stop-color="#57c87e"/><stop offset=".281" stop-color="#5bc87b"/><stop offset=".312" stop-color="#67c970"/><stop offset=".344" stop-color="#78c963"/><stop offset=".375" stop-color="#89ca55"/><stop offset=".406" stop-color="#9aca47"/><stop offset=".438" stop-color="#a7c83e"/><stop offset=".469" stop-color="#b4c536"/><stop offset=".500" stop-color="#cabf2a"/><stop offset=".531" stop-color="#d9b728"/><stop offset=".562" stop-color="#e2b62a"/><stop offset=".594" stop-color="#e4b62b"/><stop offset=".625" stop-color="#dbb628"/><stop offset=".656" stop-color="#cdbe2a"/><stop offset=".688" stop-color="#b0c639"/><stop offset=".719" stop-color="#81ca5b"/><stop offset=".750" stop-color="#50c686"/><stop offset=".781" stop-color="#28c0ac"/><stop offset=".812" stop-color="#0db3c6"/><stop offset=".844" stop-color="#16a0d9"/><stop offset=".875" stop-color="#238ceb"/><stop offset=".906" stop-color="#2f7af8"/><stop offset=".938" stop-color="#3b6af9"/><stop offset=".969" stop-color="#445ef7"/><stop offset="1.000" stop-color="#4759f5"/></linearGradient><linearGradient id="hd17" x1="0" y1="0" x2="0" y2="1"><stop offset=".000" stop-color="#48c58d"/><stop offset=".031" stop-color="#43c592"/><stop offset=".062" stop-color="#3fc496"/><stop offset=".094" stop-color="#3bc49a"/><stop offset=".125" stop-color="#33c3a2"/><stop offset=".156" stop-color="#2fc2a6"/><stop offset=".188" stop-color="#3ec498"/><stop offset=".219" stop-color="#4dc689"/><stop offset=".250" stop-color="#4cc68a"/><stop offset=".281" stop-color="#4fc686"/><stop offset=".312" stop-color="#5bc87b"/><stop offset=".344" stop-color="#69c96e"/><stop offset=".375" stop-color="#7bc960"/><stop offset=".406" stop-color="#8cca52"/><stop offset=".438" stop-color="#9cca46"/><stop offset=".469" stop-color="#abc73c"/><stop offset=".500" stop-color="#c3c12e"/><stop offset=".531" stop-color="#d6b929"/><stop offset=".562" stop-color="#e3b62b"/><stop offset=".594" stop-color="#eab62e"/><stop offset=".625" stop-color="#e9b62d"/><stop offset=".656" stop-color="#deb629"/><stop offset=".688" stop-color="#cdbe2a"/><stop offset=".719" stop-color="#a9c73d"/><stop offset=".750" stop-color="#72c967"/><stop offset=".781" stop-color="#43c593"/><stop offset=".812" stop-color="#1bbbb6"/><stop offset=".844" stop-color="#0facce"/><stop offset=".875" stop-color="#1d95e3"/><stop offset=".906" stop-color="#2a81f4"/><stop offset=".938" stop-color="#386ef9"/><stop offset=".969" stop-color="#4360f7"/><stop offset="1.000" stop-color="#465af5"/></linearGradient><linearGradient id="hd18" x1="0" y1="0" x2="0" y2="1"><stop offset=".000" stop-color="#41c494"/><stop offset=".031" stop-color="#3cc499"/><stop offset=".062" stop-color="#37c39e"/><stop offset=".094" stop-color="#32c2a3"/><stop offset=".125" stop-color="#29c0aa"/><stop offset=".156" stop-color="#25bfae"/><stop offset=".188" stop-color="#34c3a1"/><stop offset=".219" stop-color="#42c593"/><stop offset=".250" stop-color="#40c495"/><stop offset=".281" stop-color="#45c591"/><stop offset=".312" stop-color="#51c785"/><stop offset=".344" stop-color="#5dc879"/><stop offset=".375" stop-color="#6cc96c"/><stop offset=".406" stop-color="#7dc95e"/><stop offset=".438" stop-color="#8eca51"/><stop offset=".469" stop-color="#a0c943"/><stop offset=".500" stop-color="#b7c435"/><stop offset=".531" stop-color="#cfbd29"/><stop offset=".562" stop-color="#deb629"/><stop offset=".594" stop-color="#ecb62e"/><stop offset=".625" stop-color="#f3b631"/><stop offset=".656" stop-color="#f3b631"/><stop offset=".688" stop-color="#e7b62c"/><stop offset=".719" stop-color="#cdbe2a"/><stop offset=".750" stop-color="#a1c942"/><stop offset=".781" stop-color="#60c976"/><stop offset=".812" stop-color="#32c2a3"/><stop offset=".844" stop-color="#0db4c4"/><stop offset=".875" stop-color="#179fdb"/><stop offset=".906" stop-color="#2687ef"/><stop offset=".938" stop-color="#3473fa"/><stop offset=".969" stop-color="#4262f8"/><stop offset="1.000" stop-color="#465af5"/></linearGradient><linearGradient id="hd19" x1="0" y1="0" x2="0" y2="1"><stop offset=".000" stop-color="#41c495"/><stop offset=".031" stop-color="#3bc49a"/><stop offset=".062" stop-color="#35c3a0"/><stop offset=".094" stop-color="#2ec2a6"/><stop offset=".125" stop-color="#28c0ac"/><stop offset=".156" stop-color="#25bfae"/><stop offset=".188" stop-color="#2fc2a6"/><stop offset=".219" stop-color="#3ac49b"/><stop offset=".250" stop-color="#3cc499"/><stop offset=".281" stop-color="#41c494"/><stop offset=".312" stop-color="#4ac68c"/><stop offset=".344" stop-color="#53c782"/><stop offset=".375" stop-color="#5dc879"/><stop offset=".406" stop-color="#67c970"/><stop offset=".438" stop-color="#76c964"/><stop offset=".469" stop-color="#85ca58"/><stop offset=".500" stop-color="#90ca4f"/><stop offset=".531" stop-color="#aec63a"/><stop offset=".562" stop-color="#cfbd29"/><stop offset=".594" stop-color="#eab62e"/><stop offset=".625" stop-color="#fcb933"/><stop offset=".656" stop-color="#fdbf32"/><stop offset=".688" stop-color="#fdbd32"/><stop offset=".719" stop-color="#ecb62e"/><stop offset=".750" stop-color="#c1c22f"/><stop offset=".781" stop-color="#77c963"/><stop offset=".812" stop-color="#34c3a1"/><stop offset=".844" stop-color="#0eb1c8"/><stop offset=".875" stop-color="#1b97e1"/><stop offset=".906" stop-color="#2a82f3"/><stop offset=".938" stop-color="#376ff9"/><stop offset=".969" stop-color="#4360f7"/><stop offset="1.000" stop-color="#4758f4"/></linearGradient><linearGradient id="hd20" x1="0" y1="0" x2="0" y2="1"><stop offset=".000" stop-color="#40c495"/><stop offset=".031" stop-color="#3ac49b"/><stop offset=".062" stop-color="#32c2a3"/><stop offset=".094" stop-color="#2bc1a9"/><stop offset=".125" stop-color="#26bfad"/><stop offset=".156" stop-color="#24beaf"/><stop offset=".188" stop-color="#2bc1a9"/><stop offset=".219" stop-color="#35c3a0"/><stop offset=".250" stop-color="#3ac49b"/><stop offset=".281" stop-color="#3fc496"/><stop offset=".312" stop-color="#45c590"/><stop offset=".344" stop-color="#4cc689"/><stop offset=".375" stop-color="#54c782"/><stop offset=".406" stop-color="#5bc87a"/><stop offset=".438" stop-color="#66c971"/><stop offset=".469" stop-color="#71c968"/><stop offset=".500" stop-color="#78c963"/><stop offset=".531" stop-color="#9eca44"/><stop offset=".562" stop-color="#c9c02a"/><stop offset=".594" stop-color="#edb62f"/><stop offset=".625" stop-color="#fdbf32"/><stop offset=".656" stop-color="#feca2e"/><stop offset=".688" stop-color="#ffc630"/><stop offset=".719" stop-color="#fbb634"/><stop offset=".750" stop-color="#cdbe2a"/><stop offset=".781" stop-color="#80c95c"/><stop offset=".812" stop-color="#33c3a2"/><stop offset=".844" stop-color="#0faecb"/><stop offset=".875" stop-color="#1f92e6"/><stop offset=".906" stop-color="#2c7ef5"/><stop offset=".938" stop-color="#396df9"/><stop offset=".969" stop-color="#445ef7"/><stop offset="1.000" stop-color="#4857f4"/></linearGradient><linearGradient id="hd21" x1="0" y1="0" x2="0" y2="1"><stop offset=".000" stop-color="#3ec498"/><stop offset=".031" stop-color="#36c39f"/><stop offset=".062" stop-color="#2ec2a7"/><stop offset=".094" stop-color="#27bfad"/><stop offset=".125" stop-color="#21bdb1"/><stop offset=".156" stop-color="#1fbdb3"/><stop offset=".188" stop-color="#27bfad"/><stop offset=".219" stop-color="#30c2a5"/><stop offset=".250" stop-color="#37c39e"/><stop offset=".281" stop-color="#3cc499"/><stop offset=".312" stop-color="#40c495"/><stop offset=".344" stop-color="#46c590"/><stop offset=".375" stop-color="#4dc689"/><stop offset=".406" stop-color="#55c781"/><stop offset=".438" stop-color="#5ec878"/><stop offset=".469" stop-color="#69c96f"/><stop offset=".500" stop-color="#75c965"/><stop offset=".531" stop-color="#9fca43"/><stop offset=".562" stop-color="#cdbe2a"/><stop offset=".594" stop-color="#f4b631"/><stop offset=".625" stop-color="#ffc430"/><stop offset=".656" stop-color="#fdd32a"/><stop offset=".688" stop-color="#fecd2d"/><stop offset=".719" stop-color="#fcba33"/><stop offset=".750" stop-color="#d2bb29"/><stop offset=".781" stop-color="#87ca56"/><stop offset=".812" stop-color="#37c39e"/><stop offset=".844" stop-color="#0eb0c9"/><stop offset=".875" stop-color="#1e94e4"/><stop offset=".906" stop-color="#2b7ff4"/><stop offset=".938" stop-color="#386ef9"/><stop offset=".969" stop-color="#445ff7"/><stop offset="1.000" stop-color="#4857f4"/></linearGradient><linearGradient id="hd22" x1="0" y1="0" x2="0" y2="1"><stop offset=".000" stop-color="#3bc49a"/><stop offset=".031" stop-color="#32c2a3"/><stop offset=".062" stop-color="#29c0ab"/><stop offset=".094" stop-color="#22bdb1"/><stop offset=".125" stop-color="#1dbcb4"/><stop offset=".156" stop-color="#1cbbb5"/><stop offset=".188" stop-color="#22beb0"/><stop offset=".219" stop-color="#2bc1a9"/><stop offset=".250" stop-color="#32c2a3"/><stop offset=".281" stop-color="#38c39d"/><stop offset=".312" stop-color="#3cc499"/><stop offset=".344" stop-color="#41c494"/><stop offset=".375" stop-color="#47c58e"/><stop offset=".406" stop-color="#50c786"/><stop offset=".438" stop-color="#5ac87c"/><stop offset=".469" stop-color="#65c971"/><stop offset=".500" stop-color="#78c962"/><stop offset=".531" stop-color="#a5c840"/><stop offset=".562" stop-color="#d4ba29"/><stop offset=".594" stop-color="#fbb834"/><stop offset=".625" stop-color="#fecc2d"/><stop offset=".656" stop-color="#fcda27"/><stop offset=".688" stop-color="#fdd02c"/><stop offset=".719" stop-color="#fcbb33"/><stop offset=".750" stop-color="#d4ba29"/><stop offset=".781" stop-color="#89ca55"/><stop offset=".812" stop-color="#39c39c"/><stop offset=".844" stop-color="#0eb1c8"/><stop offset=".875" stop-color="#1d95e4"/><stop offset=".906" stop-color="#2b80f4"/><stop offset=".938" stop-color="#386ef9"/><stop offset=".969" stop-color="#445ff7"/><stop offset="1.000" stop-color="#4857f4"/></linearGradient><linearGradient id="hd23" x1="0" y1="0" x2="0" y2="1"><stop offset=".000" stop-color="#38c39d"/><stop offset=".031" stop-color="#2fc2a6"/><stop offset=".062" stop-color="#24beaf"/><stop offset=".094" stop-color="#1dbcb4"/><stop offset=".125" stop-color="#1abbb7"/><stop offset=".156" stop-color="#19bab8"/><stop offset=".188" stop-color="#1fbcb3"/><stop offset=".219" stop-color="#26bfad"/><stop offset=".250" stop-color="#2ec2a7"/><stop offset=".281" stop-color="#34c3a1"/><stop offset=".312" stop-color="#39c39c"/><stop offset=".344" stop-color="#3dc498"/><stop offset=".375" stop-color="#43c593"/><stop offset=".406" stop-color="#4bc68a"/><stop offset=".438" stop-color="#57c77f"/><stop offset=".469" stop-color="#65c972"/><stop offset=".500" stop-color="#7dc95e"/><stop offset=".531" stop-color="#adc73b"/><stop offset=".562" stop-color="#dcb628"/><stop offset=".594" stop-color="#fdbe32"/><stop offset=".625" stop-color="#fcd629"/><stop offset=".656" stop-color="#fae025"/><stop offset=".688" stop-color="#fdd22b"/><stop offset=".719" stop-color="#fcbb33"/><stop offset=".750" stop-color="#d3bb29"/><stop offset=".781" stop-color="#89ca55"/><stop offset=".812" stop-color="#39c39c"/><stop offset=".844" stop-color="#0eb1c8"/><stop offset=".875" stop-color="#1d95e4"/><stop offset=".906" stop-color="#2b80f4"/><stop offset=".938" stop-color="#386ef9"/><stop offset=".969" stop-color="#445ff7"/><stop offset="1.000" stop-color="#4857f4"/></linearGradient><linearGradient id="hd24" x1="0" y1="0" x2="0" y2="1"><stop offset=".000" stop-color="#37c39e"/><stop offset=".031" stop-color="#2dc1a7"/><stop offset=".062" stop-color="#23beb0"/><stop offset=".094" stop-color="#1cbbb5"/><stop offset=".125" stop-color="#19bab8"/><stop offset=".156" stop-color="#18bab8"/><stop offset=".188" stop-color="#1ebcb4"/><stop offset=".219" stop-color="#25bfae"/><stop offset=".250" stop-color="#2cc1a8"/><stop offset=".281" stop-color="#33c3a2"/><stop offset=".312" stop-color="#38c39d"/><stop offset=".344" stop-color="#3dc498"/><stop offset=".375" stop-color="#43c592"/><stop offset=".406" stop-color="#4dc689"/><stop offset=".438" stop-color="#5ac87c"/><stop offset=".469" stop-color="#6cc96c"/><stop offset=".500" stop-color="#88ca55"/><stop offset=".531" stop-color="#bac433"/><stop offset=".562" stop-color="#eab62d"/><stop offset=".594" stop-color="#ffc530"/><stop offset=".625" stop-color="#fbdf25"/><stop offset=".656" stop-color="#fae423"/><stop offset=".688" stop-color="#fdd12b"/><stop offset=".719" stop-color="#fcb933"/><stop offset=".750" stop-color="#cebe2a"/><stop offset=".781" stop-color="#81ca5c"/><stop offset=".812" stop-color="#35c3a1"/><stop offset=".844" stop-color="#0eafca"/><stop offset=".875" stop-color="#1e93e5"/><stop offset=".906" stop-color="#2b7ff5"/><stop offset=".938" stop-color="#396df9"/><stop offset=".969" stop-color="#445ef6"/><stop offset="1.000" stop-color="#4856f3"/></linearGradient><linearGradient id="hd25" x1="0" y1="0" x2="0" y2="1"><stop offset=".000" stop-color="#37c39e"/><stop offset=".031" stop-color="#2dc1a7"/><stop offset=".062" stop-color="#23beb0"/><stop offset=".094" stop-color="#1cbbb5"/><stop offset=".125" stop-color="#19bab8"/><stop offset=".156" stop-color="#18bab8"/><stop offset=".188" stop-color="#1ebcb4"/><stop offset=".219" stop-color="#25bfae"/><stop offset=".250" stop-color="#2cc1a8"/><stop offset=".281" stop-color="#33c3a2"/><stop offset=".312" stop-color="#39c39d"/><stop offset=".344" stop-color="#3ec497"/><stop offset=".375" stop-color="#46c590"/><stop offset=".406" stop-color="#51c785"/><stop offset=".438" stop-color="#5fc977"/><stop offset=".469" stop-color="#77c964"/><stop offset=".500" stop-color="#96ca4a"/><stop offset=".531" stop-color="#c9c02a"/><stop offset=".562" stop-color="#fab633"/><stop offset=".594" stop-color="#fdd02c"/><stop offset=".625" stop-color="#f9e722"/><stop offset=".656" stop-color="#f9e722"/><stop offset=".688" stop-color="#fdcf2c"/><stop offset=".719" stop-color="#f9b633"/><stop offset=".750" stop-color="#c5c12d"/><stop offset=".781" stop-color="#74c965"/><stop offset=".812" stop-color="#2ec2a6"/><stop offset=".844" stop-color="#0fadcd"/><stop offset=".875" stop-color="#1f91e7"/><stop offset=".906" stop-color="#2d7df6"/><stop offset=".938" stop-color="#3b6bf9"/><stop offset=".969" stop-color="#455cf6"/><stop offset="1.000" stop-color="#4954f3"/></linearGradient><linearGradient id="hd26" x1="0" y1="0" x2="0" y2="1"><stop offset=".000" stop-color="#39c39d"/><stop offset=".031" stop-color="#2ec2a7"/><stop offset=".062" stop-color="#23beaf"/><stop offset=".094" stop-color="#1dbcb4"/><stop offset=".125" stop-color="#1abbb7"/><stop offset=".156" stop-color="#19bbb7"/><stop offset=".188" stop-color="#1ebcb3"/><stop offset=".219" stop-color="#25bfae"/><stop offset=".250" stop-color="#2dc1a8"/><stop offset=".281" stop-color="#34c3a1"/><stop offset=".312" stop-color="#3ac49b"/><stop offset=".344" stop-color="#41c494"/><stop offset=".375" stop-color="#4ac68b"/><stop offset=".406" stop-color="#57c87e"/><stop offset=".438" stop-color="#6bc96d"/><stop offset=".469" stop-color="#87ca56"/><stop offset=".500" stop-color="#a9c83e"/><stop offset=".531" stop-color="#d6b929"/><stop offset=".562" stop-color="#fdbc32"/><stop offset=".594" stop-color="#fcd928"/><stop offset=".625" stop-color="#f8ec1f"/><stop offset=".656" stop-color="#f9e921"/><stop offset=".688" stop-color="#fece2d"/><stop offset=".719" stop-color="#f6b632"/><stop offset=".750" stop-color="#bfc230"/><stop offset=".781" stop-color="#6cc96c"/><stop offset=".812" stop-color="#2ac0aa"/><stop offset=".844" stop-color="#10abcf"/><stop offset=".875" stop-color="#218ee9"/><stop offset=".906" stop-color="#2e7bf8"/><stop offset=".938" stop-color="#3d68f9"/><stop offset=".969" stop-color="#465af5"/><stop offset="1.000" stop-color="#4a52f2"/></linearGradient><linearGradient id="hd27" x1="0" y1="0" x2="0" y2="1"><stop offset=".000" stop-color="#3bc49b"/><stop offset=".031" stop-color="#2fc2a6"/><stop offset=".062" stop-color="#24beaf"/><stop offset=".094" stop-color="#1fbdb3"/><stop offset=".125" stop-color="#1cbcb5"/><stop offset=".156" stop-color="#1bbbb6"/><stop offset=".188" stop-color="#20bdb2"/><stop offset=".219" stop-color="#26bfad"/><stop offset=".250" stop-color="#2fc2a6"/><stop offset=".281" stop-color="#36c39f"/><stop offset=".312" stop-color="#3dc498"/><stop offset=".344" stop-color="#45c590"/><stop offset=".375" stop-color="#50c786"/><stop offset=".406" stop-color="#60c976"/><stop offset=".438" stop-color="#7bc960"/><stop offset=".469" stop-color="#9cca45"/><stop offset=".500" stop-color="#bdc331"/><stop offset=".531" stop-color="#e5b62c"/><stop offset=".562" stop-color="#fec331"/><stop offset=".594" stop-color="#fae025"/><stop offset=".625" stop-color="#f8ef1e"/><stop offset=".656" stop-color="#f9e921"/><stop offset=".688" stop-color="#fece2d"/><stop offset=".719" stop-color="#f5b632"/><stop offset=".750" stop-color="#bdc331"/><stop offset=".781" stop-color="#66c971"/><stop offset=".812" stop-color="#26bfad"/><stop offset=".844" stop-color="#10aad0"/><stop offset=".875" stop-color="#238ceb"/><stop offset=".906" stop-color="#3177fa"/><stop offset=".938" stop-color="#4065f8"/><stop offset=".969" stop-color="#4856f4"/><stop offset="1.000" stop-color="#4a4eee"/></linearGradient><linearGradient id="hd28" x1="0" y1="0" x2="0" y2="1"><stop offset=".000" stop-color="#3dc498"/><stop offset=".031" stop-color="#32c2a3"/><stop offset=".062" stop-color="#27bfad"/><stop offset=".094" stop-color="#22bdb1"/><stop offset=".125" stop-color="#1fbdb3"/><stop offset=".156" stop-color="#1fbcb3"/><stop offset=".188" stop-color="#23beb0"/><stop offset=".219" stop-color="#29c0ab"/><stop offset=".250" stop-color="#32c2a3"/><stop offset=".281" stop-color="#3ac49b"/><stop offset=".312" stop-color="#41c494"/><stop offset=".344" stop-color="#4bc68b"/><stop offset=".375" stop-color="#58c87e"/><stop offset=".406" stop-color="#6fc96a"/><stop offset=".438" stop-color="#90ca4f"/><stop offset=".469" stop-color="#b0c639"/><stop offset=".500" stop-color="#cfbd29"/><stop offset=".531" stop-color="#fab634"/><stop offset=".562" stop-color="#fdd02c"/><stop offset=".594" stop-color="#f9e821"/><stop offset=".625" stop-color="#f7f11d"/><stop offset=".656" stop-color="#f9ea20"/><stop offset=".688" stop-color="#fecd2d"/><stop offset=".719" stop-color="#f1b630"/><stop offset=".750" stop-color="#b6c435"/><stop offset=".781" stop-color="#5ec878"/><stop offset=".812" stop-color="#21bdb1"/><stop offset=".844" stop-color="#12a7d3"/><stop offset=".875" stop-color="#2589ed"/><stop offset=".906" stop-color="#3374fa"/><stop offset=".938" stop-color="#4261f8"/><stop offset=".969" stop-color="#4a53f2"/><stop offset="1.000" stop-color="#494aea"/></linearGradient><linearGradient id="hd29" x1="0" y1="0" x2="0" y2="1"><stop offset=".000" stop-color="#40c495"/><stop offset=".031" stop-color="#35c3a0"/><stop offset=".062" stop-color="#2bc1a9"/><stop offset=".094" stop-color="#25beae"/><stop offset=".125" stop-color="#23beaf"/><stop offset=".156" stop-color="#24beaf"/><stop offset=".188" stop-color="#28bfac"/><stop offset=".219" stop-color="#2dc1a7"/><stop offset=".250" stop-color="#37c39e"/><stop offset=".281" stop-color="#3fc496"/><stop offset=".312" stop-color="#47c58f"/><stop offset=".344" stop-color="#53c783"/><stop offset=".375" stop-color="#63c973"/><stop offset=".406" stop-color="#83ca5a"/><stop offset=".438" stop-color="#a6c83f"/><stop offset=".469" stop-color="#c6c12c"/><stop offset=".500" stop-color="#e0b62a"/><stop offset=".531" stop-color="#fec231"/><stop offset=".562" stop-color="#fae124"/><stop offset=".594" stop-color="#f8ef1e"/><stop offset=".625" stop-color="#f7f31d"/><stop offset=".656" stop-color="#f9eb20"/><stop offset=".688" stop-color="#fecd2d"/><stop offset=".719" stop-color="#e8b62d"/><stop offset=".750" stop-color="#aac73c"/><stop offset=".781" stop-color="#55c781"/><stop offset=".812" stop-color="#1bbbb6"/><stop offset=".844" stop-color="#14a3d7"/><stop offset=".875" stop-color="#2687ef"/><stop offset=".906" stop-color="#3671f9"/><stop offset=".938" stop-color="#445df6"/><stop offset=".969" stop-color="#4a4eee"/><stop offset="1.000" stop-color="#4844e4"/></linearGradient><linearGradient id="hd30" x1="0" y1="0" x2="0" y2="1"><stop offset=".000" stop-color="#43c593"/><stop offset=".031" stop-color="#39c39c"/><stop offset=".062" stop-color="#2fc2a6"/><stop offset=".094" stop-color="#29c0ab"/><stop offset=".125" stop-color="#28bfac"/><stop offset=".156" stop-color="#29c0ab"/><stop offset=".188" stop-color="#2dc1a7"/><stop offset=".219" stop-color="#34c3a2"/><stop offset=".250" stop-color="#3dc499"/><stop offset=".281" stop-color="#45c591"/><stop offset=".312" stop-color="#4dc688"/><stop offset=".344" stop-color="#5cc87a"/><stop offset=".375" stop-color="#75c965"/><stop offset=".406" stop-color="#99ca48"/><stop offset=".438" stop-color="#bbc332"/><stop offset=".469" stop-color="#d8b828"/><stop offset=".500" stop-color="#f6b632"/><stop offset=".531" stop-color="#fdd02c"/><stop offset=".562" stop-color="#f8ec1f"/><stop offset=".594" stop-color="#f7f31c"/><stop offset=".625" stop-color="#f7f31c"/><stop offset=".656" stop-color="#f9ea21"/><stop offset=".688" stop-color="#ffc630"/><stop offset=".719" stop-color="#d7b929"/><stop offset=".750" stop-color="#91ca4e"/><stop offset=".781" stop-color="#44c591"/><stop offset=".812" stop-color="#0eb7c1"/><stop offset=".844" stop-color="#199bdd"/><stop offset=".875" stop-color="#2a81f3"/><stop offset=".906" stop-color="#3b6bf9"/><stop offset=".938" stop-color="#4758f4"/><stop offset=".969" stop-color="#4947e7"/><stop offset="1.000" stop-color="#473edd"/></linearGradient><linearGradient id="hd31" x1="0" y1="0" x2="0" y2="1"><stop offset=".000" stop-color="#46c590"/><stop offset=".031" stop-color="#3dc498"/><stop offset=".062" stop-color="#34c3a1"/><stop offset=".094" stop-color="#2ec2a7"/><stop offset=".125" stop-color="#2dc1a8"/><stop offset=".156" stop-color="#2ec2a7"/><stop offset=".188" stop-color="#33c3a2"/><stop offset=".219" stop-color="#3bc49b"/><stop offset=".250" stop-color="#43c593"/><stop offset=".281" stop-color="#4bc68a"/><stop offset=".312" stop-color="#55c781"/><stop offset=".344" stop-color="#68c96f"/><stop offset=".375" stop-color="#89ca55"/><stop offset=".406" stop-color="#adc63b"/><stop offset=".438" stop-color="#cfbd29"/><stop offset=".469" stop-color="#edb62f"/><stop offset=".500" stop-color="#fdbf32"/><stop offset=".531" stop-color="#fbde26"/><stop offset=".562" stop-color="#f8f01e"/><stop offset=".594" stop-color="#f7f41c"/><stop offset=".625" stop-color="#f7f31d"/><stop offset=".656" stop-color="#f9e622"/><stop offset=".688" stop-color="#fdbe32"/><stop offset=".719" stop-color="#c0c22f"/><stop offset=".750" stop-color="#69c96f"/><stop offset=".781" stop-color="#2cc1a8"/><stop offset=".812" stop-color="#0faecc"/><stop offset=".844" stop-color="#2091e8"/><stop offset=".875" stop-color="#3079fa"/><stop offset=".906" stop-color="#4263f8"/><stop offset=".938" stop-color="#4a51f1"/><stop offset=".969" stop-color="#483fdf"/><stop offset="1.000" stop-color="#4538d4"/></linearGradient><linearGradient id="hd32" x1="0" y1="0" x2="0" y2="1"><stop offset=".000" stop-color="#48c58d"/><stop offset=".031" stop-color="#41c495"/><stop offset=".062" stop-color="#38c39d"/><stop offset=".094" stop-color="#32c2a3"/><stop offset=".125" stop-color="#31c2a4"/><stop offset=".156" stop-color="#33c3a2"/><stop offset=".188" stop-color="#39c39c"/><stop offset=".219" stop-color="#41c495"/><stop offset=".250" stop-color="#49c68c"/><stop offset=".281" stop-color="#53c783"/><stop offset=".312" stop-color="#5fc977"/><stop offset=".344" stop-color="#7bc960"/><stop offset=".375" stop-color="#9fca44"/><stop offset=".406" stop-color="#c2c22e"/><stop offset=".438" stop-color="#e2b62a"/><stop offset=".469" stop-color="#fcbb33"/><stop offset=".500" stop-color="#fecb2e"/><stop offset=".531" stop-color="#f9e821"/><stop offset=".562" stop-color="#f7f31d"/><stop offset=".594" stop-color="#f7f41c"/><stop offset=".625" stop-color="#f7f11d"/><stop offset=".656" stop-color="#fbde25"/><stop offset=".688" stop-color="#f8b633"/><stop offset=".719" stop-color="#a9c83e"/><stop offset=".750" stop-color="#52c784"/><stop offset=".781" stop-color="#1bbbb6"/><stop offset=".812" stop-color="#13a5d5"/><stop offset=".844" stop-color="#2589ee"/><stop offset=".875" stop-color="#3671f9"/><stop offset=".906" stop-color="#455bf6"/><stop offset=".938" stop-color="#4949e9"/><stop offset=".969" stop-color="#4639d5"/><stop offset="1.000" stop-color="#4331ca"/></linearGradient><linearGradient id="hd33" x1="0" y1="0" x2="0" y2="1"><stop offset=".000" stop-color="#4bc68b"/><stop offset=".031" stop-color="#43c592"/><stop offset=".062" stop-color="#3bc49a"/><stop offset=".094" stop-color="#37c39e"/><stop offset=".125" stop-color="#36c39f"/><stop offset=".156" stop-color="#38c39d"/><stop offset=".188" stop-color="#3ec497"/><stop offset=".219" stop-color="#46c58f"/><stop offset=".250" stop-color="#50c786"/><stop offset=".281" stop-color="#5cc87a"/><stop offset=".312" stop-color="#6fc96a"/><stop offset=".344" stop-color="#90ca4f"/><stop offset=".375" stop-color="#b3c537"/><stop offset=".406" stop-color="#d5ba29"/><stop offset=".438" stop-color="#fbb634"/><stop offset=".469" stop-color="#feca2e"/><stop offset=".500" stop-color="#fbda27"/><stop offset=".531" stop-color="#f8ed1f"/><stop offset=".562" stop-color="#f7f31c"/><stop offset=".594" stop-color="#f7f41c"/><stop offset=".625" stop-color="#f8ee1e"/><stop offset=".656" stop-color="#fdd22b"/><stop offset=".688" stop-color="#e1b62a"/><stop offset=".719" stop-color="#93ca4d"/><stop offset=".750" stop-color="#45c591"/><stop offset=".781" stop-color="#10b8be"/><stop offset=".812" stop-color="#179edb"/><stop offset=".844" stop-color="#2983f2"/><stop offset=".875" stop-color="#3b6bf9"/><stop offset=".906" stop-color="#4955f3"/><stop offset=".938" stop-color="#4841e1"/><stop offset=".969" stop-color="#4432cc"/><stop offset="1.000" stop-color="#422dc0"/></linearGradient><linearGradient id="hd34" x1="0" y1="0" x2="0" y2="1"><stop offset=".000" stop-color="#4cc689"/><stop offset=".031" stop-color="#45c590"/><stop offset=".062" stop-color="#3ec497"/><stop offset=".094" stop-color="#3bc49a"/><stop offset=".125" stop-color="#3bc49a"/><stop offset=".156" stop-color="#3dc499"/><stop offset=".188" stop-color="#43c592"/><stop offset=".219" stop-color="#4cc689"/><stop offset=".250" stop-color="#58c87e"/><stop offset=".281" stop-color="#69c96f"/><stop offset=".312" stop-color="#83ca59"/><stop offset=".344" stop-color="#a6c83f"/><stop offset=".375" stop-color="#c9c02a"/><stop offset=".406" stop-color="#ebb62e"/><stop offset=".438" stop-color="#fec231"/><stop offset=".469" stop-color="#fbdb27"/><stop offset=".500" stop-color="#fae622"/><stop offset=".531" stop-color="#f8f11d"/><stop offset=".562" stop-color="#f7f41c"/><stop offset=".594" stop-color="#f7f31c"/><stop offset=".625" stop-color="#f9eb20"/><stop offset=".656" stop-color="#ffc530"/><stop offset=".688" stop-color="#cfbd29"/><stop offset=".719" stop-color="#7dc95e"/><stop offset=".750" stop-color="#38c39d"/><stop offset=".781" stop-color="#0db3c5"/><stop offset=".812" stop-color="#1b98e1"/><stop offset=".844" stop-color="#2c7ef6"/><stop offset=".875" stop-color="#4064f8"/><stop offset=".906" stop-color="#4a4eee"/><stop offset=".938" stop-color="#463bd8"/><stop offset=".969" stop-color="#422ec3"/><stop offset="1.000" stop-color="#412bb8"/></linearGradient><linearGradient id="hd35" x1="0" y1="0" x2="0" y2="1"><stop offset=".000" stop-color="#4cc689"/><stop offset=".031" stop-color="#47c58f"/><stop offset=".062" stop-color="#41c495"/><stop offset=".094" stop-color="#3ec498"/><stop offset=".125" stop-color="#3fc497"/><stop offset=".156" stop-color="#42c594"/><stop offset=".188" stop-color="#4ac68c"/><stop offset=".219" stop-color="#54c782"/><stop offset=".250" stop-color="#61c975"/><stop offset=".281" stop-color="#7bc960"/><stop offset=".312" stop-color="#9bca46"/><stop offset=".344" stop-color="#bdc331"/><stop offset=".375" stop-color="#dcb628"/><stop offset=".406" stop-color="#fcbb33"/><stop offset=".438" stop-color="#fdd12b"/><stop offset=".469" stop-color="#f9e622"/><stop offset=".500" stop-color="#f8eb20"/><stop offset=".531" stop-color="#f7f21d"/><stop offset=".562" stop-color="#f7f41c"/><stop offset=".594" stop-color="#f7f31d"/><stop offset=".625" stop-color="#fae523"/><stop offset=".656" stop-color="#fcbb33"/><stop offset=".688" stop-color="#bfc230"/><stop offset=".719" stop-color="#69c96e"/><stop offset=".750" stop-color="#2cc1a8"/><stop offset=".781" stop-color="#0eafcb"/><stop offset=".812" stop-color="#1f92e6"/><stop offset=".844" stop-color="#3078fa"/><stop offset=".875" stop-color="#445ef6"/><stop offset=".906" stop-color="#4947e7"/><stop offset=".938" stop-color="#4535cf"/><stop offset=".969" stop-color="#412cbb"/><stop offset="1.000" stop-color="#4029b3"/></linearGradient><linearGradient id="hd36" x1="0" y1="0" x2="0" y2="1"><stop offset=".000" stop-color="#4dc689"/><stop offset=".031" stop-color="#48c58e"/><stop offset=".062" stop-color="#43c593"/><stop offset=".094" stop-color="#40c495"/><stop offset=".125" stop-color="#43c593"/><stop offset=".156" stop-color="#47c58f"/><stop offset=".188" stop-color="#50c785"/><stop offset=".219" stop-color="#5bc87a"/><stop offset=".250" stop-color="#6fc969"/><stop offset=".281" stop-color="#8eca51"/><stop offset=".312" stop-color="#aec63a"/><stop offset=".344" stop-color="#cfbd29"/><stop offset=".375" stop-color="#f2b630"/><stop offset=".406" stop-color="#ffc630"/><stop offset=".438" stop-color="#fbe025"/><stop offset=".469" stop-color="#f8ee1f"/><stop offset=".500" stop-color="#f8f01e"/><stop offset=".531" stop-color="#f7f31c"/><stop offset=".562" stop-color="#f7f41c"/><stop offset=".594" stop-color="#f7f21d"/><stop offset=".625" stop-color="#fbdf25"/><stop offset=".656" stop-color="#f4b631"/><stop offset=".688" stop-color="#aec63a"/><stop offset=".719" stop-color="#5ac87c"/><stop offset=".750" stop-color="#21bdb1"/><stop offset=".781" stop-color="#10aad0"/><stop offset=".812" stop-color="#228ceb"/><stop offset=".844" stop-color="#3572f9"/><stop offset=".875" stop-color="#4758f4"/><stop offset=".906" stop-color="#4840e0"/><stop offset=".938" stop-color="#4330c8"/><stop offset=".969" stop-color="#402ab6"/><stop offset="1.000" stop-color="#3f27af"/></linearGradient><linearGradient id="hd37" x1="0" y1="0" x2="0" y2="1"><stop offset=".000" stop-color="#4dc689"/><stop offset=".031" stop-color="#48c58e"/><stop offset=".062" stop-color="#44c592"/><stop offset=".094" stop-color="#43c592"/><stop offset=".125" stop-color="#47c58f"/><stop offset=".156" stop-color="#4cc689"/><stop offset=".188" stop-color="#57c77f"/><stop offset=".219" stop-color="#64c972"/><stop offset=".250" stop-color="#7ec95e"/><stop offset=".281" stop-color="#9eca44"/><stop offset=".312" stop-color="#bec331"/><stop offset=".344" stop-color="#dcb628"/><stop offset=".375" stop-color="#fcb933"/><stop offset=".406" stop-color="#fdd32a"/><stop offset=".438" stop-color="#f9e821"/><stop offset=".469" stop-color="#f8f11d"/><stop offset=".500" stop-color="#f7f21d"/><stop offset=".531" stop-color="#f7f41c"/><stop offset=".562" stop-color="#f7f41c"/><stop offset=".594" stop-color="#f8f01e"/><stop offset=".625" stop-color="#fcd828"/><stop offset=".656" stop-color="#e8b62d"/><stop offset=".688" stop-color="#a2c942"/><stop offset=".719" stop-color="#50c785"/><stop offset=".750" stop-color="#19bab8"/><stop offset=".781" stop-color="#13a4d5"/><stop offset=".812" stop-color="#2687ef"/><stop offset=".844" stop-color="#396df9"/><stop offset=".875" stop-color="#4953f2"/><stop offset=".906" stop-color="#473cd9"/><stop offset=".938" stop-color="#422ec2"/><stop offset=".969" stop-color="#4029b3"/><stop offset="1.000" stop-color="#3f27ae"/></linearGradient></defs><clipPath id="cphd"><rect x="954.7" y="61.5" width="425.4" height="426.1"/></clipPath><filter id="hbhd" filterUnits="userSpaceOnUse" x="914.7" y="56.5" width="505.4" height="436.1"><feGaussianBlur stdDeviation="5 0"/></filter><g clip-path="url(#cphd)"><g filter="url(#hbhd)"><rect x="934.4" y="61.5" width="31.8" height="426.1" fill="url(#hd0)"/><rect x="965.6" y="61.5" width="11.8" height="426.1" fill="url(#hd1)"/><rect x="976.8" y="61.5" width="11.8" height="426.1" fill="url(#hd2)"/><rect x="988" y="61.5" width="11.8" height="426.1" fill="url(#hd3)"/><rect x="999.2" y="61.5" width="11.8" height="426.1" fill="url(#hd4)"/><rect x="1010.4" y="61.5" width="11.8" height="426.1" fill="url(#hd5)"/><rect x="1021.6" y="61.5" width="11.8" height="426.1" fill="url(#hd6)"/><rect x="1032.8" y="61.5" width="11.8" height="426.1" fill="url(#hd7)"/><rect x="1044" y="61.5" width="11.8" height="426.1" fill="url(#hd8)"/><rect x="1055.2" y="61.5" width="11.8" height="426.1" fill="url(#hd9)"/><rect x="1066.3" y="61.5" width="11.8" height="426.1" fill="url(#hd10)"/><rect x="1077.5" y="61.5" width="11.8" height="426.1" fill="url(#hd11)"/><rect x="1088.7" y="61.5" width="11.8" height="426.1" fill="url(#hd12)"/><rect x="1099.9" y="61.5" width="11.8" height="426.1" fill="url(#hd13)"/><rect x="1111.1" y="61.5" width="11.8" height="426.1" fill="url(#hd14)"/><rect x="1122.3" y="61.5" width="11.8" height="426.1" fill="url(#hd15)"/><rect x="1133.5" y="61.5" width="11.8" height="426.1" fill="url(#hd16)"/><rect x="1144.7" y="61.5" width="11.8" height="426.1" fill="url(#hd17)"/><rect x="1155.9" y="61.5" width="11.8" height="426.1" fill="url(#hd18)"/><rect x="1167.1" y="61.5" width="11.8" height="426.1" fill="url(#hd19)"/><rect x="1178.3" y="61.5" width="11.8" height="426.1" fill="url(#hd20)"/><rect x="1189.5" y="61.5" width="11.8" height="426.1" fill="url(#hd21)"/><rect x="1200.7" y="61.5" width="11.8" height="426.1" fill="url(#hd22)"/><rect x="1211.9" y="61.5" width="11.8" height="426.1" fill="url(#hd23)"/><rect x="1223.1" y="61.5" width="11.8" height="426.1" fill="url(#hd24)"/><rect x="1234.3" y="61.5" width="11.8" height="426.1" fill="url(#hd25)"/><rect x="1245.5" y="61.5" width="11.8" height="426.1" fill="url(#hd26)"/><rect x="1256.7" y="61.5" width="11.8" height="426.1" fill="url(#hd27)"/><rect x="1267.9" y="61.5" width="11.8" height="426.1" fill="url(#hd28)"/><rect x="1279" y="61.5" width="11.8" height="426.1" fill="url(#hd29)"/><rect x="1290.2" y="61.5" width="11.8" height="426.1" fill="url(#hd30)"/><rect x="1301.4" y="61.5" width="11.8" height="426.1" fill="url(#hd31)"/><rect x="1312.6" y="61.5" width="11.8" height="426.1" fill="url(#hd32)"/><rect x="1323.8" y="61.5" width="11.8" height="426.1" fill="url(#hd33)"/><rect x="1335" y="61.5" width="11.8" height="426.1" fill="url(#hd34)"/><rect x="1346.2" y="61.5" width="11.8" height="426.1" fill="url(#hd35)"/><rect x="1357.4" y="61.5" width="11.8" height="426.1" fill="url(#hd36)"/><rect x="1368.6" y="61.5" width="31.8" height="426.1" fill="url(#hd37)"/></g></g><path d="M1179 61.5V487.6" stroke="#3b2a9c" stroke-width="1.75" stroke-dasharray="6.4 6.9" stroke-dashoffset="-3" fill="none"/><path d="M954.7 317.2H1380.1" stroke="#18a04a" stroke-width="1.7" stroke-dasharray="7.2 6.3" fill="none"/><g clip-path="url(#cphd)"><path d="M994.6 167.4H1011.6M994.6 167.4v0M1011.6 167.4v0M1000.7 178.2H1017.7M1000.7 178.2v0M1017.7 178.2v0M1007.3 188.5H1024.3M1007.3 188.5v0M1024.3 188.5v0M1020.8 199.7H1037.8M1020.8 199.7v0M1037.8 199.7v0M1034.4 210H1051.4M1034.4 210v0M1051.4 210v0M1043.8 220.7H1060.8M1043.8 220.7v0M1060.8 220.7v0M1054.5 231.5H1071.5M1054.5 231.5v0M1071.5 231.5v0M1064.3 241.8H1081.3M1064.3 241.8v0M1081.3 241.8v0M1074.2 253H1091.2M1074.2 253v0M1091.2 253v0M1078.8 263.3H1095.8M1078.8 263.3v0M1095.8 263.3v0M1084.9 274.1H1101.9M1084.9 274.1v0M1101.9 274.1v0M1093.4 284.4H1110.4M1093.4 284.4v0M1110.4 284.4v0M1100.8 295.1H1117.8M1100.8 295.1v0M1117.8 295.1v0M1123.3 305.9H1140.3M1123.3 305.9v0M1140.3 305.9v0M1142 317.1H1159M1142 317.1v0M1159 317.1v0M1145.3 327.9H1162.3M1145.3 327.9v0M1162.3 327.9v0M1147.1 338.1H1164.1M1147.1 338.1v0M1164.1 338.1v0M1158.8 359.2H1175.8M1158.8 359.2v0M1175.8 359.2v0M1178.6 351V359M1170.6 351h16M1170.6 359h16M1189.3 350.5V358.5M1181.3 350.5h16M1181.3 358.5h16M1200.6 351.4V361.4M1192.6 351.4h16M1192.6 361.4h16M1211.3 347.7V355.7M1203.3 347.7h16M1203.3 355.7h16M1222.5 348.1V358.1M1214.5 348.1h16M1214.5 358.1h16M1233.8 346.7V356.7M1225.8 346.7h16M1225.8 356.7h16M1245.5 344.4V354.4M1237.5 344.4h16M1237.5 354.4h16" stroke="#f08010" stroke-width="1.1" fill="none"/></g><g clip-path="url(#cphd)"><path d="M1239.7 348.9H1257.7M1239.7 340.9v16M1257.7 340.9v16M1233.7 359.7H1249.7M1233.7 351.7v16M1249.7 351.7v16M1197.9 418.1H1207.9M1197.9 415.1v6M1207.9 415.1v6M1202.9 413.1V423.1M1199.9 413.1h6M1199.9 423.1h6M1199.3 413.5H1209.3M1199.3 410.5v6M1209.3 410.5v6M1204.3 408.5V418.5M1201.3 408.5h6M1201.3 418.5h6M1201.2 408.8H1211.2M1201.2 405.8v6M1211.2 405.8v6M1206.2 403.8V413.8M1203.2 403.8h6M1203.2 413.8h6M1203 404.6H1213M1203 401.6v6M1213 401.6v6M1208 399.6V409.6M1205 399.6h6M1205 409.6h6M1204.9 400.4H1214.9M1204.9 397.4v6M1214.9 397.4v6M1209.9 395.4V405.4M1206.9 395.4h6M1206.9 405.4h6M1206.8 396.2H1216.8M1206.8 393.2v6M1216.8 393.2v6M1211.8 391.2V401.2M1208.8 391.2h6M1208.8 401.2h6M1208.2 391.9H1218.2M1208.2 388.9v6M1218.2 388.9v6M1213.2 386.9V396.9M1210.2 386.9h6M1210.2 396.9h6M1209.6 387.7H1219.6M1209.6 384.7v6M1219.6 384.7v6M1214.6 382.7V392.7M1211.6 382.7h6M1211.6 392.7h6M1211 383.5H1221M1211 380.5v6M1221 380.5v6M1216 378.5V388.5M1213 378.5h6M1213 388.5h6M1212.4 379.3H1222.4M1212.4 376.3v6M1222.4 376.3v6M1217.4 374.3V384.3M1214.4 374.3h6M1214.4 384.3h6M1213.3 375.1H1223.3M1213.3 372.1v6M1223.3 372.1v6M1218.3 370.1V380.1M1215.3 370.1h6M1215.3 380.1h6M1214.3 370.9H1224.3M1214.3 366.9v8M1224.3 366.9v8M1219.3 364.9V376.9M1215.3 364.9h8M1215.3 376.9h8" stroke="#e8208c" stroke-width="1.1" fill="none"/></g><g clip-path="url(#cphd)"><path d="M1273.4 338.1H1290.4M1273.4 338.1v0M1290.4 338.1v0M1290.8 327.9H1307.8M1290.8 327.9v0M1307.8 327.9v0M1304.3 317.1H1321.3M1304.3 317.1v0M1321.3 317.1v0M1316 306.3H1333M1316 306.3v0M1333 306.3v0M1331.4 295.1H1348.4M1331.4 295.1v0M1348.4 295.1v0M1342.7 284.8H1359.7M1342.7 284.8v0M1359.7 284.8v0M1352 274.5H1369M1352 274.5v0M1369 274.5v0M1360.9 264.2H1377.9M1360.9 264.2v0M1377.9 264.2v0" stroke="#3a3a3a" stroke-width="1.1" fill="none"/></g><circle cx="1248.7" cy="348.9" r="5.3" fill="url(#gm)"/><circle cx="1241.7" cy="359.7" r="5.3" fill="url(#gm)"/><circle cx="1202.9" cy="418.1" r="5.3" fill="url(#gm)"/><circle cx="1204.3" cy="413.5" r="5.3" fill="url(#gm)"/><circle cx="1206.2" cy="408.8" r="5.3" fill="url(#gm)"/><circle cx="1208" cy="404.6" r="5.3" fill="url(#gm)"/><circle cx="1209.9" cy="400.4" r="5.3" fill="url(#gm)"/><circle cx="1211.8" cy="396.2" r="5.3" fill="url(#gm)"/><circle cx="1213.2" cy="391.9" r="5.3" fill="url(#gm)"/><circle cx="1214.6" cy="387.7" r="5.3" fill="url(#gm)"/><circle cx="1216" cy="383.5" r="5.3" fill="url(#gm)"/><circle cx="1217.4" cy="379.3" r="5.3" fill="url(#gm)"/><circle cx="1218.3" cy="375.1" r="5.3" fill="url(#gm)"/><circle cx="1219.3" cy="370.9" r="5.3" fill="url(#gm)"/><circle cx="1003.1" cy="167.4" r="5.3" fill="url(#go)"/><circle cx="1009.2" cy="178.2" r="5.3" fill="url(#go)"/><circle cx="1015.8" cy="188.5" r="5.3" fill="url(#go)"/><circle cx="1029.3" cy="199.7" r="5.3" fill="url(#go)"/><circle cx="1042.9" cy="210" r="5.3" fill="url(#go)"/><circle cx="1052.3" cy="220.7" r="5.3" fill="url(#go)"/><circle cx="1063" cy="231.5" r="5.3" fill="url(#go)"/><circle cx="1072.8" cy="241.8" r="5.3" fill="url(#go)"/><circle cx="1082.7" cy="253" r="5.3" fill="url(#go)"/><circle cx="1087.3" cy="263.3" r="5.3" fill="url(#go)"/><circle cx="1093.4" cy="274.1" r="5.3" fill="url(#go)"/><circle cx="1101.9" cy="284.4" r="5.3" fill="url(#go)"/><circle cx="1109.3" cy="295.1" r="5.3" fill="url(#go)"/><circle cx="1131.8" cy="305.9" r="5.3" fill="url(#go)"/><circle cx="1150.5" cy="317.1" r="5.3" fill="url(#go)"/><circle cx="1153.8" cy="327.9" r="5.3" fill="url(#go)"/><circle cx="1155.6" cy="338.1" r="5.3" fill="url(#go)"/><circle cx="1167.3" cy="359.2" r="5.3" fill="url(#go)"/><circle cx="1178.6" cy="355" r="5.3" fill="url(#go)"/><circle cx="1189.3" cy="354.5" r="5.3" fill="url(#go)"/><circle cx="1200.6" cy="356.4" r="5.3" fill="url(#go)"/><circle cx="1211.3" cy="351.7" r="5.3" fill="url(#go)"/><circle cx="1222.5" cy="353.1" r="5.3" fill="url(#go)"/><circle cx="1233.8" cy="351.7" r="5.3" fill="url(#go)"/><circle cx="1245.5" cy="349.4" r="5.3" fill="url(#go)"/><circle cx="1281.9" cy="338.1" r="5.3" fill="url(#gk)"/><circle cx="1299.3" cy="327.9" r="5.3" fill="url(#gk)"/><circle cx="1312.8" cy="317.1" r="5.3" fill="url(#gk)"/><circle cx="1324.5" cy="306.3" r="5.3" fill="url(#gk)"/><circle cx="1339.9" cy="295.1" r="5.3" fill="url(#gk)"/><circle cx="1351.2" cy="284.8" r="5.3" fill="url(#gk)"/><circle cx="1360.5" cy="274.5" r="5.3" fill="url(#gk)"/><circle cx="1369.4" cy="264.2" r="5.3" fill="url(#gk)"/><path d="M1067.2 61.5v16.6M1067.2 487.6v-16.6M1179 61.5v16.6M1179 487.6v-16.6M1290.8 61.5v16.6M1290.8 487.6v-16.6" stroke="#000" stroke-width="3" fill="none"/><path d="M954.7 381.7h17.200000000000003M1380.1 381.7h-17.200000000000003M954.7 274.8h17.200000000000003M1380.1 274.8h-17.200000000000003M954.7 167.9h17.200000000000003M1380.1 167.9h-17.200000000000003" stroke="#000" stroke-width="2.3" fill="none"/><rect x="954.7" y="61.5" width="425.4" height="426.1" fill="none" stroke="#111" stroke-width="1.7"/><circle cx="1213.9" cy="88" r="5.2" fill="url(#go)"/><text transform="translate(1250.1 98.6) scale(1 1.04)" font-size="26.5">HF</text><circle cx="1213.9" cy="120.6" r="5.2" fill="url(#gm)"/><text transform="translate(1251.9 131.6) scale(1 1.04)" font-size="26.5">LF</text><circle cx="1213.9" cy="153.2" r="5.2" fill="url(#gk)"/><text transform="translate(1248.4 164.5) scale(1 1.04)" font-size="26.5">FM</text><text transform="translate(964.2 527) scale(1 1.04)" font-size="33.5" text-anchor="middle">150</text><text transform="translate(1065.3 527) scale(1 1.04)" font-size="33.5" text-anchor="middle">200</text><text transform="translate(1176.8 527) scale(1 1.04)" font-size="33.5" text-anchor="middle">250</text><text transform="translate(1288.8 527) scale(1 1.04)" font-size="33.5" text-anchor="middle">300</text><text transform="translate(945.6 77.5) scale(1 1.04)" font-size="33.5" text-anchor="end">14</text><text transform="translate(945.6 173.3) scale(1 1.04)" font-size="33.5" text-anchor="end">12</text><text transform="translate(945.6 281.3) scale(1 1.04)" font-size="33.5" text-anchor="end">10</text><text transform="translate(946.8 385.3) scale(1 1.04)" font-size="33.5" text-anchor="end">8</text><text transform="translate(946.8 480.8) scale(1 1.04)" font-size="33.5" text-anchor="end">6</text><text transform="translate(1186.5 567.5) scale(1 1.04)" font-size="39" text-anchor="middle"><tspan font-style="italic">μ</tspan><tspan font-style="italic" font-size="24.2" dy="6.2">0</tspan><tspan font-style="italic" dy="-6.2">H</tspan><tspan font-size="24.2" dy="6.2">⊥</tspan><tspan dy="-6.2"> (mT)</tspan></text><text transform="translate(901.7 273) rotate(-90) scale(1 1.04)" font-size="40.3" text-anchor="middle"><tspan font-style="italic">f</tspan> (GHz)</text><rect x="1399.6" y="122.6" width="14.1" height="331.8" fill="url(#cbar)"/><text transform="translate(1384.6 76.8) scale(1 1.04)" font-size="32.5">|<tspan font-style="italic">S</tspan><tspan font-style="italic" font-size="18.2" dy="3.9">12</tspan><tspan dy="-3.9">|</tspan></text><text transform="translate(1386.9 116.9) scale(1 1.04)" font-size="26.3">1.00</text><text transform="translate(1390.2 481) scale(1 1.04)" font-size="26.6">0.98</text></g>
<g id="panel-b"><path d="M618.8 100.6L620.3 100.5L621.8 99L623.3 98.1L624.8 99.7L626.3 101.9L627.8 103.5L629.3 104.5L630.8 104.9L632.3 105.7L633.8 106.8L635.3 108.7L636.8 110.8L638.3 111.4L639.8 110.9L641.3 111L642.8 110.7L644.3 111.8L645.8 113.9L647.3 115.5L648.8 115.7L650.3 116.5L651.8 118.4L653.3 118.9L654.8 118.2L656.3 119.1L657.8 120L659.3 119.5L660.8 121.8L662.3 125.2L663.8 126.5L665.3 126.8L666.8 125.7L668.3 126.3L669.8 127L671.3 126.7L672.8 128L674.3 130.1L675.8 131.9L677.3 131.8L678.8 132.4L680.3 135L681.8 136.6L683.3 137.1L684.8 138.4L686.3 138.7L687.8 138.5L689.3 138.2L690.8 137.4L692.3 138.9L693.8 141.1L695.3 142.7L696.8 143L698.3 142.6L699.8 141.9L701.3 139.2L702.8 137.9L704.3 136.6L705.8 135.2L707.3 134.7L708.8 136.3L710.3 135.9L711.8 133.6L713.3 132.1L714.8 130.9L716.3 130.4L717.8 130.1L719.3 130.1L720.8 131.5L722.3 132.4L723.8 131.4L725.3 130.7L726.8 130.8L728.3 131L729.8 131.2L731.3 131.9L732.8 131.5L734.3 131.1L735.8 130.1L737.3 130.4L738.8 130.4L740.3 130L741.8 129.1L743.3 129.3L744.8 130.5L746.3 131.5L747.8 131.7L749.3 131.7L750.8 131.4L752.3 132.5L753.8 132.7L755.3 134.5L756.8 136.5L758.3 138.1L759.8 139.7L761.3 140.8L762.8 141.6L764.3 143L765.8 145.7L767.3 147.2L768.8 147.6L770.3 147.7L771.8 148L773.3 149.4L774.8 152.1L776.3 154.4L777.8 154.8L779.3 155.8L780.8 158.2L782.3 159.8L783.8 160.6L785.3 162.1L786.8 163.3L788.3 164.5L789.8 165.5L791.3 165.9L792.8 168.2L794.3 170.1L795.8 171.3L797.3 173.3L798.8 174.5L800.3 176.5L801.8 178.7L803.3 179.1L804.8 180.3L806.3 181.9L807.8 182.1L809.3 182.3L810.8 182.1L812.3 181.8L813.8 181.5L815.3 182.5L816.8 181.4L818.3 179.6L819.8 179.2L821.3 177.8" stroke="#777777" stroke-width="1.6" fill="none" stroke-linejoin="round"/><path d="M618.8 126.2L620.3 124.9L621.8 123.9L623.3 123.4L624.8 124.1L626.3 124.3L627.8 125.3L629.3 126.3L630.8 127.4L632.3 128.1L633.8 128.9L635.3 130.9L636.8 133.9L638.3 135L639.8 133.5L641.3 132.7L642.8 133.4L644.3 135L645.8 136.4L647.3 136.2L648.8 135.9L650.3 136.2L651.8 137.4L653.3 137.7L654.8 138.2L656.3 139.4L657.8 141.5L659.3 140.4L660.8 139.9L662.3 143.9L663.8 146.8L665.3 147.2L666.8 145.7L668.3 145.5L669.8 146.9L671.3 148.1L672.8 150.1L674.3 153.4L675.8 155.5L677.3 155.8L678.8 156.1L680.3 158L681.8 158.5L683.3 158.3L684.8 160.1L686.3 161.3L687.8 162.6L689.3 163.8L690.8 165.5L692.3 167.2L693.8 168.9L695.3 169.2L696.8 167.8L698.3 167.6L699.8 168.9L701.3 167.9L702.8 166.2L704.3 164.7L705.8 163.3L707.3 162L708.8 163.6L710.3 164.4L711.8 162L713.3 160.2L714.8 159.6L716.3 159.5L717.8 159.3L719.3 158.6L720.8 159.2L722.3 159.4L723.8 160.3L725.3 161.5L726.8 161.4L728.3 160.6L729.8 160L731.3 159.1L732.8 160L734.3 159.8L735.8 159.3L737.3 160.4L738.8 160.6L740.3 160.9L741.8 160.1L743.3 160L744.8 160.5L746.3 161.7L747.8 162.4L749.3 162.2L750.8 162.4L752.3 164.1L753.8 164.9L755.3 165.8L756.8 167.2L758.3 168.6L759.8 169.6L761.3 170.8L762.8 172.3L764.3 172.7L765.8 174.6L767.3 176.9L768.8 177.9L770.3 177.4L771.8 177.9L773.3 179.7L774.8 181.6L776.3 182.2L777.8 181.3L779.3 181.8L780.8 184L782.3 185.4L783.8 185.7L785.3 187.1L786.8 188.3L788.3 189.9L789.8 191.8L791.3 194.1L792.8 195.5L794.3 196.3L795.8 197.4L797.3 198.2L798.8 197.9L800.3 199.3L801.8 200.4L803.3 201.6L804.8 203.2L806.3 203.1L807.8 202L809.3 201.1L810.8 201L812.3 201.5L813.8 202.1L815.3 201.9L816.8 201.3L818.3 200.8L819.8 200.5L821.3 199" stroke="#777777" stroke-width="1.6" fill="none" stroke-linejoin="round"/><path d="M618.8 147.6L620.3 147L621.8 146.3L623.3 146.2L624.8 148.1L626.3 149.6L627.8 150.3L629.3 150.6L630.8 150.5L632.3 150.6L633.8 151.2L635.3 153.4L636.8 155.4L638.3 155.1L639.8 153.6L641.3 153.6L642.8 153.5L644.3 153.8L645.8 156L647.3 158.8L648.8 159.4L650.3 159.1L651.8 160.7L653.3 160.5L654.8 159L656.3 159.8L657.8 161L659.3 159.7L660.8 159.8L662.3 164.9L663.8 168.4L665.3 168.8L666.8 168.2L668.3 168.2L669.8 169.5L671.3 169.8L672.8 170.9L674.3 174.2L675.8 177L677.3 178.4L678.8 179.8L680.3 182.5L681.8 183.5L683.3 184.2L684.8 186.4L686.3 187.9L687.8 189.2L689.3 190.7L690.8 190.7L692.3 192.1L693.8 194L695.3 194.9L696.8 196.4L698.3 198.1L699.8 197.7L701.3 195.4L702.8 193.5L704.3 192.9L705.8 193.4L707.3 193.2L708.8 193.4L710.3 193.3L711.8 192.3L713.3 191.6L714.8 190.5L716.3 190.3L717.8 190.8L719.3 191.1L720.8 191.9L722.3 191.7L723.8 190.5L725.3 191L726.8 192L728.3 193.6L729.8 194.1L731.3 193.9L732.8 192.9L734.3 192.1L735.8 193.5L737.3 194.4L738.8 193.4L740.3 194.1L741.8 194.4L743.3 195L744.8 197.3L746.3 197.8L747.8 197.4L749.3 197.6L750.8 197.2L752.3 198.3L753.8 199.9L755.3 200.7L756.8 202.6L758.3 203.6L759.8 204.4L761.3 205.6L762.8 207.2L764.3 207.8L765.8 209L767.3 211.5L768.8 212.3L770.3 212.3L771.8 212.5L773.3 213.8L774.8 215.5L776.3 216.8L777.8 217.2L779.3 218.5L780.8 219.6L782.3 219.3L783.8 219.3L785.3 221L786.8 223.3L788.3 224.6L789.8 225.5L791.3 227.2L792.8 227.5L794.3 228L795.8 229.9L797.3 232L798.8 231.2L800.3 230.2L801.8 230.1L803.3 230.1L804.8 230.5L806.3 229.7L807.8 228.7L809.3 228.2L810.8 227.6L812.3 227.4L813.8 226.9L815.3 225.1L816.8 222.6L818.3 220.5L819.8 219.1L821.3 218.1" stroke="#777777" stroke-width="1.6" fill="none" stroke-linejoin="round"/><path d="M618.8 172.9L620.3 172.2L621.8 171.5L623.3 170L624.8 169.7L626.3 170.1L627.8 170.8L629.3 171.1L630.8 171.8L632.3 173.2L633.8 174L635.3 175L636.8 175.8L638.3 176L639.8 176.4L641.3 176.7L642.8 175.5L644.3 176.6L645.8 178.7L647.3 179.6L648.8 179.5L650.3 179.8L651.8 180.6L653.3 181.2L654.8 180.9L656.3 180.3L657.8 180.9L659.3 180.6L660.8 182.3L662.3 186.8L663.8 188.2L665.3 186.7L666.8 185.9L668.3 187.1L669.8 188.1L671.3 188.6L672.8 191.3L674.3 194.8L675.8 197.6L677.3 198.4L678.8 199.8L680.3 201.8L681.8 203.6L683.3 205.8L684.8 209.5L686.3 212.5L687.8 213L689.3 214L690.8 214.9L692.3 216.6L693.8 219.5L695.3 221.4L696.8 223.9L698.3 225.7L699.8 225.8L701.3 224L702.8 223.8L704.3 222.7L705.8 221.9L707.3 221.9L708.8 222.5L710.3 223.9L711.8 224.1L713.3 223.5L714.8 222L716.3 221.1L717.8 221.3L719.3 221.1L720.8 221.6L722.3 222.1L723.8 222.3L725.3 222.9L726.8 223.3L728.3 224.4L729.8 225L731.3 225L732.8 224.2L734.3 223.2L735.8 223L737.3 224.2L738.8 224.9L740.3 225.2L741.8 224.3L743.3 225L744.8 226.8L746.3 228.7L747.8 228.3L749.3 227.3L750.8 226.7L752.3 228L753.8 230.2L755.3 232.3L756.8 232.9L758.3 233.3L759.8 233.6L761.3 235L762.8 237.1L764.3 237.8L765.8 237.9L767.3 239.7L768.8 241.2L770.3 241.1L771.8 240.9L773.3 243.2L774.8 244.7L776.3 244.2L777.8 245L779.3 246.8L780.8 248.3L782.3 249.1L783.8 250.3L785.3 250.3L786.8 250.6L788.3 251.7L789.8 251.9L791.3 253L792.8 253.5L794.3 253.7L795.8 253.6L797.3 254.4L798.8 253.9L800.3 252.8L801.8 251.4L803.3 250.2L804.8 249.3L806.3 249.6L807.8 249.1L809.3 247.9L810.8 247L812.3 246.4L813.8 244.5L815.3 243.2L816.8 241L818.3 238.1L819.8 235.4L821.3 235.1" stroke="#777777" stroke-width="1.6" fill="none" stroke-linejoin="round"/><path d="M618.8 193.8L620.3 192.3L621.8 191.8L623.3 192.2L624.8 193.3L626.3 194.3L627.8 195L629.3 194.8L630.8 194.4L632.3 193.8L633.8 195.5L635.3 197.6L636.8 197.7L638.3 197L639.8 197.1L641.3 197.9L642.8 197L644.3 196.8L645.8 198.2L647.3 199.8L648.8 199.3L650.3 198.7L651.8 199.7L653.3 200.4L654.8 200.6L656.3 201L657.8 201.8L659.3 200.3L660.8 200.7L662.3 204.8L663.8 207L665.3 207L666.8 206.1L668.3 206L669.8 207L671.3 208.3L672.8 210.8L674.3 213.8L675.8 216.3L677.3 217.4L678.8 219.8L680.3 222.9L681.8 224.3L683.3 226.5L684.8 228.8L686.3 230.2L687.8 232.1L689.3 234.8L690.8 236.1L692.3 239.1L693.8 242.6L695.3 244.1L696.8 245.5L698.3 247.6L699.8 250L701.3 249.9L702.8 249.6L704.3 248.9L705.8 248.5L707.3 249.1L708.8 251L710.3 252.7L711.8 251.4L713.3 249.8L714.8 249.6L716.3 250.3L717.8 249.2L719.3 249L720.8 250.3L722.3 250.8L723.8 251.2L725.3 251.7L726.8 251.5L728.3 252.4L729.8 251.8L731.3 251.8L732.8 252.7L734.3 252.7L735.8 252.7L737.3 253.7L738.8 252.9L740.3 253.1L741.8 253.5L743.3 255.6L744.8 258L746.3 258.7L747.8 257.8L749.3 257.4L750.8 257.2L752.3 257.7L753.8 259.7L755.3 261.8L756.8 263.1L758.3 264.2L759.8 265.1L761.3 266L762.8 266.8L764.3 266.8L765.8 267.9L767.3 270.2L768.8 271.9L770.3 273L771.8 272.4L773.3 272.8L774.8 273.6L776.3 273.7L777.8 273.7L779.3 274.8L780.8 276.2L782.3 276.7L783.8 276.3L785.3 276.9L786.8 277.4L788.3 277L789.8 277.1L791.3 277.6L792.8 277.3L794.3 275.9L795.8 274.9L797.3 275.5L798.8 273.9L800.3 272.4L801.8 271.1L803.3 269.5L804.8 270.2L806.3 269.9L807.8 268.2L809.3 265.7L810.8 262.5L812.3 260.9L813.8 261.4L815.3 260.3L816.8 258L818.3 255.8L819.8 253L821.3 250.9" stroke="#777777" stroke-width="1.6" fill="none" stroke-linejoin="round"/><path d="M618.8 219.8L620.3 218.7L621.8 217.1L623.3 216.9L624.8 218.5L626.3 218.3L627.8 216.4L629.3 216.7L630.8 218.4L632.3 218.7L633.8 219.1L635.3 220.6L636.8 221.1L638.3 222.2L639.8 221.7L641.3 220.9L642.8 220.6L644.3 220.8L645.8 221.2L647.3 222.1L648.8 222.5L650.3 222.1L651.8 222.8L653.3 223.6L654.8 223.5L656.3 223.6L657.8 223.4L659.3 221.5L660.8 221.4L662.3 225.1L663.8 227.4L665.3 227L666.8 226.4L668.3 227L669.8 226.5L671.3 227.1L672.8 230L674.3 233.7L675.8 236.1L677.3 237L678.8 238.2L680.3 240.6L681.8 242.9L683.3 245.6L684.8 248.6L686.3 251.1L687.8 253.4L689.3 256L690.8 256.3L692.3 258.5L693.8 263L695.3 266.6L696.8 269.1L698.3 271.2L699.8 274.3L701.3 274.7L702.8 273.8L704.3 273.5L705.8 274.4L707.3 277.2L708.8 280.6L710.3 282.3L711.8 282.8L713.3 283.1L714.8 282.2L716.3 281.6L717.8 280.5L719.3 280.2L720.8 281.6L722.3 282.2L723.8 282.3L725.3 283L726.8 282.8L728.3 282.5L729.8 282.8L731.3 283.5L732.8 283.1L734.3 282.8L735.8 283L737.3 284.3L738.8 284.7L740.3 284.2L741.8 283.7L743.3 285.9L744.8 287.8L746.3 288.9L747.8 288.6L749.3 288.2L750.8 288.4L752.3 289.5L753.8 290.1L755.3 290.6L756.8 291.9L758.3 293.2L759.8 293.7L761.3 293.6L762.8 293.8L764.3 295.5L765.8 297.8L767.3 300L768.8 301.1L770.3 300.4L771.8 299.5L773.3 300.8L774.8 301.7L776.3 301.7L777.8 301.1L779.3 301.2L780.8 301.8L782.3 301.2L783.8 300L785.3 299.6L786.8 299.3L788.3 300.4L789.8 301.1L791.3 301.3L792.8 299.9L794.3 297.3L795.8 296L797.3 296.3L798.8 294.3L800.3 292.4L801.8 289.5L803.3 288.4L804.8 288.7L806.3 287.5L807.8 285.1L809.3 282.4L810.8 280.1L812.3 279L813.8 277.7L815.3 276.1L816.8 273.1L818.3 269.9L819.8 268.6L821.3 267.3" stroke="#1fd11f" stroke-width="1.9" fill="none" stroke-linejoin="round"/><path d="M618.8 243L620.3 242.9L621.8 242.2L623.3 241.4L624.8 242.9L626.3 243.5L627.8 242.9L629.3 243.4L630.8 243.5L632.3 242.3L633.8 242.8L635.3 244.1L636.8 245.3L638.3 245.7L639.8 244.2L641.3 242.5L642.8 242.3L644.3 243.5L645.8 245.2L647.3 245.9L648.8 245.6L650.3 246L651.8 247.6L653.3 246.7L654.8 245.1L656.3 245.7L657.8 246.8L659.3 244.7L660.8 244.8L662.3 248.6L663.8 250.3L665.3 249.7L666.8 248.3L668.3 249.4L669.8 249.5L671.3 249.7L672.8 251.8L674.3 254.3L675.8 258L677.3 259.8L678.8 260.5L680.3 263.2L681.8 265.4L683.3 266.4L684.8 269L686.3 272.3L687.8 275L689.3 276.4L690.8 278.3L692.3 281.5L693.8 283.8L695.3 286.6L696.8 288.7L698.3 292.1L699.8 296.6L701.3 297.2L702.8 297.9L704.3 298.2L705.8 299.3L707.3 300.9L708.8 303.7L710.3 306L711.8 307.5L713.3 308.8L714.8 308.3L716.3 308.2L717.8 308.1L719.3 307.9L720.8 308.9L722.3 310.2L723.8 309.4L725.3 309.4L726.8 310.3L728.3 311.7L729.8 311.7L731.3 311.4L732.8 311.5L734.3 311.6L735.8 312L737.3 313.1L738.8 313.8L740.3 314.4L741.8 313.2L743.3 313.5L744.8 316.8L746.3 318.4L747.8 316.8L749.3 314.7L750.8 314L752.3 316.2L753.8 318.1L755.3 319.2L756.8 318.8L758.3 320.4L759.8 321.7L761.3 322L762.8 322.4L764.3 322.8L765.8 323.7L767.3 325.4L768.8 326L770.3 325.5L771.8 325.3L773.3 326.4L774.8 326.4L776.3 325.5L777.8 324.5L779.3 324.6L780.8 324.5L782.3 323.8L783.8 321.5L785.3 320.9L786.8 321.3L788.3 322.1L789.8 321L791.3 319.7L792.8 319.6L794.3 319.1L795.8 317.5L797.3 315.9L798.8 313.1L800.3 311.5L801.8 310.9L803.3 310L804.8 308.2L806.3 306.6L807.8 304.6L809.3 302.9L810.8 299.9L812.3 296.9L813.8 295.2L815.3 294.8L816.8 293.2L818.3 290.3L819.8 287.4L821.3 286.2" stroke="#777777" stroke-width="1.6" fill="none" stroke-linejoin="round"/><path d="M618.8 268.1L620.3 267L621.8 265.2L623.3 264L624.8 265.3L626.3 267.1L627.8 266.7L629.3 266.9L630.8 267.3L632.3 266.4L633.8 267.1L635.3 268.8L636.8 270.3L638.3 270.9L639.8 269.7L641.3 268.9L642.8 269L644.3 269.1L645.8 269.3L647.3 269.9L648.8 269.9L650.3 270.6L651.8 271L653.3 271.3L654.8 271.5L656.3 271.4L657.8 270.8L659.3 268.8L660.8 269.5L662.3 274.2L663.8 275.8L665.3 275.3L666.8 274.8L668.3 273.4L669.8 273.2L671.3 274L672.8 276.3L674.3 278.9L675.8 281.5L677.3 283.1L678.8 284.3L680.3 285.6L681.8 286.5L683.3 288.8L684.8 291.1L686.3 293.5L687.8 296L689.3 297.7L690.8 299.8L692.3 303.8L693.8 307.7L695.3 310.6L696.8 312.7L698.3 315.4L699.8 317.9L701.3 318.7L702.8 320L704.3 320.6L705.8 321.7L707.3 324.5L708.8 328.6L710.3 331.3L711.8 332L713.3 332.5L714.8 333L716.3 334.6L717.8 334.1L719.3 333.8L720.8 335.3L722.3 336.1L723.8 336.8L725.3 337.3L726.8 337.5L728.3 337.6L729.8 338L731.3 339.2L732.8 340.4L734.3 340.9L735.8 339.7L737.3 338.8L738.8 339.2L740.3 340.3L741.8 340.7L743.3 341.5L744.8 343.1L746.3 344.2L747.8 344.6L749.3 343.8L750.8 342L752.3 342.1L753.8 344.3L755.3 346.5L756.8 346.9L758.3 346.9L759.8 347.2L761.3 348.6L762.8 348.9L764.3 348.2L765.8 348.6L767.3 350L768.8 350.3L770.3 350.1L771.8 348.8L773.3 347.3L774.8 347L776.3 346.8L777.8 345.5L779.3 344.3L780.8 344.4L782.3 344L783.8 342.7L785.3 341.8L786.8 341.6L788.3 341.5L789.8 340.4L791.3 339.4L792.8 338L794.3 335.6L795.8 334L797.3 333.4L798.8 331.7L800.3 329.8L801.8 327.2L803.3 324.8L804.8 323.4L806.3 321.3L807.8 319.4L809.3 317.6L810.8 315.3L812.3 312.6L813.8 311.3L815.3 310.1L816.8 307.7L818.3 304.6L819.8 301.8L821.3 299.8" stroke="#777777" stroke-width="1.6" fill="none" stroke-linejoin="round"/><path d="M618.8 294L620.3 293.1L621.8 291.5L623.3 290.5L624.8 290.6L626.3 291.1L627.8 292L629.3 292.3L630.8 292.4L632.3 292.9L633.8 292.8L635.3 294.3L636.8 295L638.3 294.3L639.8 293.6L641.3 292.7L642.8 293.1L644.3 294.6L645.8 296.2L647.3 296.2L648.8 294.7L650.3 295.2L651.8 297.2L653.3 296.9L654.8 296.1L656.3 295.2L657.8 294.9L659.3 293.2L660.8 294.3L662.3 298.8L663.8 300L665.3 299.4L666.8 298.5L668.3 298.1L669.8 297.8L671.3 298.6L672.8 300.5L674.3 301.8L675.8 304.6L677.3 306.2L678.8 306.9L680.3 308.2L681.8 307.5L683.3 308.7L684.8 311L686.3 313.6L687.8 316.1L689.3 318L690.8 319.3L692.3 322.4L693.8 325.4L695.3 328.6L696.8 330.3L698.3 331.6L699.8 333.6L701.3 334L702.8 335.6L704.3 337.9L705.8 340.3L707.3 342L708.8 343.6L710.3 345.3L711.8 347.3L713.3 348.9L714.8 350L716.3 351.9L717.8 353.6L719.3 353.3L720.8 355.6L722.3 357.6L723.8 356.5L725.3 356.8L726.8 357.9L728.3 357.1L729.8 356.6L731.3 357.6L732.8 359.1L734.3 359.4L735.8 359.9L737.3 361.5L738.8 361L740.3 361L741.8 361.3L743.3 362.9L744.8 364.5L746.3 365.8L747.8 366.8L749.3 366.1L750.8 364.8L752.3 364.5L753.8 365.4L755.3 366.5L756.8 367.1L758.3 367.7L759.8 368.1L761.3 368.5L762.8 368.1L764.3 367.7L765.8 368L767.3 368.9L768.8 369L770.3 368.5L771.8 366.9L773.3 366.4L774.8 366.5L776.3 365.3L777.8 363.8L779.3 363.1L780.8 363.2L782.3 361.8L783.8 359.1L785.3 357.4L786.8 356.9L788.3 356.8L789.8 355.3L791.3 354.5L792.8 354.2L794.3 353.5L795.8 352.1L797.3 350.2L798.8 348.5L800.3 346.2L801.8 343.2L803.3 340L804.8 338.4L806.3 337.9L807.8 336L809.3 332.5L810.8 330L812.3 328.3L813.8 326.8L815.3 324.7L816.8 322.1L818.3 320.1L819.8 318.3L821.3 315.5" stroke="#777777" stroke-width="1.6" fill="none" stroke-linejoin="round"/><path d="M618.8 319.1L620.3 317.8L621.8 316.3L623.3 315.2L624.8 315.5L626.3 316.2L627.8 317.1L629.3 317.8L630.8 317.8L632.3 317.4L633.8 317.2L635.3 318L636.8 317.5L638.3 317.9L639.8 317.8L641.3 317.1L642.8 317.7L644.3 317.9L645.8 318.3L647.3 319L648.8 318.2L650.3 318.2L651.8 319.1L653.3 318.7L654.8 318.6L656.3 318.9L657.8 319.6L659.3 317.7L660.8 317.5L662.3 320.6L663.8 321.9L665.3 321L666.8 320.1L668.3 319.8L669.8 318.8L671.3 318.4L672.8 319.9L674.3 321.7L675.8 322.7L677.3 322.5L678.8 322.6L680.3 324.3L681.8 325L683.3 324.8L684.8 326.3L686.3 328.2L687.8 329.1L689.3 329.9L690.8 331.4L692.3 334L693.8 336.6L695.3 338.1L696.8 339.2L698.3 341.1L699.8 342.9L701.3 341.9L702.8 341.3L704.3 342.3L705.8 344L707.3 345.8L708.8 348.1L710.3 349.5L711.8 349.5L713.3 349.9L714.8 350.4L716.3 353.3L717.8 356.4L719.3 357.6L720.8 358.8L722.3 361.3L723.8 362.5L725.3 363L726.8 364.5L728.3 367.8L729.8 369.2L731.3 370.7L732.8 373L734.3 373.8L735.8 375.1L737.3 377L738.8 377.1L740.3 377.8L741.8 379L743.3 380.8L744.8 383.4L746.3 384.7L747.8 384.3L749.3 383.6L750.8 383.4L752.3 384.7L753.8 386.3L755.3 387.1L756.8 387.1L758.3 387L759.8 387.1L761.3 387L762.8 387.4L764.3 385.5L765.8 385.1L767.3 385.6L768.8 383.4L770.3 380L771.8 377.6L773.3 377.5L774.8 376.6L776.3 374.2L777.8 371.1L779.3 368.9L780.8 368.2L782.3 366.6L783.8 364.4L785.3 363.6L786.8 361.3L788.3 360.2L789.8 359.1L791.3 357.6L792.8 356.2L794.3 354.6L795.8 352.4L797.3 350L798.8 349L800.3 347.6L801.8 345.5L803.3 344.4L804.8 344.4L806.3 343.7L807.8 342.3L809.3 340.8L810.8 337.8L812.3 336.4L813.8 336.7L815.3 337.3L816.8 336.1L818.3 334.4L819.8 333.4L821.3 333.3" stroke="#777777" stroke-width="1.6" fill="none" stroke-linejoin="round"/><path d="M618.8 341.7L620.3 339.7L621.8 337.5L623.3 336.8L624.8 338L626.3 340.2L627.8 340.5L629.3 340.1L630.8 341.1L632.3 339.9L633.8 339.4L635.3 342.2L636.8 343.9L638.3 343.2L639.8 341.9L641.3 341.6L642.8 340.7L644.3 340.7L645.8 341.9L647.3 342.4L648.8 341.4L650.3 341L651.8 341.9L653.3 340.6L654.8 340.3L656.3 341.1L657.8 341.3L659.3 339.2L660.8 339.4L662.3 342.9L663.8 343.4L665.3 342.2L666.8 340.5L668.3 338.9L669.8 338.9L671.3 339.9L672.8 340.6L674.3 341.2L675.8 342.9L677.3 343.5L678.8 344L680.3 344.4L681.8 343.2L683.3 344.2L684.8 347L686.3 348.4L687.8 348.1L689.3 348.5L690.8 349.7L692.3 352L693.8 354.6L695.3 356.4L696.8 358.9L698.3 361.1L699.8 362.3L701.3 360.7L702.8 360.2L704.3 361.1L705.8 362.7L707.3 364.3L708.8 368.3L710.3 371L711.8 371L713.3 372.2L714.8 373.5L716.3 374.4L717.8 374.8L719.3 376L720.8 378.7L722.3 380.9L723.8 382.2L725.3 384.1L726.8 386L728.3 387.4L729.8 389.7L731.3 391.4L732.8 392.3L734.3 393.3L735.8 394.7L737.3 396.1L738.8 396.8L740.3 397.8L741.8 397.5L743.3 398.5L744.8 400.8L746.3 402.7L747.8 403.5L749.3 403.1L750.8 402.8L752.3 403.9L753.8 404.1L755.3 403.4L756.8 403.1L758.3 403.1L759.8 403.3L761.3 403.2L762.8 401.6L764.3 400.5L765.8 400.3L767.3 400.3L768.8 398.7L770.3 396.6L771.8 394L773.3 392.6L774.8 390.6L776.3 389.1L777.8 386.8L779.3 384.5L780.8 383.9L782.3 382.3L783.8 380.9L785.3 379.5L786.8 378.5L788.3 377.1L789.8 375.5L791.3 376L792.8 375.2L794.3 372.6L795.8 371.5L797.3 370.7L798.8 368.5L800.3 367.2L801.8 366.3L803.3 364.9L804.8 365.4L806.3 365.5L807.8 363.5L809.3 361.5L810.8 360L812.3 358.2L813.8 358.9L815.3 360.5L816.8 358.2L818.3 355.8L819.8 354.5L821.3 353.7" stroke="#777777" stroke-width="1.6" fill="none" stroke-linejoin="round"/><path d="M618.8 365.6L620.3 363.6L621.8 363.3L623.3 364L624.8 364.9L626.3 365.1L627.8 364.7L629.3 365L630.8 364.9L632.3 364.7L633.8 365.9L635.3 368L636.8 368.2L638.3 368.5L639.8 367L641.3 365L642.8 364.5L644.3 365L645.8 366L647.3 366.7L648.8 365.8L650.3 365.6L651.8 367.1L653.3 366.1L654.8 364.4L656.3 365.1L657.8 365.9L659.3 362.8L660.8 362.1L662.3 367L663.8 369.1L665.3 366.8L666.8 362.9L668.3 361.7L669.8 362.5L671.3 362.2L672.8 362.7L674.3 364.2L675.8 366L677.3 365.3L678.8 364.6L680.3 365.4L681.8 365.4L683.3 365.8L684.8 366.4L686.3 366.6L687.8 367.6L689.3 368.5L690.8 369.6L692.3 373L693.8 376.4L695.3 377.3L696.8 377.4L698.3 379.1L699.8 382L701.3 381.5L702.8 381L704.3 380.5L705.8 381.7L707.3 385.1L708.8 387.3L710.3 388.5L711.8 389.6L713.3 391.6L714.8 391.6L716.3 392.2L717.8 393.5L719.3 395L720.8 397.4L722.3 398.3L723.8 399.4L725.3 400.8L726.8 402.5L728.3 404.7L729.8 406.2L731.3 406.9L732.8 408.4L734.3 409.6L735.8 410.3L737.3 411.9L738.8 413.3L740.3 414.2L741.8 414.3L743.3 415.5L744.8 417.5L746.3 419L747.8 418L749.3 416.6L750.8 416.5L752.3 416.9L753.8 417.8L755.3 418.6L756.8 418.9L758.3 418.4L759.8 417.5L761.3 417.1L762.8 416.6L764.3 415.1L765.8 415.1L767.3 415.6L768.8 413.6L770.3 410.9L771.8 408.3L773.3 407.1L774.8 405.7L776.3 403.7L777.8 402.1L779.3 401.5L780.8 400.8L782.3 399.1L783.8 397.2L785.3 396L786.8 396.9L788.3 396.5L789.8 394.1L791.3 393.1L792.8 392.5L794.3 391L795.8 388.8L797.3 387.8L798.8 387.2L800.3 385.8L801.8 384.2L803.3 382.6L804.8 382.8L806.3 383.8L807.8 383.2L809.3 381.1L810.8 379.3L812.3 378.4L813.8 377.9L815.3 377.6L816.8 376.5L818.3 374.7L819.8 374.6L821.3 373.9" stroke="#777777" stroke-width="1.6" fill="none" stroke-linejoin="round"/><path d="M618.8 390.8L620.3 389.1L621.8 388.4L623.3 388.9L624.8 390.2L626.3 390.7L627.8 390.1L629.3 389.6L630.8 390.2L632.3 390.2L633.8 390.4L635.3 392.1L636.8 392.9L638.3 393.4L639.8 391.6L641.3 390.1L642.8 389.5L644.3 389.2L645.8 390.2L647.3 390.9L648.8 389.7L650.3 389.3L651.8 389.9L653.3 389.9L654.8 389.5L656.3 388.8L657.8 388.6L659.3 386.5L660.8 386L662.3 389.4L663.8 390.2L665.3 388L666.8 385.7L668.3 385.5L669.8 386.2L671.3 385.7L672.8 385.4L674.3 386.1L675.8 386.7L677.3 385.8L678.8 385.8L680.3 388L681.8 387.8L683.3 388.1L684.8 389.6L686.3 389.9L687.8 390.5L689.3 391.3L690.8 391.7L692.3 393.8L693.8 396.4L695.3 398.6L696.8 399.4L698.3 399.8L699.8 401L701.3 400.7L702.8 400.8L704.3 401.4L705.8 402.7L707.3 403.9L708.8 406.3L710.3 408L711.8 408.3L713.3 410.3L714.8 411.6L716.3 412.3L717.8 412.2L719.3 413.1L720.8 415.6L722.3 417L723.8 417.5L725.3 419.7L726.8 421.6L728.3 423.3L729.8 424.3L731.3 425.9L732.8 426.6L734.3 427L735.8 428.7L737.3 430.3L738.8 430.4L740.3 432.1L741.8 432.7L743.3 432.8L744.8 433.8L746.3 435.7L747.8 435.7L749.3 434L750.8 433.8L752.3 434L753.8 434.6L755.3 435.1L756.8 434.9L758.3 434.9L759.8 433.8L761.3 433.1L762.8 432.3L764.3 431.1L765.8 430.9L767.3 431L768.8 429.8L770.3 428.2L771.8 426.2L773.3 425.9L774.8 424.7L776.3 422L777.8 419.7L779.3 419.2L780.8 419.4L782.3 418.2L783.8 416.5L785.3 414.8L786.8 413.6L788.3 412.3L789.8 411.1L791.3 411.7L792.8 411.7L794.3 410.7L795.8 409.6L797.3 408.9L798.8 408.1L800.3 406.2L801.8 404.5L803.3 403.2L804.8 403.9L806.3 404.1L807.8 402.6L809.3 401.9L810.8 401.1L812.3 400.4L813.8 400.9L815.3 401.6L816.8 400.4L818.3 398.9L819.8 398.4L821.3 397.6" stroke="#777777" stroke-width="1.6" fill="none" stroke-linejoin="round"/><path d="M618.8 415.7L620.3 414.7L621.8 414.3L623.3 413.9L624.8 414.8L626.3 414.5L627.8 414.4L629.3 415.1L630.8 414.6L632.3 414.1L633.8 415.1L635.3 416.2L636.8 417.7L638.3 417.4L639.8 416.7L641.3 415.4L642.8 414L644.3 414.4L645.8 415.5L647.3 416.6L648.8 416.7L650.3 416.6L651.8 416.2L653.3 415.5L654.8 415.1L656.3 414.5L657.8 413.4L659.3 409.8L660.8 409.2L662.3 412.9L663.8 414.5L665.3 413.9L666.8 412.3L668.3 409.6L669.8 408.5L671.3 408.4L672.8 409L674.3 410.1L675.8 410.2L677.3 409.9L678.8 410.6L680.3 410.7L681.8 409.5L683.3 409.2L684.8 410L686.3 410.7L687.8 412.3L689.3 412.9L690.8 412.8L692.3 414.9L693.8 418L695.3 418.8L696.8 418.7L698.3 419.5L699.8 421.7L701.3 422.5L702.8 422.5L704.3 420.9L705.8 420.9L707.3 423.4L708.8 426.7L710.3 428.5L711.8 428.7L713.3 429L714.8 428.4L716.3 429.1L717.8 430.6L719.3 432.1L720.8 435L722.3 436.7L723.8 436.5L725.3 438.3L726.8 439.4L728.3 441.1L729.8 442.1L731.3 441.5L732.8 442.3L734.3 443.6L735.8 445.4L737.3 447.6L738.8 448L740.3 447.9L741.8 448.1L743.3 449.3L744.8 451.5L746.3 452.2L747.8 451.6L749.3 449.7L750.8 448.8L752.3 448.8L753.8 449.4L755.3 449L756.8 449L758.3 448.9L759.8 448.4L761.3 448.8L762.8 448.7L764.3 447.3L765.8 447.2L767.3 448L768.8 447.5L770.3 445.7L771.8 443.9L773.3 443.5L774.8 441.9L776.3 439.9L777.8 438.1L779.3 438.2L780.8 437.3L782.3 436.3L783.8 435.3L785.3 433.5L786.8 431.9L788.3 431.1L789.8 431.6L791.3 432.8L792.8 432.4L794.3 431.6L795.8 430L797.3 428.3L798.8 426.7L800.3 426.4L801.8 425.6L803.3 424.5L804.8 424.9L806.3 424.9L807.8 423.5L809.3 422L810.8 421.5L812.3 421.3L813.8 421L815.3 421L816.8 420.2L818.3 419.3L819.8 419L821.3 418.4" stroke="#777777" stroke-width="1.6" fill="none" stroke-linejoin="round"/><path d="M618.8 440.5L620.3 440.2L621.8 438.9L623.3 437.6L624.8 437.7L626.3 438.7L627.8 439.7L629.3 440.5L630.8 440.9L632.3 440.6L633.8 440.5L635.3 441.5L636.8 443.3L638.3 443.9L639.8 442.6L641.3 440.9L642.8 440.1L644.3 439.7L645.8 440L647.3 440.6L648.8 439.5L650.3 439.2L651.8 441L653.3 440.7L654.8 439.2L656.3 438.2L657.8 438.1L659.3 436L660.8 434.8L662.3 437.7L663.8 440.4L665.3 439.1L666.8 436.4L668.3 434.1L669.8 432.5L671.3 431.9L672.8 432L674.3 432.2L675.8 433.4L677.3 434L678.8 434.1L680.3 434.1L681.8 432.9L683.3 432.5L684.8 434.3L686.3 435L687.8 435.2L689.3 435L690.8 435.1L692.3 438.2L693.8 440.5L695.3 441.2L696.8 441.4L698.3 443L699.8 444.8L701.3 443.2L702.8 442L704.3 441.5L705.8 442.4L707.3 444.8L708.8 446.9L710.3 448.1L711.8 450.2L713.3 451.6L714.8 450.8L716.3 450L717.8 451.4L719.3 452.7L720.8 453.6L722.3 454.7L723.8 455L725.3 455.8L726.8 458.4L728.3 461.1L729.8 462.3L731.3 463.1L732.8 463.2L734.3 462.9L735.8 463.1L737.3 463.8L738.8 464L740.3 464.8L741.8 465L743.3 466L744.8 467.9L746.3 469.1L747.8 468.5L749.3 466L750.8 464.1L752.3 465.6L753.8 468L755.3 467.7L756.8 466.5L758.3 466.2L759.8 465.7L761.3 465.4L762.8 465.3L764.3 464.9L765.8 464.8L767.3 464.5L768.8 463.4L770.3 461.9L771.8 460.8L773.3 460.8L774.8 460.2L776.3 459.7L777.8 457.9L779.3 456.5L780.8 455.4L782.3 454.4L783.8 453.3L785.3 452.4L786.8 451.5L788.3 451.7L789.8 450.9L791.3 451.7L792.8 452.2L794.3 450.8L795.8 449.6L797.3 449.2L798.8 448.5L800.3 448.1L801.8 447.4L803.3 446.8L804.8 447.2L806.3 446.5L807.8 445.1L809.3 444L810.8 442.7L812.3 442.5L813.8 443.8L815.3 445.6L816.8 444.9L818.3 443.1L819.8 441.1L821.3 440.8" stroke="#777777" stroke-width="1.6" fill="none" stroke-linejoin="round"/><circle cx="695.8" cy="134" r="4.4" fill="#ff7f0e"/><circle cx="696.7" cy="160.2" r="4.4" fill="#ff7f0e"/><circle cx="698.3" cy="188" r="4.4" fill="#ff7f0e"/><circle cx="703" cy="216" r="4.4" fill="#ff7f0e"/><circle cx="706.4" cy="243" r="4.4" fill="#ff7f0e"/><circle cx="713.9" cy="273.7" r="4.4" fill="#ff7f0e"/><circle cx="717.3" cy="301" r="4.4" fill="#ff7f0e"/><circle cx="720.1" cy="328.3" r="4.4" fill="#ff7f0e"/><circle cx="724.8" cy="349.2" r="4.4" fill="#ff7f0e"/><circle cx="811.5" cy="175.5" r="4.4" fill="#3c3c3c"/><circle cx="806.8" cy="195.5" r="4.4" fill="#3c3c3c"/><circle cx="803" cy="224.5" r="4.4" fill="#3c3c3c"/><circle cx="797.1" cy="247" r="4.4" fill="#3c3c3c"/><circle cx="790" cy="271" r="4.4" fill="#3c3c3c"/><circle cx="783.7" cy="295" r="4.4" fill="#3c3c3c"/><circle cx="776.5" cy="319" r="4.4" fill="#3c3c3c"/><circle cx="768.1" cy="342.4" r="4.4" fill="#3c3c3c"/><circle cx="761.3" cy="362.3" r="4.4" fill="#3c3c3c"/><circle cx="757.8" cy="380.7" r="4.4" fill="#f0148c"/><circle cx="754.4" cy="397.8" r="4.4" fill="#f0148c"/><circle cx="753.2" cy="412.8" r="4.4" fill="#f0148c"/><circle cx="751.6" cy="428.4" r="4.4" fill="#f0148c"/><circle cx="750.7" cy="444.3" r="4.4" fill="#f0148c"/><circle cx="749.4" cy="461.1" r="4.4" fill="#f0148c"/><path d="M635.6 457V100" stroke="#ff0000" stroke-width="1.5" fill="none"/><path d="M635.6 90.3l4.1 11.5h-8.2z" fill="#ff0000"/><text transform="translate(628.5 88.2) scale(1 1.04)" font-size="19.5">10 GHz</text><text transform="translate(621 473.3) scale(1 1.04)" font-size="20">7.2 GHz</text><path d="M671.5 487.5v-7.5M725 487.5v-7.5M777.4 487.5v-7.5" stroke="#000" stroke-width="2.6" fill="none"/><rect x="618.8" y="64.8" width="211.4" height="422.7" fill="none" stroke="#000" stroke-width="1.7"/><text transform="translate(626.2 526.5) scale(1 1.04)" font-size="33.5" text-anchor="middle">150</text><text transform="translate(718.2 526.5) scale(1 1.04)" font-size="33.5" text-anchor="middle">250</text><text transform="translate(820.8 526.5) scale(1 1.04)" font-size="33.5" text-anchor="middle">350</text><text transform="translate(735.4 568.4) scale(1 1.04)" font-size="39" text-anchor="middle"><tspan font-style="italic">μ</tspan><tspan font-style="italic" font-size="24.2" dy="6.2">0</tspan><tspan font-style="italic" dy="-6.2">H</tspan><tspan font-size="24.2" dy="6.2">⊥</tspan><tspan dy="-6.2"> (mT)</tspan></text><text transform="translate(598.8 282) rotate(-90) scale(1 1.04)" font-size="40.3" text-anchor="middle">|S<tspan font-style="italic" font-size="22.6" dy="4.8">12</tspan><tspan dy="-4.8">| (arb. units)</tspan></text></g>
<g id="panel-e"><clipPath id="cpe"><rect x="1498.2" y="64.9" width="210.9" height="422.9"/></clipPath><g clip-path="url(#cpe)"><path d="M1498.2 105L1500.7 105.7L1503.2 106.4L1505.7 107.3L1508.2 108.3L1510.7 109.3L1513.2 110.3L1515.7 111.3L1518.2 112.3L1520.7 113.3L1523.2 114.4L1525.7 115.4L1528.2 116.4L1530.7 117.4L1533.2 118.2L1535.7 118.9L1538.2 119.5L1540.7 119.9L1543.2 120.1L1545.7 120.1L1548.2 120L1550.7 119.8L1553.2 119.4L1555.7 119L1558.2 118.5L1560.7 118L1563.2 117.4L1565.7 116.8L1568.2 116.1L1570.7 115.5L1573.2 114.9L1575.7 114.3L1578.2 113.7L1580.7 113.1L1583.2 112.6L1585.7 112L1588.2 111.5L1590.7 110.9L1593.2 110.4L1595.7 109.8L1598.2 109.2L1600.7 108.7L1603.2 108.1L1605.7 107.5L1608.2 107L1610.7 106.5L1613.2 106.1L1615.7 105.6L1618.2 105.3L1620.7 104.9L1623.2 104.7L1625.7 104.5L1628.2 104.4L1630.7 104.3L1633.2 104.3L1635.7 104.4L1638.2 104.6L1640.7 104.8L1643.2 105.1L1645.7 105.5L1648.2 105.9L1650.7 106.3L1653.2 106.8L1655.7 107.3L1658.2 107.9L1660.7 108.5L1663.2 109.1L1665.7 109.8L1668.2 110.5L1670.7 111.2L1673.2 112.1L1675.7 113L1678.2 114L1680.7 115.1L1683.2 116.3L1685.7 117.6L1688.2 119.1L1690.7 120.6L1693.2 122.2L1695.7 123.8L1698.2 125.5L1700.7 127.2L1703.2 128.8L1705.7 130.1L1708.2 131.2" stroke="#777777" stroke-width="1.7" fill="none"/><path d="M1498.2 122L1500.7 122.6L1503.2 123.4L1505.7 124.3L1508.2 125.3L1510.7 126.3L1513.2 127.4L1515.7 128.4L1518.2 129.5L1520.7 130.5L1523.2 131.6L1525.7 132.8L1528.2 133.9L1530.7 135.1L1533.2 136.2L1535.7 137.3L1538.2 138.3L1540.7 139.2L1543.2 139.9L1545.7 140.4L1548.2 140.8L1550.7 141L1553.2 141L1555.7 140.8L1558.2 140.6L1560.7 140.3L1563.2 139.9L1565.7 139.4L1568.2 138.9L1570.7 138.3L1573.2 137.7L1575.7 137.2L1578.2 136.6L1580.7 136L1583.2 135.4L1585.7 134.9L1588.2 134.4L1590.7 133.9L1593.2 133.4L1595.7 132.9L1598.2 132.4L1600.7 131.8L1603.2 131.3L1605.7 130.8L1608.2 130.2L1610.7 129.7L1613.2 129.2L1615.7 128.7L1618.2 128.3L1620.7 127.9L1623.2 127.5L1625.7 127.1L1628.2 126.9L1630.7 126.6L1633.2 126.5L1635.7 126.4L1638.2 126.4L1640.7 126.4L1643.2 126.5L1645.7 126.7L1648.2 126.9L1650.7 127.2L1653.2 127.6L1655.7 128L1658.2 128.4L1660.7 128.9L1663.2 129.5L1665.7 130.1L1668.2 130.7L1670.7 131.3L1673.2 132L1675.7 132.8L1678.2 133.7L1680.7 134.6L1683.2 135.8L1685.7 137L1688.2 138.5L1690.7 140L1693.2 141.7L1695.7 143.6L1698.2 145.5L1700.7 147.4L1703.2 149.2L1705.7 150.8L1708.2 152.1" stroke="#777777" stroke-width="1.7" fill="none"/><path d="M1498.2 140L1500.7 140.6L1503.2 141.3L1505.7 142.2L1508.2 143.1L1510.7 144.1L1513.2 145.1L1515.7 146.1L1518.2 147.2L1520.7 148.2L1523.2 149.3L1525.7 150.4L1528.2 151.6L1530.7 152.8L1533.2 154L1535.7 155.3L1538.2 156.5L1540.7 157.7L1543.2 158.8L1545.7 159.8L1548.2 160.7L1550.7 161.3L1553.2 161.8L1555.7 162.1L1558.2 162.2L1560.7 162.2L1563.2 162.1L1565.7 161.8L1568.2 161.5L1570.7 161.1L1573.2 160.7L1575.7 160.2L1578.2 159.7L1580.7 159.1L1583.2 158.6L1585.7 158.1L1588.2 157.5L1590.7 157L1593.2 156.5L1595.7 156.1L1598.2 155.6L1600.7 155.1L1603.2 154.7L1605.7 154.2L1608.2 153.7L1610.7 153.2L1613.2 152.7L1615.7 152.2L1618.2 151.8L1620.7 151.3L1623.2 150.9L1625.7 150.4L1628.2 150.1L1630.7 149.7L1633.2 149.4L1635.7 149.2L1638.2 149L1640.7 148.9L1643.2 148.8L1645.7 148.8L1648.2 148.9L1650.7 149L1653.2 149.2L1655.7 149.4L1658.2 149.7L1660.7 150.1L1663.2 150.5L1665.7 151L1668.2 151.5L1670.7 152L1673.2 152.6L1675.7 153.3L1678.2 154L1680.7 154.8L1683.2 155.7L1685.7 156.7L1688.2 158L1690.7 159.5L1693.2 161.3L1695.7 163.2L1698.2 165.3L1700.7 167.5L1703.2 169.6L1705.7 171.5L1708.2 173" stroke="#777777" stroke-width="1.7" fill="none"/><path d="M1498.2 158.4L1500.7 159L1503.2 159.7L1505.7 160.5L1508.2 161.4L1510.7 162.4L1513.2 163.4L1515.7 164.4L1518.2 165.4L1520.7 166.4L1523.2 167.5L1525.7 168.6L1528.2 169.8L1530.7 171L1533.2 172.2L1535.7 173.6L1538.2 174.9L1540.7 176.3L1543.2 177.7L1545.7 179L1548.2 180.2L1550.7 181.3L1553.2 182.3L1555.7 183L1558.2 183.6L1560.7 184L1563.2 184.3L1565.7 184.3L1568.2 184.2L1570.7 184.1L1573.2 183.8L1575.7 183.5L1578.2 183.1L1580.7 182.7L1583.2 182.2L1585.7 181.7L1588.2 181.2L1590.7 180.8L1593.2 180.3L1595.7 179.8L1598.2 179.3L1600.7 178.9L1603.2 178.5L1605.7 178L1608.2 177.6L1610.7 177.2L1613.2 176.7L1615.7 176.3L1618.2 175.8L1620.7 175.4L1623.2 175L1625.7 174.5L1628.2 174.1L1630.7 173.7L1633.2 173.4L1635.7 173L1638.2 172.7L1640.7 172.5L1643.2 172.3L1645.7 172.1L1648.2 172.1L1650.7 172L1653.2 172.1L1655.7 172.1L1658.2 172.3L1660.7 172.5L1663.2 172.8L1665.7 173.1L1668.2 173.4L1670.7 173.9L1673.2 174.3L1675.7 174.9L1678.2 175.5L1680.7 176.1L1683.2 176.8L1685.7 177.6L1688.2 178.7L1690.7 179.9L1693.2 181.4L1695.7 183.3L1698.2 185.5L1700.7 187.9L1703.2 190.3L1705.7 192.5L1708.2 194.4" stroke="#777777" stroke-width="1.7" fill="none"/><path d="M1498.2 175.8L1500.7 176.3L1503.2 176.9L1505.7 177.6L1508.2 178.4L1510.7 179.3L1513.2 180.2L1515.7 181.1L1518.2 182L1520.7 183L1523.2 183.9L1525.7 185L1528.2 186L1530.7 187.1L1533.2 188.3L1535.7 189.6L1538.2 190.9L1540.7 192.3L1543.2 193.7L1545.7 195.1L1548.2 196.4L1550.7 197.6L1553.2 198.8L1555.7 199.8L1558.2 200.6L1560.7 201.2L1563.2 201.6L1565.7 201.7L1568.2 201.6L1570.7 201.3L1573.2 200.7L1575.7 200L1578.2 199.2L1580.7 198.2L1583.2 197.2L1585.7 196.3L1588.2 195.3L1590.7 194.5L1593.2 193.8L1595.7 193.3L1598.2 192.9L1600.7 192.6L1603.2 192.4L1605.7 192.4L1608.2 192.3L1610.7 192.3L1613.2 192.3L1615.7 192.4L1618.2 192.4L1620.7 192.4L1623.2 192.4L1625.7 192.5L1628.2 192.5L1630.7 192.6L1633.2 192.8L1635.7 193L1638.2 193.3L1640.7 193.8L1643.2 194.4L1645.7 195L1648.2 195.8L1650.7 196.7L1653.2 197.6L1655.7 198.6L1658.2 199.6L1660.7 200.6L1663.2 201.7L1665.7 202.8L1668.2 203.9L1670.7 205L1673.2 206.3L1675.7 207.6L1678.2 209L1680.7 210.3L1683.2 211.7L1685.7 213.1L1688.2 214.3L1690.7 215.4L1693.2 216.3L1695.7 217L1698.2 217.4L1700.7 217.7L1703.2 217.7L1705.7 217.5L1708.2 217.3" stroke="#777777" stroke-width="1.7" fill="none"/><path d="M1498.2 193.5L1500.7 194L1503.2 194.6L1505.7 195.3L1508.2 196.1L1510.7 196.9L1513.2 197.7L1515.7 198.6L1518.2 199.5L1520.7 200.5L1523.2 201.5L1525.7 202.5L1528.2 203.5L1530.7 204.6L1533.2 205.8L1535.7 207.1L1538.2 208.5L1540.7 209.9L1543.2 211.4L1545.7 212.9L1548.2 214.4L1550.7 215.9L1553.2 217.3L1555.7 218.6L1558.2 219.8L1560.7 220.8L1563.2 221.6L1565.7 222.1L1568.2 222.5L1570.7 222.5L1573.2 222.3L1575.7 221.9L1578.2 221.3L1580.7 220.5L1583.2 219.7L1585.7 218.7L1588.2 217.8L1590.7 216.9L1593.2 216.2L1595.7 215.5L1598.2 215L1600.7 214.7L1603.2 214.5L1605.7 214.4L1608.2 214.4L1610.7 214.4L1613.2 214.4L1615.7 214.5L1618.2 214.5L1620.7 214.6L1623.2 214.7L1625.7 214.8L1628.2 215L1630.7 215.2L1633.2 215.5L1635.7 215.8L1638.2 216.3L1640.7 216.9L1643.2 217.6L1645.7 218.4L1648.2 219.3L1650.7 220.3L1653.2 221.3L1655.7 222.3L1658.2 223.4L1660.7 224.5L1663.2 225.6L1665.7 226.8L1668.2 228L1670.7 229.4L1673.2 230.7L1675.7 232.1L1678.2 233.5L1680.7 234.8L1683.2 236L1685.7 237L1688.2 237.8L1690.7 238.3L1693.2 238.5L1695.7 238.4L1698.2 237.9L1700.7 237.2L1703.2 236.4L1705.7 235.6L1708.2 234.9" stroke="#777777" stroke-width="1.7" fill="none"/><path d="M1498.2 210.6L1500.7 211L1503.2 211.5L1505.7 212.1L1508.2 212.7L1510.7 213.4L1513.2 214.2L1515.7 215L1518.2 215.8L1520.7 216.6L1523.2 217.4L1525.7 218.3L1528.2 219.2L1530.7 220.2L1533.2 221.3L1535.7 222.4L1538.2 223.6L1540.7 224.9L1543.2 226.3L1545.7 227.7L1548.2 229.2L1550.7 230.8L1553.2 232.3L1555.7 233.7L1558.2 235.1L1560.7 236.4L1563.2 237.5L1565.7 238.5L1568.2 239.3L1570.7 239.9L1573.2 240.2L1575.7 240.3L1578.2 240.1L1580.7 239.7L1583.2 239.1L1585.7 238.4L1588.2 237.5L1590.7 236.6L1593.2 235.8L1595.7 235L1598.2 234.4L1600.7 233.9L1603.2 233.6L1605.7 233.4L1608.2 233.3L1610.7 233.3L1613.2 233.4L1615.7 233.5L1618.2 233.6L1620.7 233.8L1623.2 233.9L1625.7 234.1L1628.2 234.4L1630.7 234.7L1633.2 235.1L1635.7 235.7L1638.2 236.3L1640.7 237.1L1643.2 237.9L1645.7 238.9L1648.2 239.9L1650.7 241L1653.2 242.1L1655.7 243.2L1658.2 244.4L1660.7 245.7L1663.2 247L1665.7 248.3L1668.2 249.7L1670.7 251.2L1673.2 252.5L1675.7 253.8L1678.2 254.9L1680.7 255.7L1683.2 256.3L1685.7 256.4L1688.2 256.1L1690.7 255.5L1693.2 254.4L1695.7 253L1698.2 251.5L1700.7 249.9L1703.2 248.4L1705.7 247L1708.2 245.9" stroke="#777777" stroke-width="1.7" fill="none"/><path d="M1498.2 227.8L1500.7 228.2L1503.2 228.6L1505.7 229.2L1508.2 229.8L1510.7 230.4L1513.2 231.1L1515.7 231.9L1518.2 232.6L1520.7 233.4L1523.2 234.2L1525.7 235.1L1528.2 236L1530.7 236.9L1533.2 237.9L1535.7 238.9L1538.2 240.1L1540.7 241.3L1543.2 242.7L1545.7 244.2L1548.2 245.7L1550.7 247.3L1553.2 248.9L1555.7 250.6L1558.2 252.2L1560.7 253.8L1563.2 255.2L1565.7 256.6L1568.2 257.8L1570.7 258.9L1573.2 259.7L1575.7 260.3L1578.2 260.7L1580.7 260.8L1583.2 260.7L1585.7 260.3L1588.2 259.7L1590.7 259L1593.2 258.2L1595.7 257.4L1598.2 256.7L1600.7 256.1L1603.2 255.6L1605.7 255.3L1608.2 255.2L1610.7 255.1L1613.2 255.1L1615.7 255.2L1618.2 255.4L1620.7 255.5L1623.2 255.7L1625.7 256L1628.2 256.3L1630.7 256.7L1633.2 257.2L1635.7 257.8L1638.2 258.5L1640.7 259.4L1643.2 260.3L1645.7 261.3L1648.2 262.4L1650.7 263.5L1653.2 264.6L1655.7 265.9L1658.2 267.1L1660.7 268.4L1663.2 269.8L1665.7 271.1L1668.2 272.4L1670.7 273.6L1673.2 274.5L1675.7 275.2L1678.2 275.4L1680.7 275.3L1683.2 274.6L1685.7 273.5L1688.2 272L1690.7 270.2L1693.2 268.2L1695.7 266.1L1698.2 264L1700.7 261.9L1703.2 259.9L1705.7 258.2L1708.2 256.8" stroke="#777777" stroke-width="1.7" fill="none"/><path d="M1498.2 247.9L1500.7 248.2L1503.2 248.6L1505.7 249.1L1508.2 249.6L1510.7 250.2L1513.2 250.8L1515.7 251.5L1518.2 252.1L1520.7 252.9L1523.2 253.6L1525.7 254.4L1528.2 255.2L1530.7 256.1L1533.2 256.9L1535.7 257.9L1538.2 258.9L1540.7 260L1543.2 261.2L1545.7 262.5L1548.2 264L1550.7 265.5L1553.2 267.2L1555.7 268.8L1558.2 270.6L1560.7 272.3L1563.2 274L1565.7 275.6L1568.2 277.2L1570.7 278.6L1573.2 279.9L1575.7 281.1L1578.2 282L1580.7 282.8L1583.2 283.3L1585.7 283.5L1588.2 283.6L1590.7 283.3L1593.2 282.9L1595.7 282.4L1598.2 281.8L1600.7 281.2L1603.2 280.6L1605.7 280.2L1608.2 280L1610.7 279.9L1613.2 279.9L1615.7 280L1618.2 280.1L1620.7 280.4L1623.2 280.7L1625.7 281L1628.2 281.4L1630.7 282L1633.2 282.6L1635.7 283.3L1638.2 284.2L1640.7 285.1L1643.2 286.1L1645.7 287.2L1648.2 288.3L1650.7 289.5L1653.2 290.7L1655.7 291.9L1658.2 293.2L1660.7 294.3L1663.2 295.3L1665.7 296.1L1668.2 296.6L1670.7 296.7L1673.2 296.3L1675.7 295.4L1678.2 294.1L1680.7 292.5L1683.2 290.6L1685.7 288.5L1688.2 286.2L1690.7 284L1693.2 281.6L1695.7 279.3L1698.2 276.9L1700.7 274.5L1703.2 272.3L1705.7 270.4L1708.2 268.8" stroke="#777777" stroke-width="1.7" fill="none"/><path d="M1498.2 267.6L1500.7 267.8L1503.2 268.1L1505.7 268.5L1508.2 268.9L1510.7 269.4L1513.2 270L1515.7 270.5L1518.2 271.1L1520.7 271.8L1523.2 272.5L1525.7 273.2L1528.2 273.9L1530.7 274.7L1533.2 275.5L1535.7 276.3L1538.2 277.2L1540.7 278.2L1543.2 279.2L1545.7 280.4L1548.2 281.7L1550.7 283.1L1553.2 284.7L1555.7 286.3L1558.2 288L1560.7 289.8L1563.2 291.6L1565.7 293.3L1568.2 295.1L1570.7 296.7L1573.2 298.3L1575.7 299.8L1578.2 301.2L1580.7 302.4L1583.2 303.4L1585.7 304.2L1588.2 304.8L1590.7 305.2L1593.2 305.4L1595.7 305.5L1598.2 305.4L1600.7 305.3L1603.2 305.2L1605.7 305L1608.2 304.9L1610.7 304.9L1613.2 305L1615.7 305.3L1618.2 305.5L1620.7 305.9L1623.2 306.4L1625.7 306.9L1628.2 307.5L1630.7 308.1L1633.2 308.7L1635.7 309.5L1638.2 310.2L1640.7 311L1643.2 311.8L1645.7 312.6L1648.2 313.4L1650.7 314.2L1653.2 315L1655.7 315.7L1658.2 316.2L1660.7 316.5L1663.2 316.5L1665.7 316.1L1668.2 315.4L1670.7 314.4L1673.2 313L1675.7 311.4L1678.2 309.6L1680.7 307.6L1683.2 305.6L1685.7 303.6L1688.2 301.5L1690.7 299.4L1693.2 297.3L1695.7 295.1L1698.2 292.9L1700.7 290.8L1703.2 288.8L1705.7 287L1708.2 285.6" stroke="#1fd11f" stroke-width="1.9" fill="none"/><path d="M1498.2 287.6L1500.7 287.7L1503.2 288L1505.7 288.3L1508.2 288.7L1510.7 289.1L1513.2 289.6L1515.7 290.1L1518.2 290.6L1520.7 291.2L1523.2 291.8L1525.7 292.5L1528.2 293.2L1530.7 293.9L1533.2 294.6L1535.7 295.4L1538.2 296.2L1540.7 297.1L1543.2 298L1545.7 299.1L1548.2 300.3L1550.7 301.6L1553.2 303.1L1555.7 304.6L1558.2 306.3L1560.7 308.1L1563.2 309.9L1565.7 311.8L1568.2 313.7L1570.7 315.5L1573.2 317.3L1575.7 319.1L1578.2 320.7L1580.7 322.2L1583.2 323.6L1585.7 324.8L1588.2 325.9L1590.7 326.7L1593.2 327.3L1595.7 327.8L1598.2 328.1L1600.7 328.2L1603.2 328.3L1605.7 328.4L1608.2 328.4L1610.7 328.5L1613.2 328.7L1615.7 329L1618.2 329.3L1620.7 329.7L1623.2 330.2L1625.7 330.7L1628.2 331.3L1630.7 331.9L1633.2 332.5L1635.7 333.1L1638.2 333.7L1640.7 334.3L1643.2 334.9L1645.7 335.4L1648.2 335.8L1650.7 336.1L1653.2 336.1L1655.7 336L1658.2 335.5L1660.7 334.7L1663.2 333.6L1665.7 332.3L1668.2 330.7L1670.7 329L1673.2 327.2L1675.7 325.3L1678.2 323.4L1680.7 321.5L1683.2 319.6L1685.7 317.6L1688.2 315.7L1690.7 313.6L1693.2 311.6L1695.7 309.4L1698.2 307.3L1700.7 305.2L1703.2 303.3L1705.7 301.6L1708.2 300.2" stroke="#777777" stroke-width="1.7" fill="none"/><path d="M1498.2 306L1500.7 306.1L1503.2 306.3L1505.7 306.5L1508.2 306.8L1510.7 307.1L1513.2 307.5L1515.7 307.9L1518.2 308.4L1520.7 308.9L1523.2 309.5L1525.7 310.1L1528.2 310.7L1530.7 311.3L1533.2 312L1535.7 312.7L1538.2 313.4L1540.7 314.1L1543.2 314.9L1545.7 315.8L1548.2 316.7L1550.7 317.7L1553.2 318.9L1555.7 320.2L1558.2 321.6L1560.7 323.2L1563.2 324.8L1565.7 326.5L1568.2 328.3L1570.7 330.1L1573.2 331.9L1575.7 333.8L1578.2 335.6L1580.7 337.4L1583.2 339.1L1585.7 340.7L1588.2 342.3L1590.7 343.7L1593.2 345.1L1595.7 346.2L1598.2 347.2L1600.7 348.1L1603.2 348.8L1605.7 349.3L1608.2 349.8L1610.7 350.2L1613.2 350.6L1615.7 351L1618.2 351.5L1620.7 352.1L1623.2 352.6L1625.7 353.2L1628.2 353.8L1630.7 354.3L1633.2 354.8L1635.7 355.2L1638.2 355.5L1640.7 355.7L1643.2 355.7L1645.7 355.4L1648.2 355L1650.7 354.3L1653.2 353.3L1655.7 352.2L1658.2 350.8L1660.7 349.2L1663.2 347.5L1665.7 345.8L1668.2 343.9L1670.7 342.1L1673.2 340.2L1675.7 338.4L1678.2 336.6L1680.7 334.7L1683.2 332.8L1685.7 330.9L1688.2 329L1690.7 326.9L1693.2 324.9L1695.7 322.8L1698.2 320.7L1700.7 318.6L1703.2 316.7L1705.7 315L1708.2 313.7" stroke="#777777" stroke-width="1.7" fill="none"/><path d="M1498.2 323.8L1500.7 323.9L1503.2 324L1505.7 324.1L1508.2 324.3L1510.7 324.6L1513.2 324.9L1515.7 325.2L1518.2 325.6L1520.7 326.1L1523.2 326.5L1525.7 327L1528.2 327.5L1530.7 328.1L1533.2 328.7L1535.7 329.3L1538.2 329.9L1540.7 330.5L1543.2 331.2L1545.7 331.9L1548.2 332.7L1550.7 333.6L1553.2 334.6L1555.7 335.7L1558.2 337L1560.7 338.3L1563.2 339.8L1565.7 341.4L1568.2 343.1L1570.7 344.9L1573.2 346.7L1575.7 348.6L1578.2 350.4L1580.7 352.3L1583.2 354.1L1585.7 355.9L1588.2 357.6L1590.7 359.3L1593.2 360.8L1595.7 362.2L1598.2 363.5L1600.7 364.7L1603.2 365.6L1605.7 366.5L1608.2 367.1L1610.7 367.7L1613.2 368.1L1615.7 368.5L1618.2 368.9L1620.7 369.3L1623.2 369.8L1625.7 370.2L1628.2 370.6L1630.7 371L1633.2 371.2L1635.7 371.3L1638.2 371.2L1640.7 370.9L1643.2 370.4L1645.7 369.6L1648.2 368.7L1650.7 367.5L1653.2 366.1L1655.7 364.6L1658.2 363L1660.7 361.4L1663.2 359.6L1665.7 357.9L1668.2 356.1L1670.7 354.4L1673.2 352.6L1675.7 350.9L1678.2 349.2L1680.7 347.4L1683.2 345.6L1685.7 343.7L1688.2 341.8L1690.7 339.9L1693.2 337.9L1695.7 335.9L1698.2 333.8L1700.7 331.9L1703.2 330L1705.7 328.5L1708.2 327.2" stroke="#777777" stroke-width="1.7" fill="none"/><path d="M1498.2 341.9L1500.7 341.9L1503.2 342L1505.7 342.1L1508.2 342.3L1510.7 342.4L1513.2 342.7L1515.7 342.9L1518.2 343.2L1520.7 343.5L1523.2 343.9L1525.7 344.2L1528.2 344.6L1530.7 345L1533.2 345.5L1535.7 345.9L1538.2 346.4L1540.7 346.9L1543.2 347.4L1545.7 347.9L1548.2 348.5L1550.7 349.2L1553.2 349.9L1555.7 350.8L1558.2 351.7L1560.7 352.8L1563.2 354L1565.7 355.4L1568.2 356.8L1570.7 358.3L1573.2 359.9L1575.7 361.5L1578.2 363.2L1580.7 364.9L1583.2 366.6L1585.7 368.2L1588.2 369.9L1590.7 371.5L1593.2 373.1L1595.7 374.5L1598.2 375.9L1600.7 377.2L1603.2 378.4L1605.7 379.4L1608.2 380.3L1610.7 381L1613.2 381.7L1615.7 382.2L1618.2 382.7L1620.7 383.1L1623.2 383.5L1625.7 383.8L1628.2 384L1630.7 384L1633.2 383.8L1635.7 383.4L1638.2 382.8L1640.7 382L1643.2 381L1645.7 379.8L1648.2 378.5L1650.7 377.1L1653.2 375.5L1655.7 374L1658.2 372.3L1660.7 370.7L1663.2 369L1665.7 367.3L1668.2 365.7L1670.7 364.1L1673.2 362.5L1675.7 360.8L1678.2 359.1L1680.7 357.4L1683.2 355.7L1685.7 353.9L1688.2 352.1L1690.7 350.2L1693.2 348.3L1695.7 346.3L1698.2 344.4L1700.7 342.5L1703.2 340.8L1705.7 339.3L1708.2 338.1" stroke="#777777" stroke-width="1.7" fill="none"/><path d="M1498.2 362.7L1500.7 362.7L1503.2 362.8L1505.7 362.8L1508.2 362.9L1510.7 363L1513.2 363.1L1515.7 363.2L1518.2 363.3L1520.7 363.4L1523.2 363.6L1525.7 363.7L1528.2 363.9L1530.7 364.1L1533.2 364.3L1535.7 364.5L1538.2 364.8L1540.7 365.1L1543.2 365.5L1545.7 365.9L1548.2 366.5L1550.7 367.2L1553.2 368L1555.7 369L1558.2 370L1560.7 371.1L1563.2 372.2L1565.7 373.4L1568.2 374.6L1570.7 375.7L1573.2 376.9L1575.7 378.1L1578.2 379.2L1580.7 380.4L1583.2 381.6L1585.7 382.9L1588.2 384.1L1590.7 385.5L1593.2 386.8L1595.7 388.2L1598.2 389.5L1600.7 390.8L1603.2 392.1L1605.7 393.4L1608.2 394.5L1610.7 395.6L1613.2 396.7L1615.7 397.6L1618.2 398.3L1620.7 399L1623.2 399.4L1625.7 399.8L1628.2 399.9L1630.7 399.8L1633.2 399.5L1635.7 399L1638.2 398.2L1640.7 397.3L1643.2 396.3L1645.7 395L1648.2 393.7L1650.7 392.2L1653.2 390.7L1655.7 389.1L1658.2 387.6L1660.7 386L1663.2 384.4L1665.7 382.9L1668.2 381.4L1670.7 380L1673.2 378.6L1675.7 377.2L1678.2 375.8L1680.7 374.3L1683.2 372.9L1685.7 371.5L1688.2 370L1690.7 368.5L1693.2 367L1695.7 365.6L1698.2 364.1L1700.7 362.7L1703.2 361.3L1705.7 360.2L1708.2 359.3" stroke="#777777" stroke-width="1.7" fill="none"/><path d="M1498.2 381.6L1500.7 381.6L1503.2 381.7L1505.7 381.7L1508.2 381.8L1510.7 381.9L1513.2 382L1515.7 382.1L1518.2 382.2L1520.7 382.3L1523.2 382.5L1525.7 382.6L1528.2 382.8L1530.7 383L1533.2 383.2L1535.7 383.4L1538.2 383.7L1540.7 384L1543.2 384.3L1545.7 384.7L1548.2 385.3L1550.7 385.9L1553.2 386.5L1555.7 387.3L1558.2 388.2L1560.7 389.1L1563.2 390L1565.7 391L1568.2 392L1570.7 392.9L1573.2 393.9L1575.7 394.9L1578.2 395.9L1580.7 396.9L1583.2 397.9L1585.7 399L1588.2 400.1L1590.7 401.2L1593.2 402.3L1595.7 403.5L1598.2 404.6L1600.7 405.7L1603.2 406.8L1605.7 407.8L1608.2 408.7L1610.7 409.6L1613.2 410.4L1615.7 411.1L1618.2 411.6L1620.7 412L1623.2 412.3L1625.7 412.5L1628.2 412.4L1630.7 412.2L1633.2 411.8L1635.7 411.2L1638.2 410.4L1640.7 409.5L1643.2 408.4L1645.7 407.3L1648.2 406L1650.7 404.7L1653.2 403.4L1655.7 402L1658.2 400.6L1660.7 399.3L1663.2 397.9L1665.7 396.6L1668.2 395.3L1670.7 394.1L1673.2 392.9L1675.7 391.6L1678.2 390.4L1680.7 389.1L1683.2 387.9L1685.7 386.6L1688.2 385.4L1690.7 384.1L1693.2 382.8L1695.7 381.5L1698.2 380.2L1700.7 378.9L1703.2 377.8L1705.7 376.8L1708.2 376" stroke="#777777" stroke-width="1.7" fill="none"/><path d="M1498.2 402.6L1500.7 402.6L1503.2 402.7L1505.7 402.7L1508.2 402.8L1510.7 402.9L1513.2 403L1515.7 403.1L1518.2 403.2L1520.7 403.3L1523.2 403.5L1525.7 403.7L1528.2 403.8L1530.7 404L1533.2 404.2L1535.7 404.5L1538.2 404.7L1540.7 405L1543.2 405.3L1545.7 405.7L1548.2 406.1L1550.7 406.6L1553.2 407.2L1555.7 407.9L1558.2 408.6L1560.7 409.4L1563.2 410.2L1565.7 411L1568.2 411.8L1570.7 412.6L1573.2 413.4L1575.7 414.2L1578.2 415.1L1580.7 415.9L1583.2 416.8L1585.7 417.8L1588.2 418.7L1590.7 419.7L1593.2 420.7L1595.7 421.6L1598.2 422.6L1600.7 423.5L1603.2 424.4L1605.7 425.2L1608.2 425.9L1610.7 426.6L1613.2 427.2L1615.7 427.7L1618.2 428.1L1620.7 428.3L1623.2 428.4L1625.7 428.4L1628.2 428.2L1630.7 427.8L1633.2 427.3L1635.7 426.7L1638.2 425.9L1640.7 425L1643.2 424L1645.7 422.9L1648.2 421.8L1650.7 420.6L1653.2 419.4L1655.7 418.2L1658.2 417L1660.7 415.8L1663.2 414.6L1665.7 413.5L1668.2 412.4L1670.7 411.3L1673.2 410.3L1675.7 409.2L1678.2 408.1L1680.7 407L1683.2 405.9L1685.7 404.8L1688.2 403.7L1690.7 402.5L1693.2 401.4L1695.7 400.3L1698.2 399.1L1700.7 398L1703.2 397L1705.7 396.2L1708.2 395.5" stroke="#777777" stroke-width="1.7" fill="none"/><path d="M1498.2 421.2L1500.7 421.3L1503.2 421.3L1505.7 421.3L1508.2 421.4L1510.7 421.5L1513.2 421.6L1515.7 421.7L1518.2 421.8L1520.7 422L1523.2 422.1L1525.7 422.3L1528.2 422.5L1530.7 422.7L1533.2 422.9L1535.7 423.1L1538.2 423.3L1540.7 423.5L1543.2 423.8L1545.7 424.2L1548.2 424.6L1550.7 425L1553.2 425.5L1555.7 426L1558.2 426.6L1560.7 427.2L1563.2 427.9L1565.7 428.5L1568.2 429.2L1570.7 429.9L1573.2 430.5L1575.7 431.2L1578.2 431.9L1580.7 432.7L1583.2 433.4L1585.7 434.2L1588.2 435L1590.7 435.9L1593.2 436.7L1595.7 437.5L1598.2 438.3L1600.7 439.1L1603.2 439.8L1605.7 440.5L1608.2 441.2L1610.7 441.8L1613.2 442.2L1615.7 442.6L1618.2 442.9L1620.7 443.1L1623.2 443.2L1625.7 443.1L1628.2 442.9L1630.7 442.6L1633.2 442.1L1635.7 441.5L1638.2 440.8L1640.7 440L1643.2 439.1L1645.7 438.1L1648.2 437.1L1650.7 436.1L1653.2 435L1655.7 433.9L1658.2 432.9L1660.7 431.8L1663.2 430.8L1665.7 429.8L1668.2 428.9L1670.7 427.9L1673.2 427L1675.7 426L1678.2 425.1L1680.7 424.1L1683.2 423.1L1685.7 422.2L1688.2 421.2L1690.7 420.2L1693.2 419.2L1695.7 418.2L1698.2 417.2L1700.7 416.2L1703.2 415.3L1705.7 414.5L1708.2 413.9" stroke="#777777" stroke-width="1.7" fill="none"/><path d="M1498.2 441.2L1500.7 441.3L1503.2 441.3L1505.7 441.3L1508.2 441.4L1510.7 441.5L1513.2 441.6L1515.7 441.7L1518.2 441.8L1520.7 442L1523.2 442.1L1525.7 442.3L1528.2 442.5L1530.7 442.7L1533.2 442.9L1535.7 443.1L1538.2 443.3L1540.7 443.5L1543.2 443.8L1545.7 444.1L1548.2 444.4L1550.7 444.8L1553.2 445.2L1555.7 445.6L1558.2 446.1L1560.7 446.6L1563.2 447.1L1565.7 447.6L1568.2 448.2L1570.7 448.7L1573.2 449.3L1575.7 449.8L1578.2 450.4L1580.7 451.1L1583.2 451.7L1585.7 452.4L1588.2 453.1L1590.7 453.8L1593.2 454.5L1595.7 455.2L1598.2 455.8L1600.7 456.4L1603.2 457L1605.7 457.6L1608.2 458L1610.7 458.4L1613.2 458.8L1615.7 459L1618.2 459.1L1620.7 459.2L1623.2 459.1L1625.7 458.9L1628.2 458.6L1630.7 458.2L1633.2 457.7L1635.7 457.1L1638.2 456.4L1640.7 455.7L1643.2 454.9L1645.7 454.1L1648.2 453.3L1650.7 452.4L1653.2 451.5L1655.7 450.7L1658.2 449.8L1660.7 449L1663.2 448.2L1665.7 447.4L1668.2 446.6L1670.7 445.9L1673.2 445.1L1675.7 444.3L1678.2 443.5L1680.7 442.8L1683.2 442L1685.7 441.2L1688.2 440.4L1690.7 439.6L1693.2 438.7L1695.7 437.9L1698.2 437.1L1700.7 436.3L1703.2 435.6L1705.7 435L1708.2 434.5" stroke="#777777" stroke-width="1.7" fill="none"/></g><circle cx="1536.9" cy="112.6" r="4.4" fill="#ff7f0e"/><circle cx="1543.8" cy="133.5" r="4.4" fill="#ff7f0e"/><circle cx="1550.6" cy="154.8" r="4.4" fill="#ff7f0e"/><circle cx="1556.9" cy="176.9" r="4.4" fill="#ff7f0e"/><circle cx="1560.3" cy="194.7" r="4.4" fill="#ff7f0e"/><circle cx="1564.4" cy="215.6" r="4.4" fill="#ff7f0e"/><circle cx="1570" cy="233.4" r="4.4" fill="#ff7f0e"/><circle cx="1575.3" cy="254" r="4.4" fill="#ff7f0e"/><circle cx="1581.8" cy="276.8" r="4.4" fill="#ff7f0e"/><circle cx="1587.5" cy="298.4" r="4.4" fill="#ff7f0e"/><circle cx="1592.4" cy="320.9" r="4.4" fill="#ff7f0e"/><circle cx="1599.9" cy="342.1" r="4.4" fill="#ff7f0e"/><circle cx="1605.2" cy="360.5" r="4.4" fill="#ff7f0e"/><circle cx="1609.9" cy="374.9" r="4.4" fill="#ff7f0e"/><circle cx="1697.3" cy="210.6" r="4.4" fill="#3c3c3c"/><circle cx="1691" cy="231.8" r="4.4" fill="#3c3c3c"/><circle cx="1683.6" cy="249.9" r="4.4" fill="#3c3c3c"/><circle cx="1677" cy="269" r="4.4" fill="#3c3c3c"/><circle cx="1668.3" cy="290.2" r="4.4" fill="#3c3c3c"/><circle cx="1661.1" cy="309.6" r="4.4" fill="#3c3c3c"/><circle cx="1652.3" cy="329" r="4.4" fill="#3c3c3c"/><circle cx="1642.4" cy="348.3" r="4.4" fill="#3c3c3c"/><circle cx="1636.1" cy="363.9" r="4.4" fill="#3c3c3c"/><circle cx="1629.3" cy="376.7" r="4.4" fill="#3c3c3c"/><circle cx="1624.3" cy="394.5" r="4.4" fill="#f0148c"/><circle cx="1622.1" cy="407" r="4.4" fill="#f0148c"/><circle cx="1619.6" cy="422.9" r="4.4" fill="#f0148c"/><circle cx="1619" cy="437.6" r="4.4" fill="#f0148c"/><circle cx="1615.8" cy="453.5" r="4.4" fill="#f0148c"/><path d="M1514.8 443V106" stroke="#ff0000" stroke-width="1.5" fill="none"/><path d="M1514.8 97.3l4.1 11.5h-8.2z" fill="#ff0000"/><text transform="translate(1510.4 88.3) scale(1 1.04)" font-size="19.5">11 GHz</text><text transform="translate(1502 474) scale(1 1.04)" font-size="20">7.2 GHz</text><path d="M1551.3 487.8v-7.5M1604.4 487.8v-7.5M1656.5 487.8v-7.5" stroke="#000" stroke-width="2.6" fill="none"/><rect x="1498.2" y="64.9" width="210.9" height="422.9" fill="none" stroke="#000" stroke-width="1.7"/><text transform="translate(1504.5 526.5) scale(1 1.04)" font-size="33.5" text-anchor="middle">150</text><text transform="translate(1605.5 526.5) scale(1 1.04)" font-size="33.5" text-anchor="middle">250</text><text transform="translate(1698 526.5) scale(1 1.04)" font-size="33.5" text-anchor="middle">350</text><text transform="translate(1612.3 568.4) scale(1 1.04)" font-size="39" text-anchor="middle"><tspan font-style="italic">μ</tspan><tspan font-style="italic" font-size="24.2" dy="6.2">0</tspan><tspan font-style="italic" dy="-6.2">H</tspan><tspan font-size="24.2" dy="6.2">⊥</tspan><tspan dy="-6.2"> (mT)</tspan></text><text transform="translate(1479.5 282) rotate(-90) scale(1 1.04)" font-size="40.3" text-anchor="middle">|S<tspan font-style="italic" font-size="22.6" dy="4.8">12</tspan><tspan dy="-4.8">| (arb. units)</tspan></text></g>
<g id="panel-c"><clipPath id="cpc"><rect x="82.0" y="691.8" width="422" height="211.1"/></clipPath><g clip-path="url(#cpc)"><path d="M106.5 691.8L106.4 694.3L106.3 696.8L106.3 699.3L106.2 701.8L106.1 704.3L106 706.8L105.9 709.3L105.8 711.8L105.6 714.3L105.5 716.8L105.3 719.3L105.2 721.8L105 724.3L104.8 726.8L104.6 729.3L104.4 731.8L104.1 734.3L103.8 736.8L103.5 739.3L103.2 741.8L102.8 744.3L102.5 746.8L102 749.3L101.6 751.8L101.1 754.3L100.6 756.8L100.1 759.3L99.6 761.8L99.1 764.3L98.6 766.8L98.1 769.3L97.7 771.8L97.4 774.3L97.1 776.8L97 779.3L97 781.8L97 784.3L97 786.8L97.1 789.3L97.3 791.8L97.6 794.3L98 796.8L98.5 799.3L99.1 801.8L99.9 804.3L100.9 806.8L102 809.3L103.3 811.8L104.6 814.3L106.1 816.8L107.6 819.3L109.2 821.8L110.8 824.3L112.4 826.8L113.9 829.3L115.5 831.8L117 834.3L118.4 836.8L119.8 839.3L121.1 841.8L122.3 844.3L123.5 846.8L124.6 849.3L125.6 851.8L126.5 854.3L127.4 856.8L128.2 859.3L128.9 861.8L129.6 864.3L130.2 866.8L130.8 869.3L131.3 871.8L131.8 874.3L132.3 876.8L132.7 879.3L133.1 881.8L133.5 884.3L133.8 886.8L134.1 889.3L134.4 891.8L134.7 894.3L134.9 896.8L135.1 899.3L135.4 901.8" stroke="#777777" stroke-width="1.6" fill="none"/><path d="M119.7 691.8L119.6 694.3L119.6 696.8L119.5 699.3L119.5 701.8L119.4 704.3L119.3 706.8L119.3 709.3L119.2 711.8L119.1 714.3L119 716.8L118.9 719.3L118.8 721.8L118.7 724.3L118.6 726.8L118.4 729.3L118.3 731.8L118.1 734.3L118 736.8L117.8 739.3L117.6 741.8L117.3 744.3L117.1 746.8L116.8 749.3L116.5 751.8L116.2 754.3L115.9 756.8L115.5 759.3L115.1 761.8L114.7 764.3L114.3 766.8L113.9 769.3L113.5 771.8L113.1 774.3L112.8 776.8L112.5 779.3L112.3 781.8L112.1 784.3L112 786.8L112 789.3L112.1 791.8L112.1 794.3L112.3 796.8L112.5 799.3L112.8 801.8L113.3 804.3L114 806.8L114.7 809.3L115.7 811.8L116.8 814.3L118 816.8L119.4 819.3L120.9 821.8L122.5 824.3L124.1 826.8L125.8 829.3L127.5 831.8L129.2 834.3L130.8 836.8L132.4 839.3L133.9 841.8L135.4 844.3L136.8 846.8L138.1 849.3L139.3 851.8L140.5 854.3L141.5 856.8L142.5 859.3L143.4 861.8L144.3 864.3L145.1 866.8L145.8 869.3L146.4 871.8L147 874.3L147.6 876.8L148.1 879.3L148.6 881.8L149.1 884.3L149.5 886.8L149.8 889.3L150.2 891.8L150.5 894.3L150.8 896.8L151.1 899.3L151.3 901.8" stroke="#777777" stroke-width="1.6" fill="none"/><path d="M132.5 691.8L132.4 694.3L132.4 696.8L132.3 699.3L132.3 701.8L132.2 704.3L132.2 706.8L132.1 709.3L132.1 711.8L132 714.3L131.9 716.8L131.8 719.3L131.7 721.8L131.7 724.3L131.6 726.8L131.4 729.3L131.3 731.8L131.2 734.3L131.1 736.8L130.9 739.3L130.7 741.8L130.6 744.3L130.4 746.8L130.2 749.3L129.9 751.8L129.7 754.3L129.4 756.8L129.1 759.3L128.8 761.8L128.4 764.3L128.1 766.8L127.7 769.3L127.3 771.8L126.8 774.3L126.4 776.8L126 779.3L125.6 781.8L125.2 784.3L124.9 786.8L124.7 789.3L124.5 791.8L124.5 794.3L124.5 796.8L124.5 799.3L124.5 801.8L124.7 804.3L124.9 806.8L125.3 809.3L125.8 811.8L126.5 814.3L127.4 816.8L128.4 819.3L129.6 821.8L130.9 824.3L132.4 826.8L134 829.3L135.7 831.8L137.4 834.3L139.2 836.8L141 839.3L142.7 841.8L144.4 844.3L146.1 846.8L147.7 849.3L149.2 851.8L150.6 854.3L151.9 856.8L153.2 859.3L154.3 861.8L155.4 864.3L156.4 866.8L157.3 869.3L158.2 871.8L159 874.3L159.7 876.8L160.4 879.3L161 881.8L161.5 884.3L162.1 886.8L162.5 889.3L163 891.8L163.4 894.3L163.8 896.8L164.1 899.3L164.4 901.8" stroke="#777777" stroke-width="1.6" fill="none"/><path d="M147.5 691.8L147.5 694.3L147.4 696.8L147.4 699.3L147.3 701.8L147.3 704.3L147.2 706.8L147.2 709.3L147.1 711.8L147.1 714.3L147 716.8L146.9 719.3L146.9 721.8L146.8 724.3L146.7 726.8L146.6 729.3L146.5 731.8L146.4 734.3L146.2 736.8L146.1 739.3L146 741.8L145.8 744.3L145.6 746.8L145.4 749.3L145.2 751.8L145 754.3L144.7 756.8L144.5 759.3L144.2 761.8L143.9 764.3L143.5 766.8L143.2 769.3L142.8 771.8L142.3 774.3L141.9 776.8L141.5 779.3L141 781.8L140.5 784.3L140.1 786.8L139.7 789.3L139.4 791.8L139.1 794.3L138.9 796.8L138.8 799.3L138.8 801.8L138.8 804.3L138.8 806.8L139 809.3L139.2 811.8L139.6 814.3L140.1 816.8L140.8 819.3L141.7 821.8L142.7 824.3L144 826.8L145.4 829.3L146.9 831.8L148.6 834.3L150.3 836.8L152.2 839.3L154 841.8L155.9 844.3L157.7 846.8L159.5 849.3L161.2 851.8L162.9 854.3L164.5 856.8L165.9 859.3L167.3 861.8L168.6 864.3L169.8 866.8L171 869.3L172 871.8L172.9 874.3L173.8 876.8L174.6 879.3L175.4 881.8L176 884.3L176.7 886.8L177.2 889.3L177.8 891.8L178.3 894.3L178.7 896.8L179.1 899.3L179.5 901.8" stroke="#777777" stroke-width="1.6" fill="none"/><path d="M161.1 691.8L161 694.3L161 696.8L160.9 699.3L160.9 701.8L160.9 704.3L160.8 706.8L160.8 709.3L160.7 711.8L160.7 714.3L160.6 716.8L160.5 719.3L160.5 721.8L160.4 724.3L160.3 726.8L160.2 729.3L160.1 731.8L160 734.3L159.9 736.8L159.8 739.3L159.7 741.8L159.6 744.3L159.4 746.8L159.2 749.3L159.1 751.8L158.9 754.3L158.7 756.8L158.4 759.3L158.2 761.8L157.9 764.3L157.6 766.8L157.3 769.3L157 771.8L156.6 774.3L156.2 776.8L155.8 779.3L155.3 781.8L154.8 784.3L154.4 786.8L153.9 789.3L153.4 791.8L153 794.3L152.6 796.8L152.3 799.3L152.1 801.8L152 804.3L151.9 806.8L151.9 809.3L152 811.8L152.1 814.3L152.3 816.8L152.7 819.3L153.2 821.8L153.9 824.3L154.8 826.8L155.9 829.3L157.2 831.8L158.6 834.3L160.3 836.8L162 839.3L163.9 841.8L165.8 844.3L167.7 846.8L169.7 849.3L171.6 851.8L173.5 854.3L175.3 856.8L177 859.3L178.7 861.8L180.2 864.3L181.6 866.8L183 869.3L184.2 871.8L185.4 874.3L186.4 876.8L187.4 879.3L188.3 881.8L189.1 884.3L189.9 886.8L190.6 889.3L191.2 891.8L191.8 894.3L192.4 896.8L192.9 899.3L193.3 901.8" stroke="#777777" stroke-width="1.6" fill="none"/><path d="M173.1 691.8L173.1 694.3L173 696.8L173 699.3L173 701.8L172.9 704.3L172.9 706.8L172.8 709.3L172.8 711.8L172.8 714.3L172.7 716.8L172.6 719.3L172.6 721.8L172.5 724.3L172.5 726.8L172.4 729.3L172.3 731.8L172.2 734.3L172.1 736.8L172 739.3L171.9 741.8L171.8 744.3L171.7 746.8L171.5 749.3L171.4 751.8L171.2 754.3L171.1 756.8L170.9 759.3L170.7 761.8L170.4 764.3L170.2 766.8L169.9 769.3L169.6 771.8L169.3 774.3L168.9 776.8L168.6 779.3L168.2 781.8L167.7 784.3L167.3 786.8L166.8 789.3L166.4 791.8L165.9 794.3L165.4 796.8L165 799.3L164.7 801.8L164.3 804.3L164.1 806.8L164 809.3L164 811.8L164 814.3L164 816.8L164.2 819.3L164.4 821.8L164.8 824.3L165.4 826.8L166.2 829.3L167.1 831.8L168.3 834.3L169.7 836.8L171.3 839.3L173 841.8L174.9 844.3L176.8 846.8L178.9 849.3L180.9 851.8L183 854.3L185 856.8L186.9 859.3L188.8 861.8L190.6 864.3L192.2 866.8L193.8 869.3L195.3 871.8L196.6 874.3L197.9 876.8L199 879.3L200.1 881.8L201.1 884.3L202 886.8L202.8 889.3L203.6 891.8L204.3 894.3L204.9 896.8L205.5 899.3L206 901.8" stroke="#777777" stroke-width="1.6" fill="none"/><path d="M187 691.8L187 694.3L187 696.8L186.9 699.3L186.9 701.8L186.9 704.3L186.8 706.8L186.8 709.3L186.7 711.8L186.7 714.3L186.6 716.8L186.6 719.3L186.5 721.8L186.5 724.3L186.4 726.8L186.3 729.3L186.3 731.8L186.2 734.3L186.1 736.8L186 739.3L185.9 741.8L185.8 744.3L185.7 746.8L185.6 749.3L185.4 751.8L185.3 754.3L185.1 756.8L185 759.3L184.8 761.8L184.6 764.3L184.4 766.8L184.1 769.3L183.8 771.8L183.6 774.3L183.2 776.8L182.9 779.3L182.5 781.8L182.1 784.3L181.7 786.8L181.2 789.3L180.8 791.8L180.2 794.3L179.7 796.8L179.2 799.3L178.6 801.8L178.1 804.3L177.6 806.8L177.2 809.3L176.8 811.8L176.6 814.3L176.4 816.8L176.4 819.3L176.4 821.8L176.5 824.3L176.6 826.8L176.9 829.3L177.3 831.8L177.9 834.3L178.8 836.8L179.8 839.3L181.1 841.8L182.6 844.3L184.3 846.8L186.1 849.3L188.1 851.8L190.2 854.3L192.3 856.8L194.4 859.3L196.6 861.8L198.7 864.3L200.7 866.8L202.6 869.3L204.4 871.8L206.1 874.3L207.7 876.8L209.2 879.3L210.6 881.8L211.9 884.3L213 886.8L214.1 889.3L215.1 891.8L216 894.3L216.8 896.8L217.6 899.3L218.3 901.8" stroke="#777777" stroke-width="1.6" fill="none"/><path d="M199.4 691.8L199.4 694.3L199.4 696.8L199.4 699.3L199.3 701.8L199.3 704.3L199.3 706.8L199.2 709.3L199.2 711.8L199.2 714.3L199.1 716.8L199.1 719.3L199 721.8L199 724.3L198.9 726.8L198.9 729.3L198.8 731.8L198.7 734.3L198.7 736.8L198.6 739.3L198.5 741.8L198.4 744.3L198.3 746.8L198.2 749.3L198.1 751.8L198 754.3L197.8 756.8L197.7 759.3L197.6 761.8L197.4 764.3L197.2 766.8L197 769.3L196.8 771.8L196.6 774.3L196.3 776.8L196 779.3L195.7 781.8L195.4 784.3L195 786.8L194.6 789.3L194.2 791.8L193.8 794.3L193.3 796.8L192.8 799.3L192.3 801.8L191.7 804.3L191.2 806.8L190.7 809.3L190.3 811.8L189.9 814.3L189.5 816.8L189.3 819.3L189.2 821.8L189.2 824.3L189.2 826.8L189.3 829.3L189.5 831.8L189.8 834.3L190.3 836.8L191 839.3L192 841.8L193.1 844.3L194.6 846.8L196.2 849.3L198 851.8L200 854.3L202.2 856.8L204.4 859.3L206.6 861.8L208.9 864.3L211.1 866.8L213.2 869.3L215.3 871.8L217.2 874.3L219.1 876.8L220.8 879.3L222.4 881.8L223.9 884.3L225.3 886.8L226.5 889.3L227.7 891.8L228.7 894.3L229.7 896.8L230.6 899.3L231.4 901.8" stroke="#777777" stroke-width="1.6" fill="none"/><path d="M214.5 691.8L214.5 694.3L214.4 696.8L214.4 699.3L214.4 701.8L214.3 704.3L214.3 706.8L214.3 709.3L214.2 711.8L214.2 714.3L214.1 716.8L214.1 719.3L214 721.8L214 724.3L213.9 726.8L213.9 729.3L213.8 731.8L213.7 734.3L213.6 736.8L213.6 739.3L213.5 741.8L213.4 744.3L213.3 746.8L213.2 749.3L213.1 751.8L212.9 754.3L212.8 756.8L212.6 759.3L212.5 761.8L212.3 764.3L212.1 766.8L211.9 769.3L211.7 771.8L211.4 774.3L211.2 776.8L210.9 779.3L210.6 781.8L210.2 784.3L209.9 786.8L209.5 789.3L209 791.8L208.5 794.3L208 796.8L207.5 799.3L206.9 801.8L206.3 804.3L205.6 806.8L205 809.3L204.3 811.8L203.7 814.3L203.1 816.8L202.6 819.3L202.1 821.8L201.8 824.3L201.6 826.8L201.6 829.3L201.6 831.8L201.7 834.3L201.8 836.8L202.2 839.3L202.7 841.8L203.4 844.3L204.3 846.8L205.5 849.3L207 851.8L208.7 854.3L210.6 856.8L212.7 859.3L214.9 861.8L217.2 864.3L219.6 866.8L221.9 869.3L224.3 871.8L226.5 874.3L228.6 876.8L230.7 879.3L232.6 881.8L234.4 884.3L236 886.8L237.6 889.3L239 891.8L240.3 894.3L241.5 896.8L242.5 899.3L243.5 901.8" stroke="#777777" stroke-width="1.6" fill="none"/><path d="M228.4 691.8L228.4 694.3L228.4 696.8L228.3 699.3L228.3 701.8L228.2 704.3L228.2 706.8L228.2 709.3L228.1 711.8L228.1 714.3L228 716.8L228 719.3L227.9 721.8L227.9 724.3L227.8 726.8L227.7 729.3L227.7 731.8L227.6 734.3L227.5 736.8L227.4 739.3L227.3 741.8L227.2 744.3L227.1 746.8L227 749.3L226.9 751.8L226.7 754.3L226.6 756.8L226.4 759.3L226.3 761.8L226.1 764.3L225.9 766.8L225.7 769.3L225.4 771.8L225.2 774.3L224.9 776.8L224.6 779.3L224.3 781.8L223.9 784.3L223.5 786.8L223.1 789.3L222.6 791.8L222.1 794.3L221.6 796.8L221 799.3L220.4 801.8L219.7 804.3L219 806.8L218.3 809.3L217.5 811.8L216.7 814.3L216 816.8L215.3 819.3L214.6 821.8L214.1 824.3L213.7 826.8L213.4 829.3L213.3 831.8L213.3 834.3L213.3 836.8L213.5 839.3L213.7 841.8L214.2 844.3L214.9 846.8L215.8 849.3L217 851.8L218.5 854.3L220.3 856.8L222.2 859.3L224.4 861.8L226.7 864.3L229.1 866.8L231.6 869.3L234.1 871.8L236.5 874.3L238.8 876.8L241.1 879.3L243.2 881.8L245.2 884.3L247.1 886.8L248.8 889.3L250.4 891.8L251.8 894.3L253.2 896.8L254.4 899.3L255.5 901.8" stroke="#777777" stroke-width="1.6" fill="none"/><path d="M240.8 691.8L240.8 694.3L240.8 696.8L240.7 699.3L240.7 701.8L240.7 704.3L240.6 706.8L240.6 709.3L240.5 711.8L240.5 714.3L240.4 716.8L240.4 719.3L240.3 721.8L240.2 724.3L240.2 726.8L240.1 729.3L240 731.8L240 734.3L239.9 736.8L239.8 739.3L239.7 741.8L239.6 744.3L239.5 746.8L239.4 749.3L239.2 751.8L239.1 754.3L238.9 756.8L238.8 759.3L238.6 761.8L238.4 764.3L238.2 766.8L238 769.3L237.7 771.8L237.5 774.3L237.2 776.8L236.9 779.3L236.5 781.8L236.2 784.3L235.8 786.8L235.3 789.3L234.9 791.8L234.3 794.3L233.8 796.8L233.2 799.3L232.5 801.8L231.8 804.3L231.1 806.8L230.3 809.3L229.5 811.8L228.7 814.3L227.9 816.8L227.1 819.3L226.5 821.8L225.9 824.3L225.4 826.8L225.1 829.3L224.9 831.8L224.9 834.3L225 836.8L225.1 839.3L225.4 841.8L225.9 844.3L226.6 846.8L227.5 849.3L228.8 851.8L230.4 854.3L232.2 856.8L234.3 859.3L236.5 861.8L239 864.3L241.5 866.8L244.1 869.3L246.7 871.8L249.2 874.3L251.6 876.8L254 879.3L256.2 881.8L258.2 884.3L260.1 886.8L261.9 889.3L263.5 891.8L265 894.3L266.4 896.8L267.6 899.3L268.7 901.8" stroke="#777777" stroke-width="1.6" fill="none"/><path d="M259.6 691.8L259.6 694.3L259.6 696.8L259.5 699.3L259.5 701.8L259.4 704.3L259.3 706.8L259.3 709.3L259.2 711.8L259.1 714.3L259.1 716.8L259 719.3L258.9 721.8L258.8 724.3L258.7 726.8L258.6 729.3L258.5 731.8L258.4 734.3L258.3 736.8L258.2 739.3L258 741.8L257.9 744.3L257.7 746.8L257.6 749.3L257.4 751.8L257.2 754.3L257 756.8L256.7 759.3L256.5 761.8L256.2 764.3L255.9 766.8L255.6 769.3L255.3 771.8L254.9 774.3L254.5 776.8L254.1 779.3L253.6 781.8L253.1 784.3L252.5 786.8L251.9 789.3L251.2 791.8L250.5 794.3L249.7 796.8L248.8 799.3L247.9 801.8L246.9 804.3L245.9 806.8L244.8 809.3L243.7 811.8L242.5 814.3L241.4 816.8L240.3 819.3L239.3 821.8L238.4 824.3L237.7 826.8L237.2 829.3L237 831.8L237 834.3L237 836.8L237.1 839.3L237.4 841.8L237.9 844.3L238.6 846.8L239.6 849.3L240.9 851.8L242.6 854.3L244.5 856.8L246.7 859.3L249.1 861.8L251.6 864.3L254.3 866.8L257 869.3L259.7 871.8L262.3 874.3L264.9 876.8L267.3 879.3L269.5 881.8L271.7 884.3L273.6 886.8L275.4 889.3L277.1 891.8L278.6 894.3L279.9 896.8L281.2 899.3L282.3 901.8" stroke="#1414f0" stroke-width="1.8" fill="none"/><path d="M270.9 691.8L270.9 694.3L270.8 696.8L270.8 699.3L270.7 701.8L270.7 704.3L270.6 706.8L270.6 709.3L270.5 711.8L270.5 714.3L270.4 716.8L270.3 719.3L270.2 721.8L270.1 724.3L270.1 726.8L270 729.3L269.9 731.8L269.8 734.3L269.6 736.8L269.5 739.3L269.4 741.8L269.2 744.3L269.1 746.8L268.9 749.3L268.8 751.8L268.6 754.3L268.4 756.8L268.2 759.3L267.9 761.8L267.7 764.3L267.4 766.8L267.1 769.3L266.8 771.8L266.4 774.3L266 776.8L265.6 779.3L265.2 781.8L264.7 784.3L264.1 786.8L263.5 789.3L262.9 791.8L262.2 794.3L261.4 796.8L260.6 799.3L259.7 801.8L258.8 804.3L257.8 806.8L256.7 809.3L255.6 811.8L254.5 814.3L253.4 816.8L252.4 819.3L251.4 821.8L250.5 824.3L249.8 826.8L249.3 829.3L249.1 831.8L249 834.3L249 836.8L249.1 839.3L249.4 841.8L249.8 844.3L250.5 846.8L251.5 849.3L252.8 851.8L254.4 854.3L256.3 856.8L258.4 859.3L260.8 861.8L263.4 864.3L266 866.8L268.8 869.3L271.5 871.8L274.1 874.3L276.7 876.8L279.1 879.3L281.4 881.8L283.6 884.3L285.6 886.8L287.4 889.3L289.1 891.8L290.6 894.3L292 896.8L293.3 899.3L294.5 901.8" stroke="#777777" stroke-width="1.6" fill="none"/><path d="M284.9 691.8L284.8 694.3L284.8 696.8L284.7 699.3L284.7 701.8L284.6 704.3L284.6 706.8L284.5 709.3L284.4 711.8L284.4 714.3L284.3 716.8L284.2 719.3L284.2 721.8L284.1 724.3L284 726.8L283.9 729.3L283.8 731.8L283.7 734.3L283.6 736.8L283.4 739.3L283.3 741.8L283.2 744.3L283 746.8L282.9 749.3L282.7 751.8L282.5 754.3L282.3 756.8L282.1 759.3L281.9 761.8L281.6 764.3L281.3 766.8L281 769.3L280.7 771.8L280.4 774.3L280 776.8L279.6 779.3L279.1 781.8L278.6 784.3L278.1 786.8L277.5 789.3L276.9 791.8L276.2 794.3L275.4 796.8L274.6 799.3L273.7 801.8L272.8 804.3L271.8 806.8L270.7 809.3L269.6 811.8L268.5 814.3L267.4 816.8L266.3 819.3L265.3 821.8L264.3 824.3L263.6 826.8L263 829.3L262.7 831.8L262.6 834.3L262.6 836.8L262.6 839.3L262.9 841.8L263.2 844.3L263.9 846.8L264.7 849.3L265.9 851.8L267.4 854.3L269.3 856.8L271.4 859.3L273.7 861.8L276.2 864.3L278.9 866.8L281.6 869.3L284.3 871.8L287 874.3L289.6 876.8L292.1 879.3L294.5 881.8L296.7 884.3L298.8 886.8L300.6 889.3L302.4 891.8L304 894.3L305.4 896.8L306.7 899.3L307.9 901.8" stroke="#777777" stroke-width="1.6" fill="none"/><path d="M297.3 691.8L297.2 694.3L297.2 696.8L297.1 699.3L297.1 701.8L297 704.3L297 706.8L296.9 709.3L296.8 711.8L296.8 714.3L296.7 716.8L296.6 719.3L296.5 721.8L296.4 724.3L296.3 726.8L296.2 729.3L296.1 731.8L296 734.3L295.9 736.8L295.8 739.3L295.6 741.8L295.5 744.3L295.3 746.8L295.2 749.3L295 751.8L294.8 754.3L294.6 756.8L294.3 759.3L294.1 761.8L293.8 764.3L293.5 766.8L293.2 769.3L292.9 771.8L292.5 774.3L292.1 776.8L291.6 779.3L291.1 781.8L290.6 784.3L290 786.8L289.4 789.3L288.7 791.8L288 794.3L287.2 796.8L286.3 799.3L285.3 801.8L284.3 804.3L283.3 806.8L282.2 809.3L281 811.8L279.9 814.3L278.7 816.8L277.6 819.3L276.6 821.8L275.7 824.3L275 826.8L274.5 829.3L274.2 831.8L274.2 834.3L274.3 836.8L274.4 839.3L274.7 841.8L275.2 844.3L275.9 846.8L276.9 849.3L278.3 851.8L279.9 854.3L281.9 856.8L284.1 859.3L286.6 861.8L289.2 864.3L291.9 866.8L294.6 869.3L297.4 871.8L300 874.3L302.6 876.8L305.1 879.3L307.4 881.8L309.5 884.3L311.5 886.8L313.3 889.3L315 891.8L316.6 894.3L318 896.8L319.2 899.3L320.4 901.8" stroke="#777777" stroke-width="1.6" fill="none"/><path d="M311.6 691.8L311.5 694.3L311.5 696.8L311.4 699.3L311.3 701.8L311.3 704.3L311.2 706.8L311.1 709.3L311.1 711.8L311 714.3L310.9 716.8L310.8 719.3L310.7 721.8L310.6 724.3L310.5 726.8L310.4 729.3L310.3 731.8L310.1 734.3L310 736.8L309.8 739.3L309.7 741.8L309.5 744.3L309.3 746.8L309.1 749.3L308.9 751.8L308.7 754.3L308.4 756.8L308.1 759.3L307.8 761.8L307.5 764.3L307.2 766.8L306.8 769.3L306.4 771.8L306 774.3L305.5 776.8L305 779.3L304.4 781.8L303.8 784.3L303.1 786.8L302.3 789.3L301.5 791.8L300.7 794.3L299.7 796.8L298.7 799.3L297.6 801.8L296.4 804.3L295.2 806.8L293.9 809.3L292.6 811.8L291.3 814.3L290 816.8L288.8 819.3L287.7 821.8L286.8 824.3L286.1 826.8L285.7 829.3L285.5 831.8L285.5 834.3L285.6 836.8L285.8 839.3L286.2 841.8L286.8 844.3L287.6 846.8L288.8 849.3L290.3 851.8L292.1 854.3L294.2 856.8L296.5 859.3L299.1 861.8L301.8 864.3L304.5 866.8L307.3 869.3L310 871.8L312.7 874.3L315.2 876.8L317.6 879.3L319.8 881.8L321.9 884.3L323.9 886.8L325.6 889.3L327.3 891.8L328.7 894.3L330.1 896.8L331.3 899.3L332.4 901.8" stroke="#777777" stroke-width="1.6" fill="none"/><path d="M324.4 691.8L324.3 694.3L324.3 696.8L324.2 699.3L324.1 701.8L324.1 704.3L324 706.8L323.9 709.3L323.8 711.8L323.8 714.3L323.7 716.8L323.6 719.3L323.5 721.8L323.4 724.3L323.3 726.8L323.1 729.3L323 731.8L322.9 734.3L322.7 736.8L322.6 739.3L322.4 741.8L322.2 744.3L322.1 746.8L321.9 749.3L321.6 751.8L321.4 754.3L321.1 756.8L320.9 759.3L320.6 761.8L320.2 764.3L319.9 766.8L319.5 769.3L319.1 771.8L318.6 774.3L318.1 776.8L317.6 779.3L317 781.8L316.4 784.3L315.7 786.8L314.9 789.3L314.1 791.8L313.2 794.3L312.2 796.8L311.2 799.3L310 801.8L308.9 804.3L307.6 806.8L306.3 809.3L305 811.8L303.7 814.3L302.4 816.8L301.2 819.3L300.2 821.8L299.3 824.3L298.7 826.8L298.4 829.3L298.3 831.8L298.3 834.3L298.4 836.8L298.7 839.3L299.1 841.8L299.8 844.3L300.8 846.8L302 849.3L303.6 851.8L305.5 854.3L307.7 856.8L310.1 859.3L312.8 861.8L315.5 864.3L318.2 866.8L321 869.3L323.8 871.8L326.4 874.3L328.9 876.8L331.3 879.3L333.5 881.8L335.5 884.3L337.4 886.8L339.2 889.3L340.8 891.8L342.2 894.3L343.5 896.8L344.7 899.3L345.8 901.8" stroke="#777777" stroke-width="1.6" fill="none"/><path d="M338.7 691.8L338.6 694.3L338.6 696.8L338.5 699.3L338.4 701.8L338.3 704.3L338.3 706.8L338.2 709.3L338.1 711.8L338 714.3L337.9 716.8L337.8 719.3L337.7 721.8L337.6 724.3L337.5 726.8L337.4 729.3L337.2 731.8L337.1 734.3L336.9 736.8L336.7 739.3L336.6 741.8L336.4 744.3L336.2 746.8L335.9 749.3L335.7 751.8L335.4 754.3L335.2 756.8L334.9 759.3L334.5 761.8L334.2 764.3L333.8 766.8L333.4 769.3L332.9 771.8L332.4 774.3L331.9 776.8L331.3 779.3L330.6 781.8L329.9 784.3L329.2 786.8L328.3 789.3L327.4 791.8L326.4 794.3L325.4 796.8L324.2 799.3L323 801.8L321.8 804.3L320.4 806.8L319.1 809.3L317.7 811.8L316.4 814.3L315.2 816.8L314.1 819.3L313.1 821.8L312.4 824.3L312 826.8L311.8 829.3L311.9 831.8L311.9 834.3L312.1 836.8L312.5 839.3L313.1 841.8L314.1 844.3L315.3 846.8L316.8 849.3L318.6 851.8L320.8 854.3L323.1 856.8L325.7 859.3L328.4 861.8L331.2 864.3L334 866.8L336.8 869.3L339.5 871.8L342 874.3L344.4 876.8L346.7 879.3L348.8 881.8L350.8 884.3L352.5 886.8L354.2 889.3L355.7 891.8L357 894.3L358.2 896.8L359.4 899.3L360.4 901.8" stroke="#777777" stroke-width="1.6" fill="none"/><path d="M353.7 691.8L353.7 694.3L353.6 696.8L353.5 699.3L353.4 701.8L353.4 704.3L353.3 706.8L353.2 709.3L353.1 711.8L353 714.3L352.9 716.8L352.8 719.3L352.6 721.8L352.5 724.3L352.4 726.8L352.2 729.3L352.1 731.8L351.9 734.3L351.7 736.8L351.5 739.3L351.3 741.8L351.1 744.3L350.9 746.8L350.6 749.3L350.4 751.8L350.1 754.3L349.7 756.8L349.4 759.3L349 761.8L348.6 764.3L348.2 766.8L347.7 769.3L347.2 771.8L346.6 774.3L346 776.8L345.3 779.3L344.6 781.8L343.8 784.3L342.9 786.8L341.9 789.3L340.9 791.8L339.8 794.3L338.6 796.8L337.3 799.3L335.9 801.8L334.5 804.3L333 806.8L331.5 809.3L330 811.8L328.5 814.3L327.2 816.8L326 819.3L325 821.8L324.3 824.3L324 826.8L323.9 829.3L323.9 831.8L324 834.3L324.3 836.8L324.7 839.3L325.4 841.8L326.4 844.3L327.7 846.8L329.4 849.3L331.3 851.8L333.6 854.3L336 856.8L338.7 859.3L341.4 861.8L344.2 864.3L347 866.8L349.8 869.3L352.4 871.8L355 874.3L357.4 876.8L359.6 879.3L361.7 881.8L363.6 884.3L365.3 886.8L366.9 889.3L368.4 891.8L369.7 894.3L370.9 896.8L372 899.3L373 901.8" stroke="#777777" stroke-width="1.6" fill="none"/><path d="M366.9 691.8L366.8 694.3L366.8 696.8L366.7 699.3L366.6 701.8L366.5 704.3L366.4 706.8L366.3 709.3L366.2 711.8L366.1 714.3L366 716.8L365.9 719.3L365.8 721.8L365.6 724.3L365.5 726.8L365.4 729.3L365.2 731.8L365 734.3L364.8 736.8L364.6 739.3L364.4 741.8L364.2 744.3L363.9 746.8L363.7 749.3L363.4 751.8L363.1 754.3L362.7 756.8L362.4 759.3L362 761.8L361.6 764.3L361.1 766.8L360.6 769.3L360 771.8L359.4 774.3L358.8 776.8L358.1 779.3L357.3 781.8L356.4 784.3L355.5 786.8L354.5 789.3L353.4 791.8L352.3 794.3L351 796.8L349.7 799.3L348.3 801.8L346.8 804.3L345.3 806.8L343.8 809.3L342.4 811.8L341 814.3L339.8 816.8L338.8 819.3L338 821.8L337.6 824.3L337.4 826.8L337.5 829.3L337.5 831.8L337.7 834.3L338.2 836.8L338.8 839.3L339.7 841.8L341 844.3L342.5 846.8L344.4 849.3L346.6 851.8L349 854.3L351.6 856.8L354.4 859.3L357.2 861.8L360 864.3L362.8 866.8L365.5 869.3L368.1 871.8L370.5 874.3L372.8 876.8L374.9 879.3L376.9 881.8L378.7 884.3L380.3 886.8L381.8 889.3L383.2 891.8L384.4 894.3L385.6 896.8L386.6 899.3L387.5 901.8" stroke="#777777" stroke-width="1.6" fill="none"/><path d="M376.3 691.8L376.2 694.3L376.2 696.8L376.1 699.3L376 701.8L376 704.3L375.9 706.8L375.8 709.3L375.7 711.8L375.6 714.3L375.5 716.8L375.4 719.3L375.3 721.8L375.1 724.3L375 726.8L374.9 729.3L374.7 731.8L374.5 734.3L374.4 736.8L374.2 739.3L374 741.8L373.7 744.3L373.5 746.8L373.3 749.3L373 751.8L372.7 754.3L372.4 756.8L372 759.3L371.6 761.8L371.2 764.3L370.8 766.8L370.3 769.3L369.7 771.8L369.2 774.3L368.5 776.8L367.8 779.3L367.1 781.8L366.3 784.3L365.4 786.8L364.4 789.3L363.4 791.8L362.3 794.3L361.1 796.8L359.8 799.3L358.6 801.8L357.2 804.3L355.9 806.8L354.7 809.3L353.5 811.8L352.5 814.3L351.6 816.8L351 819.3L350.7 821.8L350.6 824.3L350.6 826.8L350.7 829.3L351 831.8L351.4 834.3L352.1 836.8L353.1 839.3L354.4 841.8L356.1 844.3L358 846.8L360.3 849.3L362.8 851.8L365.4 854.3L368.2 856.8L371 859.3L373.9 861.8L376.7 864.3L379.4 866.8L381.9 869.3L384.4 871.8L386.6 874.3L388.7 876.8L390.7 879.3L392.4 881.8L394.1 884.3L395.5 886.8L396.9 889.3L398.1 891.8L399.2 894.3L400.2 896.8L401.1 899.3L401.9 901.8" stroke="#777777" stroke-width="1.6" fill="none"/><path d="M387.6 691.8L387.5 694.3L387.5 696.8L387.4 699.3L387.3 701.8L387.2 704.3L387.1 706.8L387.1 709.3L387 711.8L386.9 714.3L386.8 716.8L386.6 719.3L386.5 721.8L386.4 724.3L386.3 726.8L386.1 729.3L385.9 731.8L385.8 734.3L385.6 736.8L385.4 739.3L385.2 741.8L385 744.3L384.7 746.8L384.4 749.3L384.2 751.8L383.8 754.3L383.5 756.8L383.1 759.3L382.7 761.8L382.3 764.3L381.8 766.8L381.3 769.3L380.8 771.8L380.1 774.3L379.5 776.8L378.7 779.3L378 781.8L377.1 784.3L376.2 786.8L375.2 789.3L374.1 791.8L372.9 794.3L371.7 796.8L370.5 799.3L369.2 801.8L368 804.3L366.7 806.8L365.6 809.3L364.6 811.8L363.7 814.3L363.1 816.8L362.7 819.3L362.6 821.8L362.7 824.3L362.8 826.8L363 829.3L363.4 831.8L364.1 834.3L365.1 836.8L366.4 839.3L368 841.8L369.9 844.3L372.1 846.8L374.6 849.3L377.3 851.8L380.1 854.3L382.9 856.8L385.8 859.3L388.6 861.8L391.3 864.3L393.9 866.8L396.4 869.3L398.7 871.8L400.8 874.3L402.8 876.8L404.6 879.3L406.2 881.8L407.7 884.3L409.1 886.8L410.3 889.3L411.4 891.8L412.4 894.3L413.4 896.8L414.2 899.3L415 901.8" stroke="#777777" stroke-width="1.6" fill="none"/><path d="M400.8 691.8L400.7 694.3L400.6 696.8L400.5 699.3L400.5 701.8L400.4 704.3L400.3 706.8L400.2 709.3L400.1 711.8L400 714.3L399.8 716.8L399.7 719.3L399.6 721.8L399.4 724.3L399.3 726.8L399.1 729.3L399 731.8L398.8 734.3L398.6 736.8L398.3 739.3L398.1 741.8L397.8 744.3L397.6 746.8L397.3 749.3L396.9 751.8L396.6 754.3L396.2 756.8L395.8 759.3L395.3 761.8L394.8 764.3L394.3 766.8L393.7 769.3L393.1 771.8L392.4 774.3L391.6 776.8L390.8 779.3L389.9 781.8L388.9 784.3L387.9 786.8L386.8 789.3L385.6 791.8L384.4 794.3L383.1 796.8L381.9 799.3L380.6 801.8L379.5 804.3L378.4 806.8L377.5 809.3L376.8 811.8L376.4 814.3L376.2 816.8L376.2 819.3L376.3 821.8L376.4 824.3L376.8 826.8L377.4 829.3L378.3 831.8L379.5 834.3L381 836.8L382.8 839.3L384.9 841.8L387.3 844.3L390 846.8L392.7 849.3L395.6 851.8L398.5 854.3L401.3 856.8L404.1 859.3L406.8 861.8L409.3 864.3L411.6 866.8L413.8 869.3L415.9 871.8L417.7 874.3L419.4 876.8L421 879.3L422.4 881.8L423.7 884.3L424.9 886.8L425.9 889.3L426.9 891.8L427.8 894.3L428.5 896.8L429.3 899.3L429.9 901.8" stroke="#777777" stroke-width="1.6" fill="none"/><path d="M413.9 691.8L413.8 694.3L413.8 696.8L413.7 699.3L413.6 701.8L413.5 704.3L413.4 706.8L413.2 709.3L413.1 711.8L413 714.3L412.8 716.8L412.7 719.3L412.5 721.8L412.4 724.3L412.2 726.8L412 729.3L411.8 731.8L411.5 734.3L411.3 736.8L411 739.3L410.7 741.8L410.4 744.3L410.1 746.8L409.7 749.3L409.3 751.8L408.9 754.3L408.4 756.8L407.9 759.3L407.3 761.8L406.7 764.3L406 766.8L405.3 769.3L404.5 771.8L403.6 774.3L402.7 776.8L401.6 779.3L400.5 781.8L399.4 784.3L398.1 786.8L396.9 789.3L395.5 791.8L394.2 794.3L392.9 796.8L391.6 799.3L390.4 801.8L389.4 804.3L388.7 806.8L388.1 809.3L387.9 811.8L387.9 814.3L387.9 816.8L388.1 819.3L388.4 821.8L388.9 824.3L389.8 826.8L390.9 829.3L392.3 831.8L394.1 834.3L396.2 836.8L398.6 839.3L401.2 841.8L403.9 844.3L406.8 846.8L409.7 849.3L412.6 851.8L415.4 854.3L418.1 856.8L420.6 859.3L423 861.8L425.3 864.3L427.4 866.8L429.3 869.3L431 871.8L432.6 874.3L434.1 876.8L435.4 879.3L436.6 881.8L437.7 884.3L438.7 886.8L439.5 889.3L440.4 891.8L441.1 894.3L441.8 896.8L442.4 899.3L442.9 901.8" stroke="#777777" stroke-width="1.6" fill="none"/><path d="M427.1 691.8L427 694.3L426.9 696.8L426.8 699.3L426.7 701.8L426.6 704.3L426.4 706.8L426.3 709.3L426.1 711.8L426 714.3L425.8 716.8L425.6 719.3L425.4 721.8L425.2 724.3L425 726.8L424.8 729.3L424.5 731.8L424.2 734.3L423.9 736.8L423.6 739.3L423.2 741.8L422.9 744.3L422.4 746.8L422 749.3L421.5 751.8L420.9 754.3L420.3 756.8L419.7 759.3L419 761.8L418.2 764.3L417.4 766.8L416.5 769.3L415.5 771.8L414.4 774.3L413.3 776.8L412.1 779.3L410.8 781.8L409.5 784.3L408.1 786.8L406.7 789.3L405.3 791.8L404 794.3L402.8 796.8L401.8 799.3L401 801.8L400.5 804.3L400.3 806.8L400.3 809.3L400.3 811.8L400.5 814.3L400.9 816.8L401.4 819.3L402.3 821.8L403.5 824.3L405 826.8L406.8 829.3L408.9 831.8L411.3 834.3L414 836.8L416.8 839.3L419.6 841.8L422.6 844.3L425.4 846.8L428.2 849.3L430.9 851.8L433.5 854.3L435.9 856.8L438.1 859.3L440.2 861.8L442.1 864.3L443.9 866.8L445.4 869.3L446.9 871.8L448.2 874.3L449.4 876.8L450.5 879.3L451.5 881.8L452.3 884.3L453.1 886.8L453.9 889.3L454.5 891.8L455.1 894.3L455.7 896.8L456.2 899.3L456.7 901.8" stroke="#777777" stroke-width="1.6" fill="none"/><path d="M439.5 691.8L439.4 694.3L439.3 696.8L439.2 699.3L439 701.8L438.9 704.3L438.7 706.8L438.6 709.3L438.4 711.8L438.2 714.3L438 716.8L437.8 719.3L437.6 721.8L437.3 724.3L437 726.8L436.8 729.3L436.4 731.8L436.1 734.3L435.7 736.8L435.3 739.3L434.9 741.8L434.4 744.3L433.9 746.8L433.3 749.3L432.7 751.8L432 754.3L431.3 756.8L430.5 759.3L429.6 761.8L428.7 764.3L427.6 766.8L426.5 769.3L425.4 771.8L424.1 774.3L422.8 776.8L421.4 779.3L420.1 781.8L418.7 784.3L417.4 786.8L416.1 789.3L415 791.8L414.1 794.3L413.5 796.8L413.1 799.3L413.1 801.8L413.1 804.3L413.2 806.8L413.5 809.3L413.9 811.8L414.7 814.3L415.7 816.8L417.1 819.3L418.8 821.8L420.8 824.3L423.1 826.8L425.6 829.3L428.4 831.8L431.3 834.3L434.2 836.8L437.1 839.3L440 841.8L442.7 844.3L445.4 846.8L447.9 849.3L450.2 851.8L452.3 854.3L454.3 856.8L456.1 859.3L457.8 861.8L459.3 864.3L460.7 866.8L461.9 869.3L463.1 871.8L464.1 874.3L465 876.8L465.9 879.3L466.7 881.8L467.3 884.3L468 886.8L468.6 889.3L469.1 891.8L469.6 894.3L470 896.8L470.4 899.3L470.8 901.8" stroke="#777777" stroke-width="1.6" fill="none"/><path d="M453.4 691.8L453.3 694.3L453.2 696.8L453 699.3L452.9 701.8L452.7 704.3L452.5 706.8L452.3 709.3L452.1 711.8L451.9 714.3L451.6 716.8L451.4 719.3L451.1 721.8L450.8 724.3L450.5 726.8L450.1 729.3L449.7 731.8L449.3 734.3L448.8 736.8L448.3 739.3L447.8 741.8L447.2 744.3L446.5 746.8L445.8 749.3L445.1 751.8L444.2 754.3L443.3 756.8L442.3 759.3L441.2 761.8L440.1 764.3L438.9 766.8L437.6 769.3L436.2 771.8L434.8 774.3L433.3 776.8L431.9 779.3L430.5 781.8L429.3 784.3L428.2 786.8L427.3 789.3L426.6 791.8L426.3 794.3L426.2 796.8L426.3 799.3L426.4 801.8L426.7 804.3L427.2 806.8L427.9 809.3L429 811.8L430.4 814.3L432.2 816.8L434.2 819.3L436.6 821.8L439.2 824.3L441.9 826.8L444.8 829.3L447.8 831.8L450.7 834.3L453.6 836.8L456.4 839.3L459 841.8L461.5 844.3L463.8 846.8L465.9 849.3L467.9 851.8L469.7 854.3L471.4 856.8L472.9 859.3L474.3 861.8L475.5 864.3L476.6 866.8L477.7 869.3L478.6 871.8L479.4 874.3L480.2 876.8L480.9 879.3L481.5 881.8L482.1 884.3L482.6 886.8L483.1 889.3L483.5 891.8L483.9 894.3L484.3 896.8L484.6 899.3L484.9 901.8" stroke="#777777" stroke-width="1.6" fill="none"/><path d="M465.9 691.8L465.7 694.3L465.6 696.8L465.4 699.3L465.2 701.8L465 704.3L464.8 706.8L464.6 709.3L464.4 711.8L464.1 714.3L463.8 716.8L463.6 719.3L463.2 721.8L462.9 724.3L462.5 726.8L462.1 729.3L461.7 731.8L461.2 734.3L460.6 736.8L460.1 739.3L459.4 741.8L458.8 744.3L458 746.8L457.2 749.3L456.3 751.8L455.4 754.3L454.3 756.8L453.2 759.3L452 761.8L450.8 764.3L449.4 766.8L448.1 769.3L446.6 771.8L445.2 774.3L443.9 776.8L442.6 779.3L441.5 781.8L440.6 784.3L439.9 786.8L439.5 789.3L439.4 791.8L439.4 794.3L439.5 796.8L439.8 799.3L440.2 801.8L441 804.3L442 806.8L443.3 809.3L445 811.8L447 814.3L449.3 816.8L451.9 819.3L454.7 821.8L457.5 824.3L460.5 826.8L463.4 829.3L466.3 831.8L469.2 834.3L471.8 836.8L474.4 839.3L476.7 841.8L478.9 844.3L480.9 846.8L482.8 849.3L484.5 851.8L486 854.3L487.4 856.8L488.7 859.3L489.9 861.8L490.9 864.3L491.9 866.8L492.7 869.3L493.5 871.8L494.2 874.3L494.9 876.8L495.5 879.3L496 881.8L496.5 884.3L496.9 886.8L497.3 889.3L497.7 891.8L498 894.3L498.4 896.8L498.6 899.3L498.9 901.8" stroke="#777777" stroke-width="1.6" fill="none"/></g><circle cx="103.5" cy="781" r="4.2" fill="#ff7f0e"/><circle cx="118.5" cy="787.4" r="4.2" fill="#ff7f0e"/><circle cx="131" cy="794.9" r="4.2" fill="#ff7f0e"/><circle cx="145.3" cy="800.6" r="4.2" fill="#ff7f0e"/><circle cx="158.4" cy="806.2" r="4.2" fill="#ff7f0e"/><circle cx="170.5" cy="811.1" r="4.2" fill="#ff7f0e"/><circle cx="182.9" cy="818.6" r="4.2" fill="#ff7f0e"/><circle cx="195.7" cy="823.1" r="4.2" fill="#ff7f0e"/><circle cx="208.1" cy="828.8" r="4.2" fill="#ff7f0e"/><circle cx="219.8" cy="832.2" r="4.2" fill="#ff7f0e"/><circle cx="231.4" cy="832.6" r="4.2" fill="#ff7f0e"/><circle cx="243.5" cy="832.9" r="4.2" fill="#ff7f0e"/><circle cx="255.5" cy="833.3" r="4.2" fill="#ff7f0e"/><circle cx="269.1" cy="834.1" r="4.2" fill="#ff7f0e"/><circle cx="280.7" cy="832.9" r="4.2" fill="#ff7f0e"/><circle cx="292" cy="831.8" r="4.2" fill="#ff7f0e"/><circle cx="304.8" cy="831" r="4.2" fill="#ff7f0e"/><circle cx="318.3" cy="829.2" r="4.2" fill="#ff7f0e"/><circle cx="330.4" cy="828.4" r="4.2" fill="#ff7f0e"/><circle cx="343.9" cy="826.5" r="4.2" fill="#ff7f0e"/><circle cx="357.1" cy="823.5" r="4.2" fill="#ff7f0e"/><circle cx="369.1" cy="821.3" r="4.2" fill="#ff7f0e"/><circle cx="382.7" cy="817.1" r="4.2" fill="#000"/><circle cx="394.4" cy="812.6" r="4.2" fill="#000"/><circle cx="406.8" cy="807.3" r="4.2" fill="#000"/><circle cx="419.6" cy="800.9" r="4.2" fill="#000"/><circle cx="432.7" cy="795.7" r="4.2" fill="#000"/><circle cx="445.9" cy="791.2" r="4.2" fill="#000"/><path d="M92.6 706.9H477" stroke="#ff0000" stroke-width="1.5" fill="none"/><path d="M486.5 706.9l-11.5 -4v8z" fill="#ff0000"/><path d="M82 744.5h9.3M504 744.5h-9.3M82 797.5h9.3M504 797.5h-9.3M82 850.2h9.3M504 850.2h-9.3" stroke="#000" stroke-width="3.2" fill="none"/><rect x="82.0" y="691.8" width="422" height="211.1" fill="none" stroke="#000" stroke-width="1.9"/><text transform="translate(71.9 705.4) scale(1 1.04)" font-size="31.6" text-anchor="end">14</text><text transform="translate(71.9 807.3) scale(1 1.04)" font-size="31.6" text-anchor="end">10</text><text transform="translate(59.2 906.3) scale(1 1.04)" font-size="31.6" text-anchor="middle">6</text><text transform="translate(80.5 685.8) scale(1 1.04)" font-size="33">200 mT</text><text transform="translate(425 685.8) scale(1 1.04)" font-size="33">340mT</text><text transform="translate(25.3 801) rotate(-90) scale(1 1.04)" font-size="32.8" text-anchor="middle"><tspan font-style="italic">f</tspan> (GHz)</text><text transform="translate(289.8 953) scale(1 1.04)" font-size="40.5" text-anchor="middle">|<tspan font-style="italic">S</tspan><tspan font-style="italic" font-size="22.7" dy="6.9">12</tspan><tspan dy="-6.9">| (arb. units)</tspan></text></g>
<g id="panel-f"><clipPath id="cpf"><rect x="956.0" y="694.7" width="422.7" height="210.7"/></clipPath><g clip-path="url(#cpf)"><path d="M987.8 694.7L987.2 696.7L986.1 698.7L985.5 700.7L985.7 702.7L986 704.7L986.3 706.7L986.4 708.7L985.8 710.7L984.7 712.7L984 714.7L984.1 716.7L984.7 718.7L984.4 720.7L983.4 722.7L983.4 724.7L984.5 726.7L985.2 728.7L984.6 730.7L983.9 732.7L983.8 734.7L983.9 736.7L983.6 738.7L982 740.7L982.1 742.7L984.4 744.7L985.9 746.7L986 748.7L986.3 750.7L987.4 752.7L988.4 754.7L989.1 756.7L989.9 758.7L990.9 760.7L992.1 762.7L993.7 764.7L995 766.7L995.6 768.7L996 770.7L996.8 772.7L997.7 774.7L998.4 776.7L999.4 778.7L1000.8 780.7L1001.8 782.7L1002 784.7L1002.3 786.7L1002.6 788.7L1003.3 790.7L1004.8 792.7L1006.6 794.7L1007.8 796.7L1008.5 798.7L1009 800.7L1009.8 802.7L1010.5 804.7L1011 806.7L1011.5 808.7L1012.4 810.7L1013.4 812.7L1014.3 814.7L1014.9 816.7L1015.5 818.7L1016.3 820.7L1017 822.7L1017.3 824.7L1017.6 826.7L1017.9 828.7L1018.4 830.7L1019.3 832.7L1020.3 834.7L1021.1 836.7L1021.7 838.7L1022.5 840.7L1023.4 842.7L1024.1 844.7L1024 846.7L1023.4 848.7L1023 850.7L1023 852.7L1023.9 854.7L1025.5 856.7L1026.9 858.7L1027.3 860.7L1027 862.7L1027 864.7L1027.2 866.7L1027.9 868.7L1028.6 870.7L1029.3 872.7L1030.1 874.7L1031.1 876.7L1031.7 878.7L1032.2 880.7L1032.9 882.7L1033.2 884.7L1033.1 886.7L1033.5 888.7L1034.2 890.7L1034.5 892.7L1034.4 894.7L1033.9 896.7L1033.8 898.7L1034.7 900.7L1036.2 902.7L1037.3 904.7" stroke="#808080" stroke-width="1.6" fill="none" stroke-linejoin="round"/><path d="M1011.8 694.7L1010.2 696.7L1008.5 698.7L1008.3 700.7L1009.3 702.7L1010.5 704.7L1010.7 706.7L1010.2 708.7L1009.2 710.7L1008 712.7L1007.6 714.7L1008.3 716.7L1009.3 718.7L1009.2 720.7L1008.2 722.7L1008.3 724.7L1009.4 726.7L1010.2 728.7L1010.1 730.7L1009.8 732.7L1010.1 734.7L1010.2 736.7L1009.7 738.7L1008.4 740.7L1008.7 742.7L1010.2 744.7L1010.9 746.7L1010.2 748.7L1009.3 750.7L1008.7 752.7L1008.2 754.7L1007.6 756.7L1007.3 758.7L1007.1 760.7L1007.6 762.7L1008.6 764.7L1009.8 766.7L1011 768.7L1011.9 770.7L1012.7 772.7L1013.7 774.7L1014.9 776.7L1016.1 778.7L1017 780.7L1017.9 782.7L1018.7 784.7L1019.7 786.7L1020.6 788.7L1021.4 790.7L1022.7 792.7L1024.3 794.7L1025.5 796.7L1026.5 798.7L1027.4 800.7L1028.2 802.7L1028.9 804.7L1029.6 806.7L1030.3 808.7L1030.8 810.7L1031 812.7L1031.4 814.7L1032.3 816.7L1033.7 818.7L1034.8 820.7L1035.4 822.7L1035.7 824.7L1036.1 826.7L1036.7 828.7L1037.3 830.7L1038.1 832.7L1039.3 834.7L1040.6 836.7L1041.6 838.7L1042.5 840.7L1043.3 842.7L1043.7 844.7L1043.8 846.7L1043.7 848.7L1043.6 850.7L1043.9 852.7L1044.5 854.7L1045.6 856.7L1046.7 858.7L1046.9 860.7L1046.8 862.7L1047.3 864.7L1047.9 866.7L1048.5 868.7L1049.1 870.7L1049.7 872.7L1050.3 874.7L1050.8 876.7L1051.4 878.7L1051.9 880.7L1052.4 882.7L1053.2 884.7L1054 886.7L1054.5 888.7L1054.9 890.7L1055.2 892.7L1055.1 894.7L1054.6 896.7L1054.5 898.7L1055.1 900.7L1056.2 902.7L1057.1 904.7" stroke="#808080" stroke-width="1.6" fill="none" stroke-linejoin="round"/><path d="M1034.9 694.7L1034.2 696.7L1032.9 698.7L1031.9 700.7L1032.6 702.7L1033.8 704.7L1034.5 706.7L1034.4 708.7L1033.7 710.7L1032.6 712.7L1031.7 714.7L1031.4 716.7L1031.6 718.7L1031.7 720.7L1031.4 722.7L1031.5 724.7L1032.8 726.7L1034 728.7L1034.1 730.7L1034 732.7L1034 734.7L1034.2 736.7L1033.7 738.7L1032.5 740.7L1032.6 742.7L1034.3 744.7L1034.8 746.7L1033.5 748.7L1032.4 750.7L1032.2 752.7L1032.1 754.7L1032.1 756.7L1032.5 758.7L1032.8 760.7L1033 762.7L1032.9 764.7L1032.7 766.7L1032.6 768.7L1032.4 770.7L1031.8 772.7L1031.4 774.7L1031.3 776.7L1031.5 778.7L1031.5 780.7L1031.6 782.7L1032.4 784.7L1033.2 786.7L1033.8 788.7L1034.5 790.7L1035.8 792.7L1037.7 794.7L1039.8 796.7L1041.3 798.7L1041.7 800.7L1042.4 802.7L1043.8 804.7L1045.1 806.7L1046 808.7L1046.7 810.7L1047.2 812.7L1048.2 814.7L1049.6 816.7L1050.9 818.7L1051.9 820.7L1052.4 822.7L1052.6 824.7L1053.3 826.7L1054.3 828.7L1055.2 830.7L1056 832.7L1057 834.7L1058.4 836.7L1059.7 838.7L1060.7 840.7L1061.5 842.7L1062 844.7L1062.1 846.7L1062.1 848.7L1062.2 850.7L1062.6 852.7L1063.5 854.7L1064.9 856.7L1066.3 858.7L1066.9 860.7L1066.7 862.7L1066.7 864.7L1067.3 866.7L1068.1 868.7L1068.8 870.7L1069.3 872.7L1069.9 874.7L1070.5 876.7L1071 878.7L1071.6 880.7L1072.4 882.7L1073 884.7L1073.2 886.7L1073.4 888.7L1073.9 890.7L1074.7 892.7L1075.4 894.7L1075.4 896.7L1075.1 898.7L1075.4 900.7L1076.5 902.7L1077.5 904.7" stroke="#808080" stroke-width="1.6" fill="none" stroke-linejoin="round"/><path d="M1058.5 694.7L1057.8 696.7L1056.8 698.7L1056 700.7L1056.2 702.7L1057 704.7L1057.5 706.7L1057.1 708.7L1055.9 710.7L1054.9 712.7L1054.6 714.7L1055.3 716.7L1056.3 718.7L1056.5 720.7L1055.8 722.7L1055.3 724.7L1056.1 726.7L1057.2 728.7L1057.3 730.7L1057.2 732.7L1057.7 734.7L1058.3 736.7L1058 738.7L1056.6 740.7L1056.6 742.7L1058 744.7L1058.6 746.7L1057.8 748.7L1056.6 750.7L1055.9 752.7L1055.7 754.7L1056.2 756.7L1056.6 758.7L1056.5 760.7L1056.3 762.7L1056.1 764.7L1056 766.7L1055.9 768.7L1055.8 770.7L1055.5 772.7L1054.7 774.7L1054.2 776.7L1054.7 778.7L1055.3 780.7L1055 782.7L1054.3 784.7L1053.6 786.7L1052.8 788.7L1051.8 790.7L1051.8 792.7L1053.5 794.7L1055.9 796.7L1057.4 798.7L1058.2 800.7L1059.1 802.7L1060.4 804.7L1061.6 806.7L1062.6 808.7L1063.6 810.7L1064.6 812.7L1065.9 814.7L1067.4 816.7L1068.9 818.7L1070.3 820.7L1071.2 822.7L1071.9 824.7L1072.9 826.7L1074 828.7L1074.9 830.7L1075.7 832.7L1076.9 834.7L1078.2 836.7L1079.2 838.7L1080 840.7L1081 842.7L1081.9 844.7L1082.2 846.7L1082.1 848.7L1082.1 850.7L1082.5 852.7L1083.7 854.7L1085.2 856.7L1086.6 858.7L1087.2 860.7L1087 862.7L1087.3 864.7L1088.2 866.7L1088.9 868.7L1089.3 870.7L1089.7 872.7L1090.5 874.7L1091.7 876.7L1092.8 878.7L1093.2 880.7L1093.4 882.7L1093.8 884.7L1094.3 886.7L1095.1 888.7L1096.1 890.7L1096.8 892.7L1097.2 894.7L1097.1 896.7L1096.8 898.7L1097 900.7L1098 902.7L1099 904.7" stroke="#808080" stroke-width="1.6" fill="none" stroke-linejoin="round"/><path d="M1081.7 694.7L1080.5 696.7L1079.3 698.7L1079 700.7L1079.8 702.7L1080.7 704.7L1081 706.7L1080.6 708.7L1080.1 710.7L1079.3 712.7L1078.7 714.7L1079.3 716.7L1080.3 718.7L1080.4 720.7L1079.8 722.7L1079.6 724.7L1080.3 726.7L1080.7 728.7L1080.5 730.7L1080.7 732.7L1081.1 734.7L1081.1 736.7L1080.6 738.7L1079.3 740.7L1079.5 742.7L1081.1 744.7L1081.8 746.7L1081.2 748.7L1080.1 750.7L1079.3 752.7L1079.2 754.7L1079.7 756.7L1080 758.7L1079.8 760.7L1079.8 762.7L1080.4 764.7L1080.7 766.7L1080.2 768.7L1079.6 770.7L1079.6 772.7L1079.5 774.7L1079.1 776.7L1078.5 778.7L1078.4 780.7L1078.6 782.7L1078.2 784.7L1077.5 786.7L1077.1 788.7L1076.9 790.7L1077 792.7L1077.7 794.7L1078.2 796.7L1078.3 798.7L1077.8 800.7L1077.2 802.7L1076.6 804.7L1075.7 806.7L1075 808.7L1074.8 810.7L1075.3 812.7L1076.5 814.7L1078.2 816.7L1080.4 818.7L1082.8 820.7L1084.6 822.7L1085.8 824.7L1086.8 826.7L1087.7 828.7L1088.7 830.7L1090 832.7L1091.7 834.7L1093.3 836.7L1094.6 838.7L1096.1 840.7L1097.5 842.7L1098.4 844.7L1098.8 846.7L1099.2 848.7L1099.6 850.7L1100.3 852.7L1101.5 854.7L1103 856.7L1104.7 858.7L1105.6 860.7L1105.7 862.7L1106.4 864.7L1107.7 866.7L1108.7 868.7L1109.3 870.7L1110.2 872.7L1111.4 874.7L1112.6 876.7L1113.5 878.7L1113.9 880.7L1114.5 882.7L1115.4 884.7L1116.3 886.7L1117.1 888.7L1117.9 890.7L1118.5 892.7L1118.7 894.7L1118.6 896.7L1118.8 898.7L1120 900.7L1120.8 902.7L1120.8 904.7" stroke="#808080" stroke-width="1.6" fill="none" stroke-linejoin="round"/><path d="M1103.7 694.7L1103.4 696.7L1102.5 698.7L1102.1 700.7L1102.7 702.7L1103.8 704.7L1104.4 706.7L1104.3 708.7L1103.5 710.7L1102.5 712.7L1101.8 714.7L1102.2 716.7L1102.8 718.7L1102.5 720.7L1101.4 722.7L1101.4 724.7L1102.6 726.7L1103.4 728.7L1103.4 730.7L1103.3 732.7L1103.4 734.7L1103.6 736.7L1103.2 738.7L1102.3 740.7L1102.8 742.7L1104.3 744.7L1105 746.7L1104.5 748.7L1103.5 750.7L1102.7 752.7L1102 754.7L1102 756.7L1102.5 758.7L1103 760.7L1103.1 762.7L1103.2 764.7L1103.3 766.7L1103.2 768.7L1103 770.7L1102.9 772.7L1102.6 774.7L1102.3 776.7L1102.3 778.7L1102.5 780.7L1102.4 782.7L1102 784.7L1101.6 786.7L1101 788.7L1100.3 790.7L1100.2 792.7L1100.9 794.7L1101.3 796.7L1101.2 798.7L1100.8 800.7L1100.1 802.7L1099.8 804.7L1099.6 806.7L1099 808.7L1098.3 810.7L1097.7 812.7L1097.4 814.7L1097.4 816.7L1097.2 818.7L1096.2 820.7L1095 822.7L1094.5 824.7L1095.4 826.7L1096.9 828.7L1098 830.7L1099.5 832.7L1101.7 834.7L1103.7 836.7L1105.5 838.7L1107.5 840.7L1109.2 842.7L1110.8 844.7L1111.7 846.7L1112.1 848.7L1113.1 850.7L1114.6 852.7L1116 854.7L1117.6 856.7L1119.7 858.7L1121.2 860.7L1121.7 862.7L1122.2 864.7L1123.5 866.7L1125.2 868.7L1126.7 870.7L1127.7 872.7L1128.7 874.7L1130 876.7L1131 878.7L1132 880.7L1133.4 882.7L1134.6 884.7L1135.4 886.7L1136.5 888.7L1137.9 890.7L1138.8 892.7L1139 894.7L1138.7 896.7L1138.8 898.7L1139.9 900.7L1141.5 902.7L1142.4 904.7" stroke="#606060" stroke-width="1.6" fill="none" stroke-linejoin="round"/><path d="M1128.9 694.7L1127.6 696.7L1126.2 698.7L1125.6 700.7L1126.5 702.7L1127.9 704.7L1128.4 706.7L1127.8 708.7L1126.9 710.7L1126.3 712.7L1125.9 714.7L1126.3 716.7L1126.8 718.7L1126.7 720.7L1126.3 722.7L1126.4 724.7L1126.9 726.7L1127.5 728.7L1127.7 730.7L1127.7 732.7L1127.6 734.7L1127.3 736.7L1126.8 738.7L1125.3 740.7L1125.1 742.7L1126.5 744.7L1127.4 746.7L1127 748.7L1126.3 750.7L1126 752.7L1126.3 754.7L1126.3 756.7L1125.9 758.7L1126 760.7L1126.7 762.7L1127.1 764.7L1126.6 766.7L1125.9 768.7L1125.8 770.7L1125.8 772.7L1125.4 774.7L1124.8 776.7L1124.7 778.7L1124.8 780.7L1124.5 782.7L1124.2 784.7L1124.2 786.7L1123.8 788.7L1123.3 790.7L1123.7 792.7L1124.3 794.7L1124.7 796.7L1124.5 798.7L1124 800.7L1123.4 802.7L1122.7 804.7L1121.5 806.7L1120.2 808.7L1119.4 810.7L1118.7 812.7L1118.1 814.7L1117.7 816.7L1117.2 818.7L1116.8 820.7L1115.9 822.7L1114.4 824.7L1113.6 826.7L1113.3 828.7L1112.8 830.7L1113.4 832.7L1115.6 834.7L1118 836.7L1119.9 838.7L1122.1 840.7L1124.5 842.7L1126.3 844.7L1127.5 846.7L1128.7 848.7L1129.9 850.7L1131.6 852.7L1133.8 854.7L1136 856.7L1138.2 858.7L1139.5 860.7L1140.1 862.7L1141.2 864.7L1142.9 866.7L1144.4 868.7L1145.2 870.7L1145.9 872.7L1147.3 874.7L1149.3 876.7L1151 878.7L1152 880.7L1152.6 882.7L1153.8 884.7L1155.1 886.7L1156.3 888.7L1157.5 890.7L1158.5 892.7L1159.3 894.7L1160 896.7L1160.5 898.7L1161.3 900.7L1162.4 902.7L1163.2 904.7" stroke="#606060" stroke-width="1.6" fill="none" stroke-linejoin="round"/><path d="M1150.3 694.7L1149.6 696.7L1148.4 698.7L1147.9 700.7L1149.1 702.7L1150.6 704.7L1151.1 706.7L1150.6 708.7L1149.7 710.7L1148.7 712.7L1147.8 714.7L1147.7 716.7L1148.3 718.7L1148.5 720.7L1148 722.7L1147.8 724.7L1148.6 726.7L1149.7 728.7L1149.7 730.7L1149.4 732.7L1149.8 734.7L1150.2 736.7L1149.9 738.7L1148.7 740.7L1148.7 742.7L1149.7 744.7L1149.9 746.7L1149.3 748.7L1148.6 750.7L1148.4 752.7L1148.3 754.7L1147.9 756.7L1147.6 758.7L1147.9 760.7L1147.9 762.7L1148 764.7L1148.1 766.7L1148 768.7L1147.9 770.7L1147.8 772.7L1147.6 774.7L1147 776.7L1146.5 778.7L1146.4 780.7L1146 782.7L1145.7 784.7L1145.3 786.7L1144.6 788.7L1144 790.7L1144.4 792.7L1145.3 794.7L1145.6 796.7L1145.4 798.7L1144.7 800.7L1143.9 802.7L1143.4 804.7L1142.8 806.7L1141.6 808.7L1140.2 810.7L1139.6 812.7L1139.5 814.7L1138.7 816.7L1137.6 818.7L1137.1 820.7L1136.4 822.7L1134.8 824.7L1133.3 826.7L1132.6 828.7L1131.8 830.7L1132 832.7L1133.8 834.7L1136.2 836.7L1138.7 838.7L1141.1 840.7L1143.3 842.7L1145.5 844.7L1147.2 846.7L1148.4 848.7L1149.8 850.7L1151.7 852.7L1153.8 854.7L1155.8 856.7L1157.8 858.7L1159.5 860.7L1160.3 862.7L1161.4 864.7L1163.3 866.7L1165.1 868.7L1166.2 870.7L1167.1 872.7L1168.8 874.7L1170.7 876.7L1172.2 878.7L1173.3 880.7L1174.2 882.7L1175.4 884.7L1176.5 886.7L1177.4 888.7L1178.7 890.7L1180.1 892.7L1181.1 894.7L1181.4 896.7L1181.7 898.7L1182.8 900.7L1184.2 902.7L1184.9 904.7" stroke="#606060" stroke-width="1.6" fill="none" stroke-linejoin="round"/><path d="M1173 694.7L1172.1 696.7L1171 698.7L1170.8 700.7L1171.7 702.7L1172.9 704.7L1173.2 706.7L1172.6 708.7L1171.5 710.7L1170.6 712.7L1170.1 714.7L1170.1 716.7L1170.4 718.7L1170.4 720.7L1169.9 722.7L1169.9 724.7L1170.9 726.7L1172 728.7L1172 730.7L1171.6 732.7L1171.7 734.7L1172.1 736.7L1172 738.7L1170.5 740.7L1170.3 742.7L1171.6 744.7L1172.4 746.7L1171.8 748.7L1170.6 750.7L1169.7 752.7L1169.4 754.7L1169.6 756.7L1169.9 758.7L1169.9 760.7L1170.2 762.7L1170.6 764.7L1170.7 766.7L1170.2 768.7L1169.5 770.7L1169.2 772.7L1169 774.7L1168.5 776.7L1168.5 778.7L1168.6 780.7L1168.5 782.7L1168.1 784.7L1167.6 786.7L1167 788.7L1166.2 790.7L1166.3 792.7L1166.9 794.7L1167.3 796.7L1167.3 798.7L1166.4 800.7L1165.4 802.7L1165.2 804.7L1164.6 806.7L1163.2 808.7L1162 810.7L1160.9 812.7L1160 814.7L1159.6 816.7L1159.2 818.7L1158.7 820.7L1158 822.7L1156.4 824.7L1154.1 826.7L1152.3 828.7L1151.2 830.7L1150.7 832.7L1151.2 834.7L1152.6 836.7L1155 838.7L1158.1 840.7L1161.1 842.7L1163.1 844.7L1164.6 846.7L1166.1 848.7L1167.5 850.7L1169.4 852.7L1172 854.7L1174.4 856.7L1176.7 858.7L1178.8 860.7L1180.2 862.7L1181.5 864.7L1183.3 866.7L1185.2 868.7L1186.4 870.7L1187.2 872.7L1188.8 874.7L1190.7 876.7L1192.5 878.7L1194 880.7L1195.3 882.7L1196.2 884.7L1197.2 886.7L1198.5 888.7L1200.1 890.7L1201.8 892.7L1202.5 894.7L1202.7 896.7L1203 898.7L1203.9 900.7L1205.1 902.7L1206 904.7" stroke="#1414f0" stroke-width="1.8" fill="none" stroke-linejoin="round"/><path d="M1197.7 694.7L1196.8 696.7L1195.5 698.7L1195 700.7L1195.5 702.7L1196.5 704.7L1197 706.7L1196.7 708.7L1195.6 710.7L1194.5 712.7L1194 714.7L1194.2 716.7L1194.6 718.7L1194.4 720.7L1193.7 722.7L1193.8 724.7L1195 726.7L1195.7 728.7L1195.3 730.7L1195.1 732.7L1195.4 734.7L1195.5 736.7L1195.3 738.7L1194.5 740.7L1194.5 742.7L1195.7 744.7L1196.2 746.7L1195.3 748.7L1194.3 750.7L1194 752.7L1193.8 754.7L1193.7 756.7L1193.9 758.7L1194.1 760.7L1194.2 762.7L1194 764.7L1193.6 766.7L1193.1 768.7L1192.6 770.7L1192.4 772.7L1192.1 774.7L1191.7 776.7L1191.5 778.7L1191.5 780.7L1191.4 782.7L1190.8 784.7L1190.4 786.7L1189.9 788.7L1189 790.7L1188.4 792.7L1188.9 794.7L1189.5 796.7L1189.3 798.7L1188.4 800.7L1187.1 802.7L1185.7 804.7L1184.6 806.7L1183.5 808.7L1182.5 810.7L1181.8 812.7L1181.3 814.7L1180.8 816.7L1179.8 818.7L1178.7 820.7L1177.6 822.7L1176 824.7L1174.1 826.7L1172.1 828.7L1170.5 830.7L1169.6 832.7L1170 834.7L1172 836.7L1174.8 838.7L1177.4 840.7L1179.9 842.7L1182 844.7L1183.5 846.7L1184.9 848.7L1186.4 850.7L1188.5 852.7L1191.2 854.7L1194 856.7L1196.7 858.7L1198.7 860.7L1199.7 862.7L1201.2 864.7L1203.3 866.7L1205.1 868.7L1206.4 870.7L1207.8 872.7L1209.4 874.7L1211.1 876.7L1212.7 878.7L1213.9 880.7L1214.9 882.7L1216.2 884.7L1217.7 886.7L1219 888.7L1220.5 890.7L1222.2 892.7L1223.3 894.7L1223.5 896.7L1223.8 898.7L1225.3 900.7L1227.3 902.7L1228.6 904.7" stroke="#303030" stroke-width="1.6" fill="none" stroke-linejoin="round"/><path d="M1218.6 694.7L1217.4 696.7L1216.3 698.7L1216 700.7L1216.4 702.7L1217.3 704.7L1218 706.7L1217.7 708.7L1216.7 710.7L1215.7 712.7L1215.1 714.7L1215.3 716.7L1216.1 718.7L1216.2 720.7L1215.4 722.7L1215.2 724.7L1216.4 726.7L1217.2 728.7L1216.9 730.7L1216.4 732.7L1216 734.7L1216 736.7L1216.1 738.7L1215.5 740.7L1215.5 742.7L1216.2 744.7L1216.2 746.7L1215.5 748.7L1215 750.7L1214.7 752.7L1214.3 754.7L1214.3 756.7L1214.5 758.7L1214.4 760.7L1214 762.7L1213.8 764.7L1214.2 766.7L1214.3 768.7L1213.7 770.7L1213.1 772.7L1212.7 774.7L1212.4 776.7L1212.2 778.7L1212 780.7L1211.8 782.7L1211.2 784.7L1210.2 786.7L1209.4 788.7L1208.9 790.7L1209 792.7L1209.5 794.7L1209.8 796.7L1209.5 798.7L1208.5 800.7L1207.4 802.7L1206.4 804.7L1205.4 806.7L1204.5 808.7L1203.5 810.7L1202.8 812.7L1202.2 814.7L1201.2 816.7L1199.9 818.7L1198.5 820.7L1197.3 822.7L1196.1 824.7L1195 826.7L1193.7 828.7L1191.9 830.7L1190.6 832.7L1190.4 834.7L1191.3 836.7L1192.9 838.7L1195.1 840.7L1197.5 842.7L1200.1 844.7L1202.4 846.7L1204.2 848.7L1205.8 850.7L1207.8 852.7L1210.6 854.7L1213.5 856.7L1215.9 858.7L1217.3 860.7L1218.1 862.7L1219.8 864.7L1222.2 866.7L1224.2 868.7L1225.6 870.7L1227.1 872.7L1229 874.7L1231.1 876.7L1233.1 878.7L1234.9 880.7L1236.5 882.7L1237.9 884.7L1239 886.7L1240.3 888.7L1241.8 890.7L1243.2 892.7L1244.3 894.7L1244.9 896.7L1245.8 898.7L1247.3 900.7L1248.2 902.7L1248.5 904.7" stroke="#303030" stroke-width="1.6" fill="none" stroke-linejoin="round"/><path d="M1241.2 694.7L1239.8 696.7L1238.4 698.7L1237.9 700.7L1238.6 702.7L1239.8 704.7L1240.4 706.7L1240.2 708.7L1238.9 710.7L1237.1 712.7L1236.4 714.7L1236.8 716.7L1237.6 718.7L1237.8 720.7L1237.3 722.7L1237.2 724.7L1238 726.7L1239 728.7L1239.2 730.7L1239.1 732.7L1239.1 734.7L1239 736.7L1238.4 738.7L1237.2 740.7L1237.4 742.7L1238.8 744.7L1239.3 746.7L1238.6 748.7L1237.3 750.7L1236.2 752.7L1235.8 754.7L1235.9 756.7L1236.2 758.7L1236.3 760.7L1236.3 762.7L1236.1 764.7L1235.8 766.7L1235.4 768.7L1234.9 770.7L1234.6 772.7L1234 774.7L1233.2 776.7L1233.2 778.7L1233.5 780.7L1232.7 782.7L1231.5 784.7L1230.6 786.7L1229.8 788.7L1229.3 790.7L1228.9 792.7L1228.9 794.7L1228.7 796.7L1228.2 798.7L1227.9 800.7L1227.2 802.7L1226.5 804.7L1225.6 806.7L1224.2 808.7L1222.9 810.7L1221.8 812.7L1220.7 814.7L1219.3 816.7L1217.9 818.7L1216.9 820.7L1216.2 822.7L1214.9 824.7L1213.4 826.7L1212.3 828.7L1211.1 830.7L1210.4 832.7L1210.7 834.7L1211.9 836.7L1213.7 838.7L1216.2 840.7L1219 842.7L1221.6 844.7L1223.9 846.7L1225.4 848.7L1226.9 850.7L1229.1 852.7L1231.7 854.7L1234.5 856.7L1237.3 858.7L1239.5 860.7L1241 862.7L1242.5 864.7L1244.3 866.7L1246.5 868.7L1248.5 870.7L1250.5 872.7L1252.7 874.7L1254.5 876.7L1255.6 878.7L1256.5 880.7L1257.6 882.7L1259.2 884.7L1260.7 886.7L1261.9 888.7L1263.5 890.7L1265.4 892.7L1266.6 894.7L1267.1 896.7L1267.9 898.7L1269.5 900.7L1270.8 902.7L1271.2 904.7" stroke="#101010" stroke-width="1.6" fill="none" stroke-linejoin="round"/><path d="M1263.1 694.7L1261.4 696.7L1260.1 698.7L1260.2 700.7L1261.4 702.7L1262.5 704.7L1262.9 706.7L1262.5 708.7L1261.3 710.7L1260 712.7L1259.3 714.7L1259.2 716.7L1259.3 718.7L1259.3 720.7L1259.2 722.7L1259.7 724.7L1260.4 726.7L1260.9 728.7L1260.6 730.7L1260 732.7L1260 734.7L1260.3 736.7L1260.1 738.7L1258.8 740.7L1258.9 742.7L1260.1 744.7L1260.4 746.7L1259.5 748.7L1258.4 750.7L1257.8 752.7L1257.1 754.7L1256.7 756.7L1257.1 758.7L1257.3 760.7L1257.3 762.7L1257.2 764.7L1256.7 766.7L1255.5 768.7L1254.5 770.7L1254.1 772.7L1253.7 774.7L1253.1 776.7L1252.6 778.7L1252.7 780.7L1252.5 782.7L1251.5 784.7L1250.4 786.7L1249.7 788.7L1249.2 790.7L1249 792.7L1249.3 794.7L1249.3 796.7L1248.8 798.7L1247.6 800.7L1246.4 802.7L1245.2 804.7L1243.9 806.7L1242.1 808.7L1240.4 810.7L1239 812.7L1237.8 814.7L1236.7 816.7L1236 818.7L1235.3 820.7L1233.8 822.7L1231.8 824.7L1230.1 826.7L1228.8 828.7L1227.6 830.7L1227.7 832.7L1229.3 834.7L1231.2 836.7L1233 838.7L1235 840.7L1237.2 842.7L1239.5 844.7L1241.7 846.7L1243.4 848.7L1244.8 850.7L1246.6 852.7L1249.3 854.7L1252.3 856.7L1255.1 858.7L1257.5 860.7L1259.1 862.7L1260.7 864.7L1262.7 866.7L1264.8 868.7L1266.4 870.7L1267.6 872.7L1269 874.7L1270.9 876.7L1272.7 878.7L1274.1 880.7L1275.4 882.7L1277.1 884.7L1278.9 886.7L1280.7 888.7L1282.2 890.7L1283.6 892.7L1284.6 894.7L1285 896.7L1285.6 898.7L1286.9 900.7L1288.1 902.7L1289 904.7" stroke="#101010" stroke-width="1.6" fill="none" stroke-linejoin="round"/><path d="M1284.3 694.7L1282.9 696.7L1281.4 698.7L1280.8 700.7L1281.9 702.7L1283.3 704.7L1283.6 706.7L1282.9 708.7L1281.8 710.7L1280.6 712.7L1280.1 714.7L1280.4 716.7L1281 718.7L1280.7 720.7L1279.9 722.7L1279.7 724.7L1280.5 726.7L1281.3 728.7L1281 730.7L1280.9 732.7L1281.2 734.7L1281.1 736.7L1280.4 738.7L1279 740.7L1278.8 742.7L1279.8 744.7L1279.9 746.7L1278.9 748.7L1278 750.7L1277.8 752.7L1277.8 754.7L1277.6 756.7L1277.1 758.7L1276.4 760.7L1276 762.7L1275.7 764.7L1275.6 766.7L1275.5 768.7L1274.9 770.7L1274 772.7L1273 774.7L1272.1 776.7L1271.6 778.7L1271.2 780.7L1270.5 782.7L1269.5 784.7L1268.3 786.7L1267 788.7L1266.1 790.7L1265.8 792.7L1266 794.7L1265.7 796.7L1264.7 798.7L1263.4 800.7L1262.2 802.7L1260.9 804.7L1259.4 806.7L1257.8 808.7L1256.5 810.7L1255 812.7L1253.4 814.7L1251.9 816.7L1250.7 818.7L1249.7 820.7L1248.8 822.7L1248.2 824.7L1248.5 826.7L1249.6 828.7L1251 830.7L1252.9 832.7L1255.4 834.7L1258.4 836.7L1261.3 838.7L1263.8 840.7L1266.2 842.7L1268.3 844.7L1269.7 846.7L1270.7 848.7L1272.1 850.7L1274.1 852.7L1276.3 854.7L1278.5 856.7L1281.2 858.7L1283.5 860.7L1284.8 862.7L1286 864.7L1287.9 866.7L1289.8 868.7L1291.3 870.7L1292.9 872.7L1294.3 874.7L1295.5 876.7L1296.6 878.7L1297.9 880.7L1299.7 882.7L1301.2 884.7L1302.5 886.7L1304 888.7L1305.4 890.7L1306.3 892.7L1306.6 894.7L1307 896.7L1307.9 898.7L1309.1 900.7L1310.6 902.7L1312 904.7" stroke="#101010" stroke-width="1.6" fill="none" stroke-linejoin="round"/><path d="M1303.5 694.7L1302.9 696.7L1302 698.7L1301.3 700.7L1301.5 702.7L1302.4 704.7L1302.9 706.7L1302.5 708.7L1301.8 710.7L1300.8 712.7L1299.8 714.7L1299.9 716.7L1300.5 718.7L1300.5 720.7L1299.5 722.7L1299 724.7L1299.7 726.7L1300.3 728.7L1300 730.7L1299.4 732.7L1299.2 734.7L1299.3 736.7L1298.9 738.7L1297.5 740.7L1297.6 742.7L1298.8 744.7L1299.2 746.7L1298.4 748.7L1297 750.7L1296.1 752.7L1295.7 754.7L1295.2 756.7L1294.6 758.7L1294.4 760.7L1294.4 762.7L1294.6 764.7L1294.4 766.7L1293.4 768.7L1292.2 770.7L1291.4 772.7L1290.6 774.7L1289.7 776.7L1289.1 778.7L1289.2 780.7L1288.5 782.7L1286.7 784.7L1285.6 786.7L1284.9 788.7L1284 790.7L1283.5 792.7L1283.3 794.7L1282.9 796.7L1281.8 798.7L1280.5 800.7L1279 802.7L1277.4 804.7L1275.7 806.7L1274.4 808.7L1273.1 810.7L1271.6 812.7L1270.2 814.7L1269.4 816.7L1268.9 818.7L1269.2 820.7L1269.6 822.7L1269.9 824.7L1270.9 826.7L1273 828.7L1274.9 830.7L1276.9 832.7L1279.4 834.7L1281.8 836.7L1284.3 838.7L1287.2 840.7L1290 842.7L1292.3 844.7L1293.8 846.7L1294.7 848.7L1296.1 850.7L1297.8 852.7L1299.7 854.7L1301.8 856.7L1304.2 858.7L1306.1 860.7L1307.2 862.7L1308.3 864.7L1310 866.7L1311.9 868.7L1313.4 870.7L1314.8 872.7L1316.2 874.7L1317.9 876.7L1319.5 878.7L1320.7 880.7L1321.8 882.7L1323.1 884.7L1324.2 886.7L1325.4 888.7L1326.8 890.7L1328.1 892.7L1328.8 894.7L1328.9 896.7L1329.3 898.7L1330.3 900.7L1331.8 902.7L1332.9 904.7" stroke="#101010" stroke-width="1.6" fill="none" stroke-linejoin="round"/><path d="M1321.4 694.7L1320.6 696.7L1319.4 698.7L1319.1 700.7L1320.2 702.7L1321.4 704.7L1321.7 706.7L1321.1 708.7L1319.8 710.7L1318.4 712.7L1317.5 714.7L1317.5 716.7L1318.2 718.7L1318.1 720.7L1317.1 722.7L1316.7 724.7L1317.3 726.7L1317.5 728.7L1316.6 730.7L1315.6 732.7L1315.6 734.7L1316 736.7L1315.8 738.7L1314.5 740.7L1314.4 742.7L1315.6 744.7L1315.6 746.7L1314.3 748.7L1313.2 750.7L1312.3 752.7L1311.4 754.7L1310.8 756.7L1310.6 758.7L1310.2 760.7L1309.6 762.7L1309.2 764.7L1309 766.7L1308.2 768.7L1306.9 770.7L1305.8 772.7L1304.4 774.7L1303.2 776.7L1302.6 778.7L1301.8 780.7L1300.6 782.7L1299.4 784.7L1298.3 786.7L1296.8 788.7L1295 790.7L1293.8 792.7L1293.6 794.7L1293.5 796.7L1292.5 798.7L1291.1 800.7L1290 802.7L1289.6 804.7L1289.8 806.7L1290.3 808.7L1291.6 810.7L1293.2 812.7L1295 814.7L1297.3 816.7L1299.6 818.7L1301.9 820.7L1304.2 822.7L1306.1 824.7L1308.3 826.7L1310.2 828.7L1311.9 830.7L1313.9 832.7L1316.2 834.7L1318.3 836.7L1320.2 838.7L1322.1 840.7L1324.2 842.7L1325.7 844.7L1326.7 846.7L1327.2 848.7L1327.6 850.7L1328.7 852.7L1330.5 854.7L1332.7 856.7L1334.9 858.7L1336.5 860.7L1337.2 862.7L1337.9 864.7L1339.4 866.7L1340.9 868.7L1342.1 870.7L1343 872.7L1343.6 874.7L1344.5 876.7L1345.5 878.7L1346.5 880.7L1347.9 882.7L1349.2 884.7L1349.9 886.7L1350.7 888.7L1351.8 890.7L1352.8 892.7L1353.1 894.7L1352.6 896.7L1352.3 898.7L1353.2 900.7L1354.8 902.7L1355.7 904.7" stroke="#101010" stroke-width="1.6" fill="none" stroke-linejoin="round"/></g><circle cx="987.3" cy="741.9" r="4.2" fill="#ff7f0e"/><circle cx="1013.2" cy="763.2" r="4.2" fill="#ff7f0e"/><circle cx="1036.7" cy="782.8" r="4.2" fill="#ff7f0e"/><circle cx="1058.3" cy="793.5" r="4.2" fill="#ff7f0e"/><circle cx="1080" cy="810.9" r="4.2" fill="#ff7f0e"/><circle cx="1099.6" cy="826.2" r="4.2" fill="#ff7f0e"/><circle cx="1117" cy="831.1" r="4.2" fill="#ff7f0e"/><circle cx="1136.2" cy="831.8" r="4.2" fill="#ff7f0e"/><circle cx="1155.4" cy="834.3" r="4.2" fill="#ff7f0e"/><circle cx="1174.2" cy="834.3" r="4.2" fill="#ff7f0e"/><circle cx="1194.1" cy="835.8" r="4.2" fill="#ff7f0e"/><circle cx="1213" cy="834.7" r="4.2" fill="#ff7f0e"/><circle cx="1234.6" cy="833.3" r="4.2" fill="#ff7f0e"/><circle cx="1254.9" cy="826.2" r="4.2" fill="#444"/><circle cx="1275.2" cy="822.6" r="4.2" fill="#444"/><circle cx="1296.5" cy="806.3" r="4.2" fill="#444"/><path d="M979 715.3H1332" stroke="#ff0000" stroke-width="1.5" fill="none"/><path d="M1341.7 715.3l-11.5 -4v8z" fill="#ff0000"/><path d="M956 746.2h9.3M1378.7 746.2h-9.3M956 800.2h9.3M1378.7 800.2h-9.3M956 852.8h9.3M1378.7 852.8h-9.3" stroke="#000" stroke-width="3.2" fill="none"/><rect x="956.0" y="694.7" width="422.7" height="210.7" fill="none" stroke="#000" stroke-width="1.9"/><text transform="translate(944.8 711) scale(1 1.04)" font-size="31.6" text-anchor="end">14</text><text transform="translate(944.8 812.3) scale(1 1.04)" font-size="31.6" text-anchor="end">10</text><text transform="translate(932.5 909.3) scale(1 1.04)" font-size="31.6" text-anchor="middle">6</text><text transform="translate(950.2 687.3) scale(1 1.04)" font-size="33.2">175mT</text><text transform="translate(1120 687.5) scale(1 1.04)" font-size="33">240mT</text><text transform="translate(1279.5 687.5) scale(1 1.04)" font-size="33">340mT</text><text transform="translate(891 801.3) rotate(-90) scale(1 1.04)" font-size="33.3" text-anchor="middle"><tspan font-style="italic">f</tspan> (GHz)</text><text transform="translate(1162 954.4) scale(1 1.04)" font-size="40.5" text-anchor="middle">|<tspan font-style="italic">S</tspan><tspan font-style="italic" font-size="22.7" dy="6.9">12</tspan><tspan dy="-6.9">| (arb. units)</tspan></text></g>
<g id="labels" font-weight="bold"><text transform="translate(15 34.5) scale(0.93 1.04)" font-size="46">a</text><text transform="translate(572.3 34.5) scale(1.15 1.04)" font-size="46">b</text><text transform="translate(866.2 34.8) scale(1.05 1.04)" font-size="46">d</text><text transform="translate(1419.5 34.6) scale(1.04 1.04)" font-size="46">e</text><text transform="translate(14.6 648.1) scale(1.0 1.04)" font-size="46">c</text><text transform="translate(871.5 666.6) scale(1.08 1.04)" font-size="46">f</text></g>
<g id="annot"><path d="M706 607.8V681.2" stroke="#111" stroke-width="1.8" fill="none"/><path d="M706 587.5l12.2 21.299999999999955h-24.4z" fill="#111"/><text transform="translate(688.3 713.8) scale(1 1.04)" font-size="33.5" text-anchor="middle">Derived</text><text transform="translate(693 753.6) scale(1 1.04)" font-size="33.5" text-anchor="middle">field sweep</text><path d="M550 835H622.4" stroke="#111" stroke-width="1.8" fill="none"/><path d="M530.1 835l20.899999999999977 -12.2v24.4z" fill="#111"/><text transform="translate(688.9 847.5) scale(1 1.04)" font-size="33.5" text-anchor="middle">Raw</text><text transform="translate(692.9 887.5) scale(1 1.04)" font-size="33.5" text-anchor="middle">frequency sweep</text><path d="M1575.3 607.8V681.2" stroke="#111" stroke-width="1.8" fill="none"/><path d="M1575.3 587.5l12.2 21.299999999999955h-24.4z" fill="#111"/><text transform="translate(1569.9 713.8) scale(1 1.04)" font-size="33.5" text-anchor="middle">Raw</text><text transform="translate(1574.3 753.6) scale(1 1.04)" font-size="33.5" text-anchor="middle">field sweep</text><path d="M1402.9 835H1475.4" stroke="#111" stroke-width="1.8" fill="none"/><path d="M1383 835l20.90000000000009 -12.2v24.4z" fill="#111"/><text transform="translate(1560.7 847.5) scale(1 1.04)" font-size="33.5" text-anchor="middle">Derived</text><text transform="translate(1565.3 887.5) scale(1 1.04)" font-size="33.5" text-anchor="middle">frequency sweep</text></g></svg></body></html>
